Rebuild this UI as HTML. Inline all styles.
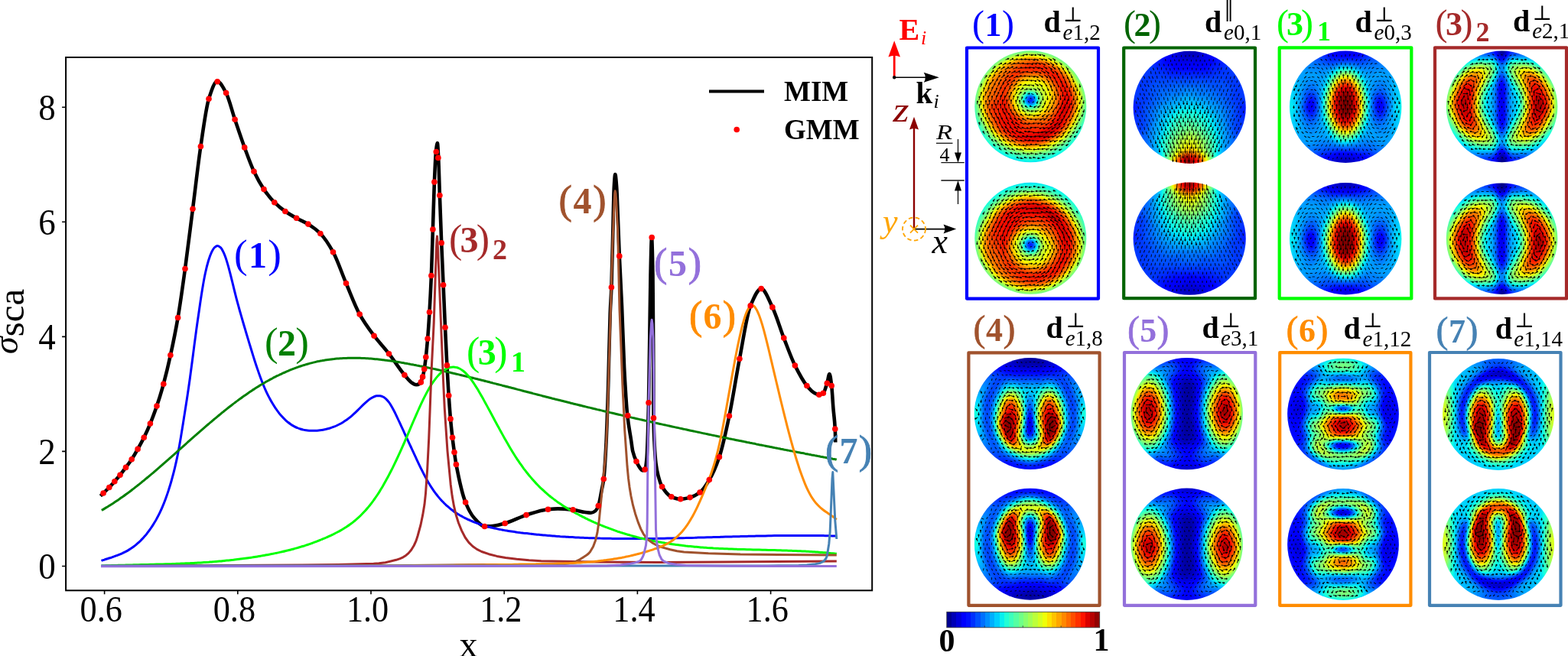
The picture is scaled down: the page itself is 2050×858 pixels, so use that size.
<!DOCTYPE html>
<html><head><meta charset="utf-8"><style>
html,body{margin:0;padding:0;background:#fff;}
svg{display:block;}
text{font-family:"Liberation Serif", "DejaVu Serif", serif;}
</style></head><body>
<svg width="2050" height="858" viewBox="0 0 2050 858">
<defs><filter id="jet" x="-5%" y="-5%" width="110%" height="110%" color-interpolation-filters="sRGB"><feGaussianBlur stdDeviation="0.500"/><feComponentTransfer><feFuncR type="table" tableValues="0 0 0 0 0 0 0 0 0 0 0 0 0 0 0 0.081 0.161 0.242 0.323 0.403 0.484 0.565 0.645 0.726 0.806 0.887 0.968 1 1 1 1 1 1 1 1 1 0.955 0.841 0.727 0.614 0.5"/><feFuncG type="table" tableValues="0 0 0 0 0 0 0.1 0.2 0.3 0.4 0.5 0.6 0.7 0.8 0.9 1 1 1 1 1 1 1 1 1 1 1 0.963 0.87 0.778 0.685 0.593 0.5 0.407 0.315 0.222 0.13 0.037 0 0 0 0"/><feFuncB type="table" tableValues="0.5 0.614 0.727 0.841 0.955 1 1 1 1 1 1 1 1 1 0.968 0.887 0.806 0.726 0.645 0.565 0.484 0.403 0.323 0.242 0.161 0.081 0 0 0 0 0 0 0 0 0 0 0 0 0 0 0"/><feFuncA type="table" tableValues="1 1"/></feComponentTransfer></filter><linearGradient id="cbg" x1="0" x2="1" y1="0" y2="0"><stop offset="0.0000" stop-color="#000092"/><stop offset="0.0312" stop-color="#000092"/><stop offset="0.0312" stop-color="#0000b6"/><stop offset="0.0625" stop-color="#0000b6"/><stop offset="0.0625" stop-color="#0000da"/><stop offset="0.0938" stop-color="#0000da"/><stop offset="0.0938" stop-color="#0000fe"/><stop offset="0.1250" stop-color="#0000fe"/><stop offset="0.1250" stop-color="#0010ff"/><stop offset="0.1562" stop-color="#0010ff"/><stop offset="0.1562" stop-color="#0030ff"/><stop offset="0.1875" stop-color="#0030ff"/><stop offset="0.1875" stop-color="#0050ff"/><stop offset="0.2188" stop-color="#0050ff"/><stop offset="0.2188" stop-color="#0070ff"/><stop offset="0.2500" stop-color="#0070ff"/><stop offset="0.2500" stop-color="#008fff"/><stop offset="0.2812" stop-color="#008fff"/><stop offset="0.2812" stop-color="#00afff"/><stop offset="0.3125" stop-color="#00afff"/><stop offset="0.3125" stop-color="#00cfff"/><stop offset="0.3438" stop-color="#00cfff"/><stop offset="0.3438" stop-color="#08efef"/><stop offset="0.3750" stop-color="#08efef"/><stop offset="0.3750" stop-color="#21ffd5"/><stop offset="0.4062" stop-color="#21ffd5"/><stop offset="0.4062" stop-color="#3bffbc"/><stop offset="0.4375" stop-color="#3bffbc"/><stop offset="0.4375" stop-color="#55ffa2"/><stop offset="0.4688" stop-color="#55ffa2"/><stop offset="0.4688" stop-color="#6fff88"/><stop offset="0.5000" stop-color="#6fff88"/><stop offset="0.5000" stop-color="#88ff6f"/><stop offset="0.5312" stop-color="#88ff6f"/><stop offset="0.5312" stop-color="#a2ff55"/><stop offset="0.5625" stop-color="#a2ff55"/><stop offset="0.5625" stop-color="#bcff3b"/><stop offset="0.5938" stop-color="#bcff3b"/><stop offset="0.5938" stop-color="#d5ff21"/><stop offset="0.6250" stop-color="#d5ff21"/><stop offset="0.6250" stop-color="#effe08"/><stop offset="0.6562" stop-color="#effe08"/><stop offset="0.6562" stop-color="#ffe100"/><stop offset="0.6875" stop-color="#ffe100"/><stop offset="0.6875" stop-color="#ffc300"/><stop offset="0.7188" stop-color="#ffc300"/><stop offset="0.7188" stop-color="#ffa600"/><stop offset="0.7500" stop-color="#ffa600"/><stop offset="0.7500" stop-color="#ff8800"/><stop offset="0.7812" stop-color="#ff8800"/><stop offset="0.7812" stop-color="#ff6b00"/><stop offset="0.8125" stop-color="#ff6b00"/><stop offset="0.8125" stop-color="#ff4d00"/><stop offset="0.8438" stop-color="#ff4d00"/><stop offset="0.8438" stop-color="#ff3000"/><stop offset="0.8750" stop-color="#ff3000"/><stop offset="0.8750" stop-color="#fe1200"/><stop offset="0.9062" stop-color="#fe1200"/><stop offset="0.9062" stop-color="#da0000"/><stop offset="0.9375" stop-color="#da0000"/><stop offset="0.9375" stop-color="#b60000"/><stop offset="0.9688" stop-color="#b60000"/><stop offset="0.9688" stop-color="#920000"/><stop offset="1.0000" stop-color="#920000"/></linearGradient></defs>
<rect width="2050" height="858" fill="#fff"/>
<rect x="86.1" y="75.0" width="1054.1" height="697.3" fill="none" stroke="#000" stroke-width="2"/>
<text x="132.2" y="813.3" text-anchor="middle" font-size="48" textLength="55.3" lengthAdjust="spacingAndGlyphs">0.6</text>
<text x="306.4" y="813.3" text-anchor="middle" font-size="48" textLength="55.3" lengthAdjust="spacingAndGlyphs">0.8</text>
<text x="480.6" y="813.3" text-anchor="middle" font-size="48" textLength="55.3" lengthAdjust="spacingAndGlyphs">1.0</text>
<text x="654.8" y="813.3" text-anchor="middle" font-size="48" textLength="55.3" lengthAdjust="spacingAndGlyphs">1.2</text>
<text x="829.0" y="813.3" text-anchor="middle" font-size="48" textLength="55.3" lengthAdjust="spacingAndGlyphs">1.4</text>
<text x="1003.2" y="813.3" text-anchor="middle" font-size="48" textLength="55.3" lengthAdjust="spacingAndGlyphs">1.6</text>
<text x="61.5" y="757.1" text-anchor="middle" font-size="48" textLength="22.5" lengthAdjust="spacingAndGlyphs">0</text>
<text x="61.5" y="607.0" text-anchor="middle" font-size="48" textLength="22.5" lengthAdjust="spacingAndGlyphs">2</text>
<text x="61.5" y="457.0" text-anchor="middle" font-size="48" textLength="22.5" lengthAdjust="spacingAndGlyphs">4</text>
<text x="61.5" y="306.9" text-anchor="middle" font-size="48" textLength="22.5" lengthAdjust="spacingAndGlyphs">6</text>
<text x="61.5" y="156.9" text-anchor="middle" font-size="48" textLength="22.5" lengthAdjust="spacingAndGlyphs">8</text>
<path d="M136.6 772.3v5M310.8 772.3v5M485.0 772.3v5M659.2 772.3v5M833.4 772.3v5M1007.6 772.3v5M86.1 740.5h-5M86.1 590.4h-5M86.1 440.4h-5M86.1 290.3h-5M86.1 140.3h-5" stroke="#000" stroke-width="1.6" fill="none"/>
<text x="612.5" y="859" text-anchor="middle" font-size="48">x</text>
<text transform="translate(22.5 463) rotate(-90)" font-size="46"><tspan font-style="italic">σ</tspan><tspan dy="8" font-size="49">sca</tspan></text>
<path d="M131.4 648.6C132.6 647.4 133.9 646.2 135.1 645.0C137.7 642.5 140.2 640.2 142.8 637.5C145.1 635.1 147.5 632.4 149.8 629.7C152.2 626.9 154.6 624.2 157.0 621.2C159.5 618.1 162.0 614.8 164.5 611.4C167.1 607.9 169.6 604.6 172.2 600.7C174.8 596.7 177.5 592.1 180.1 587.4C182.8 582.6 185.5 577.8 188.2 572.3C190.9 566.8 193.7 560.7 196.4 554.1C199.3 547.2 202.1 539.5 205.0 531.1C207.9 522.5 210.9 512.9 213.8 502.2C216.8 491.1 219.9 478.4 222.9 464.6C226.1 449.9 229.4 434.3 232.6 415.5C235.7 397.3 238.9 374.3 242.0 351.5C245.3 327.2 248.7 299.3 252.0 273.2C255.5 246.0 258.9 214.8 262.4 191.5C265.9 167.7 269.5 140.1 273.0 129.2C276.7 117.9 280.3 106.3 284.0 106.3C287.9 106.3 291.7 114.5 295.6 121.6C299.4 128.6 303.3 145.0 307.1 156.3C311.3 168.7 315.5 181.5 319.7 192.9C323.8 204.0 327.9 215.7 332.0 224.3C336.3 233.4 340.7 241.2 345.0 247.6C349.6 254.4 354.2 260.1 358.8 264.7C363.5 269.4 368.2 273.2 372.9 276.5C377.8 279.9 382.7 282.6 387.6 285.3C392.7 288.1 397.8 290.0 402.9 293.1C408.2 296.4 413.6 300.1 418.9 305.5C424.4 311.1 430.0 319.7 435.5 329.7C441.2 340.0 446.8 357.2 452.5 370.5C458.4 384.3 464.3 400.4 470.2 411.1C476.5 422.5 482.8 430.8 489.1 439.2C495.6 447.8 502.0 454.4 508.5 462.7C515.3 471.4 522.1 482.4 528.9 490.5C531.9 494.1 535.0 498.3 538.0 500.3C540.0 501.6 542.1 503.3 544.1 503.3C545.7 503.3 547.4 502.6 549.0 501.5C550.2 500.7 551.4 496.8 552.6 492.9C553.3 490.6 554.0 486.9 554.7 482.8C555.4 478.7 556.1 473.1 556.8 467.0C557.6 460.3 558.3 452.4 559.1 443.1C559.9 433.4 560.7 421.7 561.5 408.3C562.3 394.9 563.1 379.8 563.9 360.5C564.6 344.4 565.2 320.4 565.9 300.0C566.6 279.6 567.2 253.9 567.9 238.1C568.6 221.5 569.3 204.2 570.0 198.0C570.6 192.4 571.3 187.0 571.9 187.0C572.3 187.0 572.8 198.0 573.2 206.4C573.8 217.4 574.3 239.6 574.9 255.5C575.7 277.0 576.4 298.8 577.2 317.8C578.0 337.7 578.8 354.4 579.6 372.8C580.4 391.2 581.2 410.8 582.0 428.3C582.8 445.8 583.6 462.9 584.4 477.9C585.2 492.3 585.9 505.8 586.7 517.3C587.5 528.8 588.2 539.2 589.0 547.9C589.8 557.3 590.7 565.1 591.5 572.3C592.3 579.5 593.2 585.7 594.0 591.6C594.8 597.3 595.6 603.2 596.4 607.5C600.5 629.1 604.5 646.9 608.6 657.0C612.4 666.4 616.2 673.3 620.0 677.5C624.5 682.6 629.1 688.3 633.6 688.3C636.1 688.3 638.5 688.3 641.0 688.3C647.4 688.3 653.8 686.1 660.2 684.5C669.5 682.1 678.8 676.5 688.1 673.6C697.6 670.6 707.0 667.1 716.5 666.2C720.8 665.8 725.0 665.4 729.3 665.4C735.9 665.4 742.5 666.1 749.1 666.8C754.4 667.4 759.7 669.3 765.0 670.0C767.5 670.3 770.0 670.8 772.5 670.8C774.3 670.8 776.2 669.8 778.0 668.5C779.4 667.5 780.9 665.0 782.3 661.5C783.7 658.1 785.1 648.7 786.5 641.6C787.4 636.9 788.4 633.8 789.3 626.5C790.3 618.7 791.3 602.2 792.3 583.3C793.3 565.0 794.2 534.6 795.2 503.9C796.0 477.4 796.9 431.5 797.7 410.0C798.3 395.4 798.8 390.6 799.4 375.7C800.1 356.5 800.9 318.0 801.6 290.0C802.0 274.7 802.4 252.1 802.8 245.0C803.3 236.1 803.8 228.0 804.3 228.0C804.9 228.0 805.6 236.7 806.2 245.0C806.7 251.6 807.2 267.7 807.7 280.0C808.4 297.2 809.1 318.7 809.8 334.9C810.9 359.5 811.9 375.7 813.0 400.0C814.0 423.5 815.1 460.0 816.1 480.0C817.5 507.1 818.9 530.5 820.3 543.6C821.9 558.2 823.4 564.6 825.0 575.0C825.8 580.1 826.5 587.1 827.3 590.3C828.9 596.8 830.4 600.2 832.0 603.6C833.7 607.3 835.3 610.5 837.0 612.5C838.0 613.8 839.1 615.5 840.1 615.5C841.1 615.5 842.1 615.0 843.1 614.1C843.9 613.4 844.7 607.9 845.5 600.0C846.0 595.1 846.5 579.7 847.0 565.0C847.3 555.2 847.7 542.6 848.0 526.8C848.4 507.8 848.8 476.6 849.2 450.0C849.6 421.2 850.1 379.4 850.5 360.0C851.0 337.6 851.5 311.0 852.0 311.0C852.5 311.0 853.0 331.9 853.5 360.0C853.7 373.1 854.0 404.5 854.2 450.0C854.3 469.5 854.4 540.2 854.5 546.8C854.9 570.8 855.2 572.9 855.6 580.0C856.2 592.3 856.9 601.0 857.5 606.0C858.5 613.9 859.5 618.2 860.5 622.0C862.2 628.5 863.9 633.6 865.6 636.5C869.7 643.3 873.7 648.1 877.8 649.8C881.8 651.4 885.7 652.8 889.7 652.8C893.8 652.8 898.0 651.7 902.1 650.6C906.4 649.5 910.7 647.2 915.0 644.0C919.1 641.0 923.2 634.5 927.3 627.6C931.7 620.3 936.0 610.5 940.4 597.7C944.7 585.0 949.1 564.5 953.4 544.0C957.9 522.7 962.4 492.5 966.9 469.2C971.7 444.5 976.4 411.3 981.2 399.9C985.9 388.7 990.5 377.6 995.2 377.6C1000.1 377.6 1005.0 391.9 1009.9 401.9C1014.9 412.1 1019.8 429.3 1024.8 442.1C1029.7 454.6 1034.5 468.3 1039.4 478.1C1044.6 488.5 1049.7 498.2 1054.9 504.5C1057.9 508.2 1061.0 511.8 1064.0 513.5C1066.3 514.8 1068.6 516.3 1070.9 516.3C1072.7 516.3 1074.5 515.4 1076.3 514.2C1078.0 513.1 1079.6 506.4 1081.3 501.2C1082.4 497.9 1083.4 489.0 1084.5 489.0C1085.4 489.0 1086.3 497.2 1087.2 504.5C1088.0 510.7 1088.7 525.6 1089.5 535.0C1090.3 544.4 1091.0 546.4 1091.8 561.1C1092.0 564.3 1092.1 572.7 1092.3 578.5" fill="none" stroke="#000" stroke-width="4.6" stroke-linejoin="round"/>
<path d="M132.5 733.4C133.8 732.9 135.2 732.5 136.5 732.1C137.8 731.6 139.2 731.2 140.5 730.8C141.8 730.3 143.2 729.9 144.5 729.5C145.8 729.0 147.2 728.6 148.5 728.1C149.8 727.7 151.2 727.2 152.5 726.7C153.8 726.2 155.2 725.7 156.5 725.1C157.8 724.6 159.2 724.0 160.5 723.4C161.8 722.7 163.2 722.1 164.5 721.4C165.8 720.7 167.2 719.9 168.5 719.1C169.8 718.3 171.2 717.4 172.5 716.5C173.8 715.6 175.2 714.6 176.5 713.6C177.8 712.5 179.2 711.4 180.5 710.2C181.8 709.0 183.2 707.8 184.5 706.4C185.8 705.1 187.2 703.7 188.5 702.1C189.8 700.6 191.2 699.0 192.5 697.3C193.8 695.6 195.2 693.8 196.5 691.9C197.8 690.0 199.2 688.0 200.5 685.9C201.8 683.7 203.2 681.5 204.5 679.1C205.8 676.7 207.2 674.2 208.5 671.4C209.8 668.7 211.2 665.8 212.5 662.6C213.8 659.5 215.2 656.1 216.5 652.5C217.8 648.9 219.2 645.0 220.5 640.9C221.8 636.7 223.2 632.3 224.5 627.5C225.8 622.8 227.2 617.8 228.5 612.2C229.8 606.6 231.2 600.6 232.5 593.9C233.8 587.1 235.2 579.2 236.5 571.4C237.8 563.5 239.2 554.9 240.5 546.6C241.8 538.2 243.2 529.9 244.5 521.1C245.8 512.3 247.2 503.1 248.5 493.5C249.8 483.8 251.2 473.3 252.5 463.2C253.8 453.1 255.2 442.6 256.5 432.9C257.8 423.2 259.2 414.1 260.5 405.0C261.8 396.0 263.2 386.5 264.5 378.6C265.8 370.6 267.2 362.8 268.5 356.8C269.8 350.7 271.2 345.3 272.5 341.0C273.8 336.7 275.2 332.8 276.5 330.1C277.8 327.4 279.2 324.6 280.5 323.6C281.8 322.5 283.2 321.5 284.5 321.5C285.8 321.5 287.2 322.7 288.5 323.9C289.8 325.1 291.2 327.9 292.5 330.7C293.8 333.5 295.2 337.5 296.5 341.6C297.8 345.7 299.2 350.8 300.5 355.8C301.8 360.8 303.2 366.6 304.5 371.9C305.8 377.3 307.2 382.9 308.5 388.1C309.8 393.2 311.2 398.2 312.5 403.0C313.8 407.8 315.2 412.4 316.5 417.0C317.8 421.7 319.2 426.2 320.5 430.7C321.8 435.2 323.2 439.7 324.5 444.1C325.8 448.6 327.2 453.0 328.5 457.3C329.8 461.7 331.2 466.0 332.5 470.2C333.8 474.3 335.2 478.5 336.5 482.4C337.8 486.3 339.2 490.2 340.5 493.8C341.8 497.4 343.2 500.8 344.5 504.0C345.8 507.2 347.2 510.3 348.5 513.1C349.8 515.9 351.2 518.5 352.5 521.0C353.8 523.5 355.2 525.9 356.5 528.1C357.8 530.3 359.2 532.4 360.5 534.3C361.8 536.3 363.2 538.1 364.5 539.8C365.8 541.5 367.2 543.1 368.5 544.6C369.8 546.1 371.2 547.5 372.5 548.7C373.8 550.0 375.2 551.2 376.5 552.3C377.8 553.3 379.2 554.3 380.5 555.2C381.8 556.1 383.2 556.9 384.5 557.6C385.8 558.3 387.2 559.0 388.5 559.5C389.8 560.1 391.2 560.6 392.5 561.0C393.8 561.4 395.2 561.8 396.5 562.1C397.8 562.4 399.2 562.6 400.5 562.8C401.8 563.0 403.2 563.1 404.5 563.2C405.8 563.3 407.2 563.3 408.5 563.3C409.8 563.3 411.2 563.3 412.5 563.2C413.8 563.2 415.2 563.1 416.5 562.9C417.8 562.8 419.2 562.6 420.5 562.4C421.8 562.3 423.2 562.0 424.5 561.7C425.8 561.5 427.2 561.2 428.5 560.8C429.8 560.5 431.2 560.1 432.5 559.6C433.8 559.2 435.2 558.7 436.5 558.2C437.8 557.7 439.2 557.1 440.5 556.5C441.8 555.9 443.2 555.2 444.5 554.5C445.8 553.8 447.2 553.0 448.5 552.2C449.8 551.4 451.2 550.5 452.5 549.6C453.8 548.6 455.2 547.7 456.5 546.6C457.8 545.6 459.2 544.5 460.5 543.3C461.8 542.2 463.2 540.9 464.5 539.7C465.8 538.4 467.2 537.1 468.5 535.7C469.8 534.4 471.2 533.0 472.5 531.7C473.8 530.4 475.2 529.1 476.5 527.9C477.8 526.6 479.2 525.4 480.5 524.3C481.8 523.2 483.2 522.2 484.5 521.3C485.8 520.5 487.2 519.6 488.5 519.1C489.8 518.6 491.2 517.9 492.5 517.8C493.8 517.7 495.2 517.7 496.5 517.7C497.8 517.7 499.2 518.3 500.5 518.9C501.8 519.4 503.2 520.5 504.5 521.6C505.8 522.8 507.2 524.4 508.5 526.1C509.8 527.8 511.2 530.1 512.5 532.4C513.8 534.7 515.2 537.4 516.5 540.0C517.8 542.7 519.2 545.6 520.5 548.5C521.8 551.3 523.2 554.2 524.5 557.1C525.8 560.0 527.2 562.9 528.5 565.8C529.8 568.6 531.2 571.5 532.5 574.4C533.8 577.3 535.2 580.2 536.5 583.0C537.8 585.9 539.2 588.8 540.5 591.7C541.8 594.5 543.2 597.4 544.5 600.3C545.8 603.1 547.2 606.0 548.5 608.8C549.8 611.5 551.2 614.3 552.5 616.9C553.8 619.6 555.2 622.2 556.5 624.6C557.8 627.1 559.2 629.5 560.5 631.7C561.8 633.9 563.2 636.1 564.5 638.1C565.8 640.1 567.2 642.0 568.5 643.9C569.8 645.7 571.2 647.4 572.5 649.1C573.8 650.7 575.2 652.3 576.5 653.7C577.8 655.2 579.2 656.6 580.5 658.0C581.8 659.3 583.2 660.5 584.5 661.7C585.8 662.9 587.2 664.1 588.5 665.1C589.8 666.2 591.2 667.2 592.5 668.2C593.8 669.2 595.2 670.1 596.5 671.0C597.8 671.8 599.2 672.7 600.5 673.5C601.8 674.3 603.2 675.0 604.5 675.7C605.8 676.5 607.2 677.2 608.5 677.8C609.8 678.5 611.2 679.1 612.5 679.7C613.8 680.3 615.2 680.9 616.5 681.5C617.8 682.0 619.2 682.6 620.5 683.1C621.8 683.6 623.2 684.1 624.5 684.6C625.8 685.1 627.2 685.5 628.5 686.0C629.8 686.4 631.2 686.8 632.5 687.2C633.8 687.6 635.2 688.0 636.5 688.4C637.8 688.8 639.2 689.2 640.5 689.5C641.8 689.9 643.2 690.2 644.5 690.5C645.8 690.8 647.2 691.1 648.5 691.4C649.8 691.7 651.2 692.0 652.5 692.3C653.8 692.5 655.2 692.8 656.5 693.0C657.8 693.3 659.2 693.5 660.5 693.8C661.8 694.0 663.2 694.2 664.5 694.4C665.8 694.6 667.2 694.8 668.5 695.0C669.8 695.2 671.2 695.4 672.5 695.6C673.8 695.8 675.2 696.0 676.5 696.2C677.8 696.3 679.2 696.5 680.5 696.7C681.8 696.8 683.2 697.0 684.5 697.2C685.8 697.3 687.2 697.5 688.5 697.6C689.8 697.8 691.2 697.9 692.5 698.1C693.8 698.2 695.2 698.4 696.5 698.5C697.8 698.7 699.2 698.8 700.5 698.9C701.8 699.1 703.2 699.2 704.5 699.3C705.8 699.5 707.2 699.6 708.5 699.7C709.8 699.8 711.2 700.0 712.5 700.1C713.8 700.2 715.2 700.3 716.5 700.4C717.8 700.5 719.2 700.7 720.5 700.8C721.8 700.9 723.2 701.0 724.5 701.1C725.8 701.2 727.2 701.3 728.5 701.4C729.8 701.5 731.2 701.6 732.5 701.7C733.8 701.7 735.2 701.8 736.5 701.9C737.8 702.0 739.2 702.1 740.5 702.2C741.8 702.3 743.2 702.3 744.5 702.4C745.8 702.5 747.2 702.6 748.5 702.6C749.8 702.7 751.2 702.8 752.5 702.9C753.8 702.9 755.2 703.0 756.5 703.0C757.8 703.1 759.2 703.2 760.5 703.2C761.8 703.3 763.2 703.3 764.5 703.4C765.8 703.5 767.2 703.5 768.5 703.6C769.8 703.6 771.2 703.7 772.5 703.7C773.8 703.7 775.2 703.8 776.5 703.8C777.8 703.9 779.2 703.9 780.5 704.0C781.8 704.0 783.2 704.0 784.5 704.1C785.8 704.1 787.2 704.1 788.5 704.2C789.8 704.2 791.2 704.2 792.5 704.2C793.8 704.3 795.2 704.3 796.5 704.3C797.8 704.3 799.2 704.4 800.5 704.4C801.8 704.4 803.2 704.4 804.5 704.4C805.8 704.5 807.2 704.5 808.5 704.5C809.8 704.5 811.2 704.5 812.5 704.5C813.8 704.5 815.2 704.5 816.5 704.5C817.8 704.5 819.2 704.6 820.5 704.6C821.8 704.6 823.2 704.6 824.5 704.6C825.8 704.6 827.2 704.6 828.5 704.6C829.8 704.6 831.2 704.6 832.5 704.6C833.8 704.6 835.2 704.5 836.5 704.5C837.8 704.5 839.2 704.5 840.5 704.5C841.8 704.5 843.2 704.5 844.5 704.5C845.8 704.5 847.2 704.5 848.5 704.4C849.8 704.4 851.2 704.4 852.5 704.4C853.8 704.4 855.2 704.4 856.5 704.4C857.8 704.3 859.2 704.3 860.5 704.3C861.8 704.3 863.2 704.3 864.5 704.2C865.8 704.2 867.2 704.2 868.5 704.2C869.8 704.1 871.2 704.1 872.5 704.1C873.8 704.1 875.2 704.0 876.5 704.0C877.8 704.0 879.2 704.0 880.5 703.9C881.8 703.9 883.2 703.9 884.5 703.8C885.8 703.8 887.2 703.8 888.5 703.8C889.8 703.7 891.2 703.7 892.5 703.7C893.8 703.6 895.2 703.6 896.5 703.6C897.8 703.5 899.2 703.5 900.5 703.5C901.8 703.4 903.2 703.4 904.5 703.4C905.8 703.3 907.2 703.3 908.5 703.3C909.8 703.2 911.2 703.2 912.5 703.1C913.8 703.1 915.2 703.1 916.5 703.0C917.8 703.0 919.2 703.0 920.5 702.9C921.8 702.9 923.2 702.9 924.5 702.8C925.8 702.8 927.2 702.7 928.5 702.7C929.8 702.7 931.2 702.6 932.5 702.6C933.8 702.6 935.2 702.5 936.5 702.5C937.8 702.4 939.2 702.4 940.5 702.4C941.8 702.3 943.2 702.3 944.5 702.2C945.8 702.2 947.2 702.2 948.5 702.1C949.8 702.1 951.2 702.1 952.5 702.0C953.8 702.0 955.2 701.9 956.5 701.9C957.8 701.9 959.2 701.8 960.5 701.8C961.8 701.8 963.2 701.7 964.5 701.7C965.8 701.7 967.2 701.6 968.5 701.6C969.8 701.6 971.2 701.5 972.5 701.5C973.8 701.5 975.2 701.4 976.5 701.4C977.8 701.4 979.2 701.3 980.5 701.3C981.8 701.3 983.2 701.2 984.5 701.2C985.8 701.2 987.2 701.1 988.5 701.1C989.8 701.1 991.2 701.0 992.5 701.0C993.8 701.0 995.2 701.0 996.5 700.9C997.8 700.9 999.2 700.9 1000.5 700.9C1001.8 700.8 1003.2 700.8 1004.5 700.8C1005.8 700.8 1007.2 700.7 1008.5 700.7C1009.8 700.7 1011.2 700.7 1012.5 700.6C1013.8 700.6 1015.2 700.6 1016.5 700.6C1017.8 700.6 1019.2 700.6 1020.5 700.5C1021.8 700.5 1023.2 700.5 1024.5 700.5C1025.8 700.5 1027.2 700.5 1028.5 700.5C1029.8 700.4 1031.2 700.4 1032.5 700.4C1033.8 700.4 1035.2 700.4 1036.5 700.4C1037.8 700.4 1039.2 700.4 1040.5 700.4C1041.8 700.4 1043.2 700.4 1044.5 700.4C1045.8 700.4 1047.2 700.4 1048.5 700.4C1049.8 700.4 1051.2 700.4 1052.5 700.4C1053.8 700.4 1055.2 700.4 1056.5 700.4C1057.8 700.4 1059.2 700.4 1060.5 700.4C1061.8 700.4 1063.2 700.4 1064.5 700.5C1065.8 700.5 1067.2 700.5 1068.5 700.5C1069.8 700.5 1071.2 700.5 1072.5 700.6C1073.8 700.6 1075.2 700.6 1076.5 700.6C1077.8 700.6 1079.2 700.7 1080.5 700.7C1081.8 700.7 1083.2 700.7 1084.5 700.8C1085.8 700.8 1087.2 700.8 1088.5 700.9C1089.8 700.9 1091.2 700.9 1092.5 701.0C1092.9 701.0 1093.4 701.0 1093.8 701.0" fill="none" stroke="#0000ff" stroke-width="3" stroke-linejoin="round"/>
<path d="M132.8 667.4C134.1 666.7 135.5 665.9 136.8 665.1C138.1 664.3 139.5 663.5 140.8 662.7C142.1 661.9 143.5 661.1 144.8 660.2C146.1 659.4 147.5 658.5 148.8 657.7C150.1 656.8 151.5 655.9 152.8 655.0C154.1 654.1 155.5 653.2 156.8 652.3C158.1 651.3 159.5 650.4 160.8 649.4C162.1 648.5 163.5 647.5 164.8 646.5C166.1 645.6 167.5 644.6 168.8 643.6C170.1 642.6 171.5 641.6 172.8 640.5C174.1 639.5 175.5 638.5 176.8 637.4C178.1 636.4 179.5 635.3 180.8 634.3C182.1 633.2 183.5 632.1 184.8 631.1C186.1 630.0 187.5 628.9 188.8 627.8C190.1 626.7 191.5 625.6 192.8 624.5C194.1 623.4 195.5 622.3 196.8 621.2C198.1 620.0 199.5 618.9 200.8 617.8C202.1 616.6 203.5 615.5 204.8 614.3C206.1 613.2 207.5 612.0 208.8 610.9C210.1 609.7 211.5 608.6 212.8 607.4C214.1 606.2 215.5 605.1 216.8 603.9C218.1 602.7 219.5 601.5 220.8 600.4C222.1 599.2 223.5 598.0 224.8 596.8C226.1 595.6 227.5 594.5 228.8 593.3C230.1 592.1 231.5 590.9 232.8 589.7C234.1 588.5 235.5 587.3 236.8 586.1C238.1 584.9 239.5 583.8 240.8 582.6C242.1 581.4 243.5 580.2 244.8 579.0C246.1 577.8 247.5 576.6 248.8 575.4C250.1 574.3 251.5 573.1 252.8 571.9C254.1 570.7 255.5 569.5 256.8 568.4C258.1 567.2 259.5 566.0 260.8 564.8C262.1 563.7 263.5 562.5 264.8 561.4C266.1 560.2 267.5 559.0 268.8 557.9C270.1 556.7 271.5 555.6 272.8 554.5C274.1 553.3 275.5 552.2 276.8 551.1C278.1 549.9 279.5 548.8 280.8 547.7C282.1 546.6 283.5 545.5 284.8 544.4C286.1 543.3 287.5 542.2 288.8 541.1C290.1 540.0 291.5 538.9 292.8 537.8C294.1 536.8 295.5 535.7 296.8 534.6C298.1 533.6 299.5 532.5 300.8 531.5C302.1 530.5 303.5 529.4 304.8 528.4C306.1 527.4 307.5 526.4 308.8 525.4C310.1 524.4 311.5 523.4 312.8 522.4C314.1 521.4 315.5 520.5 316.8 519.5C318.1 518.6 319.5 517.6 320.8 516.7C322.1 515.7 323.5 514.8 324.8 513.9C326.1 513.0 327.5 512.1 328.8 511.2C330.1 510.3 331.5 509.4 332.8 508.6C334.1 507.7 335.5 506.9 336.8 506.0C338.1 505.2 339.5 504.4 340.8 503.5C342.1 502.7 343.5 501.9 344.8 501.2C346.1 500.4 347.5 499.6 348.8 498.8C350.1 498.1 351.5 497.3 352.8 496.6C354.1 495.9 355.5 495.2 356.8 494.5C358.1 493.8 359.5 493.1 360.8 492.4C362.1 491.8 363.5 491.1 364.8 490.5C366.1 489.8 367.5 489.2 368.8 488.6C370.1 488.0 371.5 487.4 372.8 486.8C374.1 486.2 375.5 485.6 376.8 485.1C378.1 484.5 379.5 483.9 380.8 483.4C382.1 482.9 383.5 482.4 384.8 481.9C386.1 481.4 387.5 480.9 388.8 480.4C390.1 479.9 391.5 479.5 392.8 479.0C394.1 478.6 395.5 478.2 396.8 477.7C398.1 477.3 399.5 476.9 400.8 476.5C402.1 476.1 403.5 475.8 404.8 475.4C406.1 475.1 407.5 474.7 408.8 474.4C410.1 474.1 411.5 473.7 412.8 473.4C414.1 473.1 415.5 472.8 416.8 472.6C418.1 472.3 419.5 472.0 420.8 471.8C422.1 471.5 423.5 471.3 424.8 471.1C426.1 470.9 427.5 470.7 428.8 470.5C430.1 470.3 431.5 470.1 432.8 469.9C434.1 469.8 435.5 469.6 436.8 469.5C438.1 469.3 439.5 469.2 440.8 469.1C442.1 469.0 443.5 468.9 444.8 468.8C446.1 468.7 447.5 468.6 448.8 468.5C450.1 468.5 451.5 468.4 452.8 468.4C454.1 468.3 455.5 468.3 456.8 468.2C458.1 468.2 459.5 468.2 460.8 468.2C462.1 468.2 463.5 468.2 464.8 468.2C466.1 468.2 467.5 468.3 468.8 468.3C470.1 468.3 471.5 468.4 472.8 468.4C474.1 468.5 475.5 468.5 476.8 468.6C478.1 468.7 479.5 468.7 480.8 468.8C482.1 468.9 483.5 469.0 484.8 469.1C486.1 469.2 487.5 469.3 488.8 469.4C490.1 469.6 491.5 469.7 492.8 469.8C494.1 469.9 495.5 470.1 496.8 470.2C498.1 470.4 499.5 470.5 500.8 470.7C502.1 470.9 503.5 471.0 504.8 471.2C506.1 471.4 507.5 471.5 508.8 471.7C510.1 471.9 511.5 472.1 512.8 472.3C514.1 472.5 515.5 472.7 516.8 472.9C518.1 473.1 519.5 473.3 520.8 473.5C522.1 473.8 523.5 474.0 524.8 474.2C526.1 474.4 527.5 474.7 528.8 474.9C530.1 475.1 531.5 475.4 532.8 475.6C534.1 475.9 535.5 476.1 536.8 476.4C538.1 476.6 539.5 476.9 540.8 477.1C542.1 477.4 543.5 477.6 544.8 477.9C546.1 478.1 547.5 478.4 548.8 478.7C550.1 478.9 551.5 479.2 552.8 479.5C554.1 479.7 555.5 480.0 556.8 480.3C558.1 480.6 559.5 480.8 560.8 481.1C562.1 481.4 563.5 481.7 564.8 482.0C566.1 482.3 567.5 482.5 568.8 482.8C570.1 483.1 571.5 483.4 572.8 483.7C574.1 484.0 575.5 484.3 576.8 484.6C578.1 484.9 579.5 485.2 580.8 485.5C582.1 485.8 583.5 486.1 584.8 486.4C586.1 486.7 587.5 487.0 588.8 487.3C590.1 487.6 591.5 487.9 592.8 488.3C594.1 488.6 595.5 488.9 596.8 489.2C598.1 489.5 599.5 489.8 600.8 490.1C602.1 490.5 603.5 490.8 604.8 491.1C606.1 491.4 607.5 491.7 608.8 492.1C610.1 492.4 611.5 492.7 612.8 493.0C614.1 493.4 615.5 493.7 616.8 494.0C618.1 494.4 619.5 494.7 620.8 495.0C622.1 495.3 623.5 495.7 624.8 496.0C626.1 496.3 627.5 496.7 628.8 497.0C630.1 497.3 631.5 497.7 632.8 498.0C634.1 498.4 635.5 498.7 636.8 499.0C638.1 499.4 639.5 499.7 640.8 500.1C642.1 500.4 643.5 500.7 644.8 501.1C646.1 501.4 647.5 501.8 648.8 502.1C650.1 502.5 651.5 502.8 652.8 503.1C654.1 503.5 655.5 503.8 656.8 504.2C658.1 504.5 659.5 504.9 660.8 505.2C662.1 505.6 663.5 505.9 664.8 506.2C666.1 506.6 667.5 506.9 668.8 507.3C670.1 507.6 671.5 508.0 672.8 508.3C674.1 508.7 675.5 509.0 676.8 509.4C678.1 509.7 679.5 510.1 680.8 510.4C682.1 510.8 683.5 511.1 684.8 511.5C686.1 511.8 687.5 512.2 688.8 512.5C690.1 512.8 691.5 513.2 692.8 513.5C694.1 513.9 695.5 514.2 696.8 514.6C698.1 514.9 699.5 515.3 700.8 515.6C702.1 516.0 703.5 516.3 704.8 516.6C706.1 517.0 707.5 517.3 708.8 517.7C710.1 518.0 711.5 518.4 712.8 518.7C714.1 519.0 715.5 519.4 716.8 519.7C718.1 520.1 719.5 520.4 720.8 520.8C722.1 521.1 723.5 521.4 724.8 521.8C726.1 522.1 727.5 522.4 728.8 522.8C730.1 523.1 731.5 523.5 732.8 523.8C734.1 524.1 735.5 524.5 736.8 524.8C738.1 525.1 739.5 525.5 740.8 525.8C742.1 526.1 743.5 526.5 744.8 526.8C746.1 527.1 747.5 527.4 748.8 527.8C750.1 528.1 751.5 528.4 752.8 528.8C754.1 529.1 755.5 529.4 756.8 529.7C758.1 530.1 759.5 530.4 760.8 530.7C762.1 531.0 763.5 531.4 764.8 531.7C766.1 532.0 767.5 532.3 768.8 532.7C770.1 533.0 771.5 533.3 772.8 533.6C774.1 534.0 775.5 534.3 776.8 534.6C778.1 534.9 779.5 535.2 780.8 535.6C782.1 535.9 783.5 536.2 784.8 536.5C786.1 536.8 787.5 537.1 788.8 537.5C790.1 537.8 791.5 538.1 792.8 538.4C794.1 538.7 795.5 539.0 796.8 539.4C798.1 539.7 799.5 540.0 800.8 540.3C802.1 540.6 803.5 540.9 804.8 541.2C806.1 541.5 807.5 541.9 808.8 542.2C810.1 542.5 811.5 542.8 812.8 543.1C814.1 543.4 815.5 543.7 816.8 544.0C818.1 544.3 819.5 544.6 820.8 544.9C822.1 545.2 823.5 545.6 824.8 545.9C826.1 546.2 827.5 546.5 828.8 546.8C830.1 547.1 831.5 547.4 832.8 547.7C834.1 548.0 835.5 548.3 836.8 548.6C838.1 548.9 839.5 549.2 840.8 549.5C842.1 549.8 843.5 550.1 844.8 550.4C846.1 550.7 847.5 551.0 848.8 551.3C850.1 551.6 851.5 551.9 852.8 552.2C854.1 552.5 855.5 552.8 856.8 553.1C858.1 553.4 859.5 553.7 860.8 554.0C862.1 554.3 863.5 554.6 864.8 554.9C866.1 555.2 867.5 555.5 868.8 555.7C870.1 556.0 871.5 556.3 872.8 556.6C874.1 556.9 875.5 557.2 876.8 557.5C878.1 557.8 879.5 558.1 880.8 558.4C882.1 558.7 883.5 559.0 884.8 559.2C886.1 559.5 887.5 559.8 888.8 560.1C890.1 560.4 891.5 560.7 892.8 561.0C894.1 561.3 895.5 561.5 896.8 561.8C898.1 562.1 899.5 562.4 900.8 562.7C902.1 563.0 903.5 563.3 904.8 563.5C906.1 563.8 907.5 564.1 908.8 564.4C910.1 564.7 911.5 565.0 912.8 565.2C914.1 565.5 915.5 565.8 916.8 566.1C918.1 566.4 919.5 566.7 920.8 566.9C922.1 567.2 923.5 567.5 924.8 567.8C926.1 568.1 927.5 568.3 928.8 568.6C930.1 568.9 931.5 569.2 932.8 569.4C934.1 569.7 935.5 570.0 936.8 570.3C938.1 570.6 939.5 570.8 940.8 571.1C942.1 571.4 943.5 571.7 944.8 571.9C946.1 572.2 947.5 572.5 948.8 572.8C950.1 573.0 951.5 573.3 952.8 573.6C954.1 573.9 955.5 574.1 956.8 574.4C958.1 574.7 959.5 574.9 960.8 575.2C962.1 575.5 963.5 575.8 964.8 576.0C966.1 576.3 967.5 576.6 968.8 576.8C970.1 577.1 971.5 577.4 972.8 577.6C974.1 577.9 975.5 578.2 976.8 578.5C978.1 578.7 979.5 579.0 980.8 579.3C982.1 579.5 983.5 579.8 984.8 580.1C986.1 580.3 987.5 580.6 988.8 580.9C990.1 581.1 991.5 581.4 992.8 581.7C994.1 581.9 995.5 582.2 996.8 582.4C998.1 582.7 999.5 583.0 1000.8 583.2C1002.1 583.5 1003.5 583.8 1004.8 584.0C1006.1 584.3 1007.5 584.6 1008.8 584.8C1010.1 585.1 1011.5 585.3 1012.8 585.6C1014.1 585.9 1015.5 586.1 1016.8 586.4C1018.1 586.7 1019.5 586.9 1020.8 587.2C1022.1 587.4 1023.5 587.7 1024.8 588.0C1026.1 588.2 1027.5 588.5 1028.8 588.7C1030.1 589.0 1031.5 589.2 1032.8 589.5C1034.1 589.8 1035.5 590.0 1036.8 590.3C1038.1 590.5 1039.5 590.8 1040.8 591.1C1042.1 591.3 1043.5 591.6 1044.8 591.8C1046.1 592.1 1047.5 592.3 1048.8 592.6C1050.1 592.8 1051.5 593.1 1052.8 593.4C1054.1 593.6 1055.5 593.9 1056.8 594.1C1058.1 594.4 1059.5 594.6 1060.8 594.9C1062.1 595.1 1063.5 595.4 1064.8 595.6C1066.1 595.9 1067.5 596.1 1068.8 596.4C1070.1 596.7 1071.5 596.9 1072.8 597.2C1074.1 597.4 1075.5 597.7 1076.8 597.9C1078.1 598.2 1079.5 598.4 1080.8 598.7C1082.1 598.9 1083.5 599.2 1084.8 599.4C1086.1 599.7 1087.5 599.9 1088.8 600.2C1090.1 600.4 1091.5 600.7 1092.8 600.9C1093.1 601.0 1093.5 601.0 1093.8 601.1" fill="none" stroke="#008000" stroke-width="3" stroke-linejoin="round"/>
<path d="M132.7 740.1C134.0 740.0 135.4 740.0 136.7 739.9C138.0 739.9 139.4 739.8 140.7 739.8C142.0 739.7 143.4 739.7 144.7 739.7C146.0 739.6 147.4 739.6 148.7 739.5C150.0 739.5 151.4 739.5 152.7 739.4C154.0 739.4 155.4 739.3 156.7 739.3C158.0 739.3 159.4 739.2 160.7 739.2C162.0 739.2 163.4 739.1 164.7 739.1C166.0 739.1 167.4 739.0 168.7 739.0C170.0 739.0 171.4 738.9 172.7 738.9C174.0 738.9 175.4 738.8 176.7 738.8C178.0 738.8 179.4 738.8 180.7 738.7C182.0 738.7 183.4 738.7 184.7 738.6C186.0 738.6 187.4 738.6 188.7 738.5C190.0 738.5 191.4 738.5 192.7 738.4C194.0 738.4 195.4 738.4 196.7 738.3C198.0 738.3 199.4 738.3 200.7 738.2C202.0 738.2 203.4 738.2 204.7 738.1C206.0 738.1 207.4 738.1 208.7 738.0C210.0 738.0 211.4 738.0 212.7 737.9C214.0 737.9 215.4 737.9 216.7 737.8C218.0 737.8 219.4 737.7 220.7 737.7C222.0 737.6 223.4 737.6 224.7 737.6C226.0 737.5 227.4 737.5 228.7 737.4C230.0 737.4 231.4 737.3 232.7 737.3C234.0 737.2 235.4 737.2 236.7 737.1C238.0 737.1 239.4 737.0 240.7 736.9C242.0 736.9 243.4 736.8 244.7 736.8C246.0 736.7 247.4 736.6 248.7 736.6C250.0 736.5 251.4 736.4 252.7 736.4C254.0 736.3 255.4 736.2 256.7 736.2C258.0 736.1 259.4 736.0 260.7 735.9C262.0 735.9 263.4 735.8 264.7 735.7C266.0 735.6 267.4 735.5 268.7 735.4C270.0 735.3 271.4 735.2 272.7 735.2C274.0 735.1 275.4 735.0 276.7 734.9C278.0 734.8 279.4 734.7 280.7 734.6C282.0 734.4 283.4 734.3 284.7 734.2C286.0 734.1 287.4 734.0 288.7 733.9C290.0 733.8 291.4 733.6 292.7 733.5C294.0 733.4 295.4 733.2 296.7 733.1C298.0 733.0 299.4 732.8 300.7 732.7C302.0 732.6 303.4 732.4 304.7 732.3C306.0 732.1 307.4 732.0 308.7 731.8C310.0 731.7 311.4 731.5 312.7 731.3C314.0 731.2 315.4 731.0 316.7 730.8C318.0 730.7 319.4 730.5 320.7 730.3C322.0 730.1 323.4 729.9 324.7 729.7C326.0 729.6 327.4 729.4 328.7 729.2C330.0 729.0 331.4 728.8 332.7 728.5C334.0 728.3 335.4 728.1 336.7 727.9C338.0 727.7 339.4 727.5 340.7 727.2C342.0 727.0 343.4 726.8 344.7 726.5C346.0 726.3 347.4 726.1 348.7 725.8C350.0 725.6 351.4 725.3 352.7 725.1C354.0 724.8 355.4 724.5 356.7 724.3C358.0 724.0 359.4 723.7 360.7 723.4C362.0 723.2 363.4 722.9 364.7 722.6C366.0 722.3 367.4 722.0 368.7 721.7C370.0 721.4 371.4 721.1 372.7 720.7C374.0 720.4 375.4 720.1 376.7 719.8C378.0 719.4 379.4 719.1 380.7 718.8C382.0 718.4 383.4 718.0 384.7 717.7C386.0 717.3 387.4 717.0 388.7 716.6C390.0 716.2 391.4 715.8 392.7 715.4C394.0 715.0 395.4 714.6 396.7 714.2C398.0 713.8 399.4 713.3 400.7 712.9C402.0 712.5 403.4 712.0 404.7 711.6C406.0 711.1 407.4 710.6 408.7 710.2C410.0 709.7 411.4 709.2 412.7 708.7C414.0 708.2 415.4 707.7 416.7 707.1C418.0 706.6 419.4 706.1 420.7 705.5C422.0 705.0 423.4 704.4 424.7 703.9C426.0 703.3 427.4 702.7 428.7 702.1C430.0 701.5 431.4 700.9 432.7 700.3C434.0 699.6 435.4 699.0 436.7 698.3C438.0 697.7 439.4 697.0 440.7 696.3C442.0 695.6 443.4 694.9 444.7 694.1C446.0 693.4 447.4 692.6 448.7 691.8C450.0 691.0 451.4 690.1 452.7 689.3C454.0 688.4 455.4 687.5 456.7 686.5C458.0 685.6 459.4 684.6 460.7 683.6C462.0 682.5 463.4 681.5 464.7 680.3C466.0 679.2 467.4 678.0 468.7 676.8C470.0 675.6 471.4 674.3 472.7 673.0C474.0 671.7 475.4 670.3 476.7 668.8C478.0 667.4 479.4 665.9 480.7 664.3C482.0 662.7 483.4 661.1 484.7 659.4C486.0 657.7 487.4 655.9 488.7 654.0C490.0 652.2 491.4 650.3 492.7 648.3C494.0 646.3 495.4 644.2 496.7 642.1C498.0 639.9 499.4 637.7 500.7 635.4C502.0 633.1 503.4 630.7 504.7 628.3C506.0 625.9 507.4 623.4 508.7 620.9C510.0 618.3 511.4 615.7 512.7 613.1C514.0 610.4 515.4 607.7 516.7 604.9C518.0 602.1 519.4 599.3 520.7 596.4C522.0 593.5 523.4 590.6 524.7 587.6C526.0 584.6 527.4 581.6 528.7 578.6C530.0 575.5 531.4 572.4 532.7 569.3C534.0 566.2 535.4 563.0 536.7 559.9C538.0 556.8 539.4 553.6 540.7 550.5C542.0 547.4 543.4 544.3 544.7 541.3C546.0 538.3 547.4 535.3 548.7 532.4C550.0 529.5 551.4 526.6 552.7 523.9C554.0 521.1 555.4 518.4 556.7 515.9C558.0 513.3 559.4 510.8 560.7 508.5C562.0 506.2 563.4 504.0 564.7 502.0C566.0 500.0 567.4 498.0 568.7 496.3C570.0 494.5 571.4 492.9 572.7 491.4C574.0 489.9 575.4 488.5 576.7 487.3C578.0 486.2 579.4 485.1 580.7 484.2C582.0 483.3 583.4 482.5 584.7 481.9C586.0 481.3 587.4 480.7 588.7 480.5C590.0 480.3 591.4 480.1 592.7 480.1C594.0 480.1 595.4 480.3 596.7 480.6C598.0 480.8 599.4 481.4 600.7 482.0C602.0 482.6 603.4 483.5 604.7 484.5C606.0 485.4 607.4 486.6 608.7 487.9C610.0 489.2 611.4 490.7 612.7 492.3C614.0 493.8 615.4 495.6 616.7 497.4C618.0 499.2 619.4 501.2 620.7 503.3C622.0 505.3 623.4 507.4 624.7 509.6C626.0 511.8 627.4 514.1 628.7 516.5C630.0 518.8 631.4 521.2 632.7 523.6C634.0 526.0 635.4 528.5 636.7 530.9C638.0 533.4 639.4 535.9 640.7 538.3C642.0 540.8 643.4 543.3 644.7 545.8C646.0 548.3 647.4 550.8 648.7 553.2C650.0 555.7 651.4 558.2 652.7 560.6C654.0 563.0 655.4 565.5 656.7 567.9C658.0 570.3 659.4 572.7 660.7 575.0C662.0 577.4 663.4 579.7 664.7 582.0C666.0 584.3 667.4 586.5 668.7 588.7C670.0 590.9 671.4 593.1 672.7 595.2C674.0 597.3 675.4 599.4 676.7 601.4C678.0 603.4 679.4 605.3 680.7 607.2C682.0 609.1 683.4 611.0 684.7 612.8C686.0 614.5 687.4 616.3 688.7 618.0C690.0 619.7 691.4 621.3 692.7 622.9C694.0 624.5 695.4 626.0 696.7 627.5C698.0 629.0 699.4 630.5 700.7 631.9C702.0 633.3 703.4 634.7 704.7 636.1C706.0 637.4 707.4 638.7 708.7 639.9C710.0 641.2 711.4 642.4 712.7 643.6C714.0 644.8 715.4 646.0 716.7 647.1C718.0 648.2 719.4 649.3 720.7 650.4C722.0 651.4 723.4 652.4 724.7 653.4C726.0 654.4 727.4 655.4 728.7 656.4C730.0 657.3 731.4 658.2 732.7 659.1C734.0 660.0 735.4 660.9 736.7 661.8C738.0 662.6 739.4 663.4 740.7 664.3C742.0 665.1 743.4 665.9 744.7 666.7C746.0 667.4 747.4 668.2 748.7 669.0C750.0 669.7 751.4 670.4 752.7 671.2C754.0 671.9 755.4 672.6 756.7 673.3C758.0 674.0 759.4 674.7 760.7 675.4C762.0 676.1 763.4 676.7 764.7 677.4C766.0 678.1 767.4 678.7 768.7 679.4C770.0 680.0 771.4 680.6 772.7 681.2C774.0 681.9 775.4 682.5 776.7 683.1C778.0 683.6 779.4 684.2 780.7 684.8C782.0 685.4 783.4 686.0 784.7 686.5C786.0 687.1 787.4 687.6 788.7 688.1C790.0 688.7 791.4 689.2 792.7 689.7C794.0 690.2 795.4 690.7 796.7 691.2C798.0 691.7 799.4 692.2 800.7 692.7C802.0 693.2 803.4 693.7 804.7 694.1C806.0 694.6 807.4 695.0 808.7 695.5C810.0 695.9 811.4 696.4 812.7 696.8C814.0 697.2 815.4 697.6 816.7 698.0C818.0 698.4 819.4 698.8 820.7 699.2C822.0 699.6 823.4 700.0 824.7 700.4C826.0 700.8 827.4 701.1 828.7 701.5C830.0 701.9 831.4 702.2 832.7 702.6C834.0 702.9 835.4 703.2 836.7 703.6C838.0 703.9 839.4 704.2 840.7 704.5C842.0 704.8 843.4 705.2 844.7 705.5C846.0 705.8 847.4 706.0 848.7 706.3C850.0 706.6 851.4 706.9 852.7 707.2C854.0 707.4 855.4 707.7 856.7 708.0C858.0 708.2 859.4 708.5 860.7 708.7C862.0 709.0 863.4 709.2 864.7 709.4C866.0 709.7 867.4 709.9 868.7 710.1C870.0 710.4 871.4 710.6 872.7 710.8C874.0 711.0 875.4 711.2 876.7 711.4C878.0 711.6 879.4 711.8 880.7 712.0C882.0 712.2 883.4 712.3 884.7 712.5C886.0 712.7 887.4 712.9 888.7 713.0C890.0 713.2 891.4 713.4 892.7 713.5C894.0 713.7 895.4 713.8 896.7 714.0C898.0 714.1 899.4 714.3 900.7 714.4C902.0 714.5 903.4 714.7 904.7 714.8C906.0 714.9 907.4 715.1 908.7 715.2C910.0 715.3 911.4 715.4 912.7 715.5C914.0 715.6 915.4 715.8 916.7 715.9C918.0 716.0 919.4 716.1 920.7 716.2C922.0 716.3 923.4 716.4 924.7 716.5C926.0 716.5 927.4 716.6 928.7 716.7C930.0 716.8 931.4 716.9 932.7 717.0C934.0 717.0 935.4 717.1 936.7 717.2C938.0 717.3 939.4 717.3 940.7 717.4C942.0 717.5 943.4 717.5 944.7 717.6C946.0 717.7 947.4 717.7 948.7 717.8C950.0 717.8 951.4 717.9 952.7 717.9C954.0 718.0 955.4 718.1 956.7 718.1C958.0 718.2 959.4 718.2 960.7 718.2C962.0 718.3 963.4 718.3 964.7 718.4C966.0 718.4 967.4 718.5 968.7 718.5C970.0 718.5 971.4 718.6 972.7 718.6C974.0 718.7 975.4 718.7 976.7 718.7C978.0 718.8 979.4 718.8 980.7 718.8C982.0 718.9 983.4 718.9 984.7 718.9C986.0 719.0 987.4 719.0 988.7 719.0C990.0 719.1 991.4 719.1 992.7 719.1C994.0 719.2 995.4 719.2 996.7 719.2C998.0 719.3 999.4 719.3 1000.7 719.3C1002.0 719.4 1003.4 719.4 1004.7 719.4C1006.0 719.5 1007.4 719.5 1008.7 719.5C1010.0 719.6 1011.4 719.6 1012.7 719.6C1014.0 719.7 1015.4 719.7 1016.7 719.7C1018.0 719.8 1019.4 719.8 1020.7 719.8C1022.0 719.9 1023.4 719.9 1024.7 720.0C1026.0 720.0 1027.4 720.1 1028.7 720.1C1030.0 720.1 1031.4 720.2 1032.7 720.2C1034.0 720.3 1035.4 720.3 1036.7 720.4C1038.0 720.4 1039.4 720.5 1040.7 720.5C1042.0 720.6 1043.4 720.7 1044.7 720.7C1046.0 720.8 1047.4 720.8 1048.7 720.9C1050.0 721.0 1051.4 721.0 1052.7 721.1C1054.0 721.2 1055.4 721.2 1056.7 721.3C1058.0 721.4 1059.4 721.5 1060.7 721.5C1062.0 721.6 1063.4 721.7 1064.7 721.8C1066.0 721.9 1067.4 722.0 1068.7 722.1C1070.0 722.2 1071.4 722.3 1072.7 722.4C1074.0 722.5 1075.4 722.6 1076.7 722.7C1078.0 722.8 1079.4 722.9 1080.7 723.0C1082.0 723.1 1083.4 723.3 1084.7 723.4C1086.0 723.5 1087.4 723.6 1088.7 723.8C1090.0 723.9 1091.4 724.0 1092.7 724.2C1093.1 724.2 1093.4 724.2 1093.8 724.3" fill="none" stroke="#00ff00" stroke-width="3" stroke-linejoin="round"/>
<path d="M132.7 740.3L395.2 739.0L442.2 738.5L488.4 737.3L495.4 736.8L503.9 735.7L518.0 732.3L523.0 730.6L527.0 728.8L530.7 726.4L534.0 723.6L537.7 719.2L541.2 713.5L544.0 707.4L546.2 700.5L550.0 686.5L552.7 673.4L555.0 659.6L556.5 645.3L558.7 613.4L560.7 573.8L564.0 486.5L567.2 422.5L570.5 323.5L571.0 312.8L571.5 309.0L572.5 324.1L579.5 497.0L581.2 533.2L585.0 589.8L589.2 633.7L591.2 649.1L593.5 661.9L596.2 673.5L599.5 684.0L603.5 693.9L608.2 703.0L613.0 709.6L618.0 714.5L623.5 718.4L629.7 721.5L639.0 724.7L649.5 727.4L661.0 729.5L675.5 731.3L691.7 732.8L707.5 733.7L776.5 734.9L860.2 735.4L947.0 735.1L1093.8 734.0" fill="none" stroke="#a52a2a" stroke-width="3" stroke-linejoin="round"/>
<path d="M132.7 740.4L491.9 739.8L632.5 738.6L717.2 738.5L736.7 737.7L747.5 736.3L751.5 734.9L758.0 731.8L767.0 726.0L769.5 724.0L771.5 721.7L775.5 715.0L778.5 706.9L781.0 696.4L783.2 681.1L791.2 600.6L792.7 578.2L794.2 544.6L801.0 316.0L803.0 265.1L803.7 252.6L804.2 249.8L805.0 253.2L805.7 262.4L807.7 303.9L810.0 405.1L814.0 506.1L816.7 562.2L820.0 609.5L821.5 625.4L823.0 636.9L825.0 649.0L827.5 660.7L830.5 671.7L834.2 682.9L837.7 691.6L841.2 698.3L844.5 702.9L848.5 706.8L853.7 710.5L859.5 713.6L865.7 715.9L876.2 718.8L885.2 720.7L894.2 722.0L926.2 723.8L968.0 725.1L1093.8 725.9" fill="none" stroke="#a0522d" stroke-width="3" stroke-linejoin="round"/>
<path d="M132.7 740.4C134.0 740.4 135.4 740.4 136.7 740.4C138.0 740.4 139.4 740.4 140.7 740.4C142.0 740.4 143.4 740.4 144.7 740.4C146.0 740.4 147.4 740.4 148.7 740.4C150.0 740.4 151.4 740.4 152.7 740.4C154.0 740.4 155.4 740.4 156.7 740.4C158.0 740.4 159.4 740.4 160.7 740.4C162.0 740.4 163.4 740.4 164.7 740.4C166.0 740.4 167.4 740.4 168.7 740.4C170.0 740.4 171.4 740.4 172.7 740.4C174.0 740.4 175.4 740.4 176.7 740.4C178.0 740.4 179.4 740.4 180.7 740.4C182.0 740.4 183.4 740.4 184.7 740.4C186.0 740.4 187.4 740.4 188.7 740.4C190.0 740.4 191.4 740.4 192.7 740.4C194.0 740.4 195.4 740.4 196.7 740.4C198.0 740.4 199.4 740.4 200.7 740.4C202.0 740.4 203.4 740.4 204.7 740.4C206.0 740.4 207.4 740.4 208.7 740.4C210.0 740.4 211.4 740.4 212.7 740.4C214.0 740.4 215.4 740.4 216.7 740.4C218.0 740.4 219.4 740.4 220.7 740.4C222.0 740.4 223.4 740.4 224.7 740.4C226.0 740.4 227.4 740.4 228.7 740.4C230.0 740.4 231.4 740.4 232.7 740.4C234.0 740.4 235.4 740.4 236.7 740.4C238.0 740.4 239.4 740.4 240.7 740.4C242.0 740.4 243.4 740.4 244.7 740.4C246.0 740.4 247.4 740.4 248.7 740.4C250.0 740.4 251.4 740.4 252.7 740.4C254.0 740.4 255.4 740.4 256.7 740.4C258.0 740.4 259.4 740.4 260.7 740.4C262.0 740.4 263.4 740.4 264.7 740.4C266.0 740.4 267.4 740.4 268.7 740.4C270.0 740.4 271.4 740.4 272.7 740.4C274.0 740.4 275.4 740.4 276.7 740.4C278.0 740.4 279.4 740.4 280.7 740.4C282.0 740.4 283.4 740.4 284.7 740.4C286.0 740.4 287.4 740.4 288.7 740.4C290.0 740.4 291.4 740.4 292.7 740.4C294.0 740.4 295.4 740.4 296.7 740.4C298.0 740.4 299.4 740.4 300.7 740.4C302.0 740.4 303.4 740.4 304.7 740.4C306.0 740.4 307.4 740.4 308.7 740.4C310.0 740.4 311.4 740.4 312.7 740.4C314.0 740.4 315.4 740.4 316.7 740.4C318.0 740.4 319.4 740.4 320.7 740.4C322.0 740.4 323.4 740.4 324.7 740.4C326.0 740.4 327.4 740.4 328.7 740.4C330.0 740.4 331.4 740.4 332.7 740.4C334.0 740.4 335.4 740.4 336.7 740.4C338.0 740.4 339.4 740.4 340.7 740.4C342.0 740.4 343.4 740.4 344.7 740.4C346.0 740.4 347.4 740.4 348.7 740.4C350.0 740.4 351.4 740.4 352.7 740.4C354.0 740.4 355.4 740.4 356.7 740.4C358.0 740.4 359.4 740.4 360.7 740.4C362.0 740.4 363.4 740.4 364.7 740.4C366.0 740.4 367.4 740.4 368.7 740.4C370.0 740.4 371.4 740.4 372.7 740.4C374.0 740.4 375.4 740.4 376.7 740.4C378.0 740.4 379.4 740.4 380.7 740.4C382.0 740.4 383.4 740.4 384.7 740.4C386.0 740.4 387.4 740.4 388.7 740.4C390.0 740.4 391.4 740.4 392.7 740.4C394.0 740.4 395.4 740.4 396.7 740.4C398.0 740.4 399.4 740.4 400.7 740.4C402.0 740.4 403.4 740.4 404.7 740.4C406.0 740.4 407.4 740.4 408.7 740.4C410.0 740.4 411.4 740.4 412.7 740.4C414.0 740.4 415.4 740.4 416.7 740.4C418.0 740.4 419.4 740.4 420.7 740.4C422.0 740.4 423.4 740.4 424.7 740.4C426.0 740.4 427.4 740.4 428.7 740.4C430.0 740.3 431.4 740.3 432.7 740.3C434.0 740.3 435.4 740.3 436.7 740.3C438.0 740.3 439.4 740.3 440.7 740.3C442.0 740.3 443.4 740.3 444.7 740.3C446.0 740.3 447.4 740.3 448.7 740.3C450.0 740.3 451.4 740.3 452.7 740.3C454.0 740.3 455.4 740.3 456.7 740.3C458.0 740.3 459.4 740.3 460.7 740.3C462.0 740.3 463.4 740.3 464.7 740.3C466.0 740.2 467.4 740.2 468.7 740.2C470.0 740.2 471.4 740.2 472.7 740.2C474.0 740.2 475.4 740.2 476.7 740.2C478.0 740.2 479.4 740.2 480.7 740.2C482.0 740.2 483.4 740.2 484.7 740.2C486.0 740.2 487.4 740.2 488.7 740.2C490.0 740.1 491.4 740.1 492.7 740.1C494.0 740.1 495.4 740.1 496.7 740.1C498.0 740.1 499.4 740.1 500.7 740.1C502.0 740.1 503.4 740.1 504.7 740.1C506.0 740.1 507.4 740.1 508.7 740.1C510.0 740.0 511.4 740.0 512.7 740.0C514.0 740.0 515.4 740.0 516.7 740.0C518.0 740.0 519.4 740.0 520.7 740.0C522.0 740.0 523.4 740.0 524.7 740.0C526.0 739.9 527.4 739.9 528.7 739.9C530.0 739.9 531.4 739.9 532.7 739.9C534.0 739.9 535.4 739.9 536.7 739.9C538.0 739.9 539.4 739.9 540.7 739.8C542.0 739.8 543.4 739.8 544.7 739.8C546.0 739.8 547.4 739.8 548.7 739.8C550.0 739.8 551.4 739.8 552.7 739.8C554.0 739.7 555.4 739.7 556.7 739.7C558.0 739.7 559.4 739.7 560.7 739.7C562.0 739.7 563.4 739.7 564.7 739.7C566.0 739.6 567.4 739.6 568.7 739.6C570.0 739.6 571.4 739.6 572.7 739.6C574.0 739.6 575.4 739.6 576.7 739.5C578.0 739.5 579.4 739.5 580.7 739.5C582.0 739.5 583.4 739.5 584.7 739.5C586.0 739.4 587.4 739.4 588.7 739.4C590.0 739.4 591.4 739.4 592.7 739.4C594.0 739.4 595.4 739.4 596.7 739.3C598.0 739.3 599.4 739.3 600.7 739.3C602.0 739.3 603.4 739.3 604.7 739.2C606.0 739.2 607.4 739.2 608.7 739.2C610.0 739.2 611.4 739.2 612.7 739.2C614.0 739.1 615.4 739.1 616.7 739.1C618.0 739.1 619.4 739.1 620.7 739.1C622.0 739.0 623.4 739.0 624.7 739.0C626.0 739.0 627.4 739.0 628.7 738.9C630.0 738.9 631.4 738.9 632.7 738.9C634.0 738.9 635.4 738.9 636.7 738.8C638.0 738.8 639.4 738.8 640.7 738.8C642.0 738.8 643.4 738.7 644.7 738.7C646.0 738.7 647.4 738.7 648.7 738.7C650.0 738.6 651.4 738.6 652.7 738.6C654.0 738.6 655.4 738.6 656.7 738.5C658.0 738.5 659.4 738.5 660.7 738.5C662.0 738.5 663.4 738.4 664.7 738.4C666.0 738.4 667.4 738.4 668.7 738.4C670.0 738.3 671.4 738.3 672.7 738.3C674.0 738.3 675.4 738.2 676.7 738.2C678.0 738.2 679.4 738.2 680.7 738.1C682.0 738.1 683.4 738.1 684.7 738.1C686.0 738.1 687.4 738.0 688.7 738.0C690.0 738.0 691.4 738.0 692.7 737.9C694.0 737.9 695.4 737.9 696.7 737.9C698.0 737.8 699.4 737.8 700.7 737.8C702.0 737.7 703.4 737.7 704.7 737.7C706.0 737.7 707.4 737.6 708.7 737.6C710.0 737.6 711.4 737.6 712.7 737.5C714.0 737.5 715.4 737.5 716.7 737.4C718.0 737.4 719.4 737.4 720.7 737.4C722.0 737.3 723.4 737.3 724.7 737.3C726.0 737.2 727.4 737.2 728.7 737.1C730.0 737.1 731.4 737.1 732.7 737.0C734.0 737.0 735.4 736.9 736.7 736.9C738.0 736.8 739.4 736.8 740.7 736.7C742.0 736.7 743.4 736.6 744.7 736.6C746.0 736.5 747.4 736.4 748.7 736.4C750.0 736.3 751.4 736.2 752.7 736.2C754.0 736.1 755.4 736.0 756.7 735.9C758.0 735.9 759.4 735.8 760.7 735.7C762.0 735.6 763.4 735.5 764.7 735.4C766.0 735.3 767.4 735.2 768.7 735.1C770.0 735.0 771.4 734.9 772.7 734.8C774.0 734.6 775.4 734.5 776.7 734.4C778.0 734.3 779.4 734.1 780.7 734.0C782.0 733.8 783.4 733.7 784.7 733.5C786.0 733.4 787.4 733.2 788.7 733.1C790.0 732.9 791.4 732.7 792.7 732.6C794.0 732.4 795.4 732.2 796.7 732.0C798.0 731.8 799.4 731.6 800.7 731.4C802.0 731.2 803.4 731.0 804.7 730.8C806.0 730.6 807.4 730.3 808.7 730.1C810.0 729.9 811.4 729.6 812.7 729.4C814.0 729.1 815.4 728.9 816.7 728.6C818.0 728.3 819.4 728.0 820.7 727.8C822.0 727.5 823.4 727.2 824.7 726.9C826.0 726.6 827.4 726.3 828.7 725.9C830.0 725.6 831.4 725.3 832.7 724.9C834.0 724.6 835.4 724.3 836.7 723.9C838.0 723.5 839.4 723.2 840.7 722.8C842.0 722.4 843.4 722.0 844.7 721.6C846.0 721.2 847.4 720.8 848.7 720.4C850.0 719.9 851.4 719.5 852.7 719.1C854.0 718.6 855.4 718.2 856.7 717.7C858.0 717.2 859.4 716.8 860.7 716.3C862.0 715.8 863.4 715.2 864.7 714.7C866.0 714.1 867.4 713.5 868.7 712.9C870.0 712.3 871.4 711.6 872.7 710.9C874.0 710.1 875.4 709.3 876.7 708.5C878.0 707.6 879.4 706.7 880.7 705.7C882.0 704.7 883.4 703.6 884.7 702.4C886.0 701.2 887.4 700.0 888.7 698.6C890.0 697.2 891.4 695.8 892.7 694.2C894.0 692.6 895.4 690.9 896.7 689.1C898.0 687.3 899.4 685.3 900.7 683.2C902.0 681.2 903.4 678.9 904.7 676.6C906.0 674.2 907.4 671.7 908.7 669.1C910.0 666.5 911.4 663.7 912.7 660.8C914.0 658.0 915.4 655.0 916.7 651.9C918.0 648.9 919.4 645.7 920.7 642.5C922.0 639.2 923.4 635.9 924.7 632.5C926.0 629.1 927.4 625.8 928.7 622.1C930.0 618.4 931.4 614.7 932.7 610.5C934.0 606.3 935.4 601.7 936.7 596.7C938.0 591.7 939.4 586.0 940.7 580.0C942.0 573.9 943.4 567.3 944.7 560.5C946.0 553.7 947.4 546.4 948.7 539.1C950.0 531.8 951.4 524.1 952.7 516.6C954.0 509.1 955.4 501.4 956.7 494.0C958.0 486.6 959.4 479.1 960.7 472.0C962.0 464.9 963.4 457.9 964.7 451.5C966.0 445.1 967.4 438.8 968.7 433.3C970.0 427.8 971.4 422.4 972.7 418.2C974.0 413.9 975.4 409.7 976.7 407.0C978.0 404.3 979.4 401.2 980.7 400.7C982.0 400.2 983.4 399.8 984.7 399.8C986.0 399.8 987.4 402.3 988.7 404.3C990.0 406.2 991.4 409.6 992.7 413.0C994.0 416.4 995.4 420.7 996.7 425.2C998.0 429.6 999.4 434.7 1000.7 439.8C1002.0 444.9 1003.4 450.5 1004.7 456.0C1006.0 461.5 1007.4 467.2 1008.7 472.9C1010.0 478.5 1011.4 484.2 1012.7 489.8C1014.0 495.4 1015.4 501.1 1016.7 506.7C1018.0 512.3 1019.4 517.8 1020.7 523.3C1022.0 528.8 1023.4 534.3 1024.7 539.7C1026.0 545.1 1027.4 550.4 1028.7 555.6C1030.0 560.8 1031.4 565.9 1032.7 570.8C1034.0 575.8 1035.4 580.7 1036.7 585.4C1038.0 590.1 1039.4 594.6 1040.7 599.0C1042.0 603.4 1043.4 607.6 1044.7 611.7C1046.0 615.7 1047.4 619.5 1048.7 623.1C1050.0 626.7 1051.4 630.2 1052.7 633.3C1054.0 636.5 1055.4 639.5 1056.7 642.1C1058.0 644.8 1059.4 647.2 1060.7 649.4C1062.0 651.5 1063.4 653.5 1064.7 655.3C1066.0 657.0 1067.4 658.6 1068.7 660.1C1070.0 661.5 1071.4 662.8 1072.7 664.0C1074.0 665.2 1075.4 666.2 1076.7 667.3C1078.0 668.3 1079.4 669.2 1080.7 670.1C1082.0 671.0 1083.4 671.9 1084.7 672.8C1086.0 673.7 1087.4 674.6 1088.7 675.5C1090.0 676.5 1091.4 677.5 1092.7 678.6C1093.1 678.9 1093.4 679.2 1093.8 679.5" fill="none" stroke="#ff8c00" stroke-width="3" stroke-linejoin="round"/>
<path d="M132.0 740.0L1003.8 740.0L1044.2 739.5L1054.8 739.0L1064.0 738.1L1071.5 736.6L1076.5 734.3L1078.2 732.7L1079.8 730.5L1080.8 728.4L1081.5 725.5L1083.8 711.2L1085.2 695.2L1088.0 626.1L1088.8 617.6L1091.8 681.0L1093.8 705.0" fill="none" stroke="#4682b4" stroke-width="3" stroke-linejoin="round"/>
<path d="M132.0 740.8L762.2 740.3L793.8 739.9L811.2 739.0L824.2 737.3L830.8 735.9L834.5 734.7L837.0 733.2L838.5 731.6L840.2 728.6L841.8 724.6L844.5 713.2L845.8 699.8L846.2 684.0L847.0 589.5L848.0 529.4L850.2 445.4L851.5 423.1L852.2 418.2L853.0 423.6L854.0 443.1L857.5 692.7L858.5 707.6L859.8 716.6L862.2 726.0L865.0 731.5L866.5 733.1L868.5 734.5L874.2 736.7L884.8 738.5L896.8 739.5L951.2 740.2L1093.8 740.6" fill="none" stroke="#9370db" stroke-width="3" stroke-linejoin="round"/>
<g fill="#ff0000"><circle cx="135.1" cy="645.0" r="3.8"/><circle cx="142.8" cy="637.5" r="3.8"/><circle cx="149.8" cy="629.7" r="3.8"/><circle cx="157.0" cy="621.2" r="3.8"/><circle cx="164.5" cy="611.4" r="3.8"/><circle cx="172.2" cy="600.7" r="3.8"/><circle cx="180.1" cy="587.4" r="3.8"/><circle cx="188.2" cy="572.3" r="3.8"/><circle cx="196.4" cy="554.1" r="3.8"/><circle cx="205.0" cy="531.1" r="3.8"/><circle cx="213.8" cy="502.2" r="3.8"/><circle cx="222.9" cy="464.6" r="3.8"/><circle cx="232.6" cy="415.5" r="3.8"/><circle cx="242.0" cy="351.5" r="3.8"/><circle cx="252.0" cy="273.2" r="3.8"/><circle cx="262.4" cy="191.5" r="3.8"/><circle cx="273.0" cy="129.2" r="3.8"/><circle cx="284.2" cy="106.8" r="3.8"/><circle cx="295.6" cy="121.6" r="3.8"/><circle cx="307.1" cy="156.3" r="3.8"/><circle cx="319.7" cy="192.9" r="3.8"/><circle cx="332.0" cy="224.3" r="3.8"/><circle cx="345.0" cy="247.6" r="3.8"/><circle cx="358.8" cy="264.7" r="3.8"/><circle cx="372.9" cy="276.5" r="3.8"/><circle cx="387.6" cy="285.3" r="3.8"/><circle cx="402.9" cy="293.1" r="3.8"/><circle cx="418.9" cy="305.5" r="3.8"/><circle cx="435.5" cy="329.7" r="3.8"/><circle cx="452.5" cy="370.5" r="3.8"/><circle cx="470.2" cy="411.1" r="3.8"/><circle cx="489.1" cy="439.2" r="3.8"/><circle cx="508.5" cy="462.7" r="3.8"/><circle cx="528.9" cy="490.5" r="3.8"/><circle cx="550.3" cy="499.9" r="3.8"/><circle cx="552.6" cy="492.9" r="3.8"/><circle cx="554.7" cy="482.8" r="3.8"/><circle cx="556.8" cy="467.0" r="3.8"/><circle cx="559.1" cy="443.1" r="3.8"/><circle cx="561.5" cy="408.3" r="3.8"/><circle cx="563.9" cy="360.5" r="3.8"/><circle cx="565.9" cy="300.0" r="3.8"/><circle cx="567.9" cy="238.1" r="3.8"/><circle cx="570.3" cy="198.5" r="3.8"/><circle cx="572.9" cy="206.4" r="3.8"/><circle cx="574.9" cy="255.5" r="3.8"/><circle cx="577.2" cy="317.8" r="3.8"/><circle cx="579.6" cy="372.8" r="3.8"/><circle cx="582.0" cy="428.3" r="3.8"/><circle cx="584.4" cy="477.9" r="3.8"/><circle cx="586.7" cy="517.3" r="3.8"/><circle cx="589.0" cy="547.9" r="3.8"/><circle cx="591.5" cy="572.3" r="3.8"/><circle cx="594.0" cy="591.6" r="3.8"/><circle cx="596.4" cy="607.5" r="3.8"/><circle cx="608.6" cy="657.0" r="3.8"/><circle cx="633.6" cy="688.5" r="3.8"/><circle cx="660.2" cy="684.5" r="3.8"/><circle cx="688.1" cy="673.6" r="3.8"/><circle cx="716.5" cy="666.2" r="3.8"/><circle cx="749.1" cy="666.8" r="3.8"/><circle cx="782.3" cy="661.5" r="3.8"/><circle cx="789.3" cy="626.5" r="3.8"/><circle cx="799.4" cy="375.7" r="3.8"/><circle cx="809.8" cy="334.9" r="3.8"/><circle cx="820.8" cy="543.6" r="3.8"/><circle cx="832.0" cy="603.6" r="3.8"/><circle cx="843.1" cy="614.1" r="3.8"/><circle cx="848.0" cy="526.8" r="3.8"/><circle cx="852.2" cy="310.5" r="3.8"/><circle cx="854.5" cy="546.8" r="3.8"/><circle cx="865.6" cy="636.5" r="3.8"/><circle cx="877.8" cy="649.8" r="3.8"/><circle cx="889.7" cy="652.8" r="3.8"/><circle cx="902.1" cy="650.6" r="3.8"/><circle cx="915.0" cy="644.0" r="3.8"/><circle cx="927.3" cy="627.6" r="3.8"/><circle cx="940.4" cy="597.7" r="3.8"/><circle cx="953.4" cy="544.0" r="3.8"/><circle cx="966.9" cy="469.2" r="3.8"/><circle cx="981.2" cy="399.9" r="3.8"/><circle cx="995.2" cy="377.6" r="3.8"/><circle cx="1009.9" cy="401.9" r="3.8"/><circle cx="1024.8" cy="442.1" r="3.8"/><circle cx="1039.4" cy="478.1" r="3.8"/><circle cx="1054.9" cy="504.5" r="3.8"/><circle cx="1070.9" cy="516.3" r="3.8"/><circle cx="1076.3" cy="514.2" r="3.8"/><circle cx="1081.3" cy="501.2" r="3.8"/><circle cx="1087.2" cy="504.5" r="3.8"/><circle cx="1091.8" cy="561.1" r="3.8"/></g>
<path d="M927 119.5H999" stroke="#000" stroke-width="4.2"/>
<circle cx="963.2" cy="169.5" r="3.8" fill="#ff0000"/>
<text x="1025" y="132" font-size="37" font-weight="bold">MIM</text>
<text x="1025" y="182" font-size="37" font-weight="bold">GMM</text>
<g fill="#0000ff"><text x="306" y="349.5" font-size="53" font-weight="normal">(</text><text x="337.0" y="349.5" font-size="48" font-weight="bold" text-anchor="middle">1</text><text x="368" y="349.5" font-size="53" font-weight="normal" text-anchor="end">)</text></g>
<g fill="#008000"><text x="346" y="464.5" font-size="53" font-weight="normal">(</text><text x="375.0" y="464.5" font-size="48" font-weight="bold" text-anchor="middle">2</text><text x="404" y="464.5" font-size="53" font-weight="normal" text-anchor="end">)</text></g>
<g fill="#a52a2a"><text x="587" y="330" font-size="52" font-weight="normal">(</text><text x="613.5" y="330" font-size="48" font-weight="bold" text-anchor="middle">3</text><text x="640" y="330" font-size="52" font-weight="normal" text-anchor="end">)</text><text x="644" y="339" font-size="38" font-weight="bold">2</text></g>
<g fill="#00ff00"><text x="610" y="477" font-size="52" font-weight="normal">(</text><text x="636.8" y="477" font-size="48" font-weight="bold" text-anchor="middle">3</text><text x="663.5" y="477" font-size="52" font-weight="normal" text-anchor="end">)</text><text x="668" y="486" font-size="38" font-weight="bold">1</text></g>
<g fill="#a0522d"><text x="730.5" y="279" font-size="52" font-weight="normal" stroke="#a0522d" stroke-width="0.9">(</text><text x="761.5" y="279" font-size="48" font-weight="bold" text-anchor="middle">4</text><text x="792.5" y="279" font-size="52" font-weight="normal" text-anchor="end" stroke="#a0522d" stroke-width="0.9">)</text></g>
<g fill="#9370db"><text x="855" y="361" font-size="52" font-weight="normal" stroke="#9370db" stroke-width="0.9">(</text><text x="886.0" y="361" font-size="48" font-weight="bold" text-anchor="middle">5</text><text x="917" y="361" font-size="52" font-weight="normal" text-anchor="end" stroke="#9370db" stroke-width="0.9">)</text></g>
<g fill="#ff8c00"><text x="901" y="430" font-size="52" font-weight="normal" stroke="#ff8c00" stroke-width="0.9">(</text><text x="931.5" y="430" font-size="48" font-weight="bold" text-anchor="middle">6</text><text x="962" y="430" font-size="52" font-weight="normal" text-anchor="end" stroke="#ff8c00" stroke-width="0.9">)</text></g>
<g fill="#4682b4"><text x="1079" y="606" font-size="52" font-weight="normal" stroke="#4682b4" stroke-width="0.9">(</text><text x="1109.5" y="606" font-size="48" font-weight="bold" text-anchor="middle">7</text><text x="1140" y="606" font-size="52" font-weight="normal" text-anchor="end" stroke="#4682b4" stroke-width="0.9">)</text></g>
<clipPath id="c1"><circle cx="1347.3" cy="139.3" r="73.0"/></clipPath>
<g clip-path="url(#c1)"><g filter="url(#jet)" transform="translate(1264.30 56.30) scale(6.0)">
<rect x="-1" y="-1" width="30" height="30" fill="#555555"/>
<g fill="none" stroke-width="1.04" transform="translate(0 .5)">
<path stroke="#0d0d0d" d="M13 12h1"/>
<path stroke="#1a1a1a" d="M14 12h1"/>
<path stroke="#2e2e2e" d="M13 11h1"/>
<path stroke="#3b3b3b" d="M14 11h1"/>
<path stroke="#414141" d="M13 13h1"/>
<path stroke="#484848" d="M14 13h1"/>
<path stroke="#4e4e4e" d="M12 12h1m14 6h1m-28 1h1m26 0h1m-27 1h1m24 0h1m-26 1h1m23 0h2m-25 1h1m21 0h2m-23 1h1m19 0h2m-21 1h2m16 0h2m-19 1h2m13 0h3m-17 1h4m8 0h4m-14 1h12"/>
<path stroke="#5c5c5c" d="M7 0h1m11 0h1m1 1h1m2 3h1m-23 1h1m-2 2h1m24 1h1m-27 2h1m-1 1h1m-1 1h1m-1 1h1m-1 1h1m25 2h1m-26 1h1m23 1h1m-24 1h1m0 1h1m20 0h1m-2 1h1m-2 1h1m-17 1h1m14 0h1m-14 1h1m10 0h1m-9 1h2m1 0h3"/>
<path stroke="#626262" d="M8 0h1m9 0h1m-13 1h1m13 0h1m-16 1h1m16 0h1m-19 1h1m18 0h1m-21 1h1m-2 2h1m22 0h1m-25 2h1m24 1h1m-1 1h1m-15 1h1m13 3h1m-1 1h1m-26 1h1m0 2h1m21 1h1m-21 2h1m0 1h1m1 1h1m12 0h1m-12 1h1m8 0h1m-6 1h1"/>
<path stroke="#696969" d="M9 0h9m-11 1h2m10 0h1m-14 1h1m14 0h1m0 1h1m0 1h1m-21 1h1m20 0h1m0 2h1m-25 2h1m-1 1h1m24 1h1m-12 1h1m10 0h1m-26 1h1m24 0h1m-26 1h1m-1 1h1m0 2h1m22 0h1m-23 2h1m19 1h1m-2 1h1m-17 1h1m14 0h1m-3 1h1m-10 1h1m5 0h2"/>
<path stroke="#6f6f6f" d="M9 1h4m1 0h5m-12 1h2m10 0h2m-16 1h2m14 0h1m-18 1h2m16 0h1m-19 1h1m18 0h1m-21 1h1m20 0h1m-23 1h1m21 0h1m-23 1h1m22 0h1m-1 1h1m-25 2h1m-1 1h1m10 1h1m12 3h1m-2 2h1m-21 2h1m0 1h1m2 2h1m2 1h2m2 0h1"/>
<path stroke="#767676" d="M13 1h1m4 1h1m1 1h1m-8 7h1m1 1h1m9 4h1m-24 1h1m0 2h1m19 1h1m-4 3h1m-3 1h1m-6 1h2"/>
<path stroke="#7c7c7c" d="M9 2h1m-3 1h1m13 1h1m0 1h1m0 1h1m-21 1h1m-2 2h1m11 1h1m10 0h1m-11 3h1m9 1h1m-24 1h1m21 2h1m-21 2h1m17 1h1m-2 1h1m-15 1h1m1 1h1"/>
<path stroke="#838383" d="M10 2h1m6 0h1m1 1h1m-14 1h1m-2 1h1m-2 1h1m19 2h1m-23 2h1m22 1h1m-1 1h1m-1 1h1m-24 1h1m10 0h1m-11 3h1m1 3h1m0 1h1m12 1h1m-10 1h1m6 0h1"/>
<path stroke="#898989" d="M11 2h1m4 0h1m-9 1h1m14 4h1m-21 1h1m8 2h1m-11 1h1m8 1h1m-10 1h1m11 1h1m9 2h1m-2 2h1m-16 4h1m2 1h1m4 0h1"/>
<path stroke="#909090" d="M15 2h1m4 2h1m3 5h1m-10 1h1m-5 1h1m-10 1h1m9 2h1m9 5h1m-3 2h1m-6 2h1"/>
<path stroke="#969696" d="M12 2h3m3 1h1m2 2h1m0 1h1m-7 5h1m-1 1h1m-6 1h1m3 1h1m8 1h1m-22 1h1m0 2h1m16 2h1m-15 1h1m10 1h1m-7 1h3"/>
<path stroke="#9d9d9d" d="M9 3h1m-3 1h1m-4 3h1m-2 2h1m8 0h4m-5 1h1m4 0h1m7 0h1m-9 3h1m-6 1h1m1 1h1m9 2h1m-19 2h1m0 1h1m2 2h1"/>
<path stroke="#a3a3a3" d="M6 5h1m-2 1h1m7 2h3m7 0h1m-13 1h1m4 0h1m0 1h1m-8 1h1m6 0h1m-8 1h1m5 2h1m7 0h1m-22 1h1m10 0h1m2 7h1"/>
<path stroke="#aaaaaa" d="M17 3h1m1 1h1m-8 4h1m3 0h1m0 1h1m-8 1h1m13 1h1m-8 1h1m6 0h1m-15 1h1m13 0h1m-13 2h1m2 0h1m-12 2h1m17 1h1m-4 3h1m-10 1h1"/>
<path stroke="#b1b1b1" d="M10 3h1m-8 7h1m14 1h1m-16 2h1m13 0h1m-15 1h1m19 2h1m-3 3h1m-2 1h1m-13 1h1m7 1h1"/>
<path stroke="#b7b7b7" d="M16 3h1m-9 1h1m11 1h1m-7 2h1m7 0h1m-19 1h1m6 0h1m6 2h1m-16 1h1m-1 1h1m14 0h1m-2 2h1m-13 4h1m1 2h1m10 1h1m-8 1h1m3 0h1"/>
<path stroke="#bebebe" d="M11 3h1m9 3h1m-9 1h1m1 0h1m1 1h1m-8 1h1m12 0h1m-6 4h1m-9 1h1m0 1h1m4 0h1m6 0h1m-20 1h1m1 3h1m5 3h3"/>
<path stroke="#c4c4c4" d="M12 3h1m2 0h1m2 1h1m-12 1h1m-2 1h1m-2 1h1m6 0h1m-9 2h1m13 0h1m4 1h1m-15 1h1m8 3h1m-2 1h1m-5 1h2m7 1h1m-14 4h1"/>
<path stroke="#cbcbcb" d="M13 3h2m-6 1h1m-2 1h1m-2 1h1m-2 1h1m9 0h1m-12 1h2m15 0h1m-18 1h1m-2 1h1m4 0h1m-6 1h1m14 0h1m3 0h1m-15 1h1m9 0h1m3 2h1m-20 1h1m10 1h2m2 4h1"/>
<path stroke="#d1d1d1" d="M10 4h1m-2 1h1m-2 1h1m-2 1h1m3 0h1m-2 1h1m7 0h1m-13 1h1m-2 1h2m12 0h1m-15 1h1m-2 1h1m18 0h1m-20 1h1m4 0h1m9 0h1m3 0h1m-20 1h1m13 1h1m-7 1h1m4 0h1m-13 1h1m15 1h1m-2 1h1m-13 1h1m1 1h1m6 0h1"/>
<path stroke="#d8d8d8" d="M11 4h2m4 0h1m-8 1h1m8 0h1m-7 1h3m4 0h1m-13 1h1m8 0h1m3 0h1m-15 1h1m1 1h1m9 0h1m2 0h1m-17 2h1m-2 1h1m13 2h1m-10 1h1m-6 1h1m16 0h1m-10 1h4m-11 1h1m0 1h1"/>
<path stroke="#dedede" d="M13 4h4m-6 1h1m6 0h1m-10 1h1m2 0h1m3 0h1m-7 1h1m-3 1h2m-3 1h2m-2 1h2m-1 1h1m-3 1h1m-2 1h2m-2 1h2m2 0h1m-5 1h2m4 1h1m6 0h1m-13 1h1m5 0h1m4 0h1m-6 1h4m-7 2h1m8 0h1m-8 1h1m4 0h1"/>
<path stroke="#e5e5e5" d="M12 5h6m-8 1h2m5 0h3m-11 1h1m8 0h3m-2 1h1m1 0h1m-2 2h1m1 0h1m-16 1h1m12 0h1m-14 1h2m11 0h1m-14 1h2m-2 2h1m1 0h1m9 0h1m2 0h1m-17 1h5m-4 1h5m9 0h1m-15 1h5m4 0h1m-9 1h1m2 0h4m-3 2h4"/>
<path stroke="#ebebeb" d="M20 8h1m-1 1h2m-1 1h1m-1 1h2m-1 1h1m-3 1h1m1 0h1m-16 1h2m13 0h1m-15 1h1m12 0h1m-3 1h1m1 0h1m-4 1h1m-2 1h1m2 0h1m-12 1h2m4 0h1m3 0h1m-10 1h1"/>
<path stroke="#f2f2f2" d="M21 12h1m-1 1h1m-2 1h2m-2 1h1m-1 1h1m-2 1h2m-3 1h2m-4 1h3m-8 1h7"/>
</g></g></g>
<clipPath id="c2"><circle cx="1347.3" cy="311.8" r="73.0"/></clipPath>
<g clip-path="url(#c2)"><g filter="url(#jet)" transform="translate(1264.30 228.80) scale(6.0)">
<rect x="-1" y="-1" width="30" height="30" fill="#555555"/>
<g fill="none" stroke-width="1.04" transform="translate(0 .5)">
<path stroke="#0d0d0d" d="M13 15h1"/>
<path stroke="#1a1a1a" d="M14 15h1"/>
<path stroke="#272727" d="M13 14h1"/>
<path stroke="#343434" d="M14 14h1"/>
<path stroke="#484848" d="M13 16h1"/>
<path stroke="#4e4e4e" d="M7 0h13m-14 1h3m10 0h3m-18 1h3m14 0h2m-20 1h2m18 0h1m-22 1h2m20 0h1m-23 1h1m22 0h1m-25 1h1m24 0h1m-27 1h1m25 0h1m-27 1h1m26 0h1m-1 1h1m-16 6h1m1 1h1"/>
<path stroke="#5c5c5c" d="M9 2h2m6 0h1m-11 1h1m13 1h1m-18 1h1m19 2h1m-23 1h1m22 0h1m-25 2h1m24 1h1m-27 2h1m-1 1h1m11 0h1m-13 1h1m-1 1h1m-1 1h1m25 2h1m-26 1h1m23 1h1m-24 1h1m0 1h1m20 0h1m-2 1h1m-19 1h1m16 0h1m-17 1h1m1 1h1m10 0h1"/>
<path stroke="#626262" d="M11 2h6m-9 1h1m10 0h1m-14 1h1m-2 1h1m16 0h1m-19 1h1m18 0h1m-21 1h1m21 2h1m-25 2h1m24 1h1m-1 1h1m-1 4h1m-1 1h1m-26 1h1m23 1h1m-24 1h1m21 1h1m-21 2h1m16 1h1m-15 1h1m12 0h1m-12 1h1m8 0h1"/>
<path stroke="#696969" d="M9 3h1m8 0h1m-12 1h1m12 0h1m0 1h1m1 2h1m0 1h1m-23 1h1m22 1h1m-25 2h1m-1 1h1m24 1h1m-12 1h1m10 0h1m-26 1h1m24 0h1m-26 1h1m-1 1h1m23 1h1m-24 1h1m0 2h1m0 1h1m18 0h1m-19 1h1m16 0h1m-17 1h1m13 0h1m-13 1h2m8 0h2m-10 1h8"/>
<path stroke="#6f6f6f" d="M10 3h1m6 0h1m1 1h1m-14 1h1m15 1h1m-20 2h1m-2 2h1m22 1h1m-13 2h1m-13 1h1m-1 1h1m10 1h1m12 2h1m-24 1h1m21 1h1m-22 1h1m20 0h1m-21 1h1m18 0h1m-19 1h1m16 0h1m-17 1h2m12 0h2m-15 1h3m8 0h2m-10 1h8"/>
<path stroke="#767676" d="M11 3h1m4 0h1m-9 1h1m-4 2h1m-2 1h1m19 2h1m-23 2h1m22 1h1m-12 1h1m0 1h1m9 3h1m-24 1h1m0 2h1m19 1h1m-2 1h1m-2 1h1m-5 2h1"/>
<path stroke="#7c7c7c" d="M12 3h4m2 1h1m1 1h1m2 3h1m-21 1h1m21 4h1m-11 3h1m9 0h1m-2 3h1m-21 2h1m0 1h1m0 1h1m12 1h1m-10 1h1m5 0h1"/>
<path stroke="#838383" d="M9 4h1m-3 1h1m13 1h1m0 1h1m-19 1h1m19 2h1m-23 2h1m22 2h1m-1 1h1m-24 2h1m0 2h1m4 5h1m2 1h1m3 0h1"/>
<path stroke="#898989" d="M17 4h1m-12 2h1m-2 1h1m-3 3h1m-2 3h1m9 0h1m-11 3h1m10 1h2m9 1h1m-2 2h1m-2 1h1m-2 1h1m-15 1h1m12 0h1m-3 1h1m-7 1h3"/>
<path stroke="#909090" d="M10 4h1m8 1h1m3 4h1m0 2h1m-10 2h1m-14 1h1m8 0h1m-10 1h1m8 0h1m-8 5h1m4 4h1"/>
<path stroke="#969696" d="M16 4h1m-9 1h1m4 7h2m1 2h1m-1 1h1m-6 1h1m0 1h1m2 0h1m-13 1h1m1 3h1m0 1h1"/>
<path stroke="#9d9d9d" d="M11 4h1m3 0h1m4 2h1m0 1h1m0 1h1m-19 1h1m-2 2h1m8 1h1m11 0h1m-14 1h1m4 3h1m-6 1h1m4 0h1m7 0h1m-13 1h4m7 1h1m-5 4h1m-10 1h1m6 0h1"/>
<path stroke="#a3a3a3" d="M12 4h3m3 1h1m-12 1h1m-3 2h1m17 2h1m-9 2h1m0 1h1m7 0h1m-15 1h1m-1 1h1m6 0h1m-8 1h1m6 0h1m-2 2h1m-9 5h1"/>
<path stroke="#aaaaaa" d="M9 5h1m-4 2h1m-4 5h1m13 2h1m6 0h1m-1 1h1m-1 1h1m-22 1h1m13 0h1m-7 1h1m-8 1h1m8 0h3m6 1h1m-3 2h1m-10 2h1m4 0h1"/>
<path stroke="#b1b1b1" d="M17 5h1m1 1h1m2 3h1m-19 1h1m6 2h1m-9 1h1m14 2h1m-16 1h1m14 0h1m-9 1h1m6 1h1m-6 1h1m8 2h1m-7 3h1"/>
<path stroke="#b7b7b7" d="M10 5h1m-3 1h1m11 1h1m-8 4h2m8 0h1m-8 1h1m-7 1h1m6 0h1m-15 1h1m14 0h1m-16 1h1m14 2h1m4 1h1m-8 1h1m-12 1h1m1 2h1m10 1h1m-7 1h3"/>
<path stroke="#bebebe" d="M16 5h1m4 3h1m-17 1h1m9 2h1m-6 7h1m-5 3h1m2 2h1"/>
<path stroke="#c4c4c4" d="M11 5h1m-5 2h1m-2 1h1m-3 3h1m7 0h1m4 1h1m5 0h1m-6 1h1m-10 2h1m-1 1h1m13 1h1m-20 1h1m0 1h1m5 0h1m2 1h1"/>
<path stroke="#cbcbcb" d="M12 5h1m2 0h1m2 1h1m3 4h1m-7 1h1m-13 1h1m18 1h1m-15 1h1m9 1h1m-16 1h1m14 0h1m3 0h1m-20 1h1m0 1h2m11 0h1m-2 1h1m4 0h1m-17 1h2m5 0h1m1 0h1m-9 1h1m0 1h1m10 0h1m-10 1h1m6 0h1"/>
<path stroke="#d1d1d1" d="M13 5h2m-6 1h1m-5 4h1m8 0h2m-5 1h1m5 0h1m-8 1h1m7 0h1m-15 1h1m-1 1h1m14 0h1m3 0h1m-20 1h1m18 0h1m-19 1h1m-1 1h2m2 0h1m9 0h1m-14 2h2m4 1h1m3 0h1m4 0h1m-14 1h1m11 0h1m-12 1h1m1 1h1"/>
<path stroke="#d8d8d8" d="M8 7h1m10 0h1m-14 2h1m14 0h1m-9 1h1m2 0h2m-13 1h1m12 0h1m-10 2h1m9 0h1m-15 1h1m-1 1h2m-1 1h1m0 2h1m1 0h1m12 0h1m-13 1h1m7 0h1m-11 1h1m2 0h1m-3 1h1m0 1h1m1 1h3m1 0h1"/>
<path stroke="#dedede" d="M10 6h1m6 0h1m-11 2h1m12 0h1m-9 1h5m-5 1h1m9 1h1m-18 1h2m12 0h1m-15 1h2m-1 1h1m1 2h1m-2 1h2m13 0h1m-15 1h1m10 0h1m-12 1h2m11 0h1m-12 1h1m6 0h1m-8 1h1m2 0h2m-4 1h2m4 0h2m-4 1h1"/>
<path stroke="#e5e5e5" d="M11 6h1m4 0h1m-8 1h1m0 1h6m-9 1h5m-6 1h6m-6 1h2m2 0h1m-4 1h1m1 0h1m12 0h1m-16 2h2m-2 1h2m11 0h1m-14 1h1m12 0h1m1 0h1m-3 1h1m-2 2h1m-11 1h1m8 0h3m-10 1h2m2 0h5m-7 1h4"/>
<path stroke="#ebebeb" d="M12 6h4m-6 1h4m4 0h1m-11 1h2m6 0h1m0 1h1m2 0h1m-3 1h1m2 0h1m-14 1h2m9 0h1m1 0h1m-14 1h1m-2 1h2m11 0h1m1 0h1m-3 1h1m1 0h1m-2 1h2m-2 1h1m-1 1h1m-2 1h2m-2 1h1"/>
<path stroke="#f2f2f2" d="M14 7h4m-1 1h3m-2 1h2m-1 1h2m-1 1h1m-1 1h2m-1 1h1m-1 1h1"/>
</g></g></g>
<clipPath id="c3"><circle cx="1555.2" cy="140.4" r="73.6"/></clipPath>
<g clip-path="url(#c3)"><g filter="url(#jet)" transform="translate(1471.60 56.80) scale(6.0)">
<rect x="-1" y="-1" width="30" height="30" fill="#2e2e2e"/>
<g fill="none" stroke-width="1.04" transform="translate(0 .5)">
<path stroke="#0d0d0d" d="M13 0h2m-3 1h4m-4 1h4"/>
<path stroke="#141414" d="M11 0h2m2 0h2m-7 1h2m4 0h2m-8 1h2m4 0h2m-7 1h6"/>
<path stroke="#1a1a1a" d="M9 0h2m6 0h2m-10 1h1m8 0h1m-10 1h1m8 0h1m-10 1h2m6 0h2m-9 1h8"/>
<path stroke="#212121" d="M8 0h1m10 0h1m-13 1h2m10 0h2m-14 1h2m10 0h2m-13 1h1m10 0h1m-12 1h2m8 0h1m-9 1h8"/>
<path stroke="#272727" d="M7 0h1m-2 1h1m14 0h1m-17 1h2m14 0h2m-17 1h2m12 0h2m-16 1h2m11 0h3m-15 1h3m8 0h3m-12 1h10m-18 6h1m-1 1h2m22 0h2m-26 1h2m22 0h2m-26 1h1m23 0h2m-26 1h1m24 0h1m-26 1h1m24 0h1"/>
<path stroke="#343434" d="M6 8h16m-17 1h5m8 0h5m-18 1h2m13 0h3m-18 1h2m14 0h2m-18 1h1m16 0h1m-19 1h2m16 0h2m-20 1h1m18 0h1m-20 1h1m18 0h1m-20 1h1m18 0h1m-20 1h1m18 0h1m-20 1h1m18 0h1m-21 1h1m19 0h1m-21 1h1m20 0h1m-22 1h1m20 0h1m-22 1h1m20 0h1m-22 1h1m20 0h1m-22 1h1m0 1h1"/>
<path stroke="#3b3b3b" d="M10 9h8m-11 1h5m4 0h4m-13 1h2m10 0h2m-15 1h2m12 0h2m-16 1h1m14 0h1m-17 1h1m16 0h1m-18 1h1m16 0h1m-18 1h1m16 0h1m-18 1h1m16 0h1m-1 1h1m-19 1h1m-1 1h1m18 0h1m-20 1h1m18 0h1m-20 1h1m18 0h1m-20 1h1m18 0h1m-20 1h1m17 0h2m-19 1h1m16 0h1"/>
<path stroke="#414141" d="M12 10h4m-7 1h3m3 0h4m-11 1h2m8 0h2m-13 1h1m12 0h1m-15 1h1m13 0h2m-16 1h1m14 0h1m-16 1h1m14 0h1m-17 2h1m-1 1h1m16 0h1m-18 1h1m16 0h1m-18 1h1m16 0h1m-18 1h1m16 0h1m-18 1h1m16 0h1m-18 1h1m15 1h1m-16 1h1m14 0h1"/>
<path stroke="#484848" d="M12 11h3m-5 1h2m4 0h2m-10 1h2m8 0h2m-13 1h2m10 0h1m-13 1h1m12 0h1m-1 1h1m-15 1h1m14 0h1m-16 1h1m14 0h1m-16 1h1m14 0h1m-1 1h1m-1 1h1m-1 1h1m-16 1h1m14 0h1m-16 1h1m14 0h1m-16 1h1m13 1h1"/>
<path stroke="#4e4e4e" d="M12 12h4m-6 1h2m4 0h2m-9 1h1m8 0h1m-11 1h1m10 0h1m-13 1h1m-1 1h1m12 0h1m-14 1h1m12 0h1m-15 2h1m-1 1h1m-1 1h1m13 3h1m-14 1h1m0 1h1m10 0h1"/>
<path stroke="#555555" d="M12 13h4m-6 1h1m5 0h2m-9 1h1m8 0h1m-11 1h1m10 0h1m-12 1h1m10 0h1m-13 2h1m12 0h1m-14 1h1m12 0h1m-1 1h1m-1 1h1m-14 1h1m12 0h1m-14 1h1m12 0h1m-14 1h1"/>
<path stroke="#5c5c5c" d="M11 14h5m-6 1h1m5 0h2m-9 1h1m8 0h1m-10 1h1m8 0h1m-11 1h1m10 0h1m-12 1h1m10 0h1m-13 2h1m-1 1h1"/>
<path stroke="#626262" d="M11 15h5m-6 1h1m5 0h2m-1 1h1m-9 1h1m8 0h1m-11 2h1m10 0h1m-1 1h1m-1 2h1m-1 1h1m-12 2h1m10 0h1m-11 1h1m8 0h1"/>
<path stroke="#696969" d="M11 16h5m-6 1h1m5 0h1m0 1h1m-9 1h1m8 0h1m-11 2h1m-1 1h1m10 0h1m-12 1h1m-1 1h1m-1 1h1m10 0h1"/>
<path stroke="#6f6f6f" d="M11 17h2m2 0h1m-6 1h1m6 1h1m-9 1h1m8 0h1"/>
<path stroke="#767676" d="M13 17h2m-4 1h2m2 0h2m-7 1h1m-2 2h1m8 0h1m-10 1h1m8 0h1m-10 1h1m8 0h1"/>
<path stroke="#7c7c7c" d="M13 18h2m-4 1h1m4 0h1m-7 1h1m6 0h1m0 4h1m-1 2h1m-2 1h1"/>
<path stroke="#838383" d="M12 19h1m2 0h1m0 1h1m-7 1h1m6 0h1m-1 1h1m-9 2h1m-1 2h1m0 1h1"/>
<path stroke="#898989" d="M13 19h2m-4 1h1m-2 2h1m6 1h1m-9 2h1m8 0h1"/>
<path stroke="#909090" d="M12 20h1m2 0h1m-5 1h1m4 0h1m-7 2h1"/>
<path stroke="#969696" d="M13 20h2m-4 2h1m4 0h1"/>
<path stroke="#9d9d9d" d="M12 21h4m0 2h1m-7 1h1m6 0h1m-7 3h1m4 0h1"/>
<path stroke="#a3a3a3" d="M12 22h1m2 0h1m-5 1h1"/>
<path stroke="#aaaaaa" d="M13 22h2m2 4h1"/>
<path stroke="#b1b1b1" d="M12 23h1m2 0h1m1 2h1m-8 1h1m4 1h1"/>
<path stroke="#b7b7b7" d="M13 23h2m-5 2h1m1 2h1"/>
<path stroke="#bebebe" d="M11 24h1m4 0h1"/>
<path stroke="#c4c4c4" d="M13 27h2"/>
<path stroke="#d1d1d1" d="M16 26h1"/>
<path stroke="#d8d8d8" d="M12 24h1m2 0h1m0 1h1m-6 1h1"/>
<path stroke="#dedede" d="M11 25h1"/>
<path stroke="#e5e5e5" d="M14 24h1"/>
<path stroke="#ebebeb" d="M13 24h1m1 2h1"/>
<path stroke="#f2f2f2" d="M12 26h1"/>
<path stroke="#f8f8f8" d="M15 25h1"/>
<path stroke="#ffffff" d="M12 25h3m-2 1h2"/>
</g></g></g>
<clipPath id="c4"><circle cx="1555.2" cy="312.2" r="73.6"/></clipPath>
<g clip-path="url(#c4)"><g filter="url(#jet)" transform="translate(1471.60 228.60) scale(6.0)">
<rect x="-1" y="-1" width="30" height="30" fill="#2e2e2e"/>
<g fill="none" stroke-width="1.04" transform="translate(0 .5)">
<path stroke="#0d0d0d" d="M12 25h4m-4 1h4"/>
<path stroke="#141414" d="M13 23h2m-4 1h6m-7 1h2m4 0h2m-8 1h2m4 0h2m-7 1h6"/>
<path stroke="#1a1a1a" d="M13 22h2m-5 1h3m2 0h3m-9 1h2m6 0h2m-10 1h1m8 0h1m-10 1h1m8 0h1m-10 1h2m6 0h2"/>
<path stroke="#212121" d="M10 22h3m2 0h3m-10 1h2m8 0h2m-12 1h1m10 0h1m-13 1h2m10 0h2m-14 1h2m10 0h2m-13 1h1m10 0h1"/>
<path stroke="#272727" d="M1 10h1m24 0h1m-26 1h1m24 0h1m-26 1h1m23 0h2m-26 1h2m22 0h2m-26 1h1m23 0h2m-18 7h10m-12 1h3m8 0h3m-15 1h2m12 0h2m-16 1h2m12 0h2m-17 1h2m14 0h2m-17 1h1m14 0h1"/>
<path stroke="#343434" d="M4 2h1m18 0h1m-21 1h1m20 0h1m-22 1h1m20 0h1m-22 1h1m20 0h1m-22 1h1m20 0h1m-22 1h1m20 0h1m-22 1h1m19 0h1m-20 1h1m18 0h1m-20 1h1m18 0h1m-20 1h1m18 0h1m-20 1h1m18 0h1m-20 1h1m18 0h1m-20 1h2m16 0h1m-18 1h1m16 0h1m-18 1h2m14 0h2m-18 1h3m12 0h3m-18 1h7m4 0h7m-17 1h16"/>
<path stroke="#3b3b3b" d="M5 2h1m16 0h1m-19 1h1m18 0h1m-20 1h1m18 0h1m-20 1h1m18 0h1m-20 1h1m18 0h1m-20 1h1m18 0h1m-20 1h1m17 1h1m-18 1h1m16 0h1m-18 1h1m16 0h1m-18 1h1m16 0h1m-18 1h1m15 0h2m-17 1h1m14 0h1m-16 1h2m12 0h2m-15 1h2m10 0h2m-13 1h12m-8 1h4"/>
<path stroke="#414141" d="M7 0h1m-2 1h1m14 0h1m-1 1h1m-17 1h1m16 0h1m-18 1h1m16 0h1m-18 1h1m16 0h1m-18 1h1m16 0h1m-18 1h1m16 0h1m-18 1h1m16 0h1m-18 1h1m15 1h1m-16 1h1m14 0h1m-16 1h1m14 0h1m-16 1h2m12 0h1m-14 1h1m11 0h2m-13 1h2m8 0h2m-11 1h10"/>
<path stroke="#484848" d="M6 2h1m-1 1h1m14 0h1m-16 1h1m14 0h1m-1 2h1m-16 1h1m14 0h1m-16 1h1m14 0h1m-16 1h1m14 0h1m-16 1h1m0 1h1m12 0h1m-14 1h1m12 0h1m-13 1h1m10 0h1m-12 1h2m8 0h1m-9 1h3m2 0h3"/>
<path stroke="#4e4e4e" d="M19 0h1m-13 1h1m12 0h1m-1 1h1m-15 3h1m14 0h1m-16 1h1m0 3h1m12 0h1m-14 1h1m12 0h1m-2 1h1m-12 1h1m10 0h1m-11 1h1m8 0h1m-9 1h2m4 0h2m-5 1h2"/>
<path stroke="#555555" d="M8 0h1m-2 2h1m-1 1h1m12 0h1m-14 1h1m12 0h1m-1 1h1m-1 1h1m-14 1h1m12 0h1m-14 1h1m12 0h1m-13 2h1m10 0h1m-12 1h1m0 1h1m8 0h1m-9 1h2m4 0h2m-6 1h4"/>
<path stroke="#5c5c5c" d="M7 5h1m-1 1h1m0 2h1m10 0h1m-12 1h1m10 0h1m-11 1h1m8 0h1m-10 1h1m8 0h1m-9 1h2m4 0h2m-6 1h4"/>
<path stroke="#626262" d="M8 1h1m10 0h1m-1 2h1m-1 1h1m-1 2h1m-12 1h1m10 0h1m-11 2h1m8 0h1m-9 1h1m6 0h1m-8 1h2m4 0h2m-6 1h4"/>
<path stroke="#696969" d="M9 0h1m8 0h1m-11 2h1m10 0h1m-12 1h1m-1 1h1m-1 1h1m10 0h1m-12 1h1m0 2h1m8 0h1m-9 1h1m6 0h1m-7 1h1m4 0h1m-5 1h4"/>
<path stroke="#6f6f6f" d="M18 6h1m-10 1h1m8 0h1m-9 1h1m6 0h1m-7 1h1m4 0h1m-5 1h4"/>
<path stroke="#767676" d="M9 4h1m8 0h1m-10 1h1m8 0h1m-10 1h1m2 3h1m2 0h1"/>
<path stroke="#7c7c7c" d="M9 3h1m8 0h1m-9 4h1m6 0h1m-7 1h1m4 0h1m-4 1h2"/>
<path stroke="#838383" d="M17 0h1m0 1h1m-2 4h1m-8 1h1m6 0h1m-7 1h1m4 0h1m-5 1h4"/>
<path stroke="#898989" d="M10 0h1m-2 1h1m-1 1h1m8 0h1m-9 2h1m6 0h1m-8 1h1"/>
<path stroke="#909090" d="M11 6h1m4 0h1m-5 1h4"/>
<path stroke="#969696" d="M17 3h1m-7 2h1m4 0h1m-5 1h1m2 0h1"/>
<path stroke="#9d9d9d" d="M10 3h1m0 1h1m4 0h1m-4 2h2"/>
<path stroke="#a3a3a3" d="M16 0h1m-5 5h1m2 0h1"/>
<path stroke="#aaaaaa" d="M11 0h1m5 1h1m-3 3h1m-3 1h2"/>
<path stroke="#b1b1b1" d="M10 1h1m6 1h1m-6 2h1"/>
<path stroke="#b7b7b7" d="M10 2h1m5 1h1m-4 1h2"/>
<path stroke="#bebebe" d="M12 0h1m2 0h1m-5 3h1"/>
<path stroke="#cbcbcb" d="M13 0h2"/>
<path stroke="#d1d1d1" d="M12 3h1m2 0h1"/>
<path stroke="#d8d8d8" d="M11 1h1m4 0h1m-1 1h1"/>
<path stroke="#dedede" d="M11 2h1m1 1h2"/>
<path stroke="#f2f2f2" d="M15 1h1"/>
<path stroke="#f8f8f8" d="M12 1h1m-1 1h1m2 0h1"/>
<path stroke="#ffffff" d="M13 1h2m-2 1h2"/>
</g></g></g>
<clipPath id="c5"><circle cx="1759.2" cy="139.8" r="73.2"/></clipPath>
<g clip-path="url(#c5)"><g filter="url(#jet)" transform="translate(1676.00 56.60) scale(6.0)">
<rect x="-1" y="-1" width="30" height="30" fill="#484848"/>
<g fill="none" stroke-width="1.04" transform="translate(0 .5)">
<path stroke="#0d0d0d" d="M11 25h5m-3 1h2"/>
<path stroke="#141414" d="M12 1h4m-10 12h1m14 0h1m-10 11h3m-5 1h1m5 0h2m-7 1h2m2 0h2"/>
<path stroke="#1a1a1a" d="M12 0h4m-6 1h2m4 0h1m-6 1h6m-11 10h1m14 0h1m-16 2h1m14 0h1m-11 10h1m3 0h2m-8 1h1m8 0h1m-9 1h1m6 0h1"/>
<path stroke="#212121" d="M10 0h2m4 0h2m-9 1h1m7 0h2m-9 1h1m6 0h1m-13 11h1m14 0h1m-16 1h1m0 1h1m14 0h1m-13 9h2m6 0h2m-11 1h1m10 0h1m-11 1h1m8 0h1m-8 1h6"/>
<path stroke="#272727" d="M9 0h1m8 0h1m-11 1h1m10 0h1m-12 1h2m8 0h1m-9 1h7m-11 8h1m14 0h1m-17 1h1m14 0h1m1 1h1m-3 1h1m-10 9h5m-8 1h1m10 0h1m-13 1h1m12 0h1m-13 1h1m10 0h1m-11 1h2m6 0h1"/>
<path stroke="#2e2e2e" d="M7 0h2m10 0h1m-13 1h1m12 0h1m-14 1h1m11 0h2m-12 1h1m7 0h2m-14 8h1m14 0h1m-14 1h1m14 0h1m-16 1h1m-1 1h1m14 0h1m-18 1h1m14 0h1m1 0h1m-17 1h1m14 0h1m-13 7h2m5 0h3m-12 1h1m12 0h1m-15 1h1m14 0h1m-16 1h2m12 0h1m-13 1h1m9 0h2"/>
<path stroke="#343434" d="M6 1h1m14 0h1m-16 1h1m14 0h1m-15 1h2m10 0h2m-12 1h3m4 0h2m-13 6h2m14 0h1m-15 1h1m14 0h1m-16 4h1m-3 1h1m14 0h1m-14 7h2m10 0h1m-14 1h1m14 0h1m-17 1h1m16 0h1m-2 1h1"/>
<path stroke="#3b3b3b" d="M4 2h2m16 0h1m-18 1h2m14 0h2m-16 1h2m3 0h4m2 0h3m-15 5h1m14 0h1m-15 1h1m12 0h1m1 0h1m-19 3h1m-1 1h1m2 2h1m14 0h1m-18 1h2m13 0h2m-14 5h5m2 0h5m-15 1h2m13 0h2m-18 1h2m16 0h2"/>
<path stroke="#414141" d="M3 3h2m18 0h2m-21 1h3m14 0h3m-19 1h6m6 0h6m-15 1h1m10 0h1m-15 2h3m12 0h3m-18 1h1m1 0h1m12 0h1m1 0h1m-19 1h1m14 0h1m-16 1h1m14 0h1m-16 1h1m14 0h1m3 0h1m-5 1h1m3 0h1m-5 1h1m3 0h1m-20 1h1m14 0h1m-16 1h1m14 0h1m-13 1h1m14 0h1m-18 1h3m12 0h3m-17 1h1m14 0h1m-15 2h4m6 0h4m-17 1h4m5 0h2m5 0h3m-20 1h2m17 0h3m-22 1h1"/>
<path stroke="#4e4e4e" d="M15 5h1m-15 1h2m7 0h1m14 0h2m-27 1h3m21 0h3m-27 1h1m1 0h2m5 0h1m8 0h1m5 0h2m1 0h1m-28 1h1m2 0h1m14 0h1m5 0h1m2 0h1m-25 1h1m20 0h1m2 0h1m-25 1h1m20 0h1m-22 1h1m20 0h1m-22 1h1m-1 1h1m-1 1h1m20 0h1m-22 1h1m20 0h1m-22 1h1m14 0h1m5 0h1m2 0h1m-28 1h1m2 0h1m5 0h1m14 0h1m2 0h1m-28 1h1m1 0h2m20 0h4m-27 1h2m7 0h1m13 0h3m-26 1h2m12 0h1m9 0h2"/>
<path stroke="#555555" d="M12 5h1m4 2h1m-17 1h1m24 0h1m-26 1h2m6 0h1m15 0h2m-27 1h3m15 0h1m6 0h2m-27 1h1m1 0h1m22 0h1m1 0h1m-28 1h1m1 0h1m24 0h1m-28 1h1m23 0h1m2 0h1m-28 1h1m23 0h1m2 0h1m-28 1h1m1 0h1m24 0h1m-28 1h1m1 0h1m15 0h1m6 0h1m1 0h1m-28 1h3m6 0h1m15 0h2m-26 1h2m22 0h2m-26 1h1m8 0h1m6 0h1m-2 1h1m-5 1h1m1 0h1"/>
<path stroke="#5c5c5c" d="M13 5h2m-4 1h1m4 0h1m-7 1h1m-10 4h1m16 0h1m7 0h1m-26 1h1m23 0h2m-26 1h2m22 0h2m-26 1h2m15 0h1m6 0h2m-26 1h1m16 0h1m6 0h2m-26 1h1m7 0h1m16 0h1m-16 4h1m1 1h1"/>
<path stroke="#626262" d="M17 8h1m-9 2h1m8 2h1m-1 1h1m-2 5h1"/>
<path stroke="#696969" d="M9 11h1m-1 3h1m-1 1h1m0 3h1m4 2h1"/>
<path stroke="#6f6f6f" d="M15 6h1m0 1h1m-7 1h1m-2 4h1m-1 1h1m7 4h1m-2 2h1m-5 1h1"/>
<path stroke="#767676" d="M12 6h1m4 3h1m-7 10h1"/>
<path stroke="#7c7c7c" d="M11 7h1m-2 10h1m2 3h2"/>
<path stroke="#838383" d="M13 6h2m-5 3h1m6 1h1m-1 6h1"/>
<path stroke="#898989" d="M16 18h1"/>
<path stroke="#909090" d="M16 8h1m0 7h1m-8 1h1m4 3h1"/>
<path stroke="#969696" d="M15 7h1m-6 3h1m6 1h1m-7 7h1m0 1h1"/>
<path stroke="#9d9d9d" d="M12 7h1m-2 1h1m5 4h1m-1 1h1m-1 1h1"/>
<path stroke="#a3a3a3" d="M10 11h1m-1 4h1m5 2h1m-4 2h2"/>
<path stroke="#aaaaaa" d="M14 7h1m1 2h1"/>
<path stroke="#b1b1b1" d="M13 7h1m-4 5h1m-1 1h1m-1 1h1m0 3h1m3 1h1"/>
<path stroke="#b7b7b7" d="M15 8h1m-5 1h1m0 9h1"/>
<path stroke="#bebebe" d="M16 16h1"/>
<path stroke="#c4c4c4" d="M12 8h1m3 2h1"/>
<path stroke="#cbcbcb" d="M11 16h1m1 2h2"/>
<path stroke="#d1d1d1" d="M13 8h2m-4 2h1m4 1h1m-1 4h1m-2 2h1"/>
<path stroke="#d8d8d8" d="M15 9h1m0 3h1m-1 2h1m-5 3h1"/>
<path stroke="#dedede" d="M12 9h1m-2 2h1m4 2h1m-6 2h1"/>
<path stroke="#e5e5e5" d="M11 12h1m-1 1h1m-1 1h1m3 2h1m-3 1h2"/>
<path stroke="#ebebeb" d="M13 9h2m0 1h1m-4 6h1"/>
<path stroke="#f2f2f2" d="M12 10h1m2 1h1m-1 4h1m-2 1h1"/>
<path stroke="#f8f8f8" d="M13 10h2m-3 1h1m-1 1h1m2 0h1m-1 1h1m-4 1h1m2 0h1m-4 1h1m0 1h1"/>
<path stroke="#ffffff" d="M13 11h2m-2 1h2m-3 1h3m-2 1h2m-2 1h2"/>
</g></g></g>
<clipPath id="c6"><circle cx="1759.2" cy="312.2" r="73.2"/></clipPath>
<g clip-path="url(#c6)"><g filter="url(#jet)" transform="translate(1676.00 229.00) scale(6.0)">
<rect x="-1" y="-1" width="30" height="30" fill="#484848"/>
<g fill="none" stroke-width="1.04" transform="translate(0 .5)">
<path stroke="#0d0d0d" d="M12 1h4m-4 1h4"/>
<path stroke="#141414" d="M10 1h2m4 0h1m-7 1h2m4 0h1m-11 11h1m14 0h1m-16 1h1m14 0h1m-9 11h2m-2 1h2"/>
<path stroke="#1a1a1a" d="M12 0h4m-7 1h1m7 0h1m-9 1h1m7 0h1m-7 1h5m-10 12h1m14 0h1m-11 10h2m2 0h2m-6 1h2m2 0h2"/>
<path stroke="#212121" d="M10 0h2m4 0h2m-10 1h1m9 0h1m-11 1h1m9 0h1m-9 1h1m5 0h2m-12 9h1m14 0h1m-17 1h1m-1 1h1m5 10h5m-7 1h2m6 0h1m-9 1h2m6 0h1m-7 1h6"/>
<path stroke="#272727" d="M9 0h1m8 0h1m-12 1h1m11 0h1m-13 1h1m11 0h1m-11 1h1m8 0h1m-14 9h1m14 1h1m1 0h1m-3 1h1m1 0h1m-18 1h1m14 0h1m-15 1h1m14 0h1m-12 8h1m5 0h2m-10 1h1m9 0h2m-12 1h1m9 0h2m-11 1h2m6 0h1"/>
<path stroke="#2e2e2e" d="M7 0h2m10 0h1m-14 1h1m13 0h2m-16 1h1m13 0h2m-15 1h2m10 0h1m-10 1h7m-11 7h1m14 0h1m-15 1h1m12 0h1m1 0h1m-16 1h1m-1 1h1m-1 1h1m14 0h1m-18 1h1m2 8h2m8 0h2m-13 1h1m12 0h1m-14 1h1m12 0h1m-13 1h1m9 0h2"/>
<path stroke="#343434" d="M5 2h1m16 0h1m-17 1h1m13 0h2m-14 1h2m7 0h3m-14 6h1m14 0h1m-17 1h1m14 0h1m1 0h1m-16 5h1m12 0h1m1 0h1m-17 1h1m14 0h1m-14 6h11m-13 1h2m12 0h1m-15 1h1m14 0h1m-16 1h1m14 0h1"/>
<path stroke="#3b3b3b" d="M4 2h1m-1 1h2m16 0h2m-18 1h2m12 0h2m-12 1h1m5 0h2m-13 5h1m1 0h1m12 0h1m1 0h1m-16 1h1m-4 2h1m-1 1h1m0 3h1m1 0h1m12 0h1m1 0h1m-17 1h1m14 0h1m-13 4h2m6 0h2m-13 1h2m11 0h3m-17 1h1m15 0h2m-18 1h1m16 0h1"/>
<path stroke="#414141" d="M3 3h1m20 0h1m-22 1h3m16 0h2m-19 1h5m1 0h2m1 0h2m2 0h5m-15 1h2m8 0h1m-13 2h1m14 0h1m-17 1h3m12 0h3m-4 1h1m-16 1h1m14 0h1m-16 1h1m14 0h1m-1 1h1m3 0h1m-5 1h1m3 0h1m-20 1h1m14 0h1m3 0h1m-20 1h1m14 0h1m-1 1h1m-15 1h1m1 0h1m12 0h1m1 0h1m-18 1h2m13 0h2m-16 2h4m8 0h3m-16 1h4m2 0h1m4 0h1m2 0h4m-20 1h3m16 0h2m-21 1h2m18 0h1"/>
<path stroke="#4e4e4e" d="M1 6h2m8 0h1m13 0h2m-27 1h3m7 0h1m6 0h1m6 0h3m-27 1h1m1 0h2m20 0h2m1 0h1m-28 1h1m2 0h1m5 0h1m8 0h1m5 0h1m2 0h1m-25 1h1m14 0h1m5 0h1m2 0h1m-25 1h1m20 0h1m-22 1h1m20 0h1m-22 1h1m-1 1h1m-1 1h1m20 0h1m-22 1h1m20 0h1m-22 1h1m20 0h1m2 0h1m-28 1h1m2 0h1m14 0h1m5 0h1m2 0h1m-28 1h1m1 0h2m5 0h1m14 0h4m-27 1h2m14 0h1m6 0h3m-26 1h2m22 0h2m-14 1h2"/>
<path stroke="#555555" d="M15 6h1m-15 2h1m15 0h1m8 0h1m-26 1h2m22 0h2m-27 1h3m6 0h1m15 0h2m-27 1h1m1 0h1m15 0h1m6 0h1m1 0h1m-28 1h1m1 0h1m24 0h1m-28 1h1m23 0h1m2 0h1m-28 1h1m23 0h1m2 0h1m-28 1h1m1 0h1m24 0h1m-28 1h1m1 0h1m22 0h1m1 0h1m-28 1h3m15 0h1m6 0h2m-26 1h2m6 0h1m15 0h2m-26 1h1m8 1h1m0 1h1m4 0h1"/>
<path stroke="#5c5c5c" d="M12 6h1m3 1h1m-7 1h1m-10 3h1m24 0h1m-26 1h1m16 0h1m6 0h2m-26 1h2m22 0h2m-26 1h2m22 0h2m-26 1h1m16 0h1m6 0h2m-26 1h1m16 0h1m7 0h1m-18 1h1m7 2h1"/>
<path stroke="#626262" d="M13 6h2m-4 1h1m5 2h1m-9 2h1m8 2h1m-1 1h1m-10 2h1"/>
<path stroke="#696969" d="M9 12h1m-1 3h1m0 4h1m5 1h1m-5 1h1m2 0h1"/>
<path stroke="#6f6f6f" d="M10 9h1m-2 4h1m-1 1h1m7 4h1"/>
<path stroke="#767676" d="M15 7h1m0 1h1m0 2h1m-7 10h1m1 1h2"/>
<path stroke="#7c7c7c" d="M12 7h1m-2 1h1m-2 10h1"/>
<path stroke="#838383" d="M14 7h1m-5 3h1m6 7h1"/>
<path stroke="#898989" d="M13 7h1m3 4h1m-2 8h1m-2 1h1"/>
<path stroke="#909090" d="M16 9h1m0 7h1m-8 1h1m1 3h1"/>
<path stroke="#969696" d="M15 8h1m-6 3h1m6 1h1m-7 7h1"/>
<path stroke="#9d9d9d" d="M12 8h1m-2 1h1m5 4h1m-1 1h1m-1 1h1"/>
<path stroke="#a3a3a3" d="M10 12h1m-1 4h1m5 2h1m-4 2h2"/>
<path stroke="#aaaaaa" d="M16 10h1"/>
<path stroke="#b1b1b1" d="M13 8h2m-5 5h1m-1 1h1m-1 1h1m0 3h1m3 1h1"/>
<path stroke="#b7b7b7" d="M11 10h1m0 9h1"/>
<path stroke="#bebebe" d="M15 9h1m0 8h1"/>
<path stroke="#c4c4c4" d="M12 9h1m3 2h1"/>
<path stroke="#cbcbcb" d="M11 17h1m1 2h2"/>
<path stroke="#d1d1d1" d="M13 9h2m-4 2h1m4 1h1m-1 4h1m-2 2h1"/>
<path stroke="#d8d8d8" d="M15 10h1m0 3h1m-1 2h1m-5 3h1"/>
<path stroke="#dedede" d="M12 10h1m-2 2h1m4 2h1m-6 2h1"/>
<path stroke="#e5e5e5" d="M11 13h1m-1 1h1m-1 1h1m3 2h1m-3 1h2"/>
<path stroke="#ebebeb" d="M13 10h2m0 1h1m-4 6h1"/>
<path stroke="#f2f2f2" d="M12 11h1m2 1h1m-1 4h1m-2 1h1"/>
<path stroke="#f8f8f8" d="M13 11h2m-3 1h1m-1 1h1m2 0h1m-1 1h1m-4 1h1m2 0h1m-4 1h1m0 1h1"/>
<path stroke="#ffffff" d="M13 12h2m-2 1h2m-3 1h3m-2 1h2m-2 1h2"/>
</g></g></g>
<clipPath id="c7"><circle cx="1963.6" cy="139.4" r="72.8"/></clipPath>
<g clip-path="url(#c7)"><g filter="url(#jet)" transform="translate(1880.80 56.60) scale(6.0)">
<rect x="-1" y="-1" width="30" height="30" fill="#555555"/>
<g fill="none" stroke-width="1.04" transform="translate(0 .5)">
<path stroke="#000000" d="M13 0h2m-2 1h2m-2 1h1m-1 22h1m-1 1h2m-2 1h2m-2 1h2"/>
<path stroke="#070707" d="M14 2h1m-1 22h1"/>
<path stroke="#0d0d0d" d="M13 9h1m-1 1h1m-1 1h1m-1 1h1m-1 1h1m-1 1h1m-1 1h1m-1 1h1m-1 7h1"/>
<path stroke="#141414" d="M12 1h1m0 2h1m-1 5h1m-1 9h1m-2 8h1m-1 1h1"/>
<path stroke="#1a1a1a" d="M12 0h1m0 18h1m1 7h1m-1 1h1m-4 1h1"/>
<path stroke="#212121" d="M15 0h1m-1 1h1m-4 1h1m1 1h1m-2 4h1m0 2h1m-1 1h1m-1 1h1m-1 1h1m-1 1h1m-1 1h1m-1 1h1m-1 1h1m-1 1h1m-1 6h1m-3 1h1m-2 1h1m-1 1h1"/>
<path stroke="#272727" d="M11 0h1m-2 1h2m4 0h2m-4 7h1m-2 11h1m-4 6h1m5 0h2m-8 1h1m5 0h2m-3 1h1"/>
<path stroke="#2e2e2e" d="M9 0h2m5 0h2m-10 1h2m8 0h1m-4 1h1m-3 2h1m-1 2h1m0 12h1m-2 4h1m1 2h1m-8 1h2m8 0h1m-10 1h1m8 0h1m-9 1h2m4 0h1"/>
<path stroke="#343434" d="M8 0h1m9 0h2m-13 1h1m11 0h2m-11 1h2m4 0h2m-4 5h1m-6 17h3m4 0h3m-12 1h1m11 0h2m-14 1h2m10 0h1m-11 1h1m7 0h2"/>
<path stroke="#3b3b3b" d="M7 0h1m-2 1h1m14 0h1m-16 1h4m8 0h4m-9 3h1m-2 4h1m-1 1h1m-1 1h1m-1 1h1m-1 1h1m-1 1h1m-1 1h1m-1 1h1m1 3h1m-2 1h1m-2 3h1m-6 1h2m10 0h2m-15 1h1m14 0h1m-16 1h1m13 0h1m-13 1h1"/>
<path stroke="#414141" d="M4 2h2m16 0h1m-11 1h1m1 1h1m-1 2h1m-3 2h1m-1 9h1m0 4h1m0 1h1m-11 2h3m14 0h2m-18 1h1m16 0h1"/>
<path stroke="#484848" d="M3 3h4m14 0h3m-9 6h1m-1 1h1m-1 1h1m-1 1h1m-1 1h1m-1 1h1m-1 1h1m-1 1h1m-13 7h5m7 0h1m3 0h5m-1 1h1"/>
<path stroke="#4e4e4e" d="M7 3h1m7 0h1m3 0h2m-19 1h3m17 0h3m-11 1h1m9 0h1m-14 5h1m-1 1h1m4 0h1m-6 1h1m4 0h1m-6 1h1m4 0h1m-6 1h1m4 0h1m-6 1h1m4 0h1m-2 2h1m-4 1h1m1 2h1m-12 1h1m10 0h1m8 0h2m-23 1h4m16 0h3m-17 1h4m4 0h3m5 0h1"/>
<path stroke="#5c5c5c" d="M12 4h1m8 0h1m-18 1h1m-2 1h1m20 0h1m-24 1h2m22 0h1m-25 1h1m24 0h1m-11 1h1m9 0h1m-27 1h1m9 0h1m-11 1h1m16 0h1m-18 1h1m16 0h1m-18 1h1m16 0h1m-18 1h1m16 0h1m-18 1h1m9 0h1m-11 1h1m10 1h1m14 0h1m-26 1h1m13 0h1m10 0h1m-26 1h2m9 0h1m11 0h3m-4 1h1m-2 1h1m-11 1h1m7 0h1"/>
<path stroke="#626262" d="M6 4h1m5 2h1m2 1h1m8 0h1m-14 1h1m13 0h1m-25 1h1m24 1h1m-1 1h1m-10 4h1m8 0h1m-17 1h1m15 0h1m-26 1h1m0 1h1m22 0h1m-23 1h1m0 1h1m0 1h1m1 1h1"/>
<path stroke="#696969" d="M15 4h1m4 0h1m-9 1h1m9 0h1m0 1h1m-22 2h1m7 1h1m-10 1h1m15 0h1m8 2h1m-1 1h1m-1 1h1m-26 2h1m14 1h1m8 0h1m-5 4h1m-14 1h1m6 0h1m3 0h1"/>
<path stroke="#6f6f6f" d="M7 4h1m-3 1h1m-2 1h1m-2 1h1m12 1h1m8 1h1m-25 2h1m7 1h1m-1 1h1m-9 1h1m7 0h1m-9 1h1m0 2h1m8 1h1m12 0h1m-10 1h1m7 0h1m-12 1h1m9 0h1m-11 1h1m-4 1h3m4 0h3"/>
<path stroke="#767676" d="M11 4h1m4 0h1m2 0h1m-5 2h1m-5 1h1m12 1h1m-23 1h1m22 1h1m-17 1h1m-9 1h1m-1 1h1m15 3h1m7 0h1m-16 1h1m-8 1h1m2 3h1"/>
<path stroke="#7c7c7c" d="M8 4h1m1 0h1m6 0h2m-4 1h1m5 0h1m-5 4h1m0 4h1m-10 2h1m15 0h1m-24 1h1m13 2h1m-13 1h1m0 1h1m9 0h1m-1 1h1m4 0h1"/>
<path stroke="#838383" d="M9 4h1m1 2h1m10 0h1m-7 1h1m6 0h1m-14 1h1m-2 2h1m15 1h1m-8 1h1m-1 2h1m5 3h1m-14 2h1m-5 2h1"/>
<path stroke="#898989" d="M6 5h1m4 0h1m-9 3h1m-2 2h1m15 1h1m6 1h1m-1 1h1m-1 1h1m-9 3h1m-2 2h1m-6 2h1m4 0h1"/>
<path stroke="#909090" d="M16 5h1m-1 1h1m-13 1h1m12 1h1m6 1h1m-23 6h1m15 0h1m-10 1h1m-7 1h1m6 1h1m12 0h1m-13 2h1m9 0h1m-14 1h1m1 0h1m6 0h1m1 0h1"/>
<path stroke="#969696" d="M10 5h1m9 0h1m-16 1h1m4 1h1m-2 2h1m8 1h1m-17 1h1m-1 3h1m21 2h1m-3 3h1m-17 1h1m9 0h1m-8 1h1m8 0h1"/>
<path stroke="#9d9d9d" d="M7 5h1m9 0h1m-8 1h1m-9 6h1m-1 1h1m1 5h1m12 0h1m-8 1h1m-1 1h1"/>
<path stroke="#a3a3a3" d="M8 5h2m8 0h2m1 1h1m-5 1h1m5 1h1m-21 1h1m20 1h1m-17 2h1m-1 1h1m9 3h1m-10 1h1m-5 2h1m11 1h1m2 0h1"/>
<path stroke="#aaaaaa" d="M17 6h1m4 1h1m-14 1h1m8 1h1m-11 2h1m-1 3h1m15 1h1m-22 1h1m19 1h1m-7 2h1m-11 1h1"/>
<path stroke="#b1b1b1" d="M6 6h1m2 0h1m-6 2h1m19 3h1m-17 4h1m9 2h1m-10 1h1m-2 2h2m8 0h2"/>
<path stroke="#b7b7b7" d="M18 6h1m-14 1h1m3 0h1m8 1h1m-16 2h1m4 0h1m15 4h1m-3 4h1m-14 1h1m11 0h1"/>
<path stroke="#bebebe" d="M7 6h2m11 0h1m-3 1h1m4 2h1m-5 3h1m4 0h1m-6 1h1m4 0h1m-6 1h1m-17 1h1m4 1h1m-5 1h1m13 1h1m-13 1h1m11 0h1"/>
<path stroke="#c4c4c4" d="M19 6h1m-12 3h1m-6 2h1m15 0h1m3 5h1m-19 2h1m2 1h1"/>
<path stroke="#cbcbcb" d="M8 7h1m12 0h1m-14 1h1m13 0h1m-4 2h1m-17 4h1m15 1h1m-12 2h1m-1 1h1m-2 1h1m11 0h2"/>
<path stroke="#d1d1d1" d="M6 7h1m12 0h1m-16 2h1m14 0h1m3 1h1m-21 2h1m-1 1h1m15 3h1m1 2h1"/>
<path stroke="#d8d8d8" d="M7 7h1m12 0h1m-16 1h1m13 0h1m-13 5h1m15 2h1m-20 1h1m14 1h1m2 0h1m-17 1h1m12 0h1"/>
<path stroke="#dedede" d="M7 8h1m13 0h1m0 1h1m-19 1h1m2 1h1m15 0h1m-17 1h1m-1 2h1m-1 1h1m-3 2h1m1 1h1m12 0h1"/>
<path stroke="#e5e5e5" d="M6 8h1m13 0h1m-14 1h1m-1 1h1m15 2h1m-1 1h1m-1 1h1m-20 1h1m2 1h1m14 0h1m-16 1h1m12 0h2"/>
<path stroke="#ebebeb" d="M5 9h1m14 0h2m-2 1h1m1 0h1m-19 1h1m15 0h1m-1 1h1m-1 1h1m-17 1h1m15 0h1m-1 1h1m-16 1h1m14 0h1m-15 1h1"/>
<path stroke="#f2f2f2" d="M6 9h1m-2 1h2m14 0h1m-16 1h1m15 0h1m-19 1h1m1 0h1m-3 1h1m1 0h1m-1 1h1m-2 1h2m15 0h1m-17 1h1m14 0h1"/>
<path stroke="#f8f8f8" d="M5 11h1m15 0h1m-17 1h1m15 0h2m-18 1h1m15 0h2m-18 1h1m15 0h2m-2 1h1"/>
</g></g></g>
<clipPath id="c8"><circle cx="1963.6" cy="312.2" r="72.8"/></clipPath>
<g clip-path="url(#c8)"><g filter="url(#jet)" transform="translate(1880.80 229.40) scale(6.0)">
<rect x="-1" y="-1" width="30" height="30" fill="#555555"/>
<g fill="none" stroke-width="1.04" transform="translate(0 .5)">
<path stroke="#000000" d="M13 0h2m-2 1h2m-2 1h2m-2 1h1m-1 22h2m-2 1h2m-2 1h2"/>
<path stroke="#070707" d="M13 24h1"/>
<path stroke="#0d0d0d" d="M12 1h1m1 2h1m-2 7h1m-1 1h1m-1 1h1m-1 1h1m-1 1h1m-1 1h1m-1 1h1m-1 1h1"/>
<path stroke="#141414" d="M12 2h1m0 7h1m-1 9h1m0 6h1m-3 2h1"/>
<path stroke="#1a1a1a" d="M12 0h1m2 1h1m-3 3h1m-1 15h1m-2 6h1m-1 2h1"/>
<path stroke="#212121" d="M15 0h1m-5 1h1m3 1h1m-3 6h1m0 2h1m-1 1h1m-1 1h1m-1 1h1m-1 1h1m-1 1h1m-1 1h1m-1 1h1m-1 1h1m0 7h1m-1 1h1"/>
<path stroke="#272727" d="M11 0h1m4 0h1m-7 1h1m5 0h2m-7 1h1m4 0h1m-5 1h1m1 6h1m-1 10h1m-2 1h1m-1 3h1m-4 3h2m4 0h1m-2 1h1"/>
<path stroke="#2e2e2e" d="M9 0h2m6 0h1m-10 1h2m8 0h1m-10 1h2m6 0h2m-5 2h1m-5 21h2m4 0h2m-9 1h1m7 0h2m-9 1h2m4 0h1"/>
<path stroke="#343434" d="M8 0h1m9 0h2m-13 1h1m11 0h2m-14 1h2m10 0h1m-5 1h1m-3 2h1m-1 2h1m0 1h1m-2 13h1m0 2h1m-3 1h1m-6 1h3m8 0h2m-13 1h2m10 0h1m-11 1h1m7 0h2"/>
<path stroke="#3b3b3b" d="M7 0h1m-2 1h1m14 0h1m-16 1h1m13 0h2m-12 1h2m4 0h2m-6 8h1m-1 1h1m-1 1h1m-1 1h1m-1 1h1m-1 1h1m-1 1h1m1 3h1m-2 2h1m1 2h1m-10 1h1m13 0h2m-16 1h1m13 0h1m-13 1h1"/>
<path stroke="#414141" d="M4 2h2m16 0h1m-18 1h5m8 0h5m-10 3h1m-2 4h1m-1 8h1m-8 6h3m3 0h1m8 0h3m-18 1h1m16 0h1"/>
<path stroke="#484848" d="M3 3h2m18 0h1m-20 1h2m6 0h1m8 0h3m-10 1h1m-1 2h1m-3 2h1m2 2h1m-1 1h1m-1 1h1m-1 1h1m-1 1h1m-1 1h1m-1 1h1m-4 2h1m1 2h1m-1 1h1m-12 1h2m18 0h1m-20 1h1m3 0h3m5 0h4m3 0h1"/>
<path stroke="#4e4e4e" d="M2 4h2m2 0h2m12 0h1m3 0h1m-22 1h2m17 0h3m-11 1h1m0 4h1m-5 1h1m-1 1h1m4 0h1m-6 1h1m4 0h1m-6 1h1m4 0h1m-6 1h1m4 0h1m-6 1h1m4 0h1m-6 1h1m3 1h1m-14 4h2m19 0h2m-20 1h1m16 0h1m1 0h1"/>
<path stroke="#5c5c5c" d="M9 4h3m4 0h3m2 1h1m-18 1h1m-4 1h1m1 0h1m21 0h1m-25 1h2m22 0h2m-26 1h1m24 0h1m-1 1h1m-27 1h1m-1 1h1m-1 1h1m16 0h1m-18 1h1m16 0h1m-18 1h1m16 0h1m-18 1h1m10 2h1m14 0h1m-26 1h1m13 0h1m10 0h1m-25 1h1m9 0h1m12 0h1m-4 2h1m-3 1h1"/>
<path stroke="#626262" d="M6 5h1m5 0h1m9 1h1m0 1h1m0 1h1m0 1h1m-25 1h1m14 0h1m-7 1h1m15 0h1m-10 1h1m-1 4h1m8 0h1m-17 1h1m15 0h1m-26 1h1m14 0h1m-15 1h1m22 0h1m-2 1h1m-2 1h1m-19 1h1m1 1h1m7 0h1"/>
<path stroke="#696969" d="M20 5h1m-16 1h1m6 1h1m-10 1h1m11 0h1m-14 1h1m8 0h1m-11 2h1m24 1h1m-1 1h1m-18 1h1m16 0h1m-1 1h1m-26 2h1m23 1h1m-15 1h1m-9 1h1m11 0h1m-12 1h1m7 0h1m-1 1h1m-5 1h1m2 0h1m4 0h1m2 0h1"/>
<path stroke="#6f6f6f" d="M7 5h1m7 0h1m-4 1h1m-9 1h1m11 2h1m-7 1h1m14 0h1m-9 1h1m-17 1h1m7 1h1m-9 2h1m7 0h1m-9 1h1m15 1h1m-16 1h1m21 1h1m-4 3h1m-13 1h2m6 0h2"/>
<path stroke="#767676" d="M19 5h1m1 1h1m2 3h1m-23 1h1m22 1h1m-17 1h1m-9 1h1m-1 1h1m23 3h1m-16 1h1m5 1h1m6 1h1m-2 1h1m-17 1h1m8 0h1"/>
<path stroke="#7c7c7c" d="M8 5h1m1 0h2m4 0h1m1 0h1m-4 1h1m-1 1h1m6 0h1m-12 1h1m11 0h1m-7 2h1m0 4h1m-10 2h1m15 0h1m-23 3h1m7 1h1m3 1h1"/>
<path stroke="#838383" d="M9 5h1m7 0h1m-12 1h1m9 2h1m-14 1h1m6 0h1m-9 2h1m6 0h1m15 1h1m-8 1h1m-1 2h1m-17 2h1m14 1h1m6 0h1m-21 2h1m0 1h1m5 1h1m8 0h1"/>
<path stroke="#898989" d="M11 6h1m-7 1h1m5 0h1m-8 1h1m19 2h1m-7 2h1m6 1h1m-1 1h1m-1 1h1m-17 2h1m0 2h1m5 1h1m-6 1h1m-5 1h1m8 0h1"/>
<path stroke="#909090" d="M16 6h1m3 0h1m-5 1h1m-15 5h1m-1 4h1m15 0h1m-3 5h1m-7 1h1m6 0h1m1 0h1"/>
<path stroke="#969696" d="M7 6h1m2 0h1m-1 2h1m6 1h1m-9 1h1m-8 5h1m0 3h1m13 1h1m5 0h1m-14 1h1m10 1h1m-14 1h2m8 0h1"/>
<path stroke="#9d9d9d" d="M17 6h1m1 0h1m-10 1h1m10 0h1m1 2h1m-21 1h1m14 1h1m5 0h1m-23 2h1m-1 1h1m15 3h1m5 0h1m-16 1h1m12 2h1m-13 1h1"/>
<path stroke="#a3a3a3" d="M8 6h2m8 0h1m-2 2h1m4 0h1m-15 5h1m-1 1h1m-1 1h1m-5 4h1m12 1h1m-12 1h1m10 0h1"/>
<path stroke="#aaaaaa" d="M6 7h1m10 0h1m-14 2h1m4 0h1m8 1h1m5 6h1m-20 4h1m14 1h1"/>
<path stroke="#b1b1b1" d="M9 7h1m-5 1h1m-3 3h1m4 1h1m15 0h1m-17 4h1m-6 1h1m14 1h1m4 0h1m-15 1h1m-3 2h1m1 0h1m8 0h1"/>
<path stroke="#b7b7b7" d="M18 7h1m1 0h1m-12 1h1m8 1h1m4 1h1m-16 1h1m15 2h1m-1 2h1m-16 5h1m-2 1h1m10 0h1"/>
<path stroke="#bebebe" d="M7 7h2m10 0h1m-2 1h1m0 5h1m-1 1h1m4 0h1m-6 1h1m-17 1h1m4 1h1m9 2h1m3 0h1m-5 1h1m2 0h1"/>
<path stroke="#c4c4c4" d="M21 8h1m0 1h1m-15 1h1m-6 2h1m15 0h1m-1 4h1m-16 2h1m1 2h1"/>
<path stroke="#cbcbcb" d="M6 8h1m1 0h1m-1 1h1m-5 1h1m14 1h1m-17 2h1m-1 2h1m19 2h1m-16 1h1m-4 1h1m2 0h1m-1 1h1m10 0h2"/>
<path stroke="#d1d1d1" d="M7 8h1m11 0h2m-16 1h1m17 2h1m-21 3h1m15 3h1m-13 3h1"/>
<path stroke="#d8d8d8" d="M19 9h1m-1 1h1m-13 4h1m15 2h1m-20 1h1m14 1h1m2 0h1m-4 1h1m1 0h1"/>
<path stroke="#dedede" d="M7 9h1m13 0h1m0 1h1m-19 1h1m2 1h1m15 0h1m-17 1h1m-1 2h1m-1 1h1m-2 3h2m12 0h1"/>
<path stroke="#e5e5e5" d="M6 9h1m13 0h1m-16 1h1m1 0h1m-1 1h1m15 2h1m-1 1h1m-1 1h1m-20 1h1m2 1h1m-3 1h1m1 0h1"/>
<path stroke="#ebebeb" d="M6 10h1m13 0h2m-2 1h1m1 0h1m-19 1h1m15 0h1m-1 1h1m-1 1h1m-17 1h1m15 0h1m-1 1h1m-1 1h1m1 0h1m-17 1h1m13 0h2"/>
<path stroke="#f2f2f2" d="M5 11h2m14 0h1m-16 1h1m15 0h1m-19 1h1m1 0h1m-3 1h1m1 0h1m-1 1h1m-1 1h1m15 0h1m-18 1h2m14 0h1"/>
<path stroke="#f8f8f8" d="M5 12h1m15 0h1m-17 1h1m15 0h2m-18 1h1m15 0h2m-18 1h1m15 0h2m-18 1h1m15 0h1"/>
</g></g></g>
<clipPath id="c9"><circle cx="1346.7" cy="541.1" r="73.0"/></clipPath>
<g clip-path="url(#c9)"><g filter="url(#jet)" transform="translate(1263.70 458.10) scale(6.0)">
<rect x="-1" y="-1" width="30" height="30" fill="#2e2e2e"/>
<g fill="none" stroke-width="1.04" transform="translate(0 .5)">
<path stroke="#000000" d="M13 15h1m-1 1h1"/>
<path stroke="#070707" d="M12 1h4m-5 1h6m-4 15h1"/>
<path stroke="#0d0d0d" d="M9 1h3m4 0h2m-9 1h2m6 0h2m-8 1h6m-4 11h1"/>
<path stroke="#141414" d="M10 0h7m-9 1h1m9 0h2m-13 1h2m10 0h2m-13 1h3m6 0h2"/>
<path stroke="#1a1a1a" d="M8 0h2m7 0h3m-14 1h2m12 0h2m-17 1h2m14 0h1m-16 1h2m11 0h2m-11 1h7m-4 9h1m-1 5h1"/>
<path stroke="#212121" d="M7 0h1m-4 2h1m17 0h1m-19 1h2m15 0h3m-16 1h2m7 0h2m-5 12h1m-1 1h1m-7 7h2m8 0h2m-13 1h14m-13 1h12"/>
<path stroke="#272727" d="M3 3h1m-2 1h6m11 0h6m-23 1h1m5 0h12m5 0h1m-13 7h1m0 3h1m-12 8h2m18 0h2m-21 1h4m2 0h2m4 0h2m2 0h4m-19 1h2m14 0h2m-17 1h2m12 0h2m-14 1h12"/>
<path stroke="#343434" d="M4 5h3m14 0h2m-20 1h1m4 0h1m1 0h7m2 0h1m1 0h1m2 0h1m-23 1h1m2 0h1m14 0h1m1 0h1m-17 1h1m-3 1h1m16 0h1m4 0h1m-4 1h1m-24 1h1m4 0h1m7 0h1m-14 1h1m4 0h1m8 1h1m7 0h1m-23 1h1m21 0h1m-23 1h1m21 0h1m-18 1h1m-1 1h1m17 0h1m2 0h1m-26 1h1m2 0h1m0 1h1m15 0h2m2 0h1m-24 1h1m2 0h2m14 0h1m-19 1h1m2 0h1m13 0h2m-17 1h3m11 0h4m-14 1h1m3 1h2"/>
<path stroke="#3b3b3b" d="M5 6h1m3 0h1m7 0h2m3 0h2m-17 1h1m-4 1h1m20 0h1m-25 1h1m4 0h1m16 0h1m-3 1h1m4 0h1m-24 2h1m10 0h1m-15 1h1m2 0h1m1 0h1m-3 1h1m1 0h1m-3 1h1m1 0h1m15 3h1m1 0h1m-22 1h1m1 0h1m1 0h1m6 0h1m8 1h1m1 0h1m-21 1h2m1 0h1m14 0h2m-16 1h1m1 1h1m6 0h1"/>
<path stroke="#414141" d="M4 6h1m-1 1h1m7 0h1m2 0h1m3 0h1m4 0h1m-23 1h1m17 0h1m2 0h1m-23 2h1m1 0h1m9 0h1m-11 1h1m10 0h1m11 0h1m-24 5h1m22 0h1m-26 1h1m21 2h1m-21 1h2m15 0h1m2 0h1"/>
<path stroke="#484848" d="M3 7h1m4 0h1m2 0h1m1 0h2m1 0h1m6 0h1m-17 1h1m17 1h1m-20 1h1m7 0h1m6 1h1m2 0h1m-1 1h1m-1 1h1m-1 1h1m-1 1h1m1 0h1m-24 2h1m17 0h1m3 1h1m-12 1h1m9 0h1m-6 2h1m-2 1h1m-3 1h1"/>
<path stroke="#4e4e4e" d="M9 7h2m6 0h2m-16 1h1m20 0h1m-23 1h2m9 0h2m5 0h1m3 1h1m-24 1h1m19 1h1m4 0h1m-1 2h1m-26 2h1m22 0h1m-1 1h1m-23 1h2m2 0h1m-4 1h1m3 1h1m1 2h1m1 1h1"/>
<path stroke="#555555" d="M12 8h4m8 1h1m0 1h1m-20 1h1m14 2h1m4 0h1m-6 1h1m-21 1h1m19 1h1m-10 1h1m12 0h1m-14 1h1m11 0h1m-17 3h1m6 2h1"/>
<path stroke="#5c5c5c" d="M11 8h1m7 0h1m-13 1h1m4 0h1m-11 1h1m9 0h1m-12 2h1m19 3h1m-20 2h1m3 0h1m13 2h1m-9 4h1"/>
<path stroke="#626262" d="M8 8h1m7 0h1m-2 1h1m-14 2h1m9 0h1m12 0h1m-24 1h1m3 0h1m-6 1h1m-1 1h2m-1 1h1m-1 1h1m9 0h1m12 0h1m-14 3h1m4 3h1m-5 1h2"/>
<path stroke="#696969" d="M15 10h1m4 0h1m-9 2h1m12 0h1m-24 1h1m3 0h1m5 2h1m12 0h1m-11 3h1m-6 4h1"/>
<path stroke="#6f6f6f" d="M9 8h2m6 0h2m-7 5h1m12 0h1m-20 1h1m5 0h1m12 0h1m-20 2h1m8 1h1m-9 2h1m11 1h1m-2 1h1"/>
<path stroke="#767676" d="M11 9h1m-5 1h1m7 1h1m-10 4h1m8 4h1m-3 1h1"/>
<path stroke="#7c7c7c" d="M16 9h1m2 0h1m0 2h1m-6 5h1m4 2h1m-7 2h1m1 2h1"/>
<path stroke="#838383" d="M8 9h1m6 3h1m-7 9h1m1 1h1"/>
<path stroke="#898989" d="M11 10h1m3 3h1m-1 2h1m-8 5h1"/>
<path stroke="#909090" d="M10 9h1m-4 2h1m12 1h1m-6 2h1m-4 6h1m2 2h1"/>
<path stroke="#969696" d="M17 9h2m1 4h1m-10 5h1m0 4h1m1 0h1"/>
<path stroke="#9d9d9d" d="M9 9h1m6 1h1m2 0h1m-9 1h1m-1 6h1m8 0h1m-14 1h1m7 2h1m1 1h1m-5 1h1"/>
<path stroke="#a3a3a3" d="M11 19h1m-2 2h1m2 0h2"/>
<path stroke="#aaaaaa" d="M8 10h1m-2 2h1m12 2h1m-2 5h1m-8 2h1"/>
<path stroke="#b1b1b1" d="M10 10h1m5 1h1m-6 1h1m-5 1h1m3 3h1m-1 5h1m3 0h2"/>
<path stroke="#b7b7b7" d="M19 11h1m-4 6h1m-1 1h1m-6 2h1m6 0h1"/>
<path stroke="#bebebe" d="M9 10h1m7 0h2m-8 3h1m-1 2h1m8 0h1m-1 1h1m-5 3h1"/>
<path stroke="#c4c4c4" d="M16 12h1m-6 2h1m-3 6h1m6 0h1"/>
<path stroke="#cbcbcb" d="M8 11h1m-2 3h1m8 2h1m-10 1h1m0 2h1"/>
<path stroke="#d1d1d1" d="M10 11h1m8 1h1m-4 1h1m-1 2h1"/>
<path stroke="#d8d8d8" d="M17 11h2m0 2h1m-4 1h1m-7 6h1m6 0h1"/>
<path stroke="#dedede" d="M9 11h1m-2 1h1m1 0h1"/>
<path stroke="#e5e5e5" d="M17 12h1m-10 1h1m10 5h1"/>
<path stroke="#ebebeb" d="M9 12h1m8 0h1m-9 1h1m-4 2h1m-1 1h1m2 3h1"/>
<path stroke="#f2f2f2" d="M9 13h1m7 0h2m-9 1h1m-1 3h1m-1 1h1"/>
<path stroke="#f8f8f8" d="M17 14h1m-8 1h1m-1 1h1m7 3h1"/>
<path stroke="#ffffff" d="M8 14h2m8 0h2m-12 1h2m7 0h3m-12 1h2m7 0h3m-12 1h2m7 0h3m-12 1h2m7 0h2m-10 1h1m7 0h1"/>
</g></g></g>
<clipPath id="c10"><circle cx="1346.9" cy="711.7" r="73.0"/></clipPath>
<g clip-path="url(#c10)"><g filter="url(#jet)" transform="translate(1263.90 628.70) scale(6.0)">
<rect x="-1" y="-1" width="30" height="30" fill="#2e2e2e"/>
<g fill="none" stroke-width="1.04" transform="translate(0 .5)">
<path stroke="#000000" d="M13 10h1m-1 1h1m-1 1h1"/>
<path stroke="#070707" d="M13 24h2m-4 1h6"/>
<path stroke="#0d0d0d" d="M13 13h1m-4 11h3m2 0h3m-9 1h2m6 0h2m-9 1h7"/>
<path stroke="#141414" d="M13 9h1m-2 14h4m-8 1h2m8 0h2m-13 1h2m10 0h2m-13 1h2m7 0h3"/>
<path stroke="#1a1a1a" d="M9 23h3m4 0h3m-13 1h2m12 0h2m-17 1h2m14 0h1m-16 1h2m12 0h2m-13 1h10"/>
<path stroke="#212121" d="M7 1h13m-13 1h14m-7 8h1m-1 1h1m-2 3h1m-3 8h6m-10 1h2m10 0h2m-17 1h2m16 0h2m-2 1h1m-15 2h1m10 0h1"/>
<path stroke="#272727" d="M7 0h13m-14 1h1m13 0h2m-18 1h3m14 0h2m-20 1h8m6 0h7m-21 1h1m20 0h1m-11 5h1m-1 3h1m-13 10h2m4 0h3m6 0h3m4 0h2m-23 1h4m14 0h4"/>
<path stroke="#343434" d="M11 3h1m3 0h1m-8 1h1m9 0h1m-15 1h1m1 0h2m12 0h2m1 0h1m-21 1h1m2 0h1m14 0h1m2 0h1m-23 1h1m2 0h2m14 0h1m0 1h1m-19 1h2m20 0h1m-22 1h1m17 0h1m-24 1h1m21 0h1m-23 1h1m21 0h1m-1 1h1m-23 1h1m4 0h1m8 0h1m7 0h1m-23 1h1m4 0h1m-1 1h1m7 0h1m9 1h1m2 0h1m-26 1h1m2 0h1m16 0h1m-16 1h1m15 0h1m2 0h1m-24 1h1m2 0h1m1 0h1m12 0h1m-18 1h1m5 0h2m6 0h2m2 0h1m-17 1h1m15 0h2"/>
<path stroke="#3b3b3b" d="M12 3h1m1 0h1m-6 1h1m-5 1h1m13 0h1m2 0h1m-18 1h1m14 0h1m1 0h1m-1 1h1m-19 1h1m9 0h1m6 0h1m3 0h1m-25 1h1m21 0h1m2 1h1m-22 1h1m-3 1h1m1 0h1m-6 1h1m2 0h1m1 0h1m-3 1h1m-1 1h1m10 0h1m6 2h1m-16 1h1m16 0h1m-22 1h1m1 0h1m15 0h1m-2 1h1m2 0h1m1 0h1m-21 1h2m16 0h2"/>
<path stroke="#414141" d="M13 3h1m3 1h1m-10 1h1m-5 1h1m2 0h1m15 0h1m-20 1h1m19 0h1m-23 1h1m3 0h1m16 0h1m-3 1h1m-21 1h1m1 0h1m-1 1h1m22 0h1m-24 5h1m10 0h1m6 0h1m4 0h1m-26 1h1m4 0h1m0 2h1m15 0h1m-21 1h2m3 0h1m2 0h6m6 0h1"/>
<path stroke="#484848" d="M10 4h1m-8 3h1m16 0h1m2 0h1m1 2h1m-2 2h1m-1 1h1m-1 1h1m-1 1h1m-4 1h1m2 0h1m1 0h1m-24 2h1m9 0h2m5 1h1m4 0h1m-2 1h1m-16 1h2m6 0h2"/>
<path stroke="#4e4e4e" d="M18 5h1m-16 3h1m20 0h1m-23 1h2m17 1h1m2 0h1m-24 1h1m24 1h1m-6 2h1m4 0h1m-26 2h1m4 0h1m17 0h1m-1 1h1m-23 1h2m9 0h1m-11 1h1m8 0h4m3 0h1"/>
<path stroke="#555555" d="M16 4h1m2 2h1m-13 1h1m-2 2h1m5 0h1m11 0h1m0 1h1m-5 1h1m-1 2h1m4 0h1m-26 2h1m23 2h1m-19 1h1m6 0h1m9 0h1m-17 1h1m2 0h1"/>
<path stroke="#5c5c5c" d="M11 4h1m-3 1h1m3 2h1m-2 1h1m-11 2h1m9 0h1m-12 2h1m19 0h1m-16 3h1m5 1h1m-11 1h1m9 0h1m-1 1h1m2 0h1m0 1h1"/>
<path stroke="#626262" d="M8 6h1m11 2h1m-15 2h1m-5 1h1m9 0h1m12 0h1m-24 1h1m-2 1h1m-1 1h2m3 0h1m-5 1h1m-1 1h1m22 0h1m-6 1h1m-11 2h1m6 0h2"/>
<path stroke="#696969" d="M15 4h1m-2 3h1m0 2h1m9 3h1m-24 1h1m3 0h1m5 2h1m12 0h1m-11 2h1m-7 2h1"/>
<path stroke="#6f6f6f" d="M12 4h1m4 1h1m-3 3h1m-1 2h1m-4 2h1m-1 1h1m12 0h1m-14 1h1m12 0h1m-11 2h1m-9 1h1m3 1h1m7 0h1"/>
<path stroke="#767676" d="M13 4h2m-9 7h1m-1 1h1m13 4h1m-5 2h1"/>
<path stroke="#7c7c7c" d="M10 5h1m1 2h1m-6 1h1m7 7h1m-8 3h1"/>
<path stroke="#838383" d="M19 7h1m-5 4h1m-5 6h1m-2 1h1"/>
<path stroke="#898989" d="M18 6h1m1 3h1m-6 3h1m-1 2h1m4 1h1m-14 1h1m1 2h1m7 0h2"/>
<path stroke="#909090" d="M16 5h1m-2 2h1m-1 6h1m0 4h1m2 0h1"/>
<path stroke="#969696" d="M11 5h1m-3 1h1m3 0h1m-3 3h1m8 5h1m-10 2h1"/>
<path stroke="#9d9d9d" d="M15 5h1m-2 1h1m-7 1h1m2 1h1m-4 9h1"/>
<path stroke="#a3a3a3" d="M12 5h3m-4 5h1m8 3h1m-14 2h1"/>
<path stroke="#aaaaaa" d="M12 6h1m-6 3h1m12 1h1m-10 5h1m4 1h1m-7 1h1"/>
<path stroke="#b1b1b1" d="M15 6h1m1 0h1m-7 1h1m-5 7h1m11 2h1m-11 1h1m7 0h2"/>
<path stroke="#b7b7b7" d="M10 6h2m4 2h1m-1 1h1m-6 2h1m8 1h1"/>
<path stroke="#bebebe" d="M16 6h1m2 2h1m-4 2h1m-6 2h1m-1 1h1m-1 1h1m4 1h1m-9 1h1"/>
<path stroke="#c4c4c4" d="M16 7h1m3 4h1m-14 2h1m2 3h1"/>
<path stroke="#cbcbcb" d="M18 7h1m-3 4h1m2 4h1"/>
<path stroke="#d1d1d1" d="M16 12h1m-1 2h1m-8 2h1m7 0h2"/>
<path stroke="#d8d8d8" d="M7 10h1m8 3h1m2 1h1m-12 1h1"/>
<path stroke="#dedede" d="M9 7h1m-2 1h1m-2 4h1m2 3h1"/>
<path stroke="#e5e5e5" d="M10 7h1m-3 7h1m1 0h1m-2 1h1m7 0h2"/>
<path stroke="#ebebeb" d="M17 7h1m1 6h1m-3 1h1"/>
<path stroke="#f2f2f2" d="M10 8h1m-1 1h1m-1 1h1m-4 1h1m2 2h1m-2 1h1m8 0h1"/>
<path stroke="#f8f8f8" d="M19 9h1m-10 2h1m-1 1h1m-3 1h1m8 0h1"/>
<path stroke="#ffffff" d="M9 8h1m7 0h2m-11 1h2m7 0h2m-11 1h2m7 0h3m-12 1h2m7 0h3m-12 1h2m7 0h3m-11 1h1m8 0h1"/>
</g></g></g>
<clipPath id="c11"><circle cx="1551.7" cy="541.1" r="73.2"/></clipPath>
<g clip-path="url(#c11)"><g filter="url(#jet)" transform="translate(1468.50 457.90) scale(6.0)">
<rect x="-1" y="-1" width="30" height="30" fill="#212121"/>
<g fill="none" stroke-width="1.04" transform="translate(0 .5)">
<path stroke="#070707" d="M13 7h2m-2 1h2m-2 1h2m-2 1h2m-2 1h2m-2 1h2m-2 1h2m-2 1h2m-2 1h2m-2 1h2m-2 1h2m-2 1h2m-2 1h1m-2 8h3"/>
<path stroke="#0d0d0d" d="M12 0h4m-3 6h2m-3 1h1m2 0h1m-4 1h1m2 0h1m-4 1h1m2 0h1m-4 1h1m2 0h1m-4 1h1m2 0h1m-4 1h1m-1 1h1m-1 1h1m-1 1h1m2 0h1m-4 1h1m2 0h1m-4 1h1m2 0h1m-4 1h1m2 0h1m-4 1h1m1 0h2m-3 1h1m-2 6h4m-5 1h1m3 0h2"/>
<path stroke="#141414" d="M11 0h1m4 0h1m-5 1h3m-2 4h1m-2 1h1m2 0h1m-5 1h1m3 5h1m-1 1h1m-1 1h1m-5 4h1m-1 1h1m0 1h1m1 0h2m-4 5h4m-5 1h1m4 0h1m-7 1h1m6 0h1"/>
<path stroke="#1a1a1a" d="M8 0h3m6 0h3m-9 1h1m3 0h2m-5 4h1m1 0h1m-4 1h1m4 1h1m-6 1h1m4 0h1m-6 1h1m-1 1h1m-1 6h1m-1 1h1m4 1h1m-1 1h1m-4 2h2m-2 3h2m-4 1h1m4 0h1m-9 1h3m6 0h3m-12 1h2m8 0h2"/>
<path stroke="#272727" d="M6 1h1m13 0h2m-11 1h1m4 0h1m-5 1h1m2 0h1m-4 1h1m2 0h1m-5 1h1m4 0h1m-7 1h1m-1 1h1m5 4h1m-1 1h1m-1 1h1m-1 1h1m-1 1h1m-7 4h1m16 0h1m-17 2h1m0 1h1m2 0h1m-4 1h1m2 0h1m-13 1h1m3 0h2m1 0h1m5 0h1m2 0h1m-15 1h2m14 0h2"/>
<path stroke="#2e2e2e" d="M4 2h1m1 0h5m6 0h4m-10 1h1m-1 1h1m5 2h1m-18 1h1m16 0h1m-8 1h1m16 0h1m-18 10h1m16 0h1m-28 1h1m16 0h1m-8 1h1m6 0h1m-17 1h1m14 0h1m9 0h1m-16 1h1m13 0h1m-15 1h1m4 0h1m7 0h1m-21 1h3m2 0h1m7 0h2m1 0h4"/>
<path stroke="#343434" d="M5 2h1m15 0h2m-20 1h1m3 0h1m8 0h1m7 0h1m-23 1h1m13 0h1m-7 1h1m15 1h1m-27 2h1m9 1h1m16 0h1m-1 7h1m-18 1h1m16 0h1m-28 1h1m16 0h1m8 2h1m-17 1h1m-9 1h1m13 0h1m-14 1h1m3 0h2m1 0h1m6 0h1m1 0h2"/>
<path stroke="#3b3b3b" d="M4 3h1m3 0h3m6 0h4m2 0h1m-14 1h1m6 0h1m-1 1h1m7 0h1m-25 1h1m7 0h1m16 1h1m-10 1h1m-18 1h1m9 1h1m16 0h1m-1 1h1m-1 1h1m-1 1h1m-1 1h1m-1 1h1m-18 1h1m-11 1h1m25 2h1m-26 1h1m7 0h1m7 1h1m7 0h1m-16 1h1m6 0h1m6 0h1m-21 1h3m2 0h1m8 0h1m2 0h3"/>
<path stroke="#414141" d="M5 3h2m14 0h2m-20 1h1m5 0h1m14 0h1m-23 1h1m6 0h1m8 1h1m-2 3h1m-18 1h1m-1 1h1m9 0h1m-1 1h1m-1 2h1m-11 1h1m9 0h1m-11 1h1m16 1h1m-17 2h1m7 0h1m8 1h1m-17 1h1m6 0h1m-7 1h1m3 0h3m8 0h2"/>
<path stroke="#484848" d="M7 4h2m9 0h3m-13 1h1m9 0h1m-18 2h1m7 0h1m16 1h1m-10 2h1m-18 2h1m-1 1h1m9 0h1m-11 1h1m16 2h1m8 2h1m-2 2h1m-18 1h1m9 0h1m1 1h1m2 0h1"/>
<path stroke="#4e4e4e" d="M4 4h1m1 0h1m16 0h1m-5 1h1m5 1h1m-8 1h1m-18 1h1m24 1h1m-10 2h1m-1 1h1m-1 1h1m-1 1h1m-1 1h1m8 2h1m-26 1h1m7 0h1m8 1h1m-17 1h1m16 1h1m4 0h1m-21 1h3m14 0h2"/>
<path stroke="#555555" d="M5 4h1m15 0h2m-20 1h1m20 0h1m-23 1h1m5 0h1m0 2h1m15 11h1m-18 1h1m-6 1h1m3 0h1"/>
<path stroke="#5c5c5c" d="M7 5h1m12 0h1m-2 1h1m5 1h1m-8 1h1m-18 1h1m24 1h1m-1 6h1m-26 1h1m7 0h1m8 1h1m0 2h1m0 1h1m2 0h1"/>
<path stroke="#626262" d="M23 5h1m-22 2h1m6 2h1m16 2h1m-1 1h1m-1 2h1m-1 1h1m-26 1h1m0 3h1m5 0h1m15 1h1m-21 1h1m1 0h1m14 0h1"/>
<path stroke="#696969" d="M4 5h1m1 0h1m14 0h1m2 1h1m-17 1h1m9 2h1m-18 1h1m7 0h1m16 3h1m-18 3h1m8 1h1m6 1h1m-23 2h1m3 0h1m-3 1h1m16 0h1"/>
<path stroke="#6f6f6f" d="M5 5h1m16 0h1m-20 1h1m3 0h1m11 1h1m5 1h1m-25 3h1m7 0h1m-9 1h1m-1 2h1m-1 1h1m7 0h1m-8 3h1m16 1h1m0 1h1"/>
<path stroke="#767676" d="M20 6h1m-19 2h1m15 2h1m-10 2h1m-9 1h1m7 0h1m-1 1h1m8 2h1m6 1h1m-18 1h1m15 1h1m-2 1h1"/>
<path stroke="#7c7c7c" d="M23 6h1m0 1h1m-17 1h1m16 1h1m-8 6h1m-16 4h1m0 1h1m1 0h1"/>
<path stroke="#838383" d="M4 6h1m1 0h1m-4 1h1m14 4h1m-1 3h1m-17 3h1m16 1h1m-13 1h1m-3 1h1m15 0h2"/>
<path stroke="#898989" d="M5 6h1m15 0h2m-16 1h1m11 1h1m-18 1h1m22 1h1m-8 2h1m-1 1h1m6 3h1m-18 1h1m11 2h1"/>
<path stroke="#909090" d="M20 7h1m-13 2h1m16 6h1m-2 3h1m-2 1h1"/>
<path stroke="#969696" d="M23 7h1m0 1h1m-23 2h1m22 1h1m-1 3h1m-24 2h1m16 1h1m-17 1h1m0 1h1m1 0h1"/>
<path stroke="#9d9d9d" d="M4 7h1m1 0h1m-4 1h1m15 1h1m-12 1h1m16 2h1m-1 1h1m-24 2h1m5 1h1m-2 2h1m13 1h2"/>
<path stroke="#a3a3a3" d="M21 7h2m-16 1h1m-6 3h1m5 4h1m10 1h1m4 1h1m-5 1h1m-16 1h1"/>
<path stroke="#aaaaaa" d="M5 7h1m14 1h1m3 1h1m-6 1h1m-12 1h1m-7 1h1m-1 1h1m-1 1h1m20 4h1"/>
<path stroke="#b1b1b1" d="M23 8h1m-21 1h1m4 3h1m-1 1h1m-1 1h1m10 1h1m-17 2h1m3 0h1m-4 1h1"/>
<path stroke="#b7b7b7" d="M4 8h1m2 1h1m16 1h1m-6 1h1m4 5h1m-19 2h1m14 0h1"/>
<path stroke="#bebebe" d="M6 8h1m14 0h1m-2 1h1m-2 3h1m-1 1h1m-1 1h1m-17 2h1m16 1h1m-16 1h1m16 0h1"/>
<path stroke="#c4c4c4" d="M5 8h1m16 0h1m-20 2h1m20 1h1m-1 4h1m-18 1h1m15 1h1"/>
<path stroke="#cbcbcb" d="M23 9h1m-17 1h1m16 2h1m-1 2h1m-21 3h1m1 0h1"/>
<path stroke="#d1d1d1" d="M4 9h1m1 0h1m13 1h1m-18 1h1m20 2h1m-22 2h1m3 0h1m12 1h1m0 1h1"/>
<path stroke="#d8d8d8" d="M21 9h2m-16 2h1m-5 1h1m-1 1h1m-1 1h1m19 2h1m-19 1h1m16 0h1"/>
<path stroke="#dedede" d="M5 9h1m17 1h1m-4 1h1m-14 1h1m-1 1h1m-1 1h1m12 1h1m-17 1h1m1 0h1"/>
<path stroke="#e5e5e5" d="M4 10h1m1 0h1m13 2h1m-1 2h1m2 1h1m-3 1h1"/>
<path stroke="#ebebeb" d="M5 10h1m15 0h2m0 1h1m-4 2h1m-17 2h1m0 1h1m16 0h1"/>
<path stroke="#f2f2f2" d="M4 11h1m1 0h1m14 0h1m1 1h1m-1 1h1m-20 1h1m18 0h1m-18 1h1m14 0h1"/>
<path stroke="#f8f8f8" d="M5 11h1m16 0h1m-19 1h1m1 0h1m14 0h1m-18 1h1m1 0h1m-1 1h1m14 0h1m-17 1h1m16 0h1"/>
<path stroke="#ffffff" d="M5 12h1m16 0h1m-18 1h1m15 0h2m-18 1h1m16 0h1"/>
</g></g></g>
<clipPath id="c12"><circle cx="1551.7" cy="711.7" r="73.2"/></clipPath>
<g clip-path="url(#c12)"><g filter="url(#jet)" transform="translate(1468.50 628.50) scale(6.0)">
<rect x="-1" y="-1" width="30" height="30" fill="#212121"/>
<g fill="none" stroke-width="1.04" transform="translate(0 .5)">
<path stroke="#070707" d="M13 0h2m-2 8h2m-2 1h2m-2 1h2m-2 1h2m-2 1h2m-2 1h2m-2 1h2m-2 1h2m-2 1h2m-2 1h2m-2 1h2m-2 1h2m-2 1h1"/>
<path stroke="#0d0d0d" d="M11 0h2m2 0h2m-5 1h4m-3 6h2m-3 1h1m2 0h1m-4 1h1m2 0h1m-4 1h1m2 0h1m-4 1h1m2 0h1m-4 1h1m2 0h1m-4 1h1m-1 1h1m-1 1h1m-1 1h1m2 0h1m-4 1h1m2 0h1m-4 1h1m2 0h1m-4 1h1m2 0h1m-4 1h1m1 0h2m-3 1h1m-2 6h4"/>
<path stroke="#141414" d="M10 0h1m6 0h1m-7 1h1m4 0h1m-4 1h2m-2 4h1m-2 1h1m2 0h1m-5 1h1m3 5h1m-1 1h1m-1 1h1m-5 4h1m-1 1h1m0 1h1m1 0h2m-4 5h4m-5 1h1m4 0h1"/>
<path stroke="#1a1a1a" d="M7 0h3m8 0h2m-12 1h3m6 0h3m-9 1h2m2 0h2m-5 4h1m1 0h1m-4 1h1m4 1h1m-6 1h1m4 0h1m-6 1h1m-1 1h1m-1 6h1m-1 1h1m4 1h1m-1 1h1m-4 2h2m-2 3h2m-4 1h1m4 0h1m-9 1h3m6 0h3"/>
<path stroke="#272727" d="M4 2h3m13 0h3m-12 1h1m4 0h1m7 0h1m-13 1h1m2 0h1m-4 1h1m2 0h1m-5 1h1m4 0h1m-17 1h1m9 0h1m-1 1h1m16 0h1m-12 4h1m-1 1h1m-1 1h1m-1 1h1m-1 1h1m-7 4h1m0 2h1m0 1h1m2 0h1m-4 1h1m2 0h1m-9 1h2m1 0h1m5 0h2m1 0h2m-15 1h1m14 0h1"/>
<path stroke="#2e2e2e" d="M3 3h2m1 0h5m6 0h4m2 0h1m-22 1h1m8 0h1m-1 1h1m-11 1h1m24 0h1m-10 1h1m-18 1h1m16 0h1m-8 1h1m16 0h1m-18 10h1m16 0h1m-11 1h1m-8 1h1m6 0h1m-2 1h1m-6 1h1m-1 1h1m4 0h1m-12 1h2m2 0h1m8 0h1m2 0h2"/>
<path stroke="#343434" d="M5 3h1m15 0h2m-20 1h1m3 0h1m8 0h1m7 0h1m-23 1h1m13 0h1m8 0h1m-16 1h1m15 1h1m-27 2h1m9 1h1m16 0h1m-1 7h1m-18 1h1m16 0h1m-28 1h1m16 0h1m-17 2h1m24 0h1m-17 1h1m5 1h1m-14 1h1m3 0h2m1 0h1m6 0h1m1 0h2"/>
<path stroke="#3b3b3b" d="M4 4h1m3 0h3m6 0h4m2 0h1m-14 1h1m6 0h1m-1 1h1m7 0h1m-25 1h1m7 0h1m7 2h1m-18 1h1m9 1h1m16 0h1m-1 1h1m-1 1h1m-1 1h1m-1 1h1m-1 1h1m-28 1h1m9 0h1m-11 1h1m25 2h1m-18 1h1m7 1h1m7 0h1m-16 1h1m6 0h1m6 0h1m-21 1h3m2 0h1m8 0h1m2 0h3"/>
<path stroke="#414141" d="M5 4h2m14 0h2m-14 1h1m14 0h1m-23 1h1m6 0h1m8 1h1m7 1h1m-10 2h1m-18 1h1m-1 1h1m9 0h1m-1 1h1m-1 2h1m-11 1h1m9 0h1m6 2h1m-17 2h1m7 0h1m8 1h1m-17 1h1m6 0h1m-7 1h1m3 0h3m8 0h2"/>
<path stroke="#484848" d="M3 5h1m3 0h2m9 0h3m-13 1h1m9 0h1m-18 2h1m7 0h1m16 1h1m-10 2h1m-18 2h1m-1 1h1m9 0h1m-11 1h1m16 2h1m8 2h1m-2 2h1m-18 1h1m9 0h1m-15 1h1m15 0h1m2 0h1"/>
<path stroke="#4e4e4e" d="M4 5h1m18 0h1m-5 1h1m5 1h1m-8 1h1m-18 1h1m15 3h1m-1 1h1m-1 1h1m-1 1h1m-1 1h1m8 2h1m-26 1h1m7 0h1m8 1h1m-17 1h1m5 0h1m10 1h1m4 0h1m-20 1h2m14 0h2"/>
<path stroke="#555555" d="M5 5h2m14 0h2m-20 1h1m20 0h1m-23 1h1m5 0h1m0 2h1m16 1h1m-1 7h1m-2 3h1m-23 2h1m3 0h1"/>
<path stroke="#5c5c5c" d="M7 6h1m11 1h1m5 1h1m-8 1h1m-18 1h1m24 1h1m-26 7h1m7 0h1m8 1h1m0 2h1m0 1h1m2 0h1"/>
<path stroke="#626262" d="M20 6h1m2 0h1m-22 2h1m6 2h1m16 2h1m-1 1h1m-1 2h1m-1 1h1m-26 1h1m0 3h1m5 0h1m15 1h1m-21 1h1m1 0h1m14 0h1"/>
<path stroke="#696969" d="M4 6h1m1 0h1m17 1h1m-17 1h1m-8 3h1m7 0h1m16 3h1m-26 2h1m7 1h1m8 1h1m6 1h1m-23 2h1m3 0h1m-3 1h1m16 0h1"/>
<path stroke="#6f6f6f" d="M5 6h1m15 0h2m-20 1h1m3 0h1m17 2h1m-8 1h1m-18 2h1m-1 3h1m7 1h1m-8 3h1m16 1h1m0 1h1"/>
<path stroke="#767676" d="M20 7h1m-2 1h1m-18 1h1m15 2h1m-10 1h1m-9 1h1m7 0h1m-9 1h1m7 0h1m-1 1h1m8 2h1m6 1h1m-18 1h1m15 1h1m-2 1h1"/>
<path stroke="#7c7c7c" d="M23 7h1m0 1h1m-17 1h1m16 1h1m-8 6h1m-16 4h1m0 1h1m1 0h1"/>
<path stroke="#838383" d="M4 7h1m1 0h1m-4 1h1m14 4h1m-1 3h1m6 2h1m-24 1h1m16 1h1m-13 1h1m-3 1h1m15 0h2"/>
<path stroke="#898989" d="M5 7h1m15 0h2m-16 1h1m11 1h1m-18 1h1m22 1h1m-8 2h1m-1 1h1m-11 4h1m11 2h1"/>
<path stroke="#909090" d="M20 8h1m-13 2h1m16 6h1m-24 1h1m21 2h1m-2 1h1"/>
<path stroke="#969696" d="M23 8h1m0 1h1m-23 2h1m22 1h1m-1 3h1m-18 2h1m10 1h1m-17 1h1m0 1h1m1 0h1"/>
<path stroke="#9d9d9d" d="M4 8h1m-2 1h1m15 1h1m-12 1h1m16 2h1m-1 1h1m-24 2h1m4 3h1m-3 1h1m15 0h2"/>
<path stroke="#a3a3a3" d="M6 8h1m14 0h1m-15 1h1m-6 3h1m5 4h1m10 1h1m4 1h1m-5 1h1"/>
<path stroke="#aaaaaa" d="M5 8h1m16 0h1m-3 1h1m3 1h1m-6 1h1m-12 1h1m-7 1h1m-1 1h1m-1 1h1m0 3h1m19 1h1"/>
<path stroke="#b1b1b1" d="M23 9h1m-21 1h1m4 3h1m-1 1h1m-1 1h1m10 1h1m-13 2h1m-4 1h1"/>
<path stroke="#b7b7b7" d="M4 9h1m2 1h1m16 1h1m-6 1h1m4 5h1m-19 2h1m14 0h1"/>
<path stroke="#bebebe" d="M6 9h1m14 0h1m-3 4h1m-1 1h1m-1 1h1m-17 2h1m16 1h1m-16 1h1m16 0h1"/>
<path stroke="#c4c4c4" d="M5 9h1m16 0h1m-3 1h1m-18 1h1m20 1h1m-1 4h1m-18 1h1m15 1h1"/>
<path stroke="#cbcbcb" d="M23 10h1m-17 1h1m16 2h1m-1 2h1m-21 3h1m1 0h1"/>
<path stroke="#d1d1d1" d="M4 10h1m1 0h1m13 1h1m-18 1h1m20 2h1m-22 2h1m3 0h1m12 1h1m0 1h2"/>
<path stroke="#d8d8d8" d="M21 10h2m-16 2h1m-5 1h1m-1 1h1m-1 1h1m19 2h1m-19 1h1"/>
<path stroke="#dedede" d="M5 10h1m17 1h1m-4 1h1m-14 1h1m-1 1h1m-1 1h1m12 1h1m-17 1h1m1 0h1"/>
<path stroke="#e5e5e5" d="M4 11h1m1 0h1m13 2h1m-1 2h1m2 1h1m-3 1h2"/>
<path stroke="#ebebeb" d="M5 11h1m15 0h2m0 1h1m-4 2h1m-17 2h1m0 1h1"/>
<path stroke="#f2f2f2" d="M4 12h1m1 0h1m16 1h1m-1 1h1m-20 1h1m18 0h1m-18 1h1m14 0h1"/>
<path stroke="#f8f8f8" d="M5 12h1m15 0h2m-19 1h1m1 0h1m14 0h1m-18 1h1m1 0h1m-1 1h1m14 0h1m-17 1h1m16 0h1"/>
<path stroke="#ffffff" d="M5 13h1m16 0h1m-18 1h1m15 0h2m-18 1h1m16 0h1"/>
</g></g></g>
<clipPath id="c13"><circle cx="1756.0" cy="541.6" r="72.9"/></clipPath>
<g clip-path="url(#c13)"><g filter="url(#jet)" transform="translate(1673.10 458.70) scale(6.0)">
<rect x="-1" y="-1" width="30" height="30" fill="#272727"/>
<g fill="none" stroke-width="1.04" transform="translate(0 .5)">
<path stroke="#000000" d="M13 12h1m-2 8h3"/>
<path stroke="#070707" d="M14 12h1"/>
<path stroke="#0d0d0d" d="M15 20h1"/>
<path stroke="#141414" d="M4 11h1m18 0h1m-21 1h2m18 0h1m-21 1h2m18 0h1m-21 1h1m19 0h1"/>
<path stroke="#1a1a1a" d="M3 10h2m18 0h2m-22 1h1m18 0h1m1 0h1m-23 1h1m9 0h1m9 0h1m1 0h1m-23 1h1m19 0h1m1 0h1m-21 1h1m19 0h1m-22 1h1m19 0h2"/>
<path stroke="#212121" d="M4 6h2m16 0h2m-21 1h2m17 0h2m-21 1h2m18 0h2m-23 1h3m18 0h2m-23 1h1m19 0h1m2 0h1m-24 1h1m2 0h1m19 0h1m-21 1h1m19 0h1m-1 1h1m-24 1h1m19 0h1m2 0h1m-24 1h1m1 0h1m20 0h1m-24 1h3m18 0h3m-24 1h3m18 0h2m-23 1h3m18 0h2m-22 1h2m18 0h2"/>
<path stroke="#2e2e2e" d="M7 0h1m11 0h1m-18 4h4m16 0h3m-18 1h1m12 0h1m-1 1h1m0 1h1m-17 1h1m21 0h1m-23 1h1m9 3h1m-11 2h1m16 1h1m-1 2h1m-18 1h1m-1 1h1m16 1h1m-9 1h1m7 0h1m-18 1h1m16 0h1m-17 1h1m14 0h1m-16 1h2m12 0h1m-15 1h3m9 0h4m-16 1h5m6 0h4m-13 1h11"/>
<path stroke="#343434" d="M8 0h11m2 1h1m-19 2h2m18 0h1m-18 1h1m13 0h2m-15 2h1m4 0h4m-10 1h1m14 5h1m0 4h1m-18 1h1m-1 3h1m-1 1h1m6 0h1m8 1h1m-2 1h1m-13 1h1m10 0h1m-11 1h1m1 1h1m4 0h1"/>
<path stroke="#3b3b3b" d="M6 1h2m12 0h1m-17 1h2m16 0h1m-18 1h1m16 0h1m-16 1h1m0 1h1m3 0h3m4 0h1m-9 1h1m4 0h1m4 2h1m-1 3h1m-1 2h1m-17 2h1m10 5h1m-11 2h1m0 1h1m10 1h1m-9 1h1m6 0h1m-6 1h4"/>
<path stroke="#414141" d="M8 1h2m8 0h2m-14 1h1m14 0h1m-16 1h1m14 0h1m-14 1h1m10 0h1m-9 1h1m3 0h1m-6 1h1m8 0h1m1 3h1m-1 1h1m-16 1h1m-1 1h1m-2 4h1m9 5h1m-7 3h1m6 1h1"/>
<path stroke="#484848" d="M10 1h1m5 0h2m-11 1h1m12 0h1m-14 1h1m12 0h1m-5 2h1m1 0h1m-11 1h1m8 0h1m2 1h1m-15 1h1m0 4h2m10 0h2m-15 1h2m11 0h2m0 1h1m-1 4h1m-1 1h1m-1 2h1m-3 2h1m-9 2h2m2 0h1"/>
<path stroke="#4e4e4e" d="M11 1h2m1 0h2m-8 1h1m10 0h1m-12 1h1m10 0h1m-2 1h1m-10 1h2m6 0h1m-9 1h1m8 0h1m-12 1h1m-2 3h1m0 1h2m10 0h2m-10 1h1m-4 1h1m12 7h1m-2 2h1m-13 1h1m8 1h1m-5 1h2"/>
<path stroke="#555555" d="M13 1h1m4 1h1m-10 2h1m-4 5h1m11 3h1m-13 2h1m14 3h1m-16 1h1m-1 1h1m3 1h1m-5 1h1m4 0h1m-2 3h1m5 0h1"/>
<path stroke="#5c5c5c" d="M9 2h1m-1 1h1m8 0h1m-2 1h1m0 7h1m-3 1h1m-4 1h1m-7 1h1m12 0h1m0 1h1m-16 5h1m0 2h1m3 2h5"/>
<path stroke="#626262" d="M10 2h1m6 0h1m-8 2h1m-3 3h4m4 0h4m0 1h1m-1 2h1m-12 2h1m4 1h1m3 0h1m0 1h1m1 2h1m-16 1h1m9 4h1m1 2h1"/>
<path stroke="#696969" d="M16 2h1m0 1h1m-7 1h6m-5 3h1m2 0h1m-9 3h2m10 0h1m-11 1h1m0 1h1m6 0h1m-10 2h1m-3 1h1m6 4h2m2 1h1m-9 3h1"/>
<path stroke="#6f6f6f" d="M11 2h1m-2 1h1m2 4h2m-8 1h1m12 1h1m-12 4h1m2 0h1m-7 3h1m13 2h1m-9 1h1m7 2h1"/>
<path stroke="#767676" d="M12 2h1m2 0h1m0 1h1m-10 6h1m10 1h1m-2 1h1m-3 2h1m4 2h1m-1 2h1m-14 1h1m7 1h1m4 0h1m-11 2h1m8 1h1m-3 1h1"/>
<path stroke="#7c7c7c" d="M13 2h2m-4 1h1m-4 5h1m10 0h1m-11 2h1m7 3h1m0 1h1m-12 1h1m-1 2h1m0 1h1m10 0h1m0 2h1m-11 3h1m5 0h1"/>
<path stroke="#838383" d="M12 3h1m1 0h2m-7 5h1m8 0h1m-11 1h1m10 0h1m-10 2h1m-1 2h2m4 0h1m2 2h1m0 1h1m-13 1h1m10 0h1m-13 2h1m3 0h1m-3 1h1m-3 1h1m0 1h1m2 1h5"/>
<path stroke="#898989" d="M13 3h1m3 5h1m0 1h1m-10 5h1m-2 1h1m-2 1h1m10 2h1m-3 1h1m0 2h1m-6 1h3"/>
<path stroke="#909090" d="M10 8h1m-2 1h1m7 1h1m-7 1h1m1 0h1m2 0h1m2 5h1m-12 3h3m6 0h3m-13 1h1m10 0h1m-4 2h1"/>
<path stroke="#969696" d="M12 11h1m1 0h2m-8 5h1m9 1h1m-10 1h1m1 4h1m4 0h1m1 0h1"/>
<path stroke="#9d9d9d" d="M16 8h1m0 1h1m-8 1h1m6 4h1m0 1h1m-10 2h1m-2 3h1m10 0h1m-11 1h1m9 0h1m-11 1h2"/>
<path stroke="#a3a3a3" d="M11 8h1m-4 13h1m9 0h1m-2 1h1"/>
<path stroke="#aaaaaa" d="M15 8h1m-6 1h1m5 1h1m-7 4h1m-2 1h1m8 1h1m-2 2h1"/>
<path stroke="#b1b1b1" d="M12 8h1m1 0h1m2 9h1m-8 1h1"/>
<path stroke="#b7b7b7" d="M13 8h1m2 1h1m-6 1h1m-3 6h1"/>
<path stroke="#bebebe" d="M11 9h1m4 5h1m0 1h1m-8 2h1m5 1h1"/>
<path stroke="#c4c4c4" d="M15 9h1m-1 1h1"/>
<path stroke="#cbcbcb" d="M12 9h3m-3 1h1m-2 4h1m-2 1h1m6 1h1m-7 2h1"/>
<path stroke="#d1d1d1" d="M13 10h2m-5 6h1m5 1h1m-2 1h1"/>
<path stroke="#d8d8d8" d="M12 14h1m2 0h1m0 1h1m-6 2h1m0 1h1m1 0h1"/>
<path stroke="#dedede" d="M14 14h1m-2 4h1"/>
<path stroke="#e5e5e5" d="M13 14h1m-3 1h1m4 1h1m-2 1h1"/>
<path stroke="#ebebeb" d="M15 15h1m-5 1h1m0 1h1"/>
<path stroke="#f2f2f2" d="M12 15h1m-1 1h1m2 0h1m-3 1h2"/>
<path stroke="#f8f8f8" d="M13 15h2m-2 1h2"/>
</g></g></g>
<clipPath id="c14"><circle cx="1756.0" cy="712.0" r="72.9"/></clipPath>
<g clip-path="url(#c14)"><g filter="url(#jet)" transform="translate(1673.10 629.10) scale(6.0)">
<rect x="-1" y="-1" width="30" height="30" fill="#272727"/>
<g fill="none" stroke-width="1.04" transform="translate(0 .5)">
<path stroke="#000000" d="M13 6h1"/>
<path stroke="#070707" d="M14 6h1"/>
<path stroke="#0d0d0d" d="M13 7h1"/>
<path stroke="#141414" d="M12 6h1m1 1h1m-12 6h2m18 0h1m-21 1h2m18 0h1m-21 1h2m18 0h1m-20 1h1m18 0h1"/>
<path stroke="#1a1a1a" d="M15 6h1m-13 5h1m-1 1h2m18 0h2m-23 1h1m21 0h1m-23 1h1m10 0h1m8 0h1m1 0h1m-3 1h1m1 0h1m-22 1h1m18 0h1m1 0h1m-22 1h2m18 0h1"/>
<path stroke="#212121" d="M3 7h1m8 0h1m-10 1h2m18 0h2m-23 1h3m18 0h2m-23 1h3m18 0h2m-23 1h1m1 0h1m18 0h3m-24 1h1m22 0h1m-4 1h1m2 0h1m-21 1h1m8 0h1m10 0h1m-24 1h1m2 0h1m19 0h1m-24 1h1m22 0h1m-24 1h1m19 0h1m1 0h2m-23 1h2m18 0h2m-22 1h2m18 0h2m-22 1h2m17 0h2m-20 1h2m15 0h3"/>
<path stroke="#2e2e2e" d="M7 0h5m3 0h5m-14 1h4m8 0h4m-16 1h3m10 0h2m-15 1h2m12 0h1m-16 1h1m15 0h1m-17 1h1m16 0h1m-1 1h1m-1 1h1m-18 1h1m21 0h1m-23 1h1m16 1h1m-18 3h1m7 2h1m-9 2h1m-1 1h1m0 2h1m0 1h1m4 0h3m5 0h1m-15 1h2m12 0h1m-18 1h1m19 0h2m-17 4h11"/>
<path stroke="#343434" d="M12 0h3m-5 1h1m6 0h1m0 1h1m0 1h1m-14 1h1m-2 2h1m5 0h1m-7 1h1m16 4h1m-11 3h1m1 1h1m6 0h1m-1 4h1m-11 2h1m3 0h1m-12 2h2m15 0h2m0 1h1m-18 2h2m12 0h1"/>
<path stroke="#3b3b3b" d="M11 1h1m3 0h2m-8 1h1m-2 1h1m11 1h1m0 1h1m-17 5h1m-1 2h1m15 2h1m-1 2h1m-2 4h1m-5 1h1m2 0h1m-1 1h1m-14 1h1m13 0h1m-17 1h2m16 0h1m-18 1h1m16 0h1m-15 1h2m7 0h3"/>
<path stroke="#414141" d="M12 1h3m-5 1h1m6 0h1m-11 2h1m3 3h1m-7 4h1m15 2h1m-16 1h1m-1 1h1m5 0h1m8 2h1m-1 1h1m-16 1h1m1 2h1m1 0h1m-3 1h1m-2 1h1m11 0h1m-14 1h1m14 0h1m-16 1h1m13 0h2m-12 1h3m1 0h3"/>
<path stroke="#484848" d="M16 2h1m1 1h1m-13 2h1m9 1h1m4 0h1m-1 1h1m-1 1h1m-1 1h1m-15 5h1m7 0h1m3 0h2m-14 1h2m10 0h2m-15 1h1m0 4h1m1 1h1m7 0h2m-7 1h3m3 0h1m-11 1h1m-2 1h1m12 0h1m-14 1h1m11 0h1m-7 1h1"/>
<path stroke="#4e4e4e" d="M11 2h2m2 0h1m-7 1h1m6 4h1m-11 6h1m1 1h1m6 1h1m-10 2h1m-1 1h1m3 2h7m-8 2h1m1 0h1m3 0h1m2 1h1m0 1h1m-12 1h1m9 0h1"/>
<path stroke="#555555" d="M13 2h2m4 2h1m-14 2h1m-1 2h1m14 4h1m-15 1h1m11 0h2m-3 2h1m-12 1h2m10 0h2m-1 3h1m-12 1h1m7 0h1m1 0h1m-10 2h1m5 0h2m-9 1h1m-2 1h1m0 1h1m7 0h1"/>
<path stroke="#5c5c5c" d="M10 3h1m6 0h1m2 2h1m-15 2h1m-1 2h1m14 1h1m-14 3h1m2 1h1m6 0h1m-11 6h1m9 0h1m-1 4h1m-9 1h1"/>
<path stroke="#626262" d="M11 3h6m-9 1h1m1 2h1m10 5h1m-16 1h1m2 3h1m1 0h1m6 1h1m-12 3h1m9 4h1m-9 1h1m1 1h1m4 0h1"/>
<path stroke="#696969" d="M7 5h1m5 0h1m-4 2h1m-5 3h1m2 4h1m6 0h1m-1 1h1m3 2h1m-1 1h1m-11 5h1m6 1h1m-6 1h1m2 0h1"/>
<path stroke="#6f6f6f" d="M14 5h1m5 3h1m-1 1h1m-15 2h1m0 1h1m12 0h1m-3 1h1m-9 1h1m6 0h1m-8 1h1m6 0h1m-9 1h1m-3 1h1m11 2h1m-9 4h1m4 0h1m-7 1h1m2 1h2"/>
<path stroke="#767676" d="M18 4h1m-7 1h1m4 1h1m2 0h1m-4 1h1m-11 2h1m11 0h1m-1 3h1m-12 5h1m10 0h1m-13 1h1m0 1h2m8 0h1m-7 4h4m0 1h1"/>
<path stroke="#7c7c7c" d="M15 5h1m4 2h1m-14 1h1m0 1h1m11 1h1m-12 3h1m8 4h1m-2 2h1m-7 5h1"/>
<path stroke="#838383" d="M9 4h1m1 1h1m-5 5h1m-1 1h1m12 0h1m-13 1h1m8 4h1m-10 2h1m10 0h1m-10 1h1m1 5h1m2 0h1"/>
<path stroke="#898989" d="M17 4h1m-2 1h1m2 0h1m-13 1h1m1 1h1m-2 1h1m10 0h1m-2 1h1m0 1h1m-10 6h1m-2 1h1m8 1h1m-3 1h1m-4 5h2"/>
<path stroke="#909090" d="M10 4h7m-8 2h1m-3 1h1m10 0h1m-1 1h1m-11 2h1m10 1h1m-2 1h1m-2 1h1m-9 5h1m1 1h1"/>
<path stroke="#969696" d="M8 5h1m1 0h1m-2 3h1m-1 1h1m-2 2h1m8 6h1m-6 2h1m2 0h1"/>
<path stroke="#9d9d9d" d="M17 5h1m0 1h2m-12 1h1m10 0h1m-7 1h2m2 0h1m0 2h1m-10 2h1m0 1h1m5 3h1m0 2h1m-5 1h2"/>
<path stroke="#a3a3a3" d="M9 5h1m8 0h1m-11 1h1m1 2h3m2 0h2m-6 8h1m-2 1h1m-1 1h1"/>
<path stroke="#aaaaaa" d="M17 9h1m-9 1h1m8 1h1"/>
<path stroke="#b1b1b1" d="M17 12h1m-2 1h1m-2 3h1m0 1h1m-1 1h1"/>
<path stroke="#b7b7b7" d="M10 9h1m-2 2h1m1 2h1m0 3h3m-4 1h1m-1 1h1"/>
<path stroke="#bebebe" d="M17 10h1m-8 2h1m1 1h1m2 0h1m-1 5h1"/>
<path stroke="#c4c4c4" d="M16 9h1m-7 1h1m2 3h2m0 4h1m-4 1h1"/>
<path stroke="#cbcbcb" d="M17 11h1m-6 6h1m0 1h2"/>
<path stroke="#d1d1d1" d="M11 9h1m-2 2h1m5 1h1m-4 5h2"/>
<path stroke="#d8d8d8" d="M16 10h1m-6 2h1"/>
<path stroke="#dedede" d="M15 9h1m-5 1h1"/>
<path stroke="#e5e5e5" d="M12 9h1m3 2h1m-2 1h1"/>
<path stroke="#ebebeb" d="M13 9h2m0 1h1m-5 1h1m0 1h1"/>
<path stroke="#f2f2f2" d="M12 10h1m2 1h1"/>
<path stroke="#f8f8f8" d="M13 10h2m-3 1h3m-2 1h2"/>
</g></g></g>
<clipPath id="c15"><circle cx="1959.0" cy="542.0" r="73.0"/></clipPath>
<g clip-path="url(#c15)"><g filter="url(#jet)" transform="translate(1876.00 459.00) scale(6.0)">
<rect x="-1" y="-1" width="30" height="30" fill="#555555"/>
<g fill="none" stroke-width="1.04" transform="translate(0 .5)">
<path stroke="#070707" d="M11 5h2m2 0h2"/>
<path stroke="#0d0d0d" d="M13 4h2m-2 1h2"/>
<path stroke="#141414" d="M12 4h1m-3 1h1m-2 1h1m8 0h1m-12 2h1m-2 2h1m-1 1h1m14 0h1m-1 1h1m-1 1h1m-1 1h1m-1 1h1"/>
<path stroke="#1a1a1a" d="M15 4h1m1 1h1m-8 1h1m6 0h1m-10 1h1m10 0h1m0 1h1m-1 1h1m0 1h1m-16 6h1m14 0h1m-16 1h1"/>
<path stroke="#212121" d="M11 4h1m-6 5h1m-1 3h1m-2 1h1m-1 1h1m0 1h1"/>
<path stroke="#272727" d="M16 4h1m-8 1h1m-2 1h1m7 0h1m-10 1h1m10 0h1m0 1h1m-13 1h1m-3 3h1m0 1h1m-1 1h1m-2 1h1m15 2h1"/>
<path stroke="#2e2e2e" d="M13 3h2m-4 3h1m7 0h1m1 3h1m-2 1h1m-16 1h1"/>
<path stroke="#343434" d="M11 2h5m-4 1h1m2 0h1m-6 1h1m7 1h1m-4 1h1m4 1h1m-15 1h1m15 5h1m-1 1h1m-10 1h1m-9 1h1m7 0h1m-1 1h1m-8 1h1m13 0h1"/>
<path stroke="#3b3b3b" d="M11 1h6m-7 1h1m5 0h2m-7 1h1m4 0h1m0 1h1m-6 2h3m-6 1h1m-2 1h1m-4 2h1m16 2h1m-10 2h1m8 1h1m-3 2h1m0 1h1"/>
<path stroke="#414141" d="M9 1h2m6 0h2m-11 1h2m8 0h1m-9 1h1m6 0h1m-10 2h1m-2 1h1m13 2h1m0 3h1m-10 2h1m8 3h1m-18 1h1m7 1h1"/>
<path stroke="#484848" d="M10 0h8m-11 1h2m10 0h2m-15 1h2m11 0h2m-13 1h2m8 0h2m-11 1h1m8 0h1m0 1h1m0 1h1m-15 1h1m-2 2h1m1 1h1m14 0h1m-3 1h1m-8 1h1m8 5h1m-16 1h1"/>
<path stroke="#4e4e4e" d="M7 0h3m8 0h2m-14 1h1m14 0h1m-18 1h2m15 0h2m-19 1h4m12 0h3m-18 1h4m10 0h4m-17 1h2m12 0h2m-16 1h1m14 0h1m-17 1h1m7 0h1m3 0h1m3 0h1m-17 1h1m16 1h1m-18 9h1m16 0h1m-17 1h1m13 0h2m-16 4h1m14 0h1m-16 1h2m12 0h2m-17 1h4m10 0h3m-16 1h6m3 0h7m-14 1h12"/>
<path stroke="#5c5c5c" d="M3 4h1m20 0h1m-22 1h1m6 2h2m3 0h2m6 0h1m-10 1h1m8 0h1m-11 1h1m5 0h1m3 0h1m-11 1h1m9 0h1m-1 1h1m-1 1h1m-1 1h1m-1 1h1m-10 1h1m8 0h1m-10 1h1m8 0h1m-10 1h1m8 0h1m-10 1h1m8 0h1m-11 1h1m9 0h1m-4 1h1m2 0h1m-17 1h1m-5 1h1m4 0h1m-6 1h1m5 0h1m14 0h1m-14 1h1m4 0h1"/>
<path stroke="#626262" d="M2 4h1m21 1h1m-22 1h1m-1 1h1m8 1h1m14 0h1m-14 1h1m5 3h1m-7 2h1m5 1h1m-14 2h1m19 2h1m-25 1h1m3 0h1m-5 1h1m15 0h1m4 0h1m-7 1h1m5 0h1m-15 1h1m6 0h1m-6 1h1m2 0h1"/>
<path stroke="#696969" d="M2 5h1m22 0h1m-2 1h1m-25 1h1m23 0h1m-22 1h1m11 0h1m2 0h1m-16 1h1m23 0h1m-14 1h1m12 0h1m-14 3h1m12 4h1m-25 1h1m23 0h1m-28 1h1m2 0h1m10 0h1m9 1h1m-17 1h1m17 0h1m-25 1h1m22 0h1m-13 2h2"/>
<path stroke="#6f6f6f" d="M1 6h2m23 0h1m-27 2h1m23 0h1m-25 1h1m11 0h1m-10 1h1m-1 1h1m3 0h1m6 0h1m12 0h1m-14 1h1m12 0h1m-8 1h1m6 0h1m-8 1h1m6 0h1m-1 1h1m-25 1h1m23 0h1m-25 1h1m-4 1h1m23 1h1m-24 2h2m22 0h1m-17 1h1m6 1h1"/>
<path stroke="#767676" d="M25 6h1m-24 1h1m23 0h1m-18 1h1m1 0h1m-4 1h1m15 0h1m-25 1h1m-1 1h1m2 1h1m-1 1h1m-1 1h1m-1 1h1m-4 1h1m-1 1h1m23 1h1m-24 2h2m16 0h1m5 0h2"/>
<path stroke="#7c7c7c" d="M1 7h1m23 0h1m-10 1h1m9 0h1m-12 1h1m8 1h1m-1 1h1m-25 1h1m-1 1h1m-1 1h1m-1 1h1m6 1h1m16 0h1m-1 1h1m-23 2h1m16 0h1m6 0h1m-16 4h1"/>
<path stroke="#838383" d="M1 8h2m14 0h1m7 0h1m0 1h1m-15 1h1m-6 2h1m16 0h1m-1 1h1m-1 1h1m-1 1h1m-23 3h1m23 0h1m-26 1h1m23 0h1m-9 3h1"/>
<path stroke="#898989" d="M10 8h1m-10 1h2m16 1h1m6 0h1m-1 7h1m-26 1h1m10 0h1m12 0h1m-18 2h1m9 1h1m-4 2h1"/>
<path stroke="#909090" d="M11 9h1m13 0h1m-24 1h1m12 0h1m10 1h1m-20 2h1m-1 2h1m18 1h1m-26 1h2m9 2h1m0 1h1m-4 2h1m1 1h1"/>
<path stroke="#969696" d="M1 10h1m23 0h1m-24 1h1m9 0h1m13 1h1m-1 1h1m-20 1h1m18 0h1m-25 1h1m23 0h1m-26 1h2m9 1h1m12 0h1m-7 1h1m-6 2h1m-6 1h1m4 2h1"/>
<path stroke="#9d9d9d" d="M16 9h1m1 0h1m-18 2h1m23 0h1m-25 1h2m-1 1h1m-1 1h1m-2 1h1m23 0h1m-1 1h1m-11 2h1m-8 1h1m4 4h1"/>
<path stroke="#a3a3a3" d="M9 9h1m-2 1h1m6 1h1m-4 1h1m12 0h1m-25 1h1m23 0h1m-25 1h1m23 0h1m-14 2h1m2 3h1"/>
<path stroke="#aaaaaa" d="M10 9h1m6 0h1m1 2h1m-8 2h1m-1 2h1m2 2h1m0 5h1"/>
<path stroke="#b1b1b1" d="M11 10h1m0 4h1"/>
<path stroke="#b7b7b7" d="M15 12h1m-1 4h1m-4 4h1m-2 2h1"/>
<path stroke="#bebebe" d="M16 10h1m1 0h1m-11 1h1m10 1h1m-2 8h1"/>
<path stroke="#c4c4c4" d="M15 13h1m-1 1h1m-1 1h1m1 6h1"/>
<path stroke="#cbcbcb" d="M9 10h2m6 0h1m-7 1h1m7 2h1m-1 4h1m-12 1h1m6 2h1m-1 2h1"/>
<path stroke="#d1d1d1" d="M16 11h1m-9 1h1m10 2h1m-1 1h1m-9 3h1m-2 3h1m2 0h2m-3 1h1"/>
<path stroke="#d8d8d8" d="M18 11h1m-8 1h1m7 4h1m-9 1h1m-1 2h1m-3 1h1m3 2h2"/>
<path stroke="#dedede" d="M9 11h1m-2 2h1m-1 1h1m2 2h1m0 5h1"/>
<path stroke="#e5e5e5" d="M10 11h1m6 0h1m-2 1h1m-6 1h1m-1 1h1m-1 1h1m3 6h1"/>
<path stroke="#ebebeb" d="M18 12h1m-3 1h1m-9 2h1m9 4h1m-8 2h1m4 0h1"/>
<path stroke="#f2f2f2" d="M9 12h2m6 0h1m0 1h1m-3 1h1m1 0h1m-3 1h1m-1 2h1m-1 1h1m-6 2h1"/>
<path stroke="#f8f8f8" d="M9 13h2m6 0h1m-9 1h2m6 0h1m-2 2h1m-1 3h1"/>
<path stroke="#ffffff" d="M9 15h2m6 0h2m-11 1h3m6 0h2m-11 1h3m6 0h2m-10 1h2m6 0h2m-10 1h2m6 0h1m-8 1h1m5 0h2"/>
</g></g></g>
<clipPath id="c16"><circle cx="1959.0" cy="712.0" r="73.0"/></clipPath>
<g clip-path="url(#c16)"><g filter="url(#jet)" transform="translate(1876.00 629.00) scale(6.0)">
<rect x="-1" y="-1" width="30" height="30" fill="#555555"/>
<g fill="none" stroke-width="1.04" transform="translate(0 .5)">
<path stroke="#070707" d="M11 22h5"/>
<path stroke="#0d0d0d" d="M10 21h1m6 0h1m-2 1h1"/>
<path stroke="#141414" d="M21 12h1m-1 1h1m-1 1h1m-1 1h1m-16 1h1m14 0h1m-16 1h1m13 1h1m-13 2h1m0 1h1"/>
<path stroke="#1a1a1a" d="M6 10h1m-1 1h1m14 0h1m-16 4h1m0 3h1m-1 1h1m11 0h1m-2 1h2m-9 1h1m4 0h1m1 0h1m-9 1h1m2 1h2"/>
<path stroke="#212121" d="M21 10h1m-16 2h1m-2 1h1m-1 1h2m13 3h2m-2 2h1m-9 4h1"/>
<path stroke="#272727" d="M6 9h1m-2 3h1m0 1h1m-2 2h1m0 3h1m2 2h1m2 1h1m2 0h1m1 1h1m-3 1h1"/>
<path stroke="#2e2e2e" d="M20 9h1m-16 2h1m2 8h1m-1 2h1m4 0h2m-4 2h1"/>
<path stroke="#343434" d="M21 9h1m-9 1h1m-1 1h1m-1 1h1m8 1h1m-1 1h1m-18 2h1m15 2h1m-15 2h1m1 2h1m6 1h1m-5 1h4m-5 1h5"/>
<path stroke="#3b3b3b" d="M13 9h1m-9 1h1m16 2h1m-10 1h1m8 2h1m-16 2h1m-2 2h1m10 1h1m2 0h1m-2 1h1m-10 2h1m0 1h1m4 0h1m-7 1h1m5 0h2m-5 1h2"/>
<path stroke="#414141" d="M20 10h1m1 1h1m-10 3h1m6 2h1m1 0h1m-18 1h1m12 5h1m-2 1h1m-9 1h2m6 0h1m-10 1h2m8 0h1m-9 1h3m2 0h3"/>
<path stroke="#484848" d="M6 8h1m13 0h1m-16 1h1m1 0h1m14 1h1m-1 7h1m-18 1h1m13 0h1m1 1h1m-12 1h1m-4 1h1m0 1h1m0 1h1m8 0h1m-12 1h2m9 0h3m-15 1h2m11 0h2m-14 1h3m8 0h2m-8 1h3"/>
<path stroke="#4e4e4e" d="M7 0h13m-14 1h5m6 0h5m-17 1h3m11 0h3m-16 1h1m13 0h2m-1 1h1m-17 4h1m1 0h1m5 0h1m7 0h1m0 1h1m-10 6h1m8 3h1m-18 1h1m0 1h1m4 0h6m4 0h1m-16 1h1m13 0h2m-17 1h3m11 0h3m-17 1h4m10 0h4m-19 1h3m14 0h2m-18 1h1m15 0h2m-17 1h1m13 0h2m-14 1h4m3 0h5"/>
<path stroke="#5c5c5c" d="M16 3h1m-14 1h1m5 0h1m8 0h1m5 0h1m-22 1h1m15 0h1m-13 1h1m12 1h1m2 0h1m-1 1h1m-10 1h1m8 0h1m-10 1h1m8 0h1m-10 1h1m5 0h1m2 0h1m-1 1h1m-1 1h1m-1 1h1m-4 1h1m2 0h1m-1 1h1m-11 1h1m9 0h1m-10 1h1m8 0h1m-12 1h1m10 0h1m-1 1h1m-21 2h1m-1 1h1m20 0h1"/>
<path stroke="#626262" d="M11 3h1m-10 1h1m5 1h1m15 0h1m-22 1h1m-1 1h1m3 0h1m6 1h1m12 0h1m-14 4h1m-1 1h1m-8 3h1m6 1h1m-7 1h1m0 1h1m5 0h1m11 0h1m-25 1h1m-1 1h1m20 0h1m-1 1h1"/>
<path stroke="#696969" d="M15 3h1m1 1h1m-16 1h1m22 0h1m-7 1h1m4 0h1m-25 1h1m23 0h1m-22 1h1m-1 1h1m23 0h1m-1 1h1m-8 2h1m-7 2h1m5 0h1m-7 2h1m12 1h1m-25 1h1m8 0h1m14 0h1m-28 1h1m2 0h1m20 1h1m1 1h1m-25 1h1m22 0h1"/>
<path stroke="#6f6f6f" d="M12 3h1m1 0h1m-5 1h1m7 1h1m-18 1h2m23 0h1m-27 2h1m23 0h1m-25 1h1m2 1h1m3 0h1m-5 1h1m23 0h1m-1 1h1m-8 1h1m6 0h1m-1 1h1m-14 1h1m12 0h1m-25 1h1m23 0h1m-25 1h1m-4 1h1m10 1h1m12 0h1m-24 2h2m22 0h1"/>
<path stroke="#767676" d="M13 3h1m-5 2h1m-2 1h1m16 0h1m-24 1h1m10 0h1m12 0h1m-3 2h1m-25 1h1m-1 1h1m2 1h1m-1 1h1m-1 1h1m-1 1h1m-4 1h1m-1 1h1m14 1h1m8 0h1m-9 1h2m-17 1h2m22 0h2"/>
<path stroke="#7c7c7c" d="M1 7h1m17 0h1m5 0h1m0 1h1m-3 2h1m-1 1h1m-25 1h1m-1 1h1m-1 1h1m-1 1h1m6 0h1m16 1h1m-13 1h1m6 0h1m4 0h1m-23 2h1m7 0h1m15 0h1"/>
<path stroke="#838383" d="M16 4h1m-3 3h1m-14 1h2m16 0h1m5 0h1m0 1h1m-20 2h1m16 1h1m-1 1h1m-1 1h1m-1 1h1m-23 3h1m23 0h1m-26 1h1m23 0h1"/>
<path stroke="#898989" d="M11 4h1m0 4h1m-12 1h2m9 0h1m13 1h1m-12 7h1m10 0h1m-26 1h1m9 0h1m6 0h1m6 0h1"/>
<path stroke="#909090" d="M8 7h1m16 2h1m-24 1h1m23 1h1m-20 1h1m-1 2h1m4 2h1m13 0h1m-26 1h2m13 1h1"/>
<path stroke="#969696" d="M17 5h1m0 1h1m-18 4h1m10 0h1m12 0h1m-24 1h1m23 1h1m-20 1h1m18 0h1m-1 1h1m-25 1h1m23 0h1m-26 1h2m5 1h1m16 0h1m-17 1h1"/>
<path stroke="#9d9d9d" d="M15 4h1m-1 4h1m-1 1h1m-15 2h1m23 0h1m-25 1h2m-1 1h1m-1 1h1m-2 1h1m10 0h1m12 0h1m-11 1h1m9 0h1m-16 2h1m6 0h1"/>
<path stroke="#a3a3a3" d="M12 4h1m-3 1h1m1 2h1m6 2h1m-8 2h1m12 1h1m-25 1h1m23 0h1m-25 1h1m23 0h1m-7 2h1m-9 1h1"/>
<path stroke="#aaaaaa" d="M8 8h1m3 6h1"/>
<path stroke="#b1b1b1" d="M13 4h2m-6 2h1m5 4h1m-4 2h1m-1 1h1m2 2h1m0 2h1"/>
<path stroke="#b7b7b7" d="M15 7h1m3 8h1m-12 1h1m9 1h1"/>
<path stroke="#bebebe" d="M13 6h1m1 5h1m-1 3h1m-5 2h1m-3 1h2"/>
<path stroke="#c4c4c4" d="M16 5h1m-3 1h1m0 6h1m-1 1h1m1 4h1"/>
<path stroke="#cbcbcb" d="M11 5h1m6 2h1m0 7h1m-12 1h1m7 1h1"/>
<path stroke="#d1d1d1" d="M11 9h1m7 1h1m-1 2h1m-1 1h1m-2 3h1"/>
<path stroke="#d8d8d8" d="M15 5h1m-4 1h1m4 0h1m-7 2h1m-1 2h1m7 1h1m-9 4h1m-3 1h1"/>
<path stroke="#dedede" d="M12 5h3m0 1h1m-8 3h1m-1 4h1m-1 1h1m2 0h1m4 1h1m-7 1h1m6 0h1"/>
<path stroke="#e5e5e5" d="M11 11h1m-4 1h1m2 0h1m-1 1h1m6 2h1"/>
<path stroke="#ebebeb" d="M10 6h1m-2 1h1m1 0h1m4 7h1m-8 1h2"/>
<path stroke="#f2f2f2" d="M11 6h1m4 2h1m-1 1h1m-1 1h1m-1 2h1m-1 1h1m1 0h1m-1 1h1m-2 1h1"/>
<path stroke="#f8f8f8" d="M16 6h1m-9 5h1m7 0h1m1 1h1m-10 1h2m6 0h1m-9 1h2m6 0h1"/>
<path stroke="#ffffff" d="M10 7h1m5 0h2m-9 1h2m6 0h2m-10 1h2m6 0h2m-11 1h3m6 0h2m-10 1h2m6 0h2m-10 1h2m6 0h1"/>
</g></g></g>
<g transform="scale(0.5)" fill="none" stroke="#000" stroke-linecap="round"><path d="M2656 146l8-2m5 2l8-1m1-2l9 0m4 0l9 2m1-2l8 2m4-3l8 3m3-2l8 3m-102 10l8-3m3 4l8-3m2 3l10-2m2 1l10-1m0 1l10-1m0 0l11 1m2-1l11 2m-2-3l10 3m3-4l9 3m2-2l8 4m5-5l8 5m3-5l6 5m-147 11l7-4m3 5l8-5m4 3l9-4m1 5l10-4m1 2l10-2m1 2l11-2m1 2l12 0m0-1l11 2m-1-3l11 2m0-3l10 4m2-3l10 5m1-7l10 6m3-5l8 7m2-9l7 7m7-5l5 6m-180 10l6-6m6 7l7-5m3 5l8-6m2 7l10-6m1 3l10-4m0 5l11-4m2 3l11-2m0 1l11-1m-1 0l11 1m0-2l12 2m1-3l11 4m-1-3l10 5m2-7l9 6m4-5l9 7m0-9l9 8m4-7l7 8m4-8l6 8m7-7l4 7m-200 9l6-6m3 6l7-7m4 9l8-7m4 6l8-6m1 7l9-6m3 4l10-5m1 4l11-4m-1 5l11-2m0-1l11 0m1 1l11 1m1-4l10 3m0-2l11 5m1-7l10 6m1-6l9 7m5-8l8 8m2-6l8 8m4-10l7 9m5-9l5 8m6-7l4 7m-222 12l5-6m5 5l5-7m5 8l7-8m6 9l7-8m4 6l8-7m1 9l9-7m2 5l10-6m2 7l10-5m0 3l10-4m1 2l10-1m2 0l10 1m2-1l10 2m0-2l9 3m2-6l10 6m4-6l8 7m1-7l8 8m3-8l8 9m4-11l7 10m7-9l5 10m7-9l4 10m7-11l3 8m-224 13l5-8m8 9l6-9m4 8l7-9m3 10l6-9m5 8l8-8m2 8l9-8m2 8l9-7m4 5l9-5m2 3l9-3m2 2l9-1m2 0l9 1m2-1l8 3m3-5l8 5m4-4l7 7m6-9l6 8m4-9l6 9m6-8l5 10m7-11l5 11m7-10l4 11m7-12l4 10m7-10l3 9m-244 12l3-7m9 6l4-9m5 10l5-10m7 10l5-9m6 8l6-9m4 9l7-9m5 10l7-8m3 8l7-7m4 5l8-7m3 7l8-4m5 3l8-3m1 2l8 0m3-1l8 2m4-5l8 5m3-4l7 6m7-8l6 8m6-7l5 9m4-11l5 9m6-9l5 11m7-12l4 11m8-9l3 11m8-11l2 11m10-10l2 9m10-8l1 8m-253 11l3-9m8 9l4-10m6 9l4-10m7 12l4-10m6 8l5-10m6 11l5-10m7 9l6-9m6 9l6-8m4 7l7-6m4 4l7-4m3 4l7-2m4 0l8 1m5-2l7 4m3-6l6 6m6-6l5 8m8-9l4 8m6-9l4 10m9-10l3 11m9-11l2 11m9-11l2 12m10-11l1 11m10-11l1 10m8-10l1 9m-253 12l2-8m10 8l3-10m8 11l3-10m9 8l3-10m6 12l3-10m8 10l4-11m8 11l4-10m6 10l4-10m9 7l5-7m5 6l6-6m6 6l5-4m6 3l5-1m5 0l5 2m6-6l5 6m8-6l3 7m9-8l2 9m9-8l2 9m11-10l1 10m8-10l1 11m12-11l0 12m11-13l0 12m10-11l1 11m11-12l1 10m10-9l0 9m-263 12l2-9m9 9l1-10m11 10l2-10m8 11l2-11m9 10l2-11m9 11l3-12m8 13l2-12m10 12l2-11m9 9l2-9m9 10l2-8m9 7l2-6m9 4l3-4m9 3l2 1m8-5l1 4m11-5l0 7m11-6l0 9m12-10l0 9m13-10l-1 10m10-10l0 10m12-11l0 11m12-11l-1 12m11-11l-1 12m14-12l-1 11m10-10l-1 10m13-10l-1 8m-273 12l1-8m9 9l0-9m13 9l0-10m9 10l1-11m12 11l0-11m9 12l1-12m11 11l1-12m10 11l1-11m11 10l0-10m13 10l-1-9m11 9l-1-8m12 7l-1-6m14 4l-2-3m14 1l-3 2m14-4l-3 6m12-6l-3 8m14-8l-2 8m15-10l-2 9m12-8l-2 9m14-9l-2 11m13-12l-3 11m15-12l-3 11m14-9l-2 11m11-12l-1 11m14-10l-2 9m11-9l-1 7m-272 12l0-9m11 10l0-9m11 9l0-11m11 12l0-11m11 10l-1-11m13 11l-1-11m12 11l-2-11m13 12l-2-12m14 12l-2-10m14 8l-3-8m15 8l-4-6m15 5l-5-4m18 2l-6-1m17-1l-6 4m16-5l-6 5m17-7l-5 8m17-8l-5 9m15-8l-4 9m16-10l-4 10m15-10l-4 11m14-12l-3 11m15-12l-3 11m12-10l-3 11m14-9l-2 9m14-8l-2 7m-262 11l-1-8m12 10l-1-10m13 10l-2-11m14 10l-2-11m13 11l-2-11m14 11l-3-11m13 11l-4-11m16 12l-4-10m16 9l-6-9m16 7l-5-8m18 8l-7-5m19 3l-8-3m19 2l-8 1m19-2l-8 3m19-4l-7 5m19-7l-7 7m16-8l-6 8m17-9l-5 9m17-8l-6 10m17-9l-5 10m17-11l-5 11m16-12l-4 11m15-11l-4 9m13-8l-3 8m14-6l-2 7m-273 10l-1-8m13 9l-2-8m13 9l-2-10m14 11l-3-11m15 11l-4-11m15 11l-4-11m17 9l-5-11m17 12l-6-10m17 9l-6-9m17 9l-8-7m19 6l-8-6m21 4l-9-3m20 2l-9-1m20 1l-9 2m19-4l-9 4m21-4l-8 6m19-6l-8 6m19-8l-7 8m17-10l-7 10m18-10l-6 10m18-9l-6 10m17-10l-5 11m14-11l-4 9m16-8l-4 8m16-7l-3 7m-262 12l-2-7m14 6l-3-9m13 11l-3-10m17 10l-5-11m16 10l-5-11m15 12l-6-10m19 9l-6-10m18 10l-8-9m19 8l-8-8m20 8l-10-6m21 5l-10-5m22 2l-10-2m20 2l-11 0m23-1l-11 2m23-4l-10 5m19-6l-9 6m20-5l-9 7m19-7l-8 8m21-10l-8 9m19-9l-7 9m17-9l-7 9m17-8l-6 9m18-10l-4 8m14-6l-4 7m-259 11l-2-7m14 7l-3-8m15 8l-4-9m15 10l-5-10m16 9l-5-10m16 12l-6-10m18 9l-6-9m17 10l-8-9m19 7l-8-8m20 8l-10-7m23 5l-10-5m21 6l-10-4m20 2l-11-1m23-1l-11 1m23-2l-10 3m20-2l-11 4m22-5l-10 6m22-8l-10 7m20-5l-9 7m20-10l-9 9m21-9l-8 9m17-6l-6 8m18-10l-5 7m14-6l-4 7m-236 12l-3-7m15 6l-4-9m14 11l-5-9m18 8l-6-9m19 10l-8-9m17 8l-8-8m21 8l-8-7m20 6l-9-6m19 5l-11-6m22 6l-10-4m23 4l-11-2m21-1l-11-1m22 0l-11 1m24-1l-11 3m21-3l-11 4m23-6l-11 6m20-5l-10 6m22-8l-9 7m20-7l-9 8m19-6l-7 7m18-8l-6 7m17-7l-5 6m16-6l-4 6m-248 13l-3-6m14 6l-3-6m15 5l-5-8m16 9l-6-8m18 7l-7-8m19 8l-8-8m19 8l-9-8m22 9l-10-7m21 5l-10-6m20 7l-11-4m24 1l-11-3m21 2l-11-1m23 3l-11 0m23-1l-12 1m22-3l-12 3m23-4l-11 5m23-5l-11 5m21-4l-10 6m20-8l-9 7m19-5l-8 6m20-7l-7 6m18-5l-5 5m14-7l-4 5m-226 14l-4-6m17 5l-5-7m16 8l-6-7m17 6l-7-7m20 8l-9-7m21 5l-10-6m21 8l-11-6m23 5l-11-4m24 3l-12-3m23 2l-12-2m22 2l-12-1m23-1l-12 1m23-1l-11 2m24-2l-12 4m22-4l-11 4m21-6l-10 5m20-4l-8 5m18-7l-7 6m18-6l-6 6m17-5l-5 4m16-3l-5 4m-212 11l-4-5m14 7l-5-6m17 4l-6-6m17 6l-7-6m20 7l-9-6m21 7l-10-6m20 3l-10-4m23 5l-11-3m23 2l-11-3m22 2l-12-1m22 1l-12 0m25 0l-12 1m23-3l-12 3m22-3l-11 3m21-2l-10 4m20-4l-8 4m21-5l-8 4m18-3l-7 4m18-4l-6 4m-191 11l-4-4m16 4l-6-5m16 4l-6-5m18 5l-7-4m18 5l-8-5m21 4l-8-4m20 4l-9-3m20 4l-9-3m19 1l-10-2m22 1l-11-1m23 0l-10 0m21 2l-10 1m20-2l-9 2m19-2l-8 2m21-3l-8 3m19-3l-7 3m17-4l-6 3m17-3l-5 4m-170 11l-5-4m18 4l-5-3m16 2l-7-3m18 5l-7-3m20 2l-8-3m18 4l-8-3m19 1l-8-2m19 2l-9-1m22 1l-9 0m20-1l-9 0m20-1l-9 1m19-1l-8 2m19-1l-7 2m17-3l-6 3m18-2l-6 3m-134 10l-6-4m18 3l-6-3m18 5l-7-3m16 3l-7-2m20 0l-7-2m18 3l-7-1m17 0l-8-1m19 2l-7 0m18-2l-7 0m18 1l-7 1m19-1l-7 2m17-3l-6 2m-87 11l-6-2m16 3l-7-2m17 0l-6-1m19 2l-6-1m16 0l-6-1m18 2l-6 0m19-2l-7 0m-62 76l-6 2m18-1l-6 2m17-3l-6 1m16 0l-7 1m19-2l-6 0m17 2l-6 0m18 0l-6 0m-91 9l-6 3m18-3l-6 3m18-3l-7 2m19-2l-7 3m19-3l-8 2m18 0l-8 1m19-1l-8 0m20-1l-8 0m18 0l-7 0m17 0l-7-1m19 3l-7-2m19 0l-6-2m-136 11l-5 4m18-5l-6 4m17-2l-7 4m18-4l-8 4m20-4l-8 3m18-2l-8 2m20-3l-9 1m22 1l-9 1m20-2l-9 0m19 0l-9 0m20 0l-8-1m19 3l-7-2m19 2l-7-2m17 1l-7-2m18 3l-6-2m-169 10l-4 5m16-5l-6 5m18-5l-6 5m18-6l-7 5m19-5l-8 5m18-3l-8 4m21-5l-9 3m19-2l-10 2m23-1l-10 2m20-2l-11 1m23 0l-10 0m21 0l-10-1m20 1l-9-2m21 1l-9-2m19 2l-8-3m18 3l-7-3m18 3l-7-3m18 4l-6-4m-190 12l-5 6m17-7l-5 6m15-7l-6 6m18-6l-7 6m19-6l-8 6m20-4l-10 6m23-6l-10 5m21-5l-11 3m22-3l-11 3m23-2l-12 1m22-1l-12 0m24 3l-12-1m23-1l-11-2m21 4l-11-3m22 3l-9-4m19 3l-9-4m20 5l-7-4m19 5l-6-4m17 2l-6-4m-203 12l-4 6m15-7l-5 6m18-7l-6 7m18-6l-7 7m19-7l-9 7m20-7l-10 6m22-5l-10 6m22-6l-11 5m22-6l-11 4m22-1l-12 2m24-2l-12 1m23-1l-12-1m21 3l-11-2m23 2l-11-4m22 4l-12-5m24 7l-10-5m19 4l-9-5m20 5l-8-5m18 6l-6-5m17 4l-5-5m-224 11l-3 6m14-6l-4 6m15-7l-5 7m16-7l-5 8m17-9l-7 8m20-8l-8 8m19-6l-9 7m20-9l-10 7m22-6l-10 5m23-3l-11 5m20-4l-11 3m23-3l-11 1m22 0l-11 0m22 1l-11-1m23 0l-12-3m24 4l-11-5m20 6l-11-5m24 6l-10-6m20 4l-9-6m18 8l-8-6m20 7l-6-6m16 4l-5-5m15 4l-4-5m-235 12l-4 7m15-9l-4 8m16-9l-6 9m16-8l-6 9m18-10l-7 9m20-8l-8 9m19-9l-9 8m21-6l-10 6m22-7l-11 6m22-3l-11 3m21-4l-11 3m23 0l-12 0m23-2l-11-1m22 4l-11-3m21 3l-11-4m24 5l-11-6m20 7l-10-7m22 7l-10-8m20 6l-8-7m18 8l-7-7m20 7l-6-6m15 4l-5-6m-237 13l-3 8m16-8l-4 8m16-11l-5 10m16-9l-5 10m16-10l-7 10m20-11l-7 9m18-8l-8 9m19-8l-8 8m19-9l-9 7m20-5l-10 5m23-4l-11 3m23-2l-11 1m20 0l-11 0m24 1l-11-3m20 4l-10-4m23 4l-10-5m21 6l-9-7m20 7l-9-7m18 7l-8-8m19 9l-8-9m20 10l-6-9m17 6l-6-7m16 9l-4-7m-249 10l-2 8m14-9l-3 9m13-8l-4 10m16-11l-4 11m16-12l-5 11m15-10l-5 10m18-11l-6 10m17-8l-7 10m20-11l-8 8m19-6l-9 7m22-7l-10 4m20-2l-10 2m22-2l-11 0m21 2l-10-2m21 3l-10-4m21 5l-9-6m21 7l-9-7m18 7l-8-8m19 8l-8-9m21 10l-8-9m19 8l-6-9m16 10l-6-9m17 9l-4-8m14 6l-4-7m-259 12l-1 8m11-9l-2 8m13-10l-3 10m16-10l-3 11m13-10l-3 11m14-11l-3 10m15-9l-5 10m17-12l-6 11m18-9l-7 9m19-9l-8 8m19-7l-8 6m20-5l-9 4m21-3l-9 1m18 0l-9-1m21 4l-9-4m20 4l-8-6m18 7l-8-7m19 7l-7-8m19 8l-7-9m18 9l-7-10m17 11l-6-10m18 11l-6-10m18 9l-5-10m16 9l-4-8m12 9l-3-7m-260 9l-1 9m11-9l-1 10m14-11l-2 11m14-12l-2 11m12-10l-2 11m15-11l-3 11m14-11l-3 11m15-10l-4 10m15-9l-5 9m16-8l-5 7m18-8l-7 5m18-2l-8 3m19-3l-8 0m19 3l-8-4m19 3l-7-5m18 8l-6-7m17 5l-6-8m16 9l-6-9m19 12l-6-11m17 9l-5-11m16 13l-5-11m15 9l-4-11m15 11l-4-9m15 7l-3-8m13 9l-2-7m-272 10l0 8m9-8l0 10m12-11l0 10m12-11l0 11m12-10l-1 12m12-13l-1 11m11-10l-1 12m14-11l-1 11m12-12l-2 10m14-9l-3 8m15-7l-4 7m14-7l-5 5m19-2l-6 0m15 1l-6-3m17 7l-5-6m15 6l-4-7m16 7l-4-8m16 9l-4-9m14 9l-4-10m15 9l-4-11m15 13l-3-11m16 11l-3-12m12 10l-3-11m16 11l-3-9m14 9l-2-8m-274 12l0 7m10-9l0 8m11-9l0 11m12-11l0 11m12-11l0 11m9-11l1 11m11-12l1 11m11-10l0 11m12-10l0 10m10-9l0 9m13-8l-1 8m11-9l-1 6m14-3l-2 3m13-2l-3-2m14 3l-3-5m15 7l-3-8m14 10l-2-9m12 9l-2-9m13 8l-3-10m15 11l-2-11m12 11l-3-11m15 12l-2-11m14 10l-2-12m11 13l-2-10m14 8l-1-9m11 9l-1-7m-273 11l1 8m11-10l1 10m10-10l2 10m9-11l1 10m9-10l2 11m9-12l2 12m8-11l3 12m11-10l2 10m8-11l2 9m9-9l3 9m7-7l3 6m8-6l2 4m11-1l3-1m7 3l2-4m10 7l1-7m11 7l0-9m12 9l0-10m11 10l0-10m12 10l-1-10m11 12l0-12m11 11l0-12m13 12l-1-12m11 11l0-11m11 12l-1-10m11 9l0-8m-263 9l3 9m8-9l2 10m10-9l3 10m6-10l3 10m9-10l4 10m8-11l3 11m7-12l4 11m7-9l4 10m8-10l5 7m6-7l5 7m5-5l6 4m4-2l6 1m6 0l5-2m8 5l4-6m6 6l4-8m9 7l2-8m10 10l2-9m8 8l1-10m10 12l1-11m11 11l0-12m11 13l1-12m11 10l0-12m11 13l0-10m12 9l0-8m-254 9l4 9m7-8l4 10m7-9l5 10m6-12l4 10m7-10l5 10m5-8l6 10m7-11l5 9m6-7l6 7m4-7l6 6m5-6l7 5m4-3l8 2m2-2l7-1m6 3l7-4m5 4l6-6m4 8l5-7m8 7l4-8m7 9l3-10m8 10l3-10m9 11l3-11m7 11l2-11m11 11l2-12m10 12l1-10m9 8l1-9m-253 14l3 7m7-8l4 9m8-10l5 9m4-10l5 9m7-9l5 10m5-9l6 9m5-8l7 8m5-8l8 8m4-8l7 6m3-5l8 4m2-4l9 3m3 0l8 0m2 0l9-2m3 4l7-5m6 5l7-7m3 9l6-7m6 7l5-9m8 9l4-10m8 11l4-11m6 12l3-11m8 10l3-12m8 13l3-11m9 9l2-9m9 7l1-7m-253 12l4 7m7-8l5 8m5-8l6 8m5-8l6 9m4-8l7 8m4-8l7 8m4-7l9 7m2-9l9 7m2-4l9 5m2-6l9 4m2-1l9 1m3-2l9-1m3 3l8-3m3 5l8-5m4 6l7-7m3 7l7-8m6 8l6-9m5 10l6-10m5 10l5-11m7 10l4-10m8 11l3-11m8 10l3-10m9 10l2-7m-244 10l5 7m4-6l6 7m5-7l7 8m6-10l7 8m3-7l8 8m2-7l9 7m2-7l9 6m1-4l11 5m2-6l10 4m0-2l10 2m2-1l10 0m2 0l10-2m1 2l9-3m2 5l9-6m2 6l8-7m5 9l8-8m3 9l7-9m5 7l6-9m5 10l6-9m6 10l5-10m6 7l3-8m-212 12l6 7m5-7l7 7m5-6l8 7m3-7l8 6m2-6l9 6m3-4l10 4m0-5l11 4m-1-4l11 2m0 1l11 1m0-1l11-1m2 3l11-4m0 4l10-5m1 6l10-6m1 5l9-7m3 9l8-9m4 8l7-9m6 9l6-9m4 10l5-8m8 7l4-7m-200 12l6 6m3-6l7 6m5-6l8 6m1-5l10 5m2-6l10 4m0-4l11 4m-1-2l11 3m2-4l11 1m-2 1l12 0m-1 0l12-2m1 4l11-4m1 3l11-5m-1 6l10-7m2 8l9-7m3 8l8-8m4 8l7-8m5 7l5-7m7 6l5-6m-181 12l7 5m5-4l8 4m3-4l9 4m1-4l10 3m1-2l11 3m1-2l11 1m-2-2l11 0m1 1l12-1m0 1l11-3m1 6l10-4m-1 2l10-5m3 7l10-6m1 6l8-6m5 6l7-7m4 8l6-6m-147 10l8 3m3-3l9 3m3-1l9 3m1-2l10 1m1-1l11 0m1-1l10-1m0 2l11-2m0 3l10-2m2 2l10-4m2 5l8-4m2 3l8-5m5 7l6-5m-102 13l8 1m2-2l9 0m3 2l9 0m3 1l8-1m2-1l8-2m5 2l8-3m2 3l7-3m335-610l0 4m10-3l0 3m13-4l0 3m11-3l0 3m10-4l0 3m10-2l0 3m13-2l-1 3m13-5l0 3m-98 8l1 4m13-2l0 4m10-5l1 3m11-3l0 4m11-5l0 3m10-3l0 3m11-1l0 3m13-4l0 4m11-3l-1 3m12-3l0 4m12-6l0 4m11-3l-1 4m-141 7l1 5m11-4l1 4m11-4l0 4m9-5l1 4m11-5l0 4m13-3l0 4m11-4l0 3m11-3l0 4m11-5l0 4m10-2l0 4m12-5l0 4m11-5l0 4m11-3l-1 5m12-7l0 5m12-4l-1 5m-173 7l2 5m9-6l1 5m10-5l0 5m12-4l1 5m9-4l1 5m10-6l1 4m10-4l1 4m12-4l0 4m11-5l0 4m12-3l0 4m11-3l0 4m12-4l-1 4m11-5l0 4m11-4l-1 4m12-4l-1 5m14-5l-1 5m10-6l-1 5m14-5l-1 5m-197 5l1 6m11-5l1 6m9-6l1 5m11-5l1 5m10-5l1 6m10-6l1 5m11-5l0 5m10-4l0 5m13-4l0 5m11-5l0 5m11-7l0 5m11-4l-1 5m12-4l0 4m12-6l0 5m10-5l0 5m12-4l-1 5m12-7l-1 6m12-4l-1 5m13-5l-2 5m-219 6l2 5m11-5l2 5m7-5l2 5m10-6l1 6m12-6l1 5m8-5l1 6m12-5l0 6m12-5l1 5m8-5l1 5m11-7l0 6m12-4l0 5m11-6l0 6m12-7l0 5m10-5l-1 5m12-5l-1 5m13-5l-1 5m13-4l-1 5m12-5l-1 5m11-5l-1 5m14-5l-1 6m12-5l-1 5m11-7l-1 6m-241 6l2 5m11-5l1 5m10-5l1 5m10-6l1 5m10-3l1 5m9-5l1 6m10-8l1 6m12-6l0 5m10-3l1 6m11-7l1 6m10-7l0 6m12-5l0 6m10-6l0 5m12-4l-1 6m13-7l-1 6m11-7l-1 6m13-6l-1 6m13-5l-1 5m11-6l-1 6m13-4l-1 5m12-6l-1 6m11-7l-1 5m14-4l-1 5m-252 5l1 6m10-6l2 5m7-4l2 5m11-4l2 5m10-5l1 5m9-6l1 6m10-6l1 6m11-7l1 6m9-5l1 7m11-7l0 6m11-6l0 6m13-6l0 6m11-6l0 6m11-6l0 6m11-6l0 6m10-7l0 7m12-6l-1 6m12-5l0 6m11-7l-1 6m12-5l-1 6m14-8l-1 6m13-5l-2 6m11-6l-1 5m14-5l-2 5m-252 5l2 5m8-3l1 5m12-7l1 6m8-4l1 6m11-6l1 6m11-7l1 6m11-6l1 6m9-6l1 6m10-6l0 7m11-8l1 6m11-6l0 7m10-6l1 6m11-7l-1 7m12-7l0 6m11-5l0 6m13-5l-1 6m11-7l-1 6m12-7l-1 6m14-6l-1 6m11-4l-1 6m12-7l-2 6m13-6l-1 6m13-6l-2 6m-251 5l1 5m9-4l2 5m11-7l1 6m8-4l2 6m11-7l1 6m9-5l1 6m11-8l1 7m9-6l1 6m13-5l0 7m10-9l0 7m10-7l1 8m11-7l0 7m12-8l0 7m11-7l0 7m12-7l-1 7m11-7l-1 7m14-5l-1 7m12-9l-1 7m12-6l-1 6m12-6l-2 6m14-6l-1 6m13-5l-2 5m11-4l-2 5m14-6l-2 6m-263 5l2 5m10-6l2 5m9-5l2 5m9-4l2 6m10-6l1 6m8-7l1 6m12-6l1 6m9-5l1 7m12-9l1 7m9-6l0 8m12-7l0 7m11-8l0 7m12-8l0 8m12-8l-1 8m11-6l-1 7m12-7l-1 7m13-9l0 7m12-7l-1 7m10-5l-1 6m14-6l-2 7m13-8l-1 6m12-5l-2 6m13-6l-1 5m13-5l-1 5m12-4l-2 5m-273 4l1 5m9-3l1 5m9-7l1 6m11-4l1 5m11-6l1 7m11-7l1 6m8-6l2 7m9-8l2 7m12-6l0 7m10-9l1 7m10-5l1 8m11-11l1 9m9-8l0 8m12-7l0 9m12-9l0 8m11-7l-1 8m12-10l-1 8m12-8l-1 8m13-6l-1 7m11-9l-1 7m12-6l-1 7m13-8l-2 7m13-5l-2 6m13-5l-1 5m13-5l-1 5m12-7l-2 5m-273 8l1 5m10-6l1 5m10-4l2 6m8-7l1 6m11-6l1 7m10-8l1 7m11-6l2 7m8-7l1 8m10-9l1 8m11-9l0 8m11-8l0 8m12-8l0 9m11-9l0 9m13-8l-1 9m10-11l0 9m13-8l-1 8m13-6l-1 8m10-9l-1 8m13-7l-1 7m11-8l-1 7m13-6l-2 7m13-7l-2 6m15-7l-2 6m13-5l-1 5m11-5l-1 5m-275 6l1 5m11-4l2 5m8-6l1 6m12-6l1 6m9-7l2 6m9-7l1 7m10-5l1 8m10-10l1 8m11-8l1 9m10-9l1 8m10-7l1 9m10-10l1 9m12-9l0 10m10-10l0 9m11-9l0 10m13-9l-1 10m13-10l-1 9m10-10l-1 9m13-8l-1 8m12-7l-1 7m14-8l-1 7m12-6l-1 7m11-7l-2 6m14-7l-1 6m11-4l-1 5m14-5l-1 5m-277 5l2 5m10-4l1 5m10-6l1 6m11-7l2 6m10-6l1 7m8-6l2 7m11-8l2 8m9-9l1 8m10-6l1 9m11-10l1 10m10-10l0 10m12-11l0 10m11-9l0 10m12-10l0 9m10-9l-1 9m13-9l-1 10m12-11l-1 9m12-9l-1 9m13-8l-1 8m11-7l-1 8m13-9l-1 7m12-6l-1 7m13-7l-2 5m13-4l-2 5m12-4l-2 5m-263 5l2 6m11-6l1 5m10-5l2 6m8-8l2 7m9-7l1 7m11-6l1 8m10-8l1 9m10-9l2 9m11-11l1 10m10-9l1 11m10-13l0 11m12-10l0 11m10-10l0 10m11-11l-1 11m12-11l0 10m13-9l-1 9m11-8l-1 9m12-10l-1 9m14-8l-1 7m11-7l-2 8m14-8l-1 7m13-7l-2 6m11-7l-2 6m13-4l-1 6m-262 4l1 5m8-4l2 5m12-4l1 6m9-8l2 6m10-5l1 7m10-10l2 8m8-7l1 9m10-10l2 9m10-8l1 10m11-11l1 10m9-9l1 11m11-13l0 11m12-11l0 11m10-10l0 11m11-11l0 10m13-10l0 10m10-9l-1 10m13-9l-1 9m13-10l-2 8m13-8l-1 8m13-7l-2 7m12-6l-1 7m13-9l-1 6m11-3l-1 5m12-7l-1 5m-263 7l1 5m10-6l1 6m9-5l2 7m11-7l1 7m10-7l2 7m9-9l1 8m9-8l2 9m11-8l1 10m9-11l1 10m10-10l1 12m10-13l1 12m12-13l0 12m12-12l0 11m11-10l-1 12m12-11l0 11m12-11l-1 11m12-11l-2 10m12-10l-2 9m15-8l-2 8m12-9l-2 8m13-6l-1 7m13-8l-2 6m14-6l-2 6m12-6l-2 6m-251 6l2 6m8-6l2 6m10-6l2 7m8-8l1 8m10-8l2 8m12-8l1 10m8-11l2 9m10-10l1 11m10-10l1 11m12-12l0 12m9-13l0 13m12-12l0 12m11-13l0 12m12-10l-1 12m13-14l-1 12m12-10l-1 10m12-10l-2 10m13-9l-2 10m14-11l-2 8m12-7l-2 7m13-6l-1 7m13-7l-1 6m13-7l-2 6m-231 5l2 6m11-5l2 8m10-8l1 8m10-10l2 9m9-9l1 10m10-11l1 10m9-10l1 12m11-13l0 13m10-13l1 13m11-13l0 13m12-12l0 13m12-13l-1 13m11-13l-1 13m13-13l-1 12m12-11l-1 10m13-10l-1 9m12-8l-1 9m12-9l-1 8m13-7l-1 7m12-8l-2 6m12-5l-2 5m-218 5l2 7m11-5l2 7m9-9l1 9m9-9l2 9m11-10l1 11m10-12l1 12m10-12l1 13m10-14l0 14m11-15l0 15m11-13l0 15m13-15l-1 14m12-15l-1 14m11-14l-1 13m14-11l-2 12m12-12l-1 11m12-12l-2 10m13-8l-2 9m14-9l-2 8m14-6l-2 7m-198 3l2 7m11-7l1 8m9-10l2 9m11-9l2 10m9-11l1 12m8-12l2 13m11-13l1 14m10-15l1 15m10-15l1 15m11-15l0 15m11-15l-1 15m13-14l-1 14m13-14l-1 13m12-12l-1 12m12-12l-1 10m11-10l-2 9m14-8l-2 9m13-8l-2 7m-173 4l1 8m11-8l1 9m10-10l1 11m9-12l1 12m11-13l1 13m10-13l1 15m11-16l0 16m13-16l-1 16m10-16l0 16m12-16l0 15m10-15l-1 14m14-12l-1 12m12-12l-1 11m13-10l-2 10m12-11l-2 9m-140 3l2 10m10-11l2 12m8-14l2 14m11-15l1 16m10-15l1 18m10-19l0 19m12-20l0 18m11-17l-1 18m12-17l-1 17m14-16l-1 15m12-14l-2 12m12-10l-2 10m-104-2l1 15m8-16l2 17m10-19l1 20m10-21l1 22m10-23l0 22m13-20l-1 22m13-22l-1 20m12-19l-1 17m-66 58l-2 18m13-19l-2 20m12-22l-1 23m13-22l0 22m10-22l0 22m12-21l1 20m10-19l1 18m10-16l1 15m-105-3l-2 11m12-10l-2 12m13-14l-1 14m13-15l-1 16m11-16l0 18m10-19l0 19m13-19l0 19m10-20l1 18m9-17l1 17m12-15l1 14m8-13l2 13m11-11l1 10m-141 1l-1 9m13-10l-2 10m13-10l-1 11m11-11l-1 12m13-14l-1 14m12-15l-1 15m12-14l-1 16m13-17l0 17m11-15l0 15m11-16l1 15m10-16l1 14m10-12l1 12m9-12l2 12m11-11l1 9m10-7l2 8m-176 4l-1 7m13-9l-2 8m14-9l-1 9m11-8l-2 11m13-13l-2 12m13-11l-1 12m14-14l-1 14m10-13l-1 14m13-16l0 16m11-15l0 15m11-16l0 15m10-13l1 14m11-14l1 13m10-12l1 12m10-11l1 11m11-11l1 9m9-8l1 8m11-9l2 7m-197 5l-1 6m12-6l-2 8m14-10l-2 9m12-9l-2 10m13-9l-1 11m13-12l-1 12m12-13l-1 13m12-14l-1 14m13-14l-1 14m12-14l0 15m9-14l1 14m11-14l1 14m9-13l1 13m11-14l1 12m10-10l2 11m10-11l2 10m8-9l1 9m12-8l2 8m8-8l1 7m-218 5l-1 6m14-6l-2 6m13-8l-1 7m11-7l-2 8m14-8l-2 8m14-10l-2 10m11-9l-1 11m12-13l-1 12m12-11l-1 12m14-13l-1 13m11-13l0 13m12-13l0 14m11-15l0 14m10-13l1 13m9-11l1 12m11-12l2 11m10-11l2 10m8-10l2 9m10-9l2 8m9-8l2 7m9-6l1 7m10-5l2 6m-242 6l-1 5m14-8l-1 7m11-5l-2 6m13-7l-2 8m14-9l-2 8m13-9l-2 9m12-9l-1 10m12-11l-1 11m14-9l-1 11m11-12l-1 12m12-14l0 13m11-12l0 12m11-12l0 12m11-11l0 12m11-12l1 12m11-11l2 10m9-10l2 10m9-11l2 9m8-9l2 8m11-7l2 7m8-6l1 6m10-6l1 6m12-5l1 6m-253 5l-1 5m12-7l-2 6m15-5l-2 7m13-8l-1 7m10-7l-1 7m13-8l-1 9m12-7l-2 9m13-11l-2 10m14-10l-1 11m11-12l-1 12m13-12l-1 12m11-12l0 12m12-13l0 12m10-11l1 11m10-10l1 11m11-12l1 11m11-10l1 10m9-10l2 9m10-7l1 8m10-8l2 7m10-6l1 7m9-8l2 7m10-6l2 5m8-4l2 5m-263 6l-2 5m12-7l-2 6m15-6l-2 6m13-6l-2 6m12-7l-2 8m13-8l-1 8m14-8l-2 9m12-10l-1 9m13-9l-1 10m11-10l-1 10m13-10l-1 11m12-12l0 11m10-11l0 11m11-9l0 11m12-13l0 11m10-8l1 10m10-11l1 10m12-9l1 9m9-11l2 9m9-8l1 8m10-6l2 7m8-9l2 7m10-6l2 6m9-4l1 5m10-6l2 5m-262 6l-1 5m11-5l-1 5m13-6l-2 6m12-6l-1 7m12-8l-1 8m14-7l-2 8m13-9l-2 8m12-8l-1 9m14-10l-1 10m11-10l0 10m10-10l-1 10m12-10l0 11m12-10l0 11m10-12l0 10m13-10l1 10m8-8l1 10m11-12l1 9m10-8l1 9m11-9l2 8m8-8l1 8m11-6l2 7m10-7l1 6m8-6l2 6m11-6l1 5m-263 7l-2 5m14-5l-1 5m11-7l-1 6m12-4l-2 6m13-9l-1 7m12-6l-1 8m14-7l-1 8m11-8l-1 8m13-11l-1 10m12-8l-1 9m10-11l0 10m13-9l0 10m11-9l0 10m10-11l0 10m11-11l1 10m11-10l1 10m10-8l1 9m9-10l1 9m12-7l1 8m10-9l1 7m9-5l2 7m9-8l2 7m10-6l1 6m10-6l1 6m10-5l2 5m-274 5l-2 5m13-4l-1 5m11-6l-2 5m14-7l-1 6m13-6l-2 7m13-7l-1 7m11-8l-1 8m13-6l-1 8m11-10l-1 8m12-6l-1 9m13-10l-1 9m12-10l0 9m12-9l0 10m9-10l0 9m11-8l0 9m12-10l1 10m10-9l1 8m10-8l1 8m11-7l1 8m10-9l1 7m9-6l1 7m10-8l2 7m10-5l2 6m8-6l2 6m11-7l2 6m9-5l1 5m-275 5l-2 5m14-5l-2 6m14-5l-1 5m11-6l-1 6m12-7l-2 7m15-7l-2 7m13-6l-2 7m11-8l-1 8m14-6l-1 8m12-9l-1 8m12-9l-1 9m11-8l0 9m12-10l0 9m10-9l1 9m11-10l1 9m10-9l1 9m11-8l1 8m8-8l1 8m11-8l1 8m10-8l1 7m10-7l1 7m10-5l2 6m10-6l1 6m9-6l1 5m11-4l1 5m-274 6l-2 5m12-5l-1 5m13-6l-1 5m14-5l-2 5m12-6l-1 6m12-6l-1 6m12-6l-1 7m12-6l-1 7m13-9l-1 8m12-8l-1 8m13-8l-1 8m10-9l-1 9m13-7l0 8m11-10l0 9m11-6l1 8m9-8l1 7m12-8l1 7m8-7l1 8m12-7l1 7m9-7l1 7m10-9l1 7m12-4l1 6m9-8l2 6m9-5l1 6m10-7l1 5m11-4l1 5m-275 6l-1 5m12-5l-2 5m14-6l-1 6m12-4l-2 6m15-8l-2 7m13-7l-2 7m12-6l-1 7m12-8l-1 7m12-7l0 7m11-8l0 8m12-7l0 7m10-8l0 8m11-8l0 8m10-7l1 7m12-6l1 7m9-7l1 8m12-8l1 7m8-8l1 7m11-6l1 6m10-6l2 7m9-7l2 6m9-6l2 6m10-7l1 5m9-3l1 6m12-6l1 5m-264 5l-1 6m12-6l-2 5m14-4l-1 5m12-6l-1 6m13-7l-2 7m12-7l-1 6m13-4l-1 6m12-7l-1 7m11-7l-1 7m13-7l-1 7m12-7l0 7m12-7l0 7m11-8l0 7m10-6l1 7m9-8l1 7m12-6l0 7m10-8l1 7m11-7l1 7m10-7l1 6m9-5l1 6m11-7l1 6m9-5l2 6m11-6l1 6m10-6l1 5m-253 7l-2 5m14-5l-2 6m14-7l-1 6m11-5l-1 6m12-7l-1 6m13-6l-1 6m11-5l0 6m11-6l-1 6m13-7l0 7m10-7l0 6m11-6l0 7m13-6l0 6m11-8l0 7m10-5l1 7m11-8l0 6m11-5l0 6m11-8l1 7m10-6l1 6m11-6l1 7m10-7l2 6m9-5l2 6m8-8l2 6m11-6l1 6m9-5l2 5m-263 7l-1 5m11-6l-1 5m12-4l-2 5m13-5l-1 6m13-7l-1 6m12-5l-1 6m11-6l-1 6m14-7l-1 6m13-5l-1 6m10-8l-1 6m12-5l0 6m12-5l0 6m11-8l0 7m11-5l1 6m10-7l1 6m11-7l0 7m11-5l1 6m9-6l1 6m11-7l1 6m10-5l1 5m9-6l1 6m11-6l2 6m10-4l1 5m10-6l2 6m-252 5l-1 6m12-6l-2 6m13-6l-1 5m11-6l-1 6m13-6l-1 6m11-5l-1 6m14-7l-1 6m10-6l-1 6m12-5l-1 6m12-6l0 5m13-6l0 6m11-6l0 6m10-5l0 5m13-4l0 6m10-7l0 6m11-6l0 5m11-4l0 5m11-6l1 6m9-5l1 5m11-5l1 6m11-8l1 6m10-6l2 5m8-3l2 5m-240 4l-2 5m14-3l-2 5m11-7l-1 6m12-4l-1 5m14-6l-1 6m11-5l-1 5m11-6l0 5m14-6l-1 6m10-6l0 5m13-4l-1 6m12-6l0 5m9-6l0 6m12-6l0 5m11-5l0 6m12-4l0 5m11-7l1 6m11-5l0 6m9-6l1 5m11-5l1 5m11-6l1 6m8-4l2 5m10-7l1 6m-217 7l-2 6m12-6l-1 5m13-6l-1 5m11-6l-1 5m12-4l-1 5m14-6l-1 5m10-3l0 5m13-5l0 5m10-5l0 5m11-4l0 5m11-6l0 5m12-6l1 5m11-4l0 5m10-5l0 5m10-6l1 5m11-4l1 5m10-5l1 5m12-7l1 6m9-4l1 5m-196 5l-1 5m13-5l-1 5m12-4l-1 5m12-5l-1 5m10-6l0 5m11-5l0 5m12-4l0 4m12-4l-1 5m13-4l0 4m10-6l0 5m10-5l1 5m11-3l1 4m9-6l1 5m12-4l0 5m10-6l0 5m13-4l1 5m9-6l1 5m10-5l1 6m-175 5l-1 5m14-5l-1 5m11-4l0 4m11-4l-1 4m14-3l-1 4m10-4l0 4m11-5l0 4m13-3l0 4m11-4l0 4m10-3l1 3m11-4l0 4m11-4l0 4m10-5l1 4m11-3l1 4m11-6l1 5m-142 7l0 4m12-3l-1 4m14-3l-1 3m10-3l0 3m11-4l0 4m11-5l0 4m12-3l0 3m10-3l0 3m12-3l0 3m10-2l1 3m12-4l1 4m9-5l0 4m-104 8l-1 4m11-4l0 4m11-4l0 3m10-3l0 3m11-2l0 3m13-4l0 3m11-2l0 3m11-3l0 3m331-613l-2-4m13 3l-1-4m10 4l0-3m13 4l0-3m10 2l0-4m11 3l1-4m10 4l1-3m11 3l2-3m8 5l2-4m-107 14l-3-3m15 3l-3-3m14 3l-2-4m13 3l-2-3m13 5l-1-4m11 4l0-4m11 2l0-4m13 4l0-4m10 6l2-4m9 4l2-4m9 3l2-3m9 4l3-3m-140 13l-5-1m15 2l-4-3m15 3l-3-4m15 4l-2-4m13 5l-2-4m12 3l-1-4m12 3l0-5m11 6l0-5m12 5l0-5m10 5l1-4m9 4l2-4m10 3l2-4m9 4l3-4m8 3l4-3m7 2l5-1m-173 11l-5 1m15 0l-5-1m17 2l-5-2m15 5l-3-4m14 3l-2-4m13 4l-2-5m11 5l-1-5m13 5l-1-5m12 6l0-6m10 5l0-6m11 7l0-6m11 5l1-5m10 4l2-5m10 5l3-4m8 4l3-4m6 3l4-3m7 4l5-1m8 0l4 1m-197 9l-5 3m17-2l-5 0m17 2l-4-2m15 1l-4-4m14 6l-3-4m13 3l-2-4m13 5l-1-6m12 7l-1-6m11 6l0-8m13 8l0-7m10 6l1-7m10 6l1-6m10 7l1-6m10 5l2-5m9 6l2-4m8 2l3-4m8 4l5-2m7 0l6 0m5 1l4 2m-206 8l-4 4m15-2l-5 1m15-1l-5-1m18 3l-4-3m13 3l-2-5m12 4l-2-5m13 6l-1-6m13 7l-1-7m12 8l0-8m11 6l-1-8m12 10l0-9m12 8l1-8m8 8l1-7m11 6l2-6m10 5l2-5m8 5l3-4m7 3l4-3m7 2l5-1m6-1l5 2m6-2l4 3m7-2l4 4m-241 6l-3 4m16-3l-3 4m13-4l-4 3m17-3l-5 0m15 4l-5-3m16 2l-3-4m14 5l-3-5m14 6l-2-6m14 6l-2-8m12 10l-1-10m12 10l-1-10m10 11l0-11m13 10l0-10m10 8l1-9m10 9l1-8m10 8l1-6m10 6l2-5m8 3l3-4m9 4l5-2m5 0l5 0m7 0l4 3m7-5l3 4m10-3l3 5m-253 6l-3 5m15-7l-3 5m13-4l-3 3m16-1l-5 2m15-2l-4-1m14 2l-3-3m15 4l-2-5m13 5l-2-5m14 6l-1-7m11 10l-2-9m13 10l-1-11m11 9l0-11m12 13l0-12m10 12l1-11m10 10l2-9m9 8l1-8m11 5l2-5m9 5l3-5m7 6l4-4m8 2l4-1m7-1l5 2m5-2l3 4m10-4l3 5m7-5l3 5m-262 4l-2 5m13-3l-2 5m13-5l-3 4m15-5l-4 3m16 0l-4 0m13 2l-4-3m16 2l-2-4m12 5l-2-5m14 6l-2-7m13 8l-2-9m12 11l-1-12m13 12l0-12m11 12l0-12m11 11l0-12m10 13l1-12m12 10l1-9m9 7l2-7m9 8l2-6m8 4l2-5m8 5l4-3m9 2l4 1m7-4l4 3m8-4l3 5m8-4l2 5m-253 7l-1 5m12-5l-2 5m15-5l-3 4m15-3l-4 3m14-1l-4-1m16 1l-3-4m13 5l-1-5m12 7l-2-7m12 7l-1-9m14 10l-1-12m10 13l0-12m13 12l-1-13m11 13l0-13m11 13l0-12m11 11l0-11m11 10l1-9m10 9l1-6m11 5l2-5m8 5l3-4m7 2l4-2m9-1l3 3m7-3l2 4m9-4l2 5m11-6l1 5m-263 5l-1 6m13-3l-1 5m11-5l-2 4m13-4l-2 4m14-5l-3 2m13 3l-2-4m15 4l-2-5m12 4l-1-6m12 9l-1-8m13 7l0-10m10 13l0-12m11 12l-1-13m13 13l0-13m11 11l0-12m10 12l0-12m11 13l1-11m10 10l1-8m10 5l1-6m12 6l1-4m8 5l3-4m7 1l4 1m10-4l2 4m8-4l2 5m10-4l1 5m11-6l1 6m-263 5l-1 6m11-5l-1 5m13-6l-1 4m13-3l-2 3m12 0l-3-2m13 4l-1-4m13 3l-1-5m11 8l0-7m12 8l-1-10m12 10l0-11m12 12l0-12m12 11l0-13m10 14l0-12m11 12l0-13m12 13l0-11m10 9l1-10m10 10l0-8m11 5l0-5m12 6l1-4m10 2l2-2m8 0l1 3m12-4l0 4m10-5l1 5m11-5l1 5m10-5l1 6m-276 6l0 6m13-6l0 6m10-6l0 5m12-4l0 4m13-5l-2 3m11 3l0-4m10 4l0-5m12 6l0-6m11 5l0-8m11 10l0-10m11 11l0-13m12 13l0-12m11 12l0-13m12 13l0-12m11 13l0-12m11 10l0-11m12 9l0-9m10 9l0-7m12 6l0-5m12 6l0-4m9-1l0 3m11-2l0 4m11-5l0 5m11-7l0 5m13-5l0 6m-263 6l1 6m9-5l1 5m9-6l1 4m12-3l1 3m10-1l2-3m10 5l1-5m9 6l0-5m11 5l1-7m11 8l0-10m11 12l0-11m12 12l0-12m10 10l0-12m12 12l0-13m11 13l0-12m11 12l-1-12m12 12l-1-10m13 7l-1-7m12 7l0-6m11 7l-1-5m15 4l-3-3m13 0l-2 4m12-5l-1 4m12-6l-1 5m14-3l-1 5m10-6l-1 6m-273 4l1 6m11-5l1 6m9-6l2 5m9-4l2 4m9-2l4 1m7 1l3-4m8 5l1-5m11 4l1-6m11 7l0-8m11 10l0-11m10 13l0-12m13 12l0-12m11 10l0-12m10 13l0-13m13 12l-1-12m11 13l-1-10m12 9l0-8m13 6l-1-5m11 4l-2-5m14 5l-3-3m15 1l-3 1m14-4l-2 4m12-4l-2 5m12-4l-1 6m13-6l-1 6m-264 6l2 5m10-5l1 5m10-7l2 4m9-1l4 3m6-2l4-2m10 4l2-4m9 4l2-6m8 7l2-7m11 8l1-9m10 10l1-10m10 11l0-12m10 11l0-13m12 14l0-12m12 11l-1-12m12 11l-1-10m13 8l-1-8m12 8l-1-6m12 6l-2-5m14 4l-2-5m14 4l-4-1m14-1l-4 3m15-3l-2 4m12-5l-2 5m14-6l-1 5m-253 7l2 5m10-6l2 5m9-2l3 3m7-4l4 1m7 1l3-3m8 4l3-4m10 6l1-6m10 6l2-6m10 7l1-8m8 8l1-10m13 11l0-12m9 11l0-12m14 13l-1-12m11 12l-1-10m13 8l-1-8m12 7l-1-7m13 8l-2-5m14 5l-3-5m14 4l-4-3m15 1l-5 0m15-3l-3 3m14-4l-3 5m15-3l-2 5m-252 5l2 5m8-6l2 5m10-3l3 3m7-2l4 2m6-1l5-1m8 2l3-4m7 6l3-5m10 4l1-6m10 8l2-7m9 6l1-8m10 10l1-10m11 9l0-10m11 10l0-11m12 11l0-10m12 10l-1-8m13 8l-1-7m11 4l-2-5m15 6l-3-5m14 3l-4-3m16 3l-5-1m17 1l-4 2m13-4l-4 4m15-5l-3 4m14-3l-2 5m-253 4l2 5m9-3l4 4m6-5l5 3m6 0l5 1m9-1l4-3m7 4l3-4m7 4l3-5m10 7l2-6m10 7l1-7m9 6l1-8m12 9l0-9m9 9l0-9m13 9l0-9m12 9l-1-8m13 8l-2-6m12 5l-2-6m14 6l-2-5m13 5l-4-4m17 2l-4-2m15-1l-6 1m18-1l-5 3m14-4l-4 4m15-3l-3 5m-229 6l4 3m5-1l5 2m6-3l5 0m8 2l4-3m6 3l3-4m10 6l2-4m10 4l2-5m8 5l1-6m12 6l1-7m10 9l1-8m11 6l0-7m12 8l-1-7m11 6l-1-6m13 6l-1-6m11 5l-2-5m14 5l-3-5m14 6l-4-4m17 2l-5-1m15 0l-5 2m18-5l-4 4m-209 9l5 2m7-1l5 0m6 1l5-2m6 2l4-3m8 5l3-4m8 4l2-5m10 5l1-5m11 6l1-6m9 5l0-6m12 5l0-6m12 8l0-6m10 5l-1-5m15 5l-2-5m12 4l-2-5m15 6l-3-5m14 5l-4-4m14 2l-5-2m17 1l-6 0m17-1l-5 2m-196 10l5 2m8-2l5-1m5 2l4-2m8 3l3-4m9 5l2-4m8 3l2-5m11 6l1-5m11 5l1-5m9 5l0-5m12 4l0-5m10 5l0-5m13 7l-1-5m11 4l-1-4m14 3l-2-5m15 6l-4-4m15 3l-4-2m16 1l-5 0m16-1l-5 2m-175 10l5-2m6 3l4-3m10 4l3-4m8 3l2-4m10 5l1-4m10 3l1-4m11 5l1-4m10 5l0-4m10 2l0-4m12 4l-1-5m13 6l-1-4m13 4l-2-4m13 4l-3-3m14 2l-4-3m15 2l-4-2m-138 14l3-3m7 4l2-3m11 2l1-4m10 5l1-3m11 3l0-4m11 4l0-4m12 4l0-3m10 4l-1-4m13 2l-1-3m12 5l-1-4m12 2l-2-3m14 2l-3-2m-105 13l2-3m10 5l1-2m10 0l1-3m10 5l1-3m11 3l0-3m10 3l-1-3m12 3l0-3m12 1l-1-3m13 3l-2-3m-90 78l2 3m11-3l1 3m10-4l1 3m10-1l0 3m10-5l0 3m13-2l0 3m11-4l-1 3m13-2l-1 3m-96 7l3 3m8-3l2 4m11-3l1 4m8-4l1 3m11-4l1 3m10-2l0 3m13-3l0 4m11-3l-1 3m11-5l-1 3m14-2l-2 3m13-4l-3 3m15-3l-3 3m-141 10l4 2m8-3l4 3m7-3l2 4m9-5l2 4m9-4l2 4m10-3l1 5m12-7l0 5m12-4l0 4m11-5l-1 4m12-4l-1 5m12-3l-1 4m12-4l-2 4m14-3l-3 3m14-4l-4 3m17-2l-4 1m-176 11l5-2m8 0l5 1m5 1l4 2m7-3l4 4m8-5l2 4m11-6l2 5m9-5l2 5m10-4l0 5m11-5l0 5m12-4l0 5m9-7l0 5m12-4l-1 5m12-4l-1 4m13-5l-2 4m15-4l-3 4m15-3l-4 2m14-1l-5 1m17 0l-5-1m-195 12l5-2m6 3l5 0m6-2l5 2m7-4l4 4m7-3l3 4m8-5l1 5m12-4l1 6m9-7l1 6m12-7l0 6m9-6l0 7m12-7l-1 6m14-5l-1 6m11-5l-1 5m14-6l-2 5m14-5l-3 5m13-5l-4 4m15-3l-4 2m17 1l-5-1m16 1l-5-2m-218 14l4-4m8 3l4-3m6 3l5-2m5 1l5 1m7-3l5 3m7-2l3 4m10-5l2 5m8-5l2 5m11-7l1 6m10-4l1 7m9-10l0 8m11-6l0 8m14-8l-1 7m10-8l-1 6m12-4l-1 5m13-6l-2 5m15-4l-3 4m14-4l-4 4m17-3l-5 1m14 0l-5-2m18 4l-4-3m13 4l-3-4m-240 16l3-5m8 3l3-4m6 5l5-3m7 1l5-1m7 0l5 3m6-5l4 4m9-5l2 5m9-5l2 6m9-7l1 7m11-6l1 8m10-10l0 9m11-9l0 9m12-7l-1 9m11-10l-1 8m14-7l-1 7m12-6l-1 5m11-5l-2 5m16-6l-3 4m13-2l-5 2m18-2l-5 0m16 2l-4-3m14 5l-4-4m15 3l-3-4m-240 15l3-5m6 5l4-4m9 2l5-1m5 0l5 1m7-1l3 3m8-4l2 5m11-6l2 5m7-4l2 6m10-8l1 8m11-8l1 10m11-11l0 10m10-10l0 10m13-8l-1 10m12-10l-1 8m13-9l-1 7m11-5l-1 5m14-6l-2 5m13-3l-4 3m16-2l-5 1m15 2l-4-2m16 2l-4-4m15 3l-3-5m13 7l-2-5m-252 15l3-5m9 4l3-4m6 5l3-3m9 1l5 0m7-2l3 3m9-3l2 5m8-7l2 6m10-6l1 7m11-8l1 8m10-8l1 10m10-11l1 12m11-12l0 11m10-12l0 12m12-10l-1 10m13-10l-1 9m11-9l-1 7m14-5l-1 5m12-5l-2 4m13-4l-3 3m14-1l-4 0m15 2l-4-3m16 4l-3-5m14 4l-2-5m-252 18l1-5m11 3l2-5m8 5l2-4m9 5l3-3m6 1l4 1m10-4l3 5m7-4l1 5m11-7l1 6m12-6l1 8m10-9l1 11m10-13l0 12m11-11l0 12m10-13l0 13m11-12l0 11m14-11l-1 10m12-8l-1 8m12-8l-1 7m11-6l-1 5m13-5l-3 4m15-1l-4 1m16 1l-3-3m14 3l-2-5m12 6l-2-5m14 4l-2-5m-263 18l0-6m12 5l1-5m10 5l1-4m8 3l1-4m11 1l4 0m6-2l2 4m9-3l2 5m11-6l0 6m11-6l1 8m10-9l0 10m12-11l0 12m10-14l0 12m11-12l0 12m13-11l-1 12m13-12l-1 12m11-11l-1 11m13-11l-1 8m11-5l-1 6m13-5l-1 5m13-6l-3 4m14-2l-4 0m15 1l-2-4m12 6l-1-5m14 4l-1-6m11 6l-1-5m-273 17l1-6m9 6l0-6m11 5l1-5m9 5l1-4m10 5l2-4m9 0l3 2m10-3l1 4m12-4l0 6m9-8l1 7m11-7l0 9m12-10l1 12m9-13l0 13m12-12l0 12m11-14l0 13m12-11l0 12m11-12l-1 12m11-12l0 10m11-9l0 7m12-6l-1 5m13-3l0 4m11-5l-2 3m13 2l-2-4m13 4l-1-5m13 4l0-5m11 7l-1-6m11 5l0-6m-273 16l0-5m10 6l0-6m11 6l0-5m12 5l0-4m9 2l1-3m11 1l0 4m12-4l0 5m12-6l0 6m10-8l0 8m12-8l0 10m12-12l0 12m11-12l0 12m10-13l0 13m10-11l0 12m12-14l0 12m13-11l0 11m11-9l0 8m11-7l0 6m11-4l0 5m11-7l-1 4m11 2l1-3m10 2l0-3m12 3l-1-5m13 5l0-5m10 7l0-6m-272 16l-1-6m10 6l-1-5m12 6l0-5m13 3l-1-4m11 5l-1-3m13-1l-2 2m14-2l-1 4m10-6l0 6m13-5l-1 7m12-8l-1 10m11-12l0 12m12-12l0 12m10-12l0 12m13-13l0 13m10-12l1 12m11-12l1 12m9-11l1 10m10-8l1 7m11-8l1 5m10-3l1 5m9-6l3 3m8 1l2-3m10 3l0-4m13 4l0-5m9 7l1-6m-263 16l-1-6m13 7l-1-6m13 6l-2-5m13 3l-1-3m13 1l-4-1m15 1l-3 3m14-5l-2 5m12-5l-1 6m12-7l-1 8m13-10l-1 11m12-12l-1 12m10-11l0 12m13-14l0 13m12-12l0 12m9-12l0 13m11-12l1 11m12-10l0 8m11-5l1 6m8-7l2 5m9-4l3 4m7-2l4 0m9 2l2-3m10 2l1-5m9 5l1-5m11 6l1-6m-262 19l-1-6m12 5l-2-5m13 5l-2-4m14 2l-3-2m14 1l-5 1m15-2l-3 4m14-6l-1 5m14-7l-1 7m10-7l-1 9m13-11l-1 11m13-10l-1 12m11-12l-1 12m11-13l0 13m13-13l0 13m9-12l1 11m10-10l1 9m10-6l1 6m11-8l1 6m10-5l3 5m8-2l4 1m6 0l3-2m9 4l3-5m9 4l2-5m9 7l2-6m-253 16l-2-5m15 4l-3-5m14 5l-3-3m16 1l-4 0m13-2l-4 3m15-2l-2 4m13-7l-2 6m14-6l-1 7m12-9l-2 10m12-9l-1 11m12-13l0 13m11-11l0 12m10-13l1 12m12-12l1 11m10-8l1 9m11-8l1 6m8-8l2 6m9-3l3 4m8-4l4 3m6-1l4-1m8 3l3-3m10 2l2-5m8 6l2-5m-252 16l-2-5m13 4l-2-5m16 4l-4-3m14 3l-4-2m17 0l-5 1m15-1l-4 4m14-5l-3 5m14-4l-2 5m12-6l-1 7m14-10l-1 10m10-10l-1 11m14-12l-1 12m10-10l0 11m11-13l1 11m12-10l1 9m8-8l2 7m11-6l1 5m8-4l2 5m10-3l4 3m5-4l5 2m7-1l4-2m9 4l3-4m8 4l3-4m8 6l2-5m-252 14l-3-5m15 5l-4-4m16 4l-5-3m15 3l-5-1m18-3l-5 3m14-2l-3 4m14-6l-2 5m13-5l-1 6m11-6l-1 7m13-8l-1 9m14-10l-1 11m10-11l0 11m12-11l1 10m9-9l1 9m9-9l2 8m11-6l2 6m9-6l2 5m8-3l3 4m8-4l5 2m5-2l5 0m7 2l4-2m7 3l4-4m8 4l3-4m-240 16l-3-4m14 2l-4-4m16 4l-5-2m16 1l-5 1m15-3l-4 3m15-3l-3 4m14-5l-2 5m12-4l-1 6m13-8l-1 7m11-8l0 8m11-7l0 9m12-8l1 8m10-9l1 8m9-8l1 7m11-7l2 6m10-4l2 5m7-6l3 5m7-5l4 4m7-2l5 1m7-1l5-1m7 4l4-3m7 2l3-4m-217 16l-5-2m16 1l-5 0m17-2l-4 2m14-2l-3 4m15-6l-3 4m14-3l-2 5m12-7l-2 6m13-5l-1 7m11-7l-1 7m13-8l0 8m10-8l0 8m11-6l1 6m10-6l2 6m9-7l1 5m10-3l3 4m7-5l3 3m9-2l5 2m5 0l5-1m7 1l4-2m-194 13l-5-1m15-1l-5 0m16 1l-4 3m15-5l-3 4m13-4l-3 4m14-3l-2 5m14-7l-2 5m11-4l-1 6m13-7l-1 6m12-6l0 6m11-5l1 6m9-8l1 6m10-4l2 5m11-5l2 5m7-5l3 4m9-4l4 2m6 1l5 0m5 0l5-1m-173 11l-5 1m16-1l-3 3m14-4l-3 4m14-5l-2 4m12-3l-1 4m13-5l-1 5m11-6l0 5m12-5l0 5m10-5l1 5m10-4l1 4m11-4l2 5m9-4l2 4m8-4l3 3m8-3l3 3m7-3l4 1m-139 9l-3 3m13-2l-2 3m14-2l-2 3m11-5l-1 4m13-3l0 4m11-5l0 4m11-2l1 4m9-5l0 4m12-5l1 4m11-4l1 4m8-2l3 3m8-5l4 3m-98 9l-1 3m14-3l-1 3m10-3l0 4m12-5l0 3m12-2l0 3m9-4l1 3m12-2l1 3m338-615l4 1m8-4l3 2m10 0l2 2m8-3l2 1m9 3l1-3m10 2l4-2m6 0l5 0m-99 13l6-1m4 0l6 0m4 0l6 0m7-1l6 1m6-3l4 4m7-3l2 3m9-1l2-2m10 3l3-4m5 2l6-1m6 1l6 0m7 1l6 1m3-1l6 0m-146 13l7-2m4 0l7-1m4 0l8-1m3 2l8 1m3-2l7 1m5-2l6 3m7-3l3 5m9-3l4-1m8 4l2-5m6 3l6-4m4 3l7-2m5 2l7-1m5 0l7 0m4-1l7 2m5-2l6 3m-181 13l6-4m5 4l7-4m3 3l8-3m5 1l9 0m1-1l9 2m4-3l7 6m4-7l4 7m11-7l1 7m9-7l1 5m10 0l0-5m12 7l1-7m7 6l5-7m5 8l7-6m5 4l8-2m2-1l9 1m3-1l9 3m4-5l7 4m4-3l6 4m-203 11l6-5m4 5l8-5m2 5l9-3m2 2l10 0m2-3l8 5m6-7l2 9m14-8l-2 8m12-9l-2 7m12-6l-2 6m16-2l-4-2m14 5l-2-5m13 4l-2-7m14 9l-2-8m10 8l2-9m7 9l7-7m3 2l10 0m2-1l9 4m2-5l8 4m5-5l6 5m-224 12l5-5m6 4l6-6m4 6l8-6m2 5l10-4m0 2l10 2m4-5l4 10m10-10l-1 10m14-10l-3 7m13-5l-4 6m16-6l-2 5m12-5l-1 4m12 1l-1-4m13 4l-2-5m14 6l-4-6m15 6l-3-7m13 8l-2-9m11 10l2-10m5 5l10-2m2 0l10 5m2-7l8 6m6-5l5 6m-236 12l5-6m6 5l6-8m4 9l7-8m4 7l10-5m2-2l10 6m5-8l1 11m11-11l-2 10m13-8l-3 7m15-5l-4 6m15-8l-3 5m13-5l-1 5m13-1l-3 1m15 0l-1-5m13 6l-3-6m15 8l-4-6m15 6l-4-8m14 10l-3-10m12 8l2-11m5 9l11-4m0-1l10 6m2-8l8 8m5-7l5 7m-245 11l3-6m8 6l4-8m5 8l7-9m3 9l9-8m3 1l9 7m6-8l-1 12m14-12l-2 9m14-8l-4 8m16-7l-4 6m14-5l-3 5m13-5l0 5m10-6l0 4m12-1l0-3m12 5l-1-5m13 4l-4-5m15 6l-4-6m16 7l-4-8m14 11l-2-10m12 8l0-11m6 11l9-8m3 1l9 7m2-9l7 9m7-8l4 8m-244 12l4-9m7 8l5-10m4 10l7-10m1 4l12 4m7-8l-1 12m13-12l-2 10m12-9l-3 8m15-6l-3 6m14-6l-3 5m13-5l-1 5m12-4l0 4m10-3l0 3m11-1l0-4m14 6l-1-5m12 4l-3-5m15 7l-3-6m14 7l-3-8m14 8l-3-10m12 12l0-12m7 8l11-5m1-3l8 9m5-10l5 10m7-8l3 8m7-7l3 8m-265 10l3-9m9 10l3-10m6 9l5-10m3 6l12 0m5-7l1 12m10-10l-1 11m15-11l-3 8m12-7l-2 7m14-6l-2 6m14-6l-2 6m12-4l0 5m11-6l0 3m12 0l0-4m10 5l0-5m12 7l-1-5m13 5l-2-6m13 5l-2-7m12 9l-2-9m14 9l-1-11m11 11l0-12m6 5l12 4m2-8l5 11m7-9l3 10m9-9l3 9m-266 10l1-8m10 8l2-10m8 12l3-12m7 10l6-11m9-1l1 12m11-11l0 11m10-9l-1 10m12-11l-1 8m14-6l-1 6m10-6l-1 5m12-4l0 5m12-5l0 4m11-2l0 3m11 0l0-4m11 3l0-5m14 5l-2-5m13 6l-1-6m10 7l-1-7m14 8l-1-9m12 10l-1-12m11 13l1-12m6 0l6 10m9-11l2 12m8-11l2 11m9-11l1 9m-274 13l1-8m10 8l0-10m12 10l0-12m11 12l1-12m10 0l1 13m11-13l-1 12m13-11l-1 11m12-9l-1 8m11-8l0 7m12-7l0 6m11-4l0 5m10-7l0 5m11-4l0 3m11 1l0-3m12 4l0-4m12 4l0-5m10 6l-1-6m12 5l0-6m13 9l0-9m10 9l0-11m11 12l0-12m11 11l2-12m10 0l1 12m9-11l0 11m13-10l0 10m-263 11l-1-9m13 8l-1-11m10 14l-1-12m14 10l-3-12m12 0l0 12m11-11l0 11m12-10l1 10m9-8l1 8m11-8l1 6m9-5l1 5m11-6l0 5m13-5l0 4m10-2l0 3m12 0l0-4m11 5l0-5m11 3l1-5m9 6l1-6m12 9l1-8m10 7l0-10m10 12l0-12m11 12l0-12m15 1l-4 11m14-12l-2 12m11-12l-1 11m13-10l-1 9m-272 11l-2-7m12 7l-2-10m15 11l-3-11m14 13l-4-12m18 2l-11 5m18-7l0 12m10-12l1 10m11-9l1 9m9-9l2 7m10-6l2 6m9-5l0 5m12-5l0 5m10-5l0 3m13 1l0-3m9 3l0-5m12 6l1-5m9 4l2-5m10 7l1-6m11 5l1-9m9 12l1-11m11 12l0-12m17 8l-11-6m20-3l-4 12m13-12l-2 11m12-10l-2 9m-261 12l-3-8m16 7l-3-9m15 11l-5-10m16 10l-7-10m18-2l-5 11m13-10l0 12m10-11l2 10m10-9l2 8m10-8l2 6m9-4l2 5m9-7l1 5m10-4l0 5m12-2l1-2m10 2l0-4m11 7l0-5m11 4l3-5m8 5l2-6m10 7l2-8m9 10l2-10m10 11l1-12m11 12l-4-11m17 0l-7 10m18-12l-4 11m13-9l-3 10m15-9l-3 8m-259 10l-3-8m13 9l-4-9m16 10l-6-10m19 9l-10-8m20-3l-3 11m11-11l1 11m9-10l3 9m9-6l3 7m7-7l3 6m10-6l2 5m9-5l0 5m12-3l1 3m11-1l0-4m11 4l0-5m8 6l2-5m9 6l4-6m7 6l3-7m11 9l2-10m8 10l1-11m14 12l-5-11m18 1l-10 6m20-8l-7 10m16-10l-4 9m16-6l-4 7m-247 10l-4-7m14 8l-5-8m19 8l-8-8m20 6l-11-4m19-3l-6 10m14-12l2 11m9-9l4 9m6-9l3 8m8-6l4 6m8-7l2 6m10-6l1 5m11 0l2-2m10 4l1-5m9 3l2-5m8 7l3-5m9 5l4-7m6 7l4-9m9 11l2-11m11 10l-4-10m20 3l-10 5m20-7l-8 8m17-7l-6 8m17-8l-4 7m-237 11l-4-7m16 6l-6-7m18 9l-8-7m19 5l-10-4m20-4l-6 9m15-8l0 10m8-10l3 8m9-7l4 7m7-6l4 5m10-5l1 5m10-5l1 3m8 2l2-4m10 5l2-6m8 6l4-5m8 6l4-7m7 7l3-8m10 9l0-10m15 9l-7-9m19 4l-10 4m20-6l-9 7m19-7l-6 7m18-7l-5 6m15-7l-4 6m-235 11l-6-6m16 8l-6-7m18 6l-8-6m21 3l-10-2m21 0l-10 5m18-7l-2 10m10-12l2 9m8-7l4 7m9-5l3 6m7-6l2 6m9-3l4 0m9 3l2-5m8 5l4-7m6 7l4-7m8 8l2-9m13 10l-3-10m18 7l-10-5m21 2l-11 2m21-5l-8 5m19-6l-6 7m16-6l-5 5m-215 12l-5-4m19 3l-7-5m18 6l-8-4m20 2l-10-3m22 1l-9 2m19-6l-6 8m13-7l-1 9m10-8l2 8m9-7l2 6m11-7l1 5m10 0l2-5m9 6l1-6m10 7l2-8m11 8l-1-9m15 8l-6-7m20 4l-10-1m19-1l-10 2m22-2l-8 5m17-6l-7 5m19-4l-5 5m-204 10l-5-4m19 4l-7-4m17 5l-7-3m20 1l-9-2m19 2l-8 0m19-1l-8 2m18-5l-6 5m16-6l-3 7m12-6l0 7m14 0l-2-5m11 5l0-6m13 6l-3-7m16 7l-7-5m19 3l-9-3m19 1l-8 0m20-1l-8 2m19-3l-7 3m17-2l-6 4m17-5l-5 4m-191 11l-5-3m18 3l-6-2m15 1l-6-2m20 1l-7-1m17 2l-7-1m18 0l-7 1m19-1l-6 2m15-4l-4 5m14-5l-2 5m14-1l-2-4m13 6l-4-5m17 2l-7-2m19 2l-7 0m17 0l-7 0m20-1l-7 1m16-1l-6 2m17-2l-6 3m17-5l-5 3m-167 11l-5-1m16 0l-5-1m16 1l-6-1m17 1l-7 0m20 0l-7 0m17-1l-5 3m15-3l-3 3m14-1l-3 0m13 1l-3-4m15 4l-5-2m19 2l-6-1m16 0l-6 0m17 0l-6 1m18-3l-6 1m17 1l-6 1m-135 9l-5 0m16 2l-5 0m16-1l-4 0m15 0l-5 1m17-1l-3 3m13-4l-2 2m13-1l-1-2m13 3l-3-3m16 3l-5-1m15 1l-5 0m17-2l-5 0m15 1l-5 0m-90 10l-4 1m14 0l-3 2m14-2l-1 2m13-2l-2-1m11 3l0-3m14 2l-3-3m14 3l-4-1m14 0l-4-1m-73 78l-4-1m15 3l-2-3m12 3l-1-2m12 1l-2 0m13-3l-1 2m13 0l-3 2m15-3l-3 1m-93 12l-5 0m17-1l-5 0m18 0l-5 0m15 0l-5-1m15 3l-2-3m13 3l-2-2m13-2l-1 3m13-3l-2 3m14 0l-5 1m16-1l-5 0m16-2l-5 0m17 1l-5 0m-135 11l-5 2m16-2l-5 1m17-1l-6 1m17-1l-6 0m16 0l-6 0m17 1l-5-2m15 4l-3-4m16 1l-3 1m12-1l-2 4m15-4l-5 2m18-2l-6 0m15 0l-6 0m19 1l-6-1m16 0l-6-1m16 1l-5-1m-167 11l-5 3m15-2l-5 3m18-4l-6 2m17 0l-7 1m19-1l-7 0m17 0l-7 0m19 1l-7-2m16 4l-3-6m15 4l-3-4m14 0l-3 4m14-4l-3 5m16-3l-7 2m19-1l-8 1m18 0l-8 0m19-2l-7-1m18 3l-7-2m18 3l-5-3m16 2l-6-2m-190 10l-5 4m16-3l-6 3m19-4l-7 3m18-1l-8 2m20-3l-9 0m20 1l-8-2m19 6l-6-6m14 6l-2-7m12 6l0-6m11 5l-1-5m13-1l-1 6m14-7l-3 7m14-5l-6 5m19-4l-8 2m19-1l-9 0m20 2l-9-2m20 3l-7-3m19 3l-6-4m16 4l-5-4m-202 12l-5 5m16-7l-6 5m18-4l-8 4m19-4l-9 2m20 1l-9-1m19 4l-6-7m16 8l-1-9m10 9l3-8m9 7l2-7m10 5l1-5m9 0l1 4m10-5l1 6m10-6l2 8m11-8l-1 8m15-7l-6 7m18-4l-9 2m21 0l-9-3m20 4l-8-4m17 4l-6-5m17 5l-5-5m15 5l-4-5m-236 11l-4 5m16-5l-5 6m17-6l-7 6m18-7l-8 6m21-5l-10 3m20 0l-10-3m18 8l-2-10m11 8l2-9m10 8l4-7m6 8l4-6m9 4l2-5m7 5l3-2m9-1l2 5m8-7l3 6m9-5l4 7m9-10l2 9m10-9l-2 10m16-7l-8 6m20-3l-11-2m21 4l-8-5m18 5l-6-6m17 6l-5-5m16 5l-4-5m-237 11l-5 6m19-8l-6 8m16-7l-8 7m23-6l-11 3m20 3l-7-9m13 10l1-10m10 11l3-9m6 8l4-7m8 6l4-5m9 3l2-5m10 5l1-4m8 1l1 3m11-4l2 5m8-6l4 6m8-6l4 7m8-7l3 9m7-10l1 10m16-9l-7 8m20-3l-10-3m20 4l-8-7m18 8l-6-7m17 6l-5-6m14 7l-4-5m-247 10l-5 7m18-8l-6 9m16-9l-7 8m21-6l-11 4m19 2l-6-10m14 12l2-11m7 9l4-9m8 7l4-7m7 7l4-6m9 6l2-5m10 4l0-4m10 3l1-3m10 1l1 4m10-4l3 5m7-7l4 5m8-4l3 7m8-8l3 9m9-12l1 11m13-9l-4 11m20-4l-11-5m19 6l-8-8m19 8l-5-8m16 7l-4-6m-248 12l-4 8m14-10l-5 8m17-8l-6 10m19-9l-9 7m18 3l-4-11m13 10l1-11m9 10l3-9m8 9l3-7m8 7l3-6m9 5l3-5m8 4l1-5m12 4l0-3m12 0l0 4m9-5l1 5m9-4l3 6m9-7l3 5m9-6l3 7m7-8l3 10m10-12l1 11m13-9l-5 11m19-2l-10-7m19 8l-6-10m17 8l-5-9m14 11l-3-8m-259 9l-3 8m14-8l-3 9m14-10l-5 11m17-10l-7 11m19-1l-4-11m12 11l1-11m8 11l2-10m11 10l2-8m9 7l3-6m7 6l2-6m11 4l0-6m10 7l0-4m11 2l1-3m12-1l0 4m10-4l0 5m11-4l2 5m8-7l2 6m10-6l3 8m7-9l2 10m10-11l1 11m16-10l-7 10m18 1l-7-11m17 9l-5-10m16 10l-4-9m14 9l-2-8m-261 10l-2 9m13-10l-3 11m15-9l-4 11m18-6l-12-1m19 6l0-12m9 11l1-11m12 10l1-9m9 9l1-7m9 5l2-5m10 7l1-6m11 6l0-5m12 2l0-3m12 0l0 4m11-5l0 5m10-4l1 6m10-8l1 6m9-5l2 7m9-9l2 9m10-8l1 11m12-12l0 12m15-10l-9 8m18 2l-3-12m14 11l-3-11m14 10l-2-9m-263 11l-1 9m13-11l-1 11m11-11l-1 12m16-11l-5 11m12 0l-1-12m13 13l1-12m11 10l0-10m11 8l1-7m10 8l1-5m10 5l1-5m11 3l0-5m10 5l0-4m12 1l0 3m11-4l0 5m9-4l0 5m12-6l1 5m10-6l0 6m12-5l1 7m10-8l1 9m10-10l0 11m12-13l0 12m12 0l-5-11m17 11l-1-12m12 12l-1-10m12 10l-1-9m-263 9l0 10m9-9l1 11m10-13l1 12m11 1l1-12m12 10l0-12m11 12l0-10m11 9l0-8m12 8l-1-6m10 5l0-6m12 5l0-5m11 7l0-5m10 3l0-3m12 0l0 3m13-3l0 5m11-5l0 5m10-7l0 5m12-4l-1 7m12-8l-1 8m12-9l0 11m11-13l0 12m11-10l1 12m11-1l1-12m9 11l1-11m11 12l1-10m9 8l1-8m-276 10l2 9m11-9l2 10m8-11l3 12m6-12l5 11m9 2l1-12m10 12l0-12m12 9l-1-10m13 9l-1-7m11 7l-1-6m14 6l-2-5m13 5l0-5m10 3l0-4m11 4l0-2m12-3l0 5m11-3l0 5m12-5l-1 6m12-6l-2 6m14-7l-2 8m13-10l-1 10m11-10l-1 11m11-12l0 12m11-1l5-11m6 11l2-11m9 12l2-10m9 8l1-8m-265 11l3 9m9-11l4 11m7-10l5 10m2-6l12 2m6 5l0-12m12 11l-2-10m12 10l-2-9m13 7l-2-7m14 6l-2-6m13 6l-1-6m12 8l0-5m11 3l0-3m11 0l0 4m11-7l0 5m12-4l-2 6m13-6l-2 5m14-4l-3 7m14-9l-2 9m13-9l-2 11m12-13l0 12m6-5l12-2m1 7l6-11m7 11l3-11m9 9l2-9m-256 12l4 9m7-9l5 9m6-10l7 9m2-1l11-6m6 9l0-12m12 12l-2-10m14 9l-2-8m13 6l-3-6m13 5l-3-6m14 6l-1-5m13 6l0-4m11 3l-2-2m12-2l0 4m13-5l-1 5m11-5l-3 6m16-7l-3 6m14-5l-3 8m14-10l-2 10m12-11l0 12m5-10l9 9m5-1l7-10m5 11l5-10m7 10l4-9m6 7l3-7m-266 11l4 7m8-8l5 9m6-8l6 9m3-9l9 7m2 1l9-7m7 10l0-12m11 11l-2-10m15 7l-3-7m13 7l-4-6m15 6l-3-5m13 4l-1-5m12 5l0-4m12 2l0 3m13-6l-1 5m11-4l-3 5m16-6l-3 6m14-6l-3 7m13-9l-3 10m14-10l0 11m6-10l10 7m0 0l9-7m5 9l6-9m5 9l5-8m-235 12l5 7m6-8l8 7m1-7l9 6m2 0l11-4m6 8l1-11m12 10l-3-9m15 8l-4-7m15 5l-4-6m14 7l-3-5m12 3l-1-5m14 5l-3-1m14-4l0 5m13-5l-3 5m15-4l-4 6m13-8l-4 8m16-8l-2 10m11-11l1 11m5-8l10 5m2 1l10-5m2 5l7-8m4 7l6-7m-223 12l6 6m4-7l8 7m2-4l10 4m1-2l10-3m4 7l3-10m12 9l-2-9m14 10l-4-8m16 6l-4-6m14 5l-2-5m12 6l-1-4m13-1l-1 4m12-5l-2 6m14-6l-4 6m16-5l-4 8m13-10l-3 9m13-10l3 10m3-4l10 2m3-1l10-4m1 7l7-7m6 5l6-6m-214 13l6 5m6-5l8 5m1-6l10 4m2 0l10 0m0 1l8-6m8 9l3-8m11 6l-3-8m13 8l-2-7m13 6l-2-6m15 4l-4 2m13-5l-1 5m14-5l-3 8m13-9l-1 8m9-7l3 8m7-8l8 6m1-4l10 1m2 3l9-4m3 2l8-5m4 6l6-5m-203 11l6 4m5-4l7 4m5-2l8 2m3 0l9 0m2 1l9-2m2 2l7-5m6 6l4-7m8 7l1-7m11 6l0-5m13 0l0 6m11-6l1 7m7-8l3 7m7-6l7 5m4-4l8 3m3-2l9 0m2 3l9-2m2 3l7-3m6 3l5-4m-179 12l7 2m3-2l7 2m5-1l8 0m2-1l8-1m4 3l7-1m6 1l5-5m6 6l2-5m9 3l4-1m7-3l2 5m8-2l6 3m6-4l7 1m4 1l8 0m3 0l7-1m4 0l7-1m5 2l6-3m-147 13l6 1m7-1l6 0m5 1l6 0m4 0l6-1m6 3l3-4m9 2l2-3m11 0l2 3m7-3l3 4m8-3l6 1m4 1l6 0m6 0l6-1m6 0l5-1m-102 13l5-1m7 1l4-2m8 2l2-3m9 2l3-1m9 1l1 3m10-4l4 2m6-1l4 0m-1303 189l2 2m9-2l2 2m10-1l2 0m8-1l3 0m8 0l3 0m8 2l3-1m9 1l2-1m-98 10l3 1m8-1l3 0m9 0l3 1m8-1l3 0m9 0l3 0m8 2l3 0m8-1l3 0m8 0l3 0m9-1l3 0m7 1l3-1m9 1l3 0m7 1l3 0m-142 10l4 1m8-2l3 1m7-1l4 1m7 0l3 1m7-1l3 1m9-1l4 0m6 0l4 0m9 0l3 0m8 1l4 0m6-1l4 0m9 1l4 0m7 1l4-1m6 0l4-1m9 2l3-2m7 1l4-1m-179 11l4 2m9-5l2 4m10-2l3 2m7-1l4 0m6-1l4 1m7 1l4 1m8-1l4 0m7 0l4 0m8 0l4 0m6 0l4 0m8 0l4 0m8-2l3 0m7 2l4-1m7 0l4-1m8 1l4 0m8 2l3-2m10 4l1-5m7 4l3-3m-195 10l-1 4m12-5l-2 4m9 0l4-1m9 1l4-2m7 2l4-1m7 0l5 0m6 0l4 1m8-2l4 0m6 1l5-1m7 0l4 0m7 0l5 0m5 0l5 0m8 2l4-1m7-1l4-1m5 2l5 0m8 0l4 2m6-3l4 1m11 2l-2-4m13 4l-1-5m-206 12l-2 4m14-4l-3 3m11 1l3-3m9 3l3-4m6 2l5-2m6 2l6 0m5-1l5 1m7 0l5 1m7-2l5 0m5 1l5 0m6 0l5 1m8-2l5 0m5 2l5-1m6 0l5-1m7-1l5 1m6-1l4 2m8-1l3 4m8-6l3 4m12 1l-3-4m13 3l-2-5m9 5l4-3m-229 11l-1 4m12-3l-2 4m12-1l2-4m7 5l2-4m10 3l4-4m6 2l6-2m4 1l6 1m6-2l6 3m5-2l5 2m7-2l6 0m4 1l5 0m7 0l5 0m5 0l5-2m7 3l6-2m4 1l7-1m5 0l6 2m7-3l4 4m7-4l3 4m9-4l2 4m10-1l-2-3m15 4l-2-4m10 6l3-5m-254 9l3 5m9-4l-1 5m13-4l-2 4m11 0l1-4m11 4l3-4m7 5l3-5m8 4l6-4m2 2l8 0m4-3l7 4m5-4l5 5m8-6l2 6m12-4l-4 4m17-2l-5-3m12 5l3-5m8 5l4-5m6 5l7-4m3 0l8 1m3-2l7 4m6-4l4 5m9-5l2 5m9-5l1 5m11-2l-2-3m13 4l-2-5m12 6l4-4m-254 10l-2 5m12-5l-1 4m12 0l1-4m9 5l2-4m9 5l2-5m8 4l5-6m4 4l8-4m3 1l9 3m5-5l5 7m9-7l2 7m11-5l-2 5m14-3l-5-1m14 3l-1-5m11 8l2-7m8 7l5-7m3 4l8-4m5 1l9 5m2-8l6 6m8-4l3 6m7-7l2 5m11-3l1 5m10-2l-1-4m13 5l-1-5m9 5l4-4m-263 10l-1 6m12-7l-1 5m11 0l0-4m10 4l1-5m10 7l2-6m9 7l4-8m4 8l7-8m4 2l11 1m3-4l6 8m5-7l3 8m9-7l1 7m12-7l-1 5m13-1l-1-4m12 5l1-7m8 9l3-7m6 8l7-8m2 4l10-1m3-4l7 7m6-7l4 7m9-6l2 5m10-6l1 5m10-3l0 4m12 1l-1-5m11 4l-1-5m-262 10l0 6m12-4l-1 5m11-5l0 4m12 0l0-4m10 5l1-6m11 6l2-8m7 9l4-10m5 10l9-7m3-1l9 7m5-7l3 10m8-10l2 7m10-5l0 6m13-6l-4 1m14 5l1-6m9 5l2-8m9 10l4-10m4 9l9-7m2 0l9 7m5-8l4 9m7-9l2 8m10-8l1 6m11-4l1 4m10-1l-1-4m13 5l-1-5m12 6l1-6m-278 12l4 5m9-5l0 5m12-6l0 5m12-1l0-4m10 5l1-5m11 7l1-7m9 8l2-10m7 10l4-11m5 4l12 4m1-7l5 10m10-9l1 9m8-9l1 7m13-4l-1 4m11-1l-1-4m12 5l1-7m10 8l2-9m8 11l4-11m3 6l11-3m3-2l4 10m9-12l2 10m11-8l1 7m10-5l0 5m11-6l0 4m11 2l0-4m11 3l-1-5m10 6l4-6m-276 11l0 7m12-6l0 4m10-3l1 4m11-1l0-5m10 6l1-6m10 8l2-9m6 10l8-9m2 5l12-1m1-6l8 9m7-9l1 11m11-9l0 8m11-8l0 5m12-2l-3 0m13 2l0-6m11 10l0-9m10 10l1-11m7 8l10-6m-2 2l12 1m3-4l8 9m6-9l3 8m8-9l0 7m13-5l0 5m10-6l1 4m11 0l0-4m10 5l0-6m-271 14l-6 4m15-5l0 5m12-4l0 5m10-3l0-4m12 7l0-5m9 6l1-8m9 10l5-11m3 5l12-3m-1-2l10 9m8-12l1 12m9-10l-1 11m14-10l0 7m11-3l-1 3m11-1l0-3m12 4l-1-7m11 9l0-10m11 10l2-11m6 12l9-9m1 0l12 4m1-7l5 11m10-9l1 8m10-6l0 5m12-5l0 4m10 1l1-4m9 4l0-5m13 6l-3-6m-272 11l0 7m11-6l1 4m9-4l1 4m12 1l0-5m10 4l0-6m11 10l1-11m8 9l8-10m0 2l10 7m7-10l3 12m9-11l-1 11m12-11l-2 9m13-5l0 5m11-4l0 2m11 1l0-5m12 6l-1-8m13 10l-1-11m10 12l3-13m5 12l9-9m4-2l6 11m8-11l1 10m9-8l0 7m13-5l0 5m10-2l1-4m11 5l1-5m10 5l0-6m-264 11l0 5m11-3l1 4m12 0l0-4m10 4l-1-5m13 8l-2-8m13 8l-3-12m20 9l-11-6m16-4l0 13m12-11l-1 12m13-10l-2 9m13-8l-1 7m10-5l0 3m12-1l1-3m11 6l-1-7m13 7l-2-9m13 12l-1-13m12 11l0-13m14 5l-10 6m18-9l-3 12m13-10l-1 9m13-8l0 5m10-3l0 4m11-1l1-4m11 4l1-6m-253 12l1 5m11-4l1 4m11-1l-1-4m11 6l-1-6m14 8l-3-8m16 8l-6-12m18 3l-9 8m16-10l-1 13m13-12l-1 10m11-9l-1 8m13-6l0 5m11-2l1-2m10 4l0-4m12 4l-1-7m13 9l-2-11m12 13l-1-13m17 9l-11-5m19-5l-5 12m15-11l-3 9m13-6l-2 6m14-6l-1 4m9 1l2-4m10 5l2-5m-250 12l-3 4m11-4l1 5m11-6l2 4m10 1l-1-4m12 5l-2-5m13 5l-4-9m19 11l-8-10m19 0l-6 11m13-13l0 12m12-9l1 8m9-7l1 6m10-6l2 3m10 1l1-4m10 4l0-5m11 7l0-9m12 10l0-12m13 12l-5-11m19 1l-8 10m16-9l-4 9m14-8l-2 6m12-6l-1 4m11 1l2-3m10 5l2-5m13 3l-5-3m-248 10l-3 4m12-3l2 4m9-4l4 1m8 3l-1-4m14 5l-3-6m16 6l-6-8m17 8l-9-8m20 1l-9 8m17-11l2 10m9-6l3 7m7-6l3 5m8-3l5 0m6 2l4-4m7 4l3-7m10 10l1-11m12 12l-6-11m21 0l-10 8m18-8l-5 8m14-6l-3 6m14-5l-2 5m13-3l2-3m8 4l2-5m11 6l-2-5m-230 12l2 4m10-3l4 2m9 0l-2-4m15 6l-4-5m15 4l-6-7m20 7l-9-5m19-2l-8 8m14-9l3 9m7-7l6 5m4-1l7 2m6 0l6-3m3 3l6-5m9 9l3-10m14 7l-9-7m19 0l-9 6m19-5l-6 6m17-5l-3 5m12-5l-3 5m11-2l4-2m9 4l1-5m13 2l-5-3m-216 13l0 4m10-5l3 4m11 0l-3-3m14 3l-4-4m17 3l-6-4m20 5l-8-4m19 4l-10-2m16-5l-2 9m10-6l8 4m1-2l9 0m3 1l8-3m8 5l1-9m15 5l-10 1m20-3l-9 4m19-2l-6 4m16-6l-4 4m15-4l-3 4m11-1l3-2m10 5l1-4m-195 11l-4 2m14-4l0 4m12 0l-4-3m16 3l-4-3m16 4l-5-3m16 3l-6-3m18 3l-8-3m20 2l-8-2m19 1l-9 0m21-1l-9 0m20-1l-8 2m18-1l-8 3m18-3l-7 4m18-6l-5 4m17-3l-4 3m13-4l-3 3m15 2l-1-4m11 3l-3-3m-170 13l-4 0m16 0l-4-1m15 1l-4-2m16 3l-4-3m15 3l-6-2m19 3l-7-2m18 0l-7-1m17 2l-6 0m19-1l-7 1m16-1l-6 2m18-3l-5 2m16-1l-5 2m15-3l-5 2m16-2l-4 1m16 0l-4 0m-136 11l-4 0m16 2l-4-1m13 0l-3-1m15 0l-4-1m17 2l-5-1m16 1l-5-1m15 0l-5 0m17 1l-5 1m17-3l-5 2m14-2l-4 1m16-1l-4 1m15 0l-4 0m-91 11l-3-1m13 1l-4-1m16 3l-4 0m16-1l-3 0m14 1l-4 0m14-2l-3 0m14 1l-4 1m-63 70l-4 1m16-1l-4 1m15 1l-4 0m16-1l-4 0m14 0l-4-1m17 2l-4 0m13 0l-4-1m-90 11l-4 1m14-2l-4 1m17 1l-4 1m15-3l-4 1m16 0l-5 1m14-2l-4 0m16 1l-5 0m17 2l-5-1m16 0l-4-1m14 2l-4-2m17 1l-4 0m15 0l-4 0m-137 10l-4 0m15 1l-4 1m17-3l-4 2m15-2l-5 2m17-1l-6 2m16-2l-6 2m19-3l-7 1m16 0l-7 0m19 0l-6-1m18 3l-7-2m16 0l-5-2m18 3l-4-2m15 3l-4-2m13 1l-4-1m16 1l-4 1m-170 10l-4-1m14 3l0-4m12-1l-3 3m14-3l-4 3m17-3l-5 3m18-2l-7 3m17-3l-8 3m20-4l-8 2m19-1l-9 1m20 0l-9 0m20 1l-9-2m22 2l-8-3m18 4l-7-4m17 3l-5-3m16 3l-4-3m14 4l-4-3m13 0l-1 4m16-4l-4 1m-196 14l1-5m9 5l3-4m12 0l-3 4m14-5l-4 4m18-3l-6 5m17-5l-8 4m19-2l-10 1m19 2l-5-8m12 7l8-4m2 2l9 0m1-1l8 4m10-8l-3 8m17-3l-9 0m20 3l-9-4m18 2l-5-5m15 5l-4-4m16 5l-3-4m12-1l3 4m7-4l1 5m-207 12l3-4m7 2l3-3m10-1l-2 4m15-3l-3 6m16-7l-6 7m18-8l-9 6m20 1l-9-7m14 9l3-10m8 7l6-5m5 5l6-2m4 0l6 2m4-6l7 5m7-5l3 9m16-8l-10 4m21 2l-10-5m19 6l-6-6m16 5l-4-5m14 5l-2-4m10 1l4 2m9-4l2 4m-230 11l-5-2m13 1l2-4m10 4l4-1m10-1l-2 4m14-5l-3 6m13-8l-5 7m19-7l-9 8m19 2l-7-10m15 8l1-10m10 10l2-6m9 5l3-4m7 0l5 1m6-3l4 4m8-4l2 6m9-7l1 10m17-11l-9 9m19-1l-10-7m20 8l-5-8m14 7l-3-5m15 5l-1-5m9 1l3 3m8-5l2 4m14-2l-5 4m-248 12l-2-6m12 4l1-4m8 5l2-4m11 0l-1 4m12-5l-2 6m15-8l-4 8m19-9l-9 9m18-1l-9-8m17 12l0-12m11 10l0-9m11 8l1-6m10 4l2-3m9 0l1 4m11-5l0 6m10-7l0 8m11-11l0 12m15-12l-7 10m20 0l-8-10m16 10l-4-9m14 9l-2-6m14 4l-1-5m10 3l2 3m9-6l1 5m11-3l-1 5m-252 10l1-5m11 5l1-4m12 1l-1 4m12-6l-1 6m12-9l-2 9m15-10l-5 12m18 1l-6-11m14 11l-1-12m12 12l-1-10m12 7l-2-8m12 8l0-5m11 2l2 0m11-4l-1 5m12-5l-2 7m13-8l-2 10m12-12l0 12m16-10l-10 7m20 3l-5-12m16 12l-3-9m11 7l-1-6m13 4l-1-4m11 1l2 5m10-6l1 5m-254 12l0-6m13 4l1-4m10 2l0 4m10-7l0 5m14-6l-2 8m13-10l-3 12m16-10l-8 10m15 2l0-12m12 12l-1-12m12 11l-2-10m13 7l-1-7m12 5l0-3m12 0l0 3m10-3l-1 6m14-9l-2 9m12-11l-1 12m13-12l0 13m15 0l-7-11m16 11l-3-12m13 10l-2-8m14 6l-1-5m10 6l-1-4m12-1l1 4m11-4l1 5m-265 12l0-6m11 5l0-5m11 2l3-3m10 1l0 5m10-5l0 6m10-9l1 11m8-12l6 11m3 0l10-8m4 10l4-12m11 11l-1-11m13 10l-1-9m12 6l0-4m11 3l-2-1m12-1l-1 4m12-8l-1 8m12-9l-1 11m12-11l3 12m4-10l9 8m5 2l6-11m6 11l1-11m10 7l0-7m14 7l0-5m7 5l3-3m12-2l0 5m11-4l-1 6m-272 10l-3-6m12 6l0-5m12 5l0-4m10-2l0 4m11-3l0 5m10-6l1 8m10-9l5 11m2-8l12 4m0 2l10-9m5 10l2-12m11 11l-1-10m12 8l0-7m12 6l0-3m11-1l0 3m11-5l0 8m12-9l0 10m10-12l1 12m6-10l9 9m1-2l12-4m2 7l5-11m9 11l1-8m9 6l1-6m10 6l0-5m12 1l0 4m12-4l0 5m-263 11l0-6m12 5l0-5m9 5l0-4m12-2l0 5m11-5l1 6m11-6l1 9m7-10l6 10m2-7l12 2m0 4l9-7m8 8l1-11m10 10l0-8m10 7l0-6m13 2l-3 0m13-3l0 5m12-6l0 9m10-9l2 11m5-9l10 6m0-4l12-1m2 6l6-9m9 10l1-9m10 6l0-6m11 7l0-5m9 4l1-5m11 0l0 5m13-7l0 7m-265 11l0-5m12 6l0-5m10-1l1 4m11-5l1 5m10-4l1 7m10-10l2 10m8-9l4 10m4-3l11-2m3 6l4-11m8 11l2-10m12 8l0-7m11 6l-1-4m11-1l-1 4m13-6l1 7m8-8l1 9m11-10l4 11m3-4l12-1m2 6l5-11m8 9l2-9m9 8l1-8m10 7l0-5m12 4l0-4m12 1l0 4m10-4l0 5m10-6l2 6m-276 12l1-7m13 5l-1-4m13 4l-2-4m11-1l1 5m9-4l1 5m11-8l2 8m8-9l5 10m3-6l10 6m1-1l9-7m5 9l4-10m7 8l2-8m12 8l0-6m13 4l-4 0m14-3l0 5m8-7l2 8m10-8l4 9m4-9l8 8m4 0l9-7m3 8l5-10m9 10l2-8m9 6l1-6m10 4l1-4m11 0l-1 4m11-4l0 5m13-6l0 6m-263 12l-1-5m12 3l-1-4m12 1l0 5m11-5l1 5m9-6l2 6m8-7l4 8m5-7l7 8m4-5l11-2m2 6l6-8m7 8l3-8m8 8l1-6m12 3l-2-4m13 2l-3 4m14-7l1 6m8-7l2 8m8-6l6 7m2-5l11 1m3 4l7-7m5 7l4-8m10 6l2-5m9 4l1-4m11 5l0-4m10 0l-1 4m13-5l0 5m-251 13l-2-5m14 3l-2-4m11 1l1 4m9-5l2 4m8-5l3 6m8-6l6 6m3-6l9 4m3 0l9-4m3 7l5-7m7 7l3-6m10 5l-1-5m15 3l-5-1m14-3l-2 6m12-5l2 6m8-7l5 7m4-6l9 4m2 0l8-3m6 4l5-6m6 6l3-6m9 6l1-4m11 4l1-4m12 0l-1 4m12-4l-2 5m9-5l4 3m-251 12l-1-5m11 3l-2-4m12 2l1 4m10-4l2 4m8-5l4 5m5-6l6 4m5-2l9 1m4 3l6-3m7 3l4-6m7 6l2-6m13 4l-5-3m15 1l-5 3m13-6l1 6m11-3l4 5m4-6l7 4m3-2l8 0m4 3l6-3m7 2l4-5m10 6l2-4m8 3l2-4m11-1l-2 4m14-2l-2 4m9-3l5 3m-254 10l1-5m10 7l-2-5m15 3l-2-4m11 1l1 4m9-3l3 4m7-6l4 4m7-3l6 2m5 0l7-1m4 2l6-2m6 2l6-2m4 0l6-1m5 1l6 0m5-1l6 1m6 0l5 2m7-2l5 2m5-2l6 1m5 0l6-2m7 4l4-4m7 3l3-4m11 6l1-4m11-1l-2 4m12-5l-2 4m11-4l3 4m-230 13l-2-5m15 3l-3-3m11-1l2 4m8-2l4 3m7-2l4 2m7-2l5 0m6 1l5-1m7 0l5-2m6 1l5 0m6 1l5 0m6 0l5 0m6 0l5 0m7-1l5 1m5 0l5 1m7-2l5 0m5 2l5-2m9 4l3-4m8 3l3-3m11-1l-2 4m12-4l-2 4m-206 12l0-5m11 5l-2-4m11-1l4 2m7-1l4 1m7 0l4 1m8-2l5 0m5 1l5-1m6 1l4 0m8-1l4 0m7 2l4 0m9 0l4 0m7-1l4 0m5 0l5 1m7 0l5 0m7-2l4-1m7 3l4-1m6 0l4-1m12-1l-2 4m12-4l-1 5m-197 10l4-2m7 3l2-4m9 3l3-3m8 1l4 0m7 0l4 0m7 2l4-1m9 0l4-1m6 0l4-1m7 2l4 0m8-1l4 0m7-1l4 0m7 0l4 0m8 0l4 1m6 1l4 0m6 0l4 0m8-1l3 2m11-5l1 4m9 0l4 1m-179 10l4-1m9 2l3-2m6 2l4-1m8 0l3-1m9 2l4-1m6 0l3-1m9 0l4 0m8 0l3 0m7 0l3 0m9 1l4 0m7-1l4 1m8-2l4 1m5-1l4 1m7 0l4 2m8-3l4 2m-144 10l4-1m8 2l3-1m9 0l3-1m8 1l3 0m8 1l3 0m8 1l3-1m8-1l3 1m7-1l3 0m9 1l3 1m8-1l3 1m9-2l4 1m7-1l3 1m-98 12l2-2m8 0l3-1m10 2l3-1m8 0l3 1m8-1l2 1m8-1l3 1m9 0l2 2m327-612l5 1m7-2l4 2m9-1l3 2m8-3l3 2m8 0l3 0m8 1l4-2m8 0l3-2m8 3l4-2m-100 13l5-1m6-1l5 2m6-4l4 4m8-3l2 4m11-5l1 4m10-4l1 4m9 0l1-3m10 4l1-4m10 3l2-4m9 4l3-3m8 3l5-1m6 0l5 1m-145 9l4 3m6-2l5-1m6-1l5 3m9-3l0 4m12-5l-1 4m14-2l-2 3m14-4l-3 2m14 0l-4-1m15 2l-3-2m13 4l-3-4m13 4l-1-4m13 4l0-5m8 3l4-3m6 1l6 1m6 2l5-3m-180 11l7 1m6-1l6 4m5-4l4 4m12-5l-2 5m11-6l-2 5m15-2l-3 3m14-3l-3 3m14-3l-2 2m14-3l-3 2m13 1l-3-2m14 2l-3-2m14 3l-3-3m16 2l-3-4m13 5l-3-4m13 4l-2-5m11 5l4-4m7 3l6-3m4 2l7-1m-204 13l8-1m4-2l7 2m6-2l5 4m7-6l3 5m9-4l1 5m13-4l-3 3m14-2l-2 3m13-4l-2 2m13-1l-3 1m14 0l-3 0m14 0l-3-1m15 2l-3-2m14 3l-3-3m14 1l-3-3m12 5l2-4m8 5l4-5m7 5l5-5m5 2l7-3m3 2l7 0m-215 13l8-3m5 0l9 3m1-3l7 5m7-7l5 6m5-5l3 6m11-5l1 5m10-4l1 3m12-3l-1 3m11-3l-2 2m15-2l-3 1m14 0l-3-1m13 2l-2-2m12 3l-1-3m11 2l1-4m12 5l2-5m7 6l3-6m9 5l5-6m5 6l7-5m2 4l8-2m5 0l8 3m-237 12l5-7m5 6l8-6m1 5l10-1m2-1l8 4m5-7l6 7m8-7l3 6m6-5l3 6m11-5l1 4m10-3l0 4m12-4l0 3m10-2l0 2m13-2l-3 0m13 1l0-2m10 2l0-3m12 4l1-3m10 4l1-5m10 4l2-5m7 7l3-6m8 4l5-7m6 8l9-5m0 1l10 0m3-1l8 5m4-6l5 7m-246 11l6-8m3 8l9-5m3-1l10 4m2-6l7 7m6-6l4 8m7-9l3 7m9-5l1 6m10-6l1 4m12-4l1 3m10-2l0 3m10-3l1 3m10 0l0-2m12 1l1-2m11 3l1-3m8 4l1-4m10 5l2-5m9 5l2-7m10 7l4-8m5 7l8-7m2 6l11-2m-1-2l10 5m4-6l6 8m7-8l4 8m-256 11l5-9m4 8l7-8m2 4l12-1m2-2l8 9m3-9l5 9m8-9l3 8m8-8l2 7m11-5l0 5m10-6l0 4m12-2l0 3m10-4l1 3m12-1l1-3m11 5l0-3m9 3l0-3m12 2l1-4m10 5l0-5m10 7l2-7m9 7l2-9m9 10l4-9m4 6l8-7m2 3l11 1m2-3l7 8m7-9l4 10m-256 9l2-9m9 11l5-10m3 9l9-8m1 1l11 5m3-7l5 11m7-10l3 10m10-11l2 8m10-8l1 7m10-4l1 4m10-3l1 3m10-4l0 3m13-3l0 3m10 0l1-3m10 4l0-3m11 1l0-3m10 5l1-4m12 5l0-6m10 6l2-8m9 10l3-10m7 10l5-11m3 8l11-6m3-1l8 9m4-10l5 10m7-9l2 10m-265 9l1-9m9 12l2-11m8 9l4-11m5 6l13 0m0-5l6 11m7-10l2 11m12-10l1 10m10-11l1 8m10-5l1 5m10-5l0 4m11-4l0 3m12-3l0 3m10-2l0 2m11 0l0-2m11 1l0-3m12 5l0-4m12 5l0-6m9 7l1-7m10 6l2-9m10 12l3-11m6 9l5-11m4 5l11 4m3-7l4 11m9-13l2 11m10-10l1 9m-276 12l1-9m9 11l1-11m10 11l1-12m11 13l2-12m6-1l6 11m10-11l1 12m11-10l0 10m10-12l0 9m11-6l1 7m11-5l0 4m10-5l0 4m11-4l0 3m11-2l0 3m11-1l0-2m12 2l0-3m10 4l0-3m14 4l0-5m10 5l1-7m11 9l0-9m10 9l0-11m10 12l1-12m10 11l5-12m5 0l4 12m9-12l1 12m11-10l1 10m-263 10l-1-9m11 10l-1-12m14 14l-2-12m15 11l-8-10m16-3l-2 13m13-11l-1 12m12-12l-1 10m12-9l0 8m12-8l-1 6m13-5l-1 4m10-3l0 4m13-4l0 3m12 0l-3 1m13-1l0-3m12 3l0-3m11 4l0-4m11 6l0-6m12 7l-1-8m11 8l-1-10m13 11l-1-11m11 12l-2-12m18 0l-8 9m16-9l-2 12m11-13l-1 11m13-10l-1 10m-273 10l-1-8m11 11l-1-10m15 9l-3-11m16 12l-8-10m20-1l-10 8m18-9l-3 11m13-11l-1 11m12-9l-1 9m11-8l0 7m13-6l0 5m10-5l0 4m11-5l0 3m11-1l0 2m11 1l0-3m13 1l0-2m10 4l0-3m11 2l-1-5m13 8l-1-7m12 6l-1-9m13 11l-1-10m13 10l-4-11m20 10l-11-7m20-2l-8 10m16-11l-4 11m16-10l-2 10m12-10l-1 8m-273 11l-2-8m14 11l-3-10m15 9l-7-10m22 6l-12-2m20-5l-8 9m18-9l-4 11m15-9l-2 9m11-9l-1 7m14-6l-1 6m11-5l0 4m10-3l0 3m13-5l-1 3m12 2l0-3m11 2l0-2m12 1l0-3m11 5l-1-5m10 5l0-5m13 6l-1-7m12 7l-2-9m15 11l-4-11m15 10l-7-9m21 4l-12 0m22-5l-6 10m15-10l-4 10m15-8l-2 8m-262 10l-3-8m17 9l-6-9m19 8l-10-6m22 0l-10 5m19-6l-6 9m15-11l-3 9m15-6l-2 8m11-9l-1 6m12-4l-1 4m12-3l0 3m11-4l0 3m12-3l0 2m11 2l0-3m11 1l0-3m12 5l0-4m10 5l0-5m11 5l-1-6m13 5l-2-7m16 9l-4-9m16 9l-6-8m18 6l-10-5m22 0l-10 6m19-8l-6 9m17-8l-4 8m-260 10l-3-8m16 10l-6-8m17 7l-8-7m20 3l-10-2m21-1l-9 6m18-7l-5 8m16-7l-3 8m14-9l-2 7m13-6l-1 5m12-4l-1 4m10-3l0 4m12-5l-1 3m14-1l-3-1m14 1l-1-3m12 4l0-3m10 4l0-4m11 5l-1-4m14 4l-2-7m14 8l-4-7m16 7l-6-8m18 7l-9-6m20 2l-10 0m22-3l-7 8m17-8l-5 8m-247 11l-4-7m15 7l-7-7m20 5l-9-4m19 2l-10 2m22-6l-7 7m15-5l-4 6m16-6l-3 6m13-6l-2 5m13-5l-1 4m13-3l-1 3m10-3l0 3m11-3l2 1m8 0l3-1m10 3l-1-3m12 4l-1-3m14 1l-1-4m11 5l-1-5m13 7l-3-6m15 6l-4-7m16 7l-7-6m20 3l-9-2m21-1l-9 4m19-5l-7 6m15-7l-4 7m-246 10l-5-6m17 7l-7-4m18 1l-9-1m20 1l-7 3m19-4l-6 5m14-7l-4 6m16-5l-3 5m14-5l-2 4m13-4l-1 3m11-1l2 2m9-3l2 1m8 1l3 0m8 0l3-2m8 2l2-3m12 5l0-3m10 3l-1-4m13 4l-2-5m15 6l-4-6m14 5l-5-5m18 4l-7-4m20 3l-8 0m19-4l-7 5m16-4l-5 6m-224 10l-7-2m20-1l-8 1m17-2l-6 4m17-4l-4 5m14-6l-3 5m13-6l0 5m10-2l3 3m8-4l3 3m9-2l2 2m8-2l3 1m8-1l3-1m8 3l3-2m10 2l2-3m9 3l2-3m10 5l2-5m10 4l-3-5m15 6l-4-5m17 3l-7-4m19 3l-7-1m16 0l-7 2m19-4l-6 4m-213 11l-7 0m20-3l-6 3m15-4l-5 4m15-4l-3 4m13-5l3 5m8-3l3 4m8-4l2 3m8-1l2 2m10-3l3 2m7-1l3 0m9 2l3-2m8 1l2-2m9 3l2-3m9 2l2-4m10 4l2-4m12 6l-3-4m15 2l-5-4m18 4l-6-2m17 1l-7 0m-191 11l-6 0m18-2l-5 2m15 0l-5 1m17-1l-5 0m16-2l-2 5m11-5l1 5m9-6l1 4m10-2l3 3m8-4l3 2m9 1l3-2m9 3l2-3m10 3l1-4m9 4l1-4m12 5l-2-4m14 1l-5-1m18 2l-6 0m15 1l-5-3m18 1l-5 0m-169 11l-4 2m15-1l-5-2m16 2l-5 0m16-2l-4 3m14-5l-2 4m12-2l-2 4m13-4l-2 4m15-3l-4 1m13 0l0-4m13 4l-1-4m11 6l-2-4m16 3l-4-2m14 1l-5 0m16-3l-5 2m18 1l-4-2m-138 12l-4-1m16 1l-4 1m16-1l-4 1m13-1l-3 2m15-4l-3 2m15 0l-3 1m14 0l-3-2m15 2l-3-1m12 1l-3-3m15 4l-4-1m15 1l-4-1m16-2l-4 1m-91 11l-3 2m12-3l-3 2m16 0l-4 1m15-1l-4 0m15 1l-3-1m14 1l-3-1m14 0l-3-2m-65 76l-3-2m16 0l-3-1m14 0l-3 0m15 1l-3 0m14 0l-4 1m15-1l-4 2m15-2l-3 2m-91 8l-4 1m15 0l-4 0m13 0l-4-1m16 2l-4-2m16 2l-3-2m12 3l-3-1m15-2l-4 1m16-2l-4 2m14-1l-3 3m16-4l-4 2m16-1l-4 0m14 1l-5-1m-135 14l-4-2m14-1l-4 2m16 0l-5 0m17 0l-4-2m14 3l-2-4m14 4l-2-4m11 3l-1-3m13 3l-3-3m14 0l-1 3m12-4l-1 4m14-2l-3 4m15-4l-4 3m14-1l-5 1m18-1l-4-2m15 1l-4 3m-169 10l-6-1m15 0l-5-2m18 1l-5 1m16 1l-5-1m14 3l-1-5m11 4l1-5m10 4l2-4m8 4l2-3m10 2l3-2m8 2l3 2m8-3l3 3m9-4l2 4m10-5l1 5m11-5l-2 5m15-2l-6 0m17 0l-5 1m15-2l-5 2m17-3l-5 1m-191 11l-6 1m18 1l-7-2m18 3l-5-4m14 4l-3-4m11 5l2-4m11 2l2-4m9 5l3-4m8 4l3-3m7 3l3-2m9 0l3 0m9-1l3 2m7-3l2 3m11-3l2 3m9-4l2 4m8-3l2 4m13-4l-4 5m15-6l-5 4m16-3l-6 3m18-1l-7 0m-199 11l-7 2m17-2l-8-1m20 2l-6-4m16 6l-4-5m14 5l-2-5m11 3l2-4m9 5l3-3m7 2l2-3m11 3l3-2m7 2l3-1m8-2l3 1m10 0l2 2m9-3l3 2m8-2l3 3m9-4l2 4m10-3l-3 5m15-4l-5 4m18-5l-6 3m17-2l-7 1m19 0l-8-2m18 5l-6-4m-236 9l-5 6m18-6l-7 4m19 0l-9 1m19 1l-8-4m19 4l-6-6m17 6l-4-6m14 5l-2-5m12 6l-1-4m11 4l0-4m12 3l2-2m9 1l2-1m9 1l2 0m8 0l2 1m10-4l2 2m11-1l-1 3m11-3l-1 4m14-6l-3 5m14-4l-4 6m17-6l-5 5m17-5l-8 3m21-1l-9 0m18 4l-7-5m18 3l-5-6m-247 11l-5 7m15-5l-6 7m21-7l-10 4m21 0l-9-3m18 5l-7-6m17 7l-4-7m14 6l-3-6m13 5l-2-5m14 4l0-4m10 3l0-3m12 4l-1-3m10 1l3-1m9 0l2 1m10-2l0 3m12-3l0 3m10-3l-1 4m13-5l-1 5m14-4l-2 6m12-6l-4 7m19-9l-7 6m19-4l-10 2m20 1l-9-3m20 4l-6-6m15 7l-4-7m-246 12l-5 8m17-8l-8 7m21-4l-11 0m21 4l-9-6m18 7l-5-8m16 7l-4-7m14 8l-2-7m13 5l-1-5m12 4l-1-4m12 4l-1-3m10 4l0-3m14 2l-3-1m12-1l0 2m13-2l-1 3m12-4l0 4m10-6l-1 5m14-5l-2 6m14-7l-4 8m16-6l-5 8m18-8l-9 6m20-2l-11-1m22 3l-7-8m16 10l-5-8m-247 10l-3 9m14-10l-6 9m21-7l-10 5m21 1l-11-5m20 6l-6-9m15 9l-4-9m15 8l-2-7m12 6l-1-6m11 6l0-5m13 4l-1-3m12 4l0-2m11 1l-1-3m12-1l0 3m11-2l-1 3m12-2l0 4m11-6l-1 4m14-3l-1 6m12-8l-2 8m15-8l-4 9m17-9l-7 9m18-8l-10 5m22 1l-9-7m17 9l-6-9m17 8l-3-9m-260 12l-2 9m12-10l-3 10m15-11l-6 10m22-5l-12 2m21 4l-7-10m16 10l-4-10m13 10l-2-9m14 9l-2-8m14 7l-1-6m11 5l-1-4m11 2l0-4m11 5l0-3m12 3l-1-2m12-1l0 2m11-3l0 3m11-3l0 4m13-4l0 6m11-7l-1 7m12-9l-2 10m14-11l-3 10m17-8l-7 10m21-5l-12-3m20 6l-7-10m16 11l-3-10m14 10l-2-9m-273 11l-1 9m13-10l-2 10m14-10l-3 12m14-13l-6 10m20 0l-9-9m17 12l-4-12m15 10l-2-11m13 11l-1-8m12 5l0-6m10 6l0-5m11 5l0-3m12 2l0-3m11 3l0-3m11 0l0 3m12-1l0 3m11-5l-1 3m11-4l0 5m12-4l-1 6m12-7l-1 8m13-10l-2 11m14-11l-3 11m16-9l-8 9m19-2l-8-9m18 11l-3-11m14 9l-2-10m11 11l-1-8m-272 10l0 10m11-12l-1 11m11-10l-1 12m19-10l-12 5m17 5l-2-12m14 12l-1-12m11 11l0-10m12 9l-1-8m11 5l0-6m11 7l0-5m13 5l0-3m11 2l0-3m11 0l0 2m10-3l0 3m12-2l0 3m12-4l-1 4m11-4l0 6m12-7l-1 7m12-7l-1 9m13-11l0 12m10-13l-2 12m18-1l-8-9m15 10l-2-12m14 11l-1-11m12 11l-1-9m-274 12l1 8m10-9l1 11m9-14l1 12m10-10l4 12m8-1l2-13m7 15l2-12m10 11l1-11m12 10l1-9m9 8l1-7m12 5l0-5m9 4l0-4m14 5l0-3m10 1l0-3m12 0l0 3m10-3l0 3m11-3l0 4m12-4l0 5m10-5l0 6m13-9l0 10m10-11l0 11m11-11l1 12m9-11l4 12m7 0l3-12m8 11l1-12m12 12l0-11m11 9l0-9m-274 13l2 9m7-10l2 10m10-10l4 11m3-9l12 3m2 5l5-11m8 11l3-11m10 10l1-9m8 8l1-8m12 9l0-6m11 3l0-4m11 4l0-3m12 3l0-3m10 4l1-2m11-2l0 3m12-3l0 4m11-4l0 4m11-5l1 6m9-7l0 8m10-8l2 10m9-11l3 11m7-11l6 11m2-5l12-2m3 6l4-11m9 12l2-10m9 8l1-9m-264 10l3 10m6-10l4 10m5-8l10 8m0-2l11-5m3 9l5-10m8 8l2-10m11 9l1-8m10 7l1-6m11 5l0-4m11 5l0-3m10 2l0-3m12 4l0-3m10 1l1 2m12-5l0 3m10-2l1 3m11-2l0 5m9-7l1 7m11-8l1 9m11-10l3 10m5-10l5 11m5-7l11 4m-1 1l10-7m4 9l5-11m8 10l3-10m-266 11l2 9m7-8l4 9m7-9l8 9m2-5l11 0m2 3l8-8m4 9l5-10m7 11l3-8m9 6l1-7m10 6l1-5m11 5l0-4m10 5l0-3m12 2l0-3m12 1l1 2m8-4l1 3m13-3l0 4m10-5l0 4m10-4l1 5m11-5l1 7m8-7l3 9m9-11l4 10m4-9l9 8m1-2l12-1m2 4l8-8m5 9l4-9m6 7l3-9m-264 12l4 8m5-7l6 8m4-5l10 4m0-3l11-3m2 7l7-8m5 8l5-8m9 6l2-7m8 8l1-5m11 4l1-5m10 3l0-3m12 4l0-3m11 2l1-2m10 0l0 3m10-3l1 3m10-2l1 3m10-5l1 4m12-5l1 6m10-6l2 7m8-8l4 8m4-6l7 7m4-6l11 2m1 1l9-5m2 7l7-8m-247 12l5 7m6-5l7 5m3-3l10 1m0 0l9-4m4 5l6-7m6 8l4-6m9 5l2-6m9 5l1-5m12 4l1-3m10 3l0-3m11 5l-1-3m15 0l-3 0m11-1l-1 2m13-1l1 3m10-5l0 4m11-4l2 5m9-5l3 6m7-6l4 6m7-6l6 7m3-6l9 5m1-4l10 0m3 5l7-6m5 4l5-7m-246 13l7 5m3-2l8 2m3 0l8-2m5 2l7-5m4 5l5-6m9 6l2-5m8 6l2-5m11 3l1-4m9 3l0-3m13 4l-2-2m13 2l-3-1m15-2l-2 1m12 1l-2 2m14-3l-1 3m9-4l1 4m11-5l2 5m9-6l3 6m6-5l5 6m6-7l7 5m4-1l9 1m0-1l9-2m-214 13l8 1m3 2l7-3m5 3l5-5m8 6l4-5m6 4l2-5m14 3l-3-3m12 2l-3-3m16 4l-3-2m13 2l-3-1m15-1l-3 0m14 0l-2 1m12 0l-3 2m16-2l-3 2m13-4l-3 3m13-4l3 5m6-5l3 5m9-4l5 5m5-6l7 3m4 1l7 0m-204 12l7-1m4 2l6-3m9 3l4-4m9 4l-1-5m12 5l-3-4m14 2l-2-4m13 6l-2-3m13 0l-3-2m15 4l-3-2m16 1l-3 1m12-2l-3 2m16-3l-3 3m14-3l-3 3m14-5l-3 4m13-2l0 5m9-5l4 4m6-5l6 3m4-1l7 1m-178 11l4-3m5 2l5 1m6 2l5-3m9 3l0-5m13 5l-1-4m11 2l-2-3m15 2l-3-2m14 3l-3 0m13-1l-2 3m14-4l-2 3m13-5l-1 5m12-4l0 5m8-5l4 4m7-1l5-1m5-2l5 3m-143 9l4 1m7 1l5-1m7 1l3-3m8 5l2-4m9 3l1-4m12 4l0-4m10 1l0 4m12-5l1 4m9-3l2 4m9-3l3 3m8-3l5 1m5 1l5-1m-99 12l4-3m8 3l3-2m9 1l3-2m6 2l3-1m8 1l3 1m9-3l3 2m8-2l3 2m336-607l6-3m6 1l7-2m4 2l7-1m3 0l8 0m5 0l7 1m5-2l7 2m3-3l7 3m-97 12l-4-4m14 5l-3-5m15 6l-1-7m12 7l-4-6m19 5l-7-3m16 2l-7 0m20 0l-8 0m18-2l-7 3m16-6l-2 6m14-5l-2 6m13-6l-2 6m14-6l-4 5m-136 9l-5-2m15 3l-4-3m15 4l-3-5m16 5l-5-5m16 5l-6-2m18 1l-7 0m18 0l-6 0m18 0l-7 0m17-2l-7 0m18 2l-6 0m18-1l-6 2m15-4l-4 4m16-3l-2 5m13-6l-4 4m16-2l-5 1m-169 11l-4-1m16 2l-3-3m12 5l0-5m10 3l0-5m14 4l-4-3m15 1l-5 1m16-1l-5 2m18 0l-5 1m15-3l-5 0m15 1l-5 0m17 2l-5-1m18 0l-6-2m16 3l-6-1m16-3l-4 4m13-4l0 5m11-5l-1 5m15-3l-3 3m14-2l-4 1m-192 10l-3-2m11 2l2-3m9 3l2-3m9 5l4-3m5 2l6-1m10-3l1 5m8-5l1 5m9-3l4 2m7-2l5 1m7 0l5 0m6 0l4 0m8 1l3-3m11 3l-1-5m11 5l0-5m9 2l5 1m7-1l3 4m8-3l3 3m9-3l2 3m12-4l-3 2m-207 12l2-3m7 4l3-4m9 3l3-3m8 4l4-4m7 1l6 0m5 1l6 1m6 0l6 0m4-1l5 0m6 0l6 0m6 1l6 0m5-1l6 0m5 0l6 1m5-2l6 0m6 0l5 0m6 2l6-1m4-1l6 1m6-3l5 4m9-3l3 3m7-2l3 3m9-3l2 3m-229 6l-2 3m12 3l0-4m10 4l1-4m10 2l2-4m7 5l4-5m6 4l6-3m6 2l7 0m5 1l7-2m2 1l8-2m4 4l8-2m3 0l9-1m1 0l8 0m3 0l9 0m4 1l8 1m3-2l8 2m4-2l7 2m5-1l7 1m2-3l6 3m6-4l4 5m10-4l2 4m8-4l1 4m11-5l0 4m12-1l-2-3m-248 12l-2 3m13-1l-4 0m14 1l0-4m10 5l1-5m10 7l2-6m10 6l1-7m9 7l1-8m10 8l4-8m5 9l5-8m5 5l8-6m5 6l9-4m1 3l10-1m1-1l11 2m-1-4l10 4m4-3l6 7m4-9l6 6m8-5l2 8m12-8l-1 8m10-7l0 7m10-7l2 6m12-6l0 5m10-4l0 4m15-3l-4 0m12 3l-2-3m-250 11l-3 2m16-1l-3-2m14 4l-1-4m11 3l0-5m14 6l-5-5m17 3l-7-1m18 3l-6-5m16 6l-5-7m16 8l-4-8m14 9l-2-10m10 10l2-10m6 3l11 0m4-3l3 10m11-10l-3 10m15-11l-5 9m16-6l-5 6m17-6l-6 5m17-4l-7 2m18-2l-5 5m14-5l-1 5m13-6l-1 4m12-4l-3 3m14 1l-3-2m-249 10l-1 3m12-2l-3 1m14 1l-2-3m14 3l0-4m13 6l-4-4m14 0l-6 0m17 1l-5-3m17 6l-4-6m15 5l-5-6m18 7l-8-5m21 3l-10-3m21 1l-10 0m19 2l-10 0m23-1l-10 1m20-4l-8 5m18-7l-5 7m16-4l-4 6m16-5l-5 2m16-1l-6-1m15-1l-3 4m13-5l-1 5m12-4l-1 3m15 0l-3-1m13 1l-2-3m-263 10l-1 4m13-4l-1 3m13 2l-2-2m12 2l-1-3m12 4l0-5m15 0l-5 2m14 1l-3-3m14 6l-1-6m14 5l-5-5m18 2l-7 1m16-2l-7 1m18 0l-5 0m17 0l-5 0m16-1l-6-1m18 3l-6-1m16 0l-7-1m18-2l-4 5m14-6l-2 6m13-4l-3 5m16-3l-5-1m13-2l-1 5m12-4l0 4m15-3l-3 2m11 1l-1-3m13 2l-1-4m-262 13l0 3m10-4l-1 3m12 0l0-3m12 5l0-4m10 3l1-5m10 5l4-2m7 2l2-5m8 6l4-5m6 1l6 2m8-2l4 4m7-4l3 3m9-4l2 2m9 0l2-1m8 3l4-2m6 2l4-3m8 2l6-2m5-2l4 5m9-5l2 5m7-3l5 1m7-1l3 4m10-6l0 5m10-3l1 3m12-1l-1-3m13 3l0-4m10 6l0-4m-275 10l1 4m11-3l1 3m10-1l1-3m10 5l1-4m9 4l2-5m9 1l5 1m5 2l5-4m8 5l4-6m5 5l6-5m3 4l8-2m5 1l9 0m2-1l8 0m3 1l9 0m2-1l8 0m2 1l9-1m4 0l8 1m3-3l6 4m6-3l4 6m8-5l5 3m5-1l5-1m8-2l2 5m10-4l1 4m10-5l1 3m11 2l1-3m11 1l1-3m-276 10l0 4m10-3l1 3m11-1l3-1m8 3l1-4m11 4l2-5m6 6l6-3m4 0l6-1m8 3l5-4m5 4l6-6m5 7l7-7m4 8l8-7m0 5l11-4m1 4l12-2m-2-1l11 1m2-2l10 6m2-8l8 7m4-6l7 7m6-7l5 5m4-4l5 5m7-4l6 1m5-1l5 3m9-4l1 5m11-5l1 4m8-3l3 1m8 3l2-3m-264 10l2 4m7-2l3 1m10 1l1-4m12 4l1-5m8 5l2-6m7 7l6-5m7 5l5-6m5 8l5-8m5 6l7-8m4 10l7-9m5 8l7-9m4 9l7-10m2 7l12-3m3-3l5 11m4-12l7 10m6-8l7 9m4-8l6 8m6-9l6 8m4-7l6 6m5-5l6 4m9-5l1 6m10-6l0 4m11-2l2 3m7-2l4-1m8 2l2-4m-265 12l2 3m11 1l1-4m10 3l0-4m12 6l-1-6m11 6l-1-7m13 7l-3-7m14 8l-3-7m17 8l-5-8m16 8l-5-10m17 10l-7-10m17 10l-7-9m21 8l-9-8m18-1l-8 9m19-9l-7 10m19-9l-6 10m15-12l-3 10m14-7l-5 8m16-8l-4 7m16-8l-3 7m12-6l-2 7m13-6l-1 6m12-7l-1 4m12-2l1 3m11 0l1-4m-253 11l-1 3m13 2l-1-4m12 2l-1-4m13 6l-2-6m15 5l-6-4m17 5l-7-4m18 6l-5-7m15 7l-5-8m17 7l-6-8m19 8l-7-9m18 8l-8-8m22 3l-12 1m21-2l-8 8m17-10l-7 9m18-9l-7 9m19-8l-6 8m16-6l-5 6m17-5l-6 4m16-4l-5 4m17-6l-2 5m10-5l-1 5m13-4l-1 4m12 0l-1-3m-241 12l3 0m10 3l0-4m11 2l-1-4m11 7l0-6m9 5l5-5m9 6l3-7m8 8l0-8m13 8l-4-8m18 7l-9-5m20 2l-10-3m22 3l-11 0m23 0l-11 0m22-2l-11 2m21-3l-10 5m18-8l-4 9m15-8l0 8m9-7l4 6m8-7l3 6m8-5l0 7m14-7l-1 4m10-3l0 4m9-2l4 1m-234 11l3-2m12 3l1-5m9 6l0-6m11 6l3-7m4 7l8-3m4 2l6-6m13 4l-8-1m20 2l-8 1m19-3l-8 1m20 0l-8 0m17 2l-6 0m18-2l-8-1m19 2l-7-1m18 0l-9-1m20 2l-8 0m13-3l6 6m4-6l8 3m5-4l4 6m10-4l1 5m10-7l1 4m8-1l2 2m9 0l3-1m-242 12l3-2m7 2l2-3m9 4l1-5m11 5l1-7m11 8l3-8m7 0l3 8m11-6l-1 7m14-7l-4 5m14-5l-4 3m15-1l-3 1m13-2l-3 1m15 2l-2-1m13 0l-3-1m14 3l-2-3m14 3l-4-5m14 7l-2-7m11 6l5-7m8-1l1 8m10-8l0 7m12-6l1 5m9-2l2 4m7-5l3 2m-220 12l0-4m13 5l-2-5m15 7l-3-7m13 6l-3-9m11 4l6 6m3-7l6 5m7-3l5 3m7-4l3 2m9 0l3 0m8-1l3 0m7 1l3-1m9 2l4-2m5 3l5-3m6 2l5-5m6 8l6-6m12-1l-3 8m12-8l-3 7m15-6l-2 6m11-7l-1 5m-192 12l-3-4m15 3l-4-4m15 4l-5-5m16 6l-7-6m17-2l-1 9m8-7l7 4m2-2l8 2m4-1l7 1m5 0l7 0m5 0l7-1m4 0l7-1m3 2l8-3m4 5l7-5m11 3l-9-2m21-2l-7 5m16-4l-5 5m15-4l-4 4m16-5l-3 4m-170 10l-4-4m14 4l-5-4m19 4l-6-3m18 4l-8-2m19 1l-8 0m19-2l-8 1m18 1l-8 0m20-1l-8 0m19 0l-8-1m20 1l-8-1m19 2l-8 0m18-3l-8 2m20-2l-6 3m17-2l-5 3m15-2l-3 3m-136 10l-5-3m15 3l-5-2m18 2l-6-1m16 1l-6-1m18 0l-7 0m18-2l-6 0m18 1l-7 0m18 1l-7 0m16-1l-6 0m18-1l-6 2m18-2l-5 3m16-4l-4 3m-92 13l-5-2m16 1l-5-1m17 1l-6-1m17 1l-6 0m18-2l-6 1m16-2l-6 1m17 0l-5 2m-62 70l-5 2m17-3l-5 2m14 0l-5 1m19 0l-6 0m17-1l-6 0m16-1l-6-1m16 2l-5-2m-90 11l-4 2m16-3l-5 3m17 0l-7 1m18-3l-7 1m17 2l-6 0m19-2l-6 0m18 1l-7 0m17 0l-7 0m17 0l-6 0m19 0l-6-2m17 3l-5-3m14 3l-4-3m-135 12l-4 4m16-5l-5 3m16-3l-6 3m19-1l-8 2m18-3l-8 0m20 2l-9 0m21-2l-8 0m18 2l-8 0m20-2l-8 0m19 0l-8 0m19 1l-8-1m18 1l-8-2m19 4l-7-3m17 2l-5-3m16 3l-3-3m-172 11l-2 3m14-2l-3 4m15-4l-5 5m18-6l-7 5m19-3l-9-1m13 3l7-5m3 5l7-3m4 2l7-1m6 0l7 0m4-1l7 1m3 0l7 2m5-4l7 3m5-4l6 5m13-2l-9-2m17 5l-7-5m19 5l-5-5m14 4l-3-4m14 3l-3-4m-194 13l-1 5m14-7l-2 5m12-6l-2 7m13-6l-3 8m12-2l6-6m3 6l6-5m7 3l6-3m4 3l5-2m7 3l3-1m9 0l3 0m9-2l4 1m6-1l4 1m7-1l5 3m7-4l6 5m4-5l6 6m8 1l-2-9m14 8l-3-7m14 7l-2-5m13 5l-1-5m-206 11l1 4m8-4l1 5m13-7l0 7m9-7l2 8m8 0l4-8m10 7l-1-8m13 7l-4-4m16 3l-3-3m14 3l-2-1m13 0l-2-1m14 0l-3 1m13 0l-3 1m15-3l-4 3m15-3l-4 4m15-5l-2 7m10-7l3 8m8-2l2-8m10 9l0-7m13 5l0-5m10 6l2-4m-233 14l4-2m9-2l2 3m8-4l1 4m12-5l0 6m9-5l2 7m7-5l7 3m3-4l7 4m13-2l-8 1m20 0l-8-1m18 1l-8-1m20 0l-8 0m19 0l-7 0m19-1l-7 0m18 1l-8 1m19 0l-8 0m18-1l-8 0m16 4l-1-9m8 5l8-2m6 4l3-7m10 8l1-6m8 4l2-4m9 5l2-3m-241 15l1-4m9 0l3 0m10-2l-1 4m11-4l0 5m12-6l0 6m8-5l5 5m8-4l2 7m12-10l0 8m11-7l-4 8m17-6l-8 6m22-6l-11 2m22-1l-11 0m23 2l-11-1m22 1l-11-2m20 4l-9-6m19 7l-4-9m12 8l0-8m11 9l3-7m5 4l6-4m8 7l-1-6m13 5l-1-5m13 4l0-4m8 2l4-1m8 0l1 3m-252 11l0-4m13 0l-1 3m11-4l-1 4m14-3l-3 5m15-5l-5 4m16-3l-7 4m20-6l-6 7m15-7l-5 7m17-7l-6 8m18-11l-7 10m19-9l-8 8m20-3l-12 1m22 4l-8-8m20 9l-7-9m16 8l-6-8m18 6l-5-8m16 8l-5-7m16 5l-6-4m17 5l-6-5m15 7l-2-6m13 5l-1-5m13 4l-1-3m12-1l0 4m-253 12l1-4m10 0l1 4m10-4l-1 4m14-5l-1 6m11-8l-2 7m15-6l-4 6m16-7l-4 8m15-8l-4 10m15-11l-6 9m17-8l-6 10m18-11l-7 11m18-10l-8 9m22 0l-9-9m18 8l-7-9m18 12l-5-11m16 8l-6-9m16 9l-5-9m16 11l-2-9m12 8l-2-7m14 6l-2-7m13 7l0-5m11 4l0-4m10 4l0-4m11 0l2 4m-266 10l1-4m10 4l3-1m10-2l2 4m8-5l1 4m10-4l2 6m7-5l7 4m5-6l6 6m4-6l6 7m5-7l7 8m4-10l7 9m5-9l7 10m5-10l6 11m1-7l12 5m2 3l7-10m6 8l6-10m3 10l7-9m6 9l6-7m5 5l5-7m6 7l5-6m5 6l7-3m9 3l1-6m9 7l1-5m11 4l1-3m9 0l4 2m7-2l2 3m-275 12l1-4m9 3l1-4m9 1l4 0m10-2l1 4m9-5l2 5m8-2l6 3m3-2l6 1m7-4l5 4m6-5l7 6m3-5l7 7m5-7l8 7m1-7l10 5m1-2l12 1m0 0l11-1m-1 2l11-5m1 7l9-7m4 5l6-7m6 8l6-6m6 6l5-5m5 3l6-1m5 2l5-3m9 3l2-5m10 4l1-4m8 3l3 0m9-3l2 3m-264 13l0-3m10 2l0-3m11 0l2 2m10-2l1 3m10-4l2 5m7-2l6-1m5-1l4 4m7-5l4 6m8-7l6 5m3-1l8 1m4-1l8 0m1 0l9-1m5 1l8 0m2 1l8 0m2-2l9 0m4 2l8-2m4 3l6-5m6 6l4-6m6 4l5-4m7 2l6 1m7 2l2-5m9 6l1-4m10 3l2-3m11-1l0 4m11-3l0 4m-274 9l0-4m10 5l0-4m11 4l-1-3m14 1l0 3m9-6l1 4m11-3l1 5m8-2l5 0m8-3l1 6m8-7l3 6m7-3l7-2m5 3l5-4m7 5l3-3m10 0l2 0m10 0l2 1m9-1l2 3m6-4l4 3m8-2l5 4m6 1l4-6m9 6l1-6m8 1l5 0m8 5l1-5m12 2l0-4m11 4l0-3m10 0l0 3m13-3l0 3m10-3l0 4m-275 10l-1-3m13 3l-1-3m13 2l-2 2m13-5l0 4m11-2l0 4m14-3l-5-2m15 0l-3 4m13-5l-1 6m12-5l-4 6m18-4l-7-1m18 1l-6-1m16 1l-5-1m18 1l-6 0m15 0l-5 1m18-2l-6 1m16 0l-7 1m18 2l-5-5m15 5l-1-6m12 5l-3-4m17 2l-5 1m12 2l-1-5m12 4l0-4m13 4l-2-2m14-1l-2 3m11-3l-1 3m-262 12l-2-4m14 3l-3-1m14-1l-1 3m13-4l-1 5m11-5l-2 5m16-2l-6 0m17-3l-5 3m14-5l-3 5m17-6l-5 7m16-6l-8 5m21-3l-10 2m23 0l-11 1m22 0l-11-1m21 2l-10-3m20 3l-7-5m16 7l-5-7m17 6l-4-5m15 2l-5-3m17 3l-6 0m15 1l-4-4m14 4l-1-5m12 5l-1-3m15 1l-3 2m12-3l-1 3m-250 11l-3-2m15-1l-3 2m13-2l0 4m12-4l-1 6m12-6l-4 5m17-5l-7 2m18-3l-6 4m17-4l-6 6m16-7l-5 8m16-9l-3 9m12-10l3 10m3-5l11 0m4 6l5-10m8 11l-1-10m13 9l-4-9m17 9l-5-8m16 5l-6-5m18 3l-7-2m18 5l-4-5m13 5l-1-5m13 4l-1-4m11 4l-2-3m14-1l-3 2m-248 14l-2-3m13 1l-4 0m13-2l-1 4m12-4l0 4m10-6l2 6m9-7l2 7m11-7l0 8m10-8l3 7m7-6l5 7m4-6l8 6m3-7l9 5m1-3l11 2m2 1l10-2m2 3l9-5m2 5l7-7m6 7l4-8m9 9l3-8m7 8l3-7m9 6l1-7m10 7l2-6m10 5l1-4m9 5l0-4m16 1l-4 0m-238 12l-3-3m13 0l0 4m10-4l1 4m9-4l2 5m8-4l4 5m7-6l6 3m4-1l7 1m5 0l7 1m3-2l7 2m6-2l8 2m2-1l8 0m3-2l9 0m2 2l8-1m2 1l9-2m4 1l8-2m2 3l8-2m4 2l7-1m5 2l6-3m6 4l4-4m9 3l2-4m10 5l1-4m11 2l-1-3m12 0l-3 3m-237 12l-1-4m10 1l3 3m8-4l3 3m7-4l3 4m8-3l4 4m6-3l6 1m5 2l5-1m6-2l6 0m7 2l5 0m4-2l6 1m7 0l6 0m4 1l6 0m5-1l6 0m6 1l5 0m5-1l6 0m7 0l6 1m5 0l6-1m6 3l4-4m7 3l3-3m9 4l2-3m9 3l3-3m-209 10l-2 2m13-2l1 4m8-3l3 3m10-4l4 3m5-2l6 1m9 2l0-5m9 5l1-5m11 5l3-3m7 1l4-1m7 0l4 0m6 0l4 0m8-1l4 1m10-1l0 5m9-6l2 5m9-1l5-1m6 1l4-3m7 4l3-4m11 5l1-4m9 2l0-4m-194 15l-4 0m15-2l-4 2m15-2l-1 4m12-5l-1 5m13-5l-4 4m16-2l-6-1m18 2l-5-1m14 1l-4-1m17 1l-5-1m16-1l-4 1m14-1l-5 1m17-1l-5 1m18 0l-6 1m16 0l-4-4m14 5l0-5m10 4l-1-4m13 5l-4-3m17 1l-4 0m-169 10l-5 2m15-4l-3 4m14-4l-3 5m15-5l-5 4m17-2l-6 1m17 1l-7 0m18-1l-6 0m17-1l-6 0m17 1l-7 0m18 1l-7 0m18 1l-6-2m18 1l-4-4m13 7l-3-5m16 3l-4-3m15 3l-5-2m-135 10l-4 4m14-5l-2 5m12-6l-2 6m15-5l-3 6m16-5l-6 4m17-4l-8 1m18 1l-7 0m20 2l-7-4m15 5l-3-6m14 6l-1-7m11 5l-2-5m16 4l-4-4m-97 14l6 3m6-4l7 2m4-2l7 1m4 0l7 0m4 1l7-2m5 3l6-2m5 2l6-3m333-610l3 3m9-3l3 4m9-4l3 4m8-1l4-1m6 2l3-3m9 3l3-4m8 4l4-3m-99 13l5 2m6-3l4 3m7-5l2 5m11-5l-2 4m15-2l-4 2m15-1l-4 1m16-1l-5-1m16 3l-4-2m15 2l-4-3m12 2l3-4m7 3l4-2m8 2l5-2m-145 12l5 1m7-3l3 4m10-4l-3 4m15-2l-4 3m14-4l-4 2m16-1l-3 1m13-1l-3 0m16 1l-3 0m13-1l-3 0m14 3l-3-1m16 0l-3-1m14 2l-4-3m15 3l-3-5m10 5l2-5m9 3l5-1m-178 10l3 5m10-4l-2 5m16-6l-4 4m15-2l-4 3m15-3l-3 2m13-2l-3 2m12-2l2 1m8-1l3 0m8 0l3 0m9 1l3 0m9-2l2 0m10 3l2-1m10 0l-3-2m14 3l-3-2m16 3l-4-4m16 3l-4-5m12 5l1-6m9 7l3-4m-197 10l0 5m12-4l-4 4m15-6l-3 4m15-1l-3 3m14-4l-2 2m9 1l3-1m10-1l3-1m7 2l4-1m7 0l4 0m7 1l5 0m6-1l4 0m8 1l4 0m7-1l4 1m7-1l3 1m11 0l-3-2m15 3l-3-3m13 3l-3-4m16 4l-4-5m13 5l0-6m-207 12l0 6m11-5l-2 5m15-5l-3 4m14-2l-2 2m11 0l3-2m6 2l4-2m7 1l5-2m5 2l6-1m6 0l6 2m6-2l5 1m7-1l5-1m6 1l5-1m6 1l5 0m5-1l5 2m6-1l4 3m10-3l3 0m10 1l-3-3m14 4l-3-4m14 5l-3-4m14 3l1-5m-220 12l0 6m12-5l-2 5m13-6l-3 5m14-3l-2 3m12 0l2-3m8 3l4-4m5 4l7-3m5-1l7 2m6-2l5 5m5-7l4 5m7-1l5 1m7 2l3-5m9 3l5-4m3 4l7-2m6 1l6 2m6-5l4 4m7-2l3 3m11 0l-2-3m14 2l-2-4m12 6l-2-5m12 4l0-6m11 6l1-6m-240 13l1 6m9-6l-1 6m14-6l-2 5m14-4l-2 3m11 0l2-4m7 4l4-5m6 5l8-4m3 1l8 3m4-6l5 6m8-5l3 6m10-6l1 6m9 0l2-6m8 5l3-6m8 6l5-6m4 6l8-3m4-1l8 5m4-5l4 5m9-6l2 4m11 0l-2-3m13 3l-2-4m13 7l-1-6m11 4l0-6m11 8l1-6m-263 10l1 7m9-6l1 7m11-8l-1 6m13-5l-1 5m12-4l-2 3m12 0l2-4m8 4l4-6m5 8l6-7m4 4l10 0m3-5l7 6m7-6l3 7m8-5l2 6m12-1l-3-5m10 4l2-6m9 9l4-7m6 5l7-6m2 2l10 0m4-2l7 7m5-7l4 6m8-5l2 4m12 0l-2-4m14 4l-2-5m11 6l0-6m12 5l1-6m-255 12l1 7m11-6l0 6m11-7l-1 5m14-3l-1 4m11-1l1-4m8 5l2-6m10 7l5-9m3 7l9-5m3 0l9 6m2-6l6 9m8-10l3 8m9-7l0 6m11-1l0-6m11 9l3-8m7 8l5-9m4 6l9-5m0 1l10 4m6-7l5 9m7-7l2 7m10-4l1 3m11 0l-1-3m11 3l-1-5m11 5l1-6m11 8l1-7m-263 10l1 9m10-9l1 6m11-6l-1 6m12-6l-1 5m12-1l1-3m8 5l1-6m10 9l3-10m7 10l7-9m2 2l12 2m0-5l7 9m6-10l3 9m11-8l1 8m11-6l-3 4m14 2l1-7m7 9l3-9m7 9l6-10m4 4l11 0m2-4l7 10m7-10l2 9m8-7l1 6m10-4l1 3m12 0l-1-4m12 3l0-5m12 8l0-7m11 7l1-9m-275 12l1 9m8-8l1 8m12-8l0 6m12-6l-1 5m10-3l0 3m12 0l0-5m10 7l2-9m8 11l3-11m6 10l8-10m4 0l7 10m5-10l3 11m11-11l1 9m12-7l-1 5m11 0l-1-6m11 8l1-9m9 11l3-11m7 9l8-9m3 1l7 10m6-12l3 11m10-10l1 9m9-8l1 5m11 1l0-3m12 4l0-5m10 5l0-6m12 6l0-8m10 8l2-8m-274 11l0 8m10-7l0 7m11-5l0 6m11-7l0 4m11 0l0-3m12 7l0-8m11 9l1-11m9 11l2-12m6 2l10 7m3-9l2 12m11-12l1 11m10-10l0 8m14-4l-4 2m14 2l0-8m9 10l1-10m11 10l2-12m4 12l9-9m8-2l2 12m9-11l0 10m11-9l0 7m11-4l0 3m13 1l0-4m11 4l0-6m11 5l0-7m9 10l0-8m-273 9l-1 9m12-7l-1 7m12-7l-1 6m11-5l1 5m12-4l1 3m11 0l0-5m12 8l-1-10m10 10l0-11m8 12l6-10m8-1l3 12m10-13l0 11m10-10l0 10m12-8l0 5m10 0l0-5m11 7l0-9m11 11l0-11m12 10l-1-12m9 2l6 12m8-13l0 12m12-11l0 9m11-7l0 5m12-1l0-3m11 5l0-5m11 6l0-6m10 7l0-8m11 7l-1-8m-272 12l-2 9m14-9l0 7m9-7l0 5m12-4l1 4m11 1l-1-3m13 4l-1-7m11 10l2-12m4 9l11-6m0-1l11 6m4-9l2 13m12-11l-1 10m12-10l-1 7m12-4l-2 4m12 1l-1-7m14 8l-2-11m11 13l3-13m3 10l11-6m2-2l10 7m5-8l2 11m10-9l-1 7m12-6l0 4m11 1l0-5m11 5l0-6m10 7l0-7m12 7l-1-8m-260 12l-1 7m11-7l0 7m11-5l1 5m10-4l1 3m11-1l0-4m12 7l-2-9m10 11l3-12m4 4l12 3m3-8l3 12m12-11l-2 11m12-9l-2 9m11-9l0 5m13 1l0-5m12 6l-2-9m14 12l-2-12m10 11l4-12m2 7l13-2m2-5l4 13m10-11l-1 9m12-7l-1 5m11-1l1-3m11 4l1-5m11 5l0-6m11 6l-1-7m-250 14l-1 6m10-7l1 6m11-5l1 5m9-6l2 3m10 2l-1-4m15 7l-3-11m13 13l-4-12m12-2l3 12m10-10l0 12m12-12l-2 9m12-7l0 7m11-4l3-2m9 5l-1-7m14 8l-1-10m11 13l-1-12m11 10l2-12m11 1l-3 13m15-11l-3 10m14-9l-2 5m11-1l2-3m8 3l2-5m11 8l0-6m12 4l0-6m-253 10l-1 8m12-6l-1 6m12-6l2 6m9-4l4 3m6-1l4 0m11 2l-1-7m13 9l-5-12m17 11l-8-9m15-2l-1 13m13-12l0 10m11-8l-1 8m11-7l1 6m12 1l1-6m9 7l-1-8m13 9l0-10m11 11l0-12m16 2l-11 6m20-10l-5 12m15-8l-1 6m10-3l4-1m6 2l3-4m10 6l1-6m12 7l-1-7m12 5l-1-7m-251 13l-1 6m11-5l0 5m10-5l3 5m7-4l5 2m7 2l4-4m10 6l-2-8m16 9l-6-10m20 3l-12 2m16-6l1 12m9-12l2 10m8-7l3 6m8-3l6-1m7 3l2-7m9 10l3-9m8 9l2-13m17 6l-13 1m21-5l-5 10m14-8l-1 7m9-5l5 3m6-1l5-2m6 4l4-5m9 4l0-6m12 8l-1-7m-229 11l-1 6m11-1l2-5m10 5l3-5m9 6l1-7m11 10l-3-8m16 7l-6-10m20 8l-12-3m16-5l5 11m6-9l6 7m4-5l6 3m6 1l7-4m4 4l6-7m6 10l4-12m14 8l-12-4m21-3l-7 10m17-8l-4 8m15-7l0 7m9-8l1 6m10-5l1 5m12 1l0-6m10 4l-1-6m-215 12l-2 6m12-1l-3-5m16 7l-3-5m13 3l-4-5m16 7l-5-7m18 7l-8-7m22 5l-12-3m14-5l4 12m5-8l9 5m1-4l10 1m2 3l10-5m3 7l5-11m16 4l-12 3m21-4l-8 7m18-8l-5 7m16-4l-4 5m15-5l-3 5m14-6l-3 5m12-1l-1-5m-192 15l-5-2m13 4l-3-5m15 6l-3-5m15 4l-4-4m17 5l-5-4m17 2l-7-5m19 6l-10-5m23 4l-11-2m20-1l-11 1m22 1l-11-1m23 0l-10 3m20-5l-10 4m21-5l-8 5m18-5l-5 5m15-3l-4 4m15-3l-3 4m15-6l-3 5m14-3l-6 2m-166 12l-4-4m15 4l-4-4m15 4l-5-3m17 3l-5-3m17 2l-7-4m17 5l-8-3m20 3l-9-2m20 1l-10 0m22-2l-9 2m19-3l-8 3m18-3l-7 4m18-3l-6 4m18-6l-5 4m14-2l-4 4m16-5l-3 5m-135 9l-5-4m16 5l-5-3m15 4l-5-3m17 0l-6-2m17 4l-7-2m19 1l-7-1m19 0l-7 1m17-1l-7 2m19-2l-6 2m15-3l-5 2m16-3l-5 3m17-1l-5 3m-91 9l-5-2m18 3l-6-1m16 1l-6-2m18 0l-6 0m18 1l-6 1m17-2l-5 1m16-1l-5 2m-63 68l-5 3m16-1l-6 2m18-2l-6 1m17-1l-6 0m17 0l-6-1m17 2l-5-1m17 1l-6-2m-91 9l-5 3m17-2l-5 3m16-3l-6 3m18-3l-6 3m16-1l-6 2m20-2l-7 0m16-1l-7 0m19 1l-7-2m18 3l-6-2m16 3l-5-3m18 1l-5-3m15 3l-5-3m-135 11l-3 5m14-4l-4 4m16-5l-4 4m15-4l-5 4m17-3l-6 4m17-4l-8 4m21-4l-9 2m20 1l-10 0m20 0l-9-2m21 2l-8-3m19 4l-7-4m17 4l-5-4m16 4l-5-4m15 3l-4-3m15 4l-4-5m-170 17l-4-4m16 0l-3 5m15-7l-3 5m14-5l-5 4m17-4l-6 5m18-5l-7 5m19-5l-10 5m22-3l-11 2m21-1l-11 0m24 0l-11-1m22 2l-11-3m20 3l-10-4m21 6l-7-5m16 5l-6-5m18 4l-4-5m14 7l-4-5m16 4l-3-5m15 0l-3 5m-194 12l-2-6m12-1l-3 5m15-4l-3 5m15-5l-4 6m15-6l-5 7m19-7l-8 7m19-7l-11 4m16 4l4-11m4 9l9-5m3 2l10 0m0-4l10 5m4-6l5 11m15-5l-11-4m19 5l-8-7m18 9l-5-7m16 5l-4-5m15 5l-3-5m14 4l-2-5m13 0l-1 6m-217 12l-1-5m10 4l-1-6m12 0l0 6m11-6l1 6m11-6l0 7m14-8l-3 9m14-10l-7 10m23-3l-12-3m13 7l4-11m7 9l6-7m5 5l7-4m4 0l7 4m4-4l6 7m8-10l4 12m13-8l-11 5m20 1l-7-10m18 10l-2-8m10 7l0-7m11 6l1-6m10 7l2-5m10-2l-1 6m-227 13l-1-7m10 6l0-6m11 6l3-5m8 2l5-2m7 0l3 4m10-5l-2 8m15-11l-6 10m22-5l-13 0m17 8l1-12m9 9l2-9m9 9l2-6m9 0l5 2m5-3l3 6m8-7l2 9m10-11l1 13m18-6l-11-5m19 10l-6-10m14 7l-1-7m11 6l5-3m5 0l5 2m8-5l2 5m11-3l0 5m-230 11l0-6m10 6l1-5m9 5l4-4m6 1l4-1m11-2l-1 7m12-9l-4 11m21-10l-11 7m15 2l-1-12m12 13l0-11m13 9l-1-8m11 6l1-6m10 0l1 6m10-6l-1 8m13-10l0 11m11-12l0 12m16 0l-10-8m19 8l-5-11m15 8l0-6m8 4l4 0m8-3l3 4m9-5l1 6m11-6l-1 6m13-6l-2 7m-261 12l-1-8m11 9l-1-7m13 5l0-6m9 7l1-5m9 4l2-3m13-2l-2 5m14-8l-3 11m13-12l-3 12m13 1l1-13m11 12l0-12m12 11l-2-10m12 9l0-7m11 1l2 3m10-4l-1 7m12-9l-2 10m14-10l0 12m8-12l2 12m10 1l0-13m13 10l-2-10m14 7l-1-5m10 2l2 3m8-5l1 5m11-5l0 6m13-6l-1 7m-251 11l0-8m10 7l0-6m12 6l1-5m10 5l1-4m10-1l-1 4m12-7l-1 9m12-9l3 12m3-4l12-3m3 7l3-12m10 11l-2-12m14 12l-2-9m11 6l0-5m13 0l0 5m12-7l-2 9m12-9l-1 11m10-13l2 12m6-6l12 0m4 7l2-12m9 10l-1-10m13 7l-1-4m11 1l1 3m12-5l1 6m9-5l-1 7m14-8l-1 8m-263 10l-2-9m13 9l0-7m11 6l1-5m10 4l0-4m10 2l0 3m14-6l-1 8m11-11l2 11m4-8l11 7m0-1l11-6m5 10l2-13m10 12l-1-11m11 9l0-8m14 6l-4-2m14-4l0 8m10-9l-2 10m12-10l2 12m5-10l11 6m1 1l10-7m5 8l2-11m10 11l0-7m11 4l0-3m11 0l0 4m12-5l0 6m12-7l0 7m12-8l-2 8m-264 12l0-8m12 7l0-6m13 4l0-4m10 4l1-3m11-1l-1 6m12-8l0 9m11-11l-1 12m14-11l-2 12m11-1l0-12m12 12l-1-11m12 10l0-9m10 7l0-5m12-1l-1 5m13-6l-1 10m11-12l-1 12m14-11l-2 12m11-1l3-12m9 13l-1-12m13 10l-1-10m10 9l0-5m13 1l0 3m11-5l0 5m10-5l0 6m12-7l-1 8m-263 11l0-9m11 9l0-7m11 5l0-6m13 7l0-4m10-1l1 4m10-6l0 7m10-8l1 11m12-12l2 12m2-7l13 2m5 5l2-12m9 11l1-10m12 8l0-8m11 3l-1 4m12-5l0 8m10-10l1 11m11-13l2 12m3-6l12 3m4 4l2-12m9 12l1-11m11 9l0-7m11 4l0-4m12 0l0 4m11-5l0 6m10-4l0 7m14-10l0 9m-276 12l1-8m10 8l1-8m11 7l0-6m12 5l-1-4m11 3l-1-3m12-1l0 5m11-7l2 9m8-10l3 11m6-10l9 9m1 0l8-9m8 9l2-11m7 12l2-10m12 7l-1-5m12-1l-1 5m10-7l1 9m12-8l3 11m4-11l7 10m5-1l8-9m5 10l3-11m9 9l1-9m10 8l0-5m13 0l0 4m10-5l0 5m13-5l0 7m9-8l0 8m10-7l1 9m-273 8l1-8m9 10l1-7m12 6l-1-6m11 6l0-5m10 0l0 3m11-5l1 6m11-8l3 10m7-9l7 9m0-5l11 1m2 3l7-9m8 9l2-9m9 8l1-8m14 4l-5 3m12-5l1 7m9-9l3 9m7-9l6 10m3-4l12 0m3 4l6-10m5 10l3-9m9 8l2-6m10 4l0-3m13-1l-1 4m12-4l-1 6m11-7l1 7m10-7l1 9m-263 8l0-7m10 8l0-6m11 5l-1-5m13 4l-1-4m11 1l0 4m12-7l2 7m8-7l5 8m2-7l9 6m4 1l9-6m5 8l4-8m7 6l3-8m10 7l-1-6m12 1l0 6m9-7l3 8m7-9l4 9m5-7l10 5m2 0l9-5m4 6l5-8m7 9l2-7m10 5l1-4m11 0l-1 4m13-5l-1 5m12-4l0 6m11-8l1 8m-253 9l1-6m9 7l0-6m13 6l-1-5m12 3l-2-3m11 1l2 3m10-6l4 7m5-6l7 6m2-4l10 0m3 4l7-6m7 7l4-7m6 6l3-7m10 5l-2-5m12 0l3 6m7-6l4 7m5-6l7 6m4-3l10 0m2 3l7-7m5 8l4-7m10 5l1-3m12-1l-2 3m13-3l-2 5m12-7l0 6m10-6l1 7m-240 11l1-6m10 6l-1-6m12 5l-2-5m13 5l-2-3m12 0l2 3m9-5l5 6m3-5l8 4m4 0l8-3m5 5l5-6m7 4l3-6m8 6l2-5m9 0l2 6m9-7l3 6m7-5l5 6m6-4l8 2m4 1l7-4m5 4l4-5m7 4l2-4m11 1l-2 3m14-3l-2 5m14-6l-1 5m9-6l1 6m10-5l2 7m-253 10l1-6m11 6l1-6m11 5l-2-5m13 5l-2-4m13 5l-2-3m12-1l2 3m8-5l5 4m4-2l7 2m4-1l7-2m6 5l5-5m8 5l3-5m7 1l6 2m6-4l4 5m6-4l5 5m5-5l7 3m4-1l7-2m7 3l4-4m8 5l2-3m11 0l-2 3m12-4l-2 4m14-4l-2 6m11-6l1 6m-219 10l1-6m12 6l-2-5m12 5l-3-5m14 4l-2-3m12 0l3 2m8-2l4 2m6-2l5 2m6 0l6 0m6 1l6-1m5-1l5 0m7-1l5 1m4 0l5 1m7 0l6 0m5 1l5-2m7 2l3-2m9 1l2-2m11 0l-3 3m15-5l-2 4m14-4l-2 5m11-3l0 5m-207 10l0-6m14 6l-4-5m14 5l-4-4m15 3l-3-3m14 3l-3-2m12 1l3 1m7-1l4 1m7-1l4 1m6-2l5 1m7 0l5 0m7-1l4-1m8 3l4-1m8 1l3-2m7 1l3-2m11 1l-3 3m15-4l-3 3m15-4l-4 4m15-5l-4 5m14-5l0 5m-199 12l3-4m10 4l-2-6m15 5l-4-4m16 5l-4-3m15 2l-3-2m13 2l-3-2m13 2l-1-2m11 1l3 0m7 0l3 0m8 0l3 0m9-1l2 0m11-1l2 2m9-1l-2 2m15-3l-3 2m15-1l-4 3m15-4l-4 5m14-6l-1 5m10-5l3 5m-179 10l6-2m9 4l2-5m12 5l-4-5m15 4l-4-3m14 2l-4-2m15 0l-4-1m15 3l-3-1m16 0l-3 0m12 0l-3 0m16 0l-4 1m14-1l-4 2m16-4l-4 3m15-3l-4 4m13-5l1 5m9-3l5 2m-147 11l5-2m6 2l5-2m9 3l0-5m14 4l-3-3m14 2l-4-1m16 3l-4-1m14 0l-4 0m16-1l-4 2m15-4l-3 3m12-4l-1 5m9-2l5 2m7-2l5 2m-98 11l3-4m8 4l3-3m7 2l3-3m7 4l4-1m9-2l4 3m6-4l4 3m7-1l3 3" stroke-opacity="0.85" stroke-width="2.2"/><path d="M2662 145h0m14 0h0m9-2h0m13 1h0m10 0h0m12 0h0m10 2h0m-94 8h0m12 0h0m11 1h0m12 0h0m10 0h0m10 1h0m13 1h0m9 0h0m12-1h0m11 1h0m12 0h0m10 0h0m-140 9h0m11 0h0m12-1h0m11 1h0m11-1h0m12 1h0m12 1h0m12 1h0m10-1h0m10 0h0m12 2h0m11-1h0m12 2h0m9-3h0m12 1h0m-174 7h0m13 2h0m11-1h0m11 1h0m11-2h0m11 2h0m12 0h0m12 0h0m10 0h0m11 1h0m12 0h0m10 2h0m11-1h0m13 2h0m9-2h0m11 1h0m11 0h0m12 1h0m-195 5h0m10 0h0m11 2h0m12-1h0m10 1h0m13-1h0m12 0h0m10 2h0m11-1h0m12 2h0m11-1h0m11 2h0m11-1h0m10 1h0m13-1h0m10 3h0m11-2h0m11 0h0m11 0h0m-218 8h0m10-1h0m11-1h0m13 2h0m12-2h0m10 2h0m12-1h0m12 2h0m10-1h0m11 0h0m12 1h0m12 1h0m9 1h0m12-1h0m13 1h0m8 1h0m11 1h0m11-2h0m13 1h0m11 1h0m11-2h0m-220 8h0m13 0h0m11-1h0m10 1h0m13-1h0m10 1h0m12 1h0m12-1h0m11 0h0m11 0h0m11 1h0m11 1h0m10 0h0m12 2h0m12 0h0m10-1h0m11 2h0m12-1h0m11 1h0m11-1h0m10-1h0m-241 8h0m13-2h0m10 0h0m12 1h0m11-1h0m11 0h0m13 1h0m10 1h0m11-1h0m12 2h0m12 0h0m10 1h0m11 1h0m11-1h0m11 2h0m12-1h0m12 2h0m9-2h0m11 2h0m11-1h0m11 2h0m11 0h0m12-1h0m11 0h0m-251 5h0m12 0h0m10-1h0m11 2h0m11-2h0m11 1h0m13 0h0m12 1h0m10 0h0m11-1h0m11 2h0m11 1h0m12 1h0m10 0h0m11 1h0m12-1h0m10 1h0m12 0h0m12 1h0m10 1h0m12 0h0m11-1h0m9-1h0m-251 7h0m12-1h0m11 1h0m12-2h0m10 2h0m11-1h0m13 1h0m9 0h0m14-1h0m11 0h0m11 1h0m11 2h0m21 1h0m12 1h0m11 0h0m11 1h0m12 0h0m9 0h0m12 2h0m11-2h0m11 1h0m12-2h0m10 0h0m-262 7h0m11-1h0m12 0h0m10 0h0m12-1h0m11 0h0m11 1h0m11 0h0m12-1h0m10 2h0m12 1h0m43 3h0m11 2h0m12-1h0m12 0h0m10 0h0m12 0h0m11 1h0m10 1h0m13-1h0m10 0h0m11-2h0m-272 8h0m9 0h0m13-1h0m9-1h0m13 0h0m10 1h0m12-2h0m11 0h0m11 0h0m13 1h0m9 0h0m11 1h0m35 4h0m9 1h0m11 1h0m13-1h0m10 0h0m13 2h0m10-1h0m12-1h0m11 2h0m10-1h0m12-1h0m10-1h0m-272 6h0m11 1h0m11-2h0m11 1h0m10-1h0m12 0h0m11 0h0m11 1h0m11 1h0m12 0h0m11 1h0m10 1h0m12 0h0m11 2h0m10 0h0m12 0h0m12 1h0m11 1h0m11 0h0m11 1h0m11-1h0m12-1h0m10 0h0m11 2h0m12-1h0m-262 5h0m10 1h0m12-1h0m11-1h0m11 0h0m12 0h0m9 0h0m12 2h0m10 0h0m11-1h0m11 2h0m12 0h0m11 2h0m10 0h0m12 1h0m13 0h0m9 0h0m12 0h0m12 1h0m11 1h0m12 0h0m11-1h0m12-1h0m9-1h0m12 1h0m-274 6h0m11 0h0m11 0h0m11 0h0m12 0h0m10 0h0m13-1h0m11 1h0m11 0h0m10 1h0m11 1h0m12-1h0m10 2h0m12 2h0m10-1h0m13 2h0m11 0h0m11-1h0m10 0h0m12 0h0m12 1h0m12 1h0m10-1h0m12 0h0m12-1h0m-263 8h0m11-2h0m9 1h0m13-1h0m11 0h0m10 1h0m12-1h0m11 1h0m11 0h0m10 1h0m11 0h0m12-1h0m9 2h0m12 1h0m13 0h0m10 0h0m11 1h0m11 2h0m13-2h0m11 0h0m11 0h0m10 1h0m14-1h0m10 0h0m-261 8h0m11-1h0m11-1h0m10 0h0m11-1h0m10 2h0m12 0h0m10 1h0m11-2h0m10 2h0m13-1h0m11 2h0m10 0h0m12 0h0m12 0h0m9 2h0m12 1h0m12-1h0m11 2h0m11-2h0m13 0h0m10 2h0m13-2h0m9 0h0m-238 8h0m10-2h0m10 2h0m12-1h0m12 1h0m9 0h0m12 0h0m12 0h0m9-1h0m11 2h0m12 1h0m10-1h0m11 0h0m13 2h0m10 0h0m12 0h0m10 1h0m13-1h0m11 0h0m11 1h0m12-1h0m12 0h0m12 0h0m-252 9h0m11 0h0m11-2h0m10 0h0m12 0h0m11 0h0m10 0h0m12 2h0m11-2h0m10 3h0m12-2h0m10 0h0m12 3h0m12 0h0m10-1h0m11 1h0m13 0h0m10 2h0m11-2h0m11 2h0m13-2h0m12 1h0m10-2h0m-230 10h0m12-2h0m10 2h0m10-1h0m12 0h0m11-1h0m10 2h0m12 1h0m12-1h0m11 0h0m10 2h0m11-1h0m12 0h0m12 2h0m11 0h0m11-1h0m11 1h0m11-1h0m12 0h0m12 0h0m11 0h0m-216 8h0m9 2h0m11-2h0m10 0h0m12 0h0m11 2h0m10-2h0m13 2h0m11-1h0m11 0h0m9 1h0m13 1h0m12-1h0m10 0h0m11 2h0m11 0h0m14-1h0m11 2h0m11-1h0m-195 9h0m11-1h0m9-1h0m11 1h0m11 0h0m12 0h0m12 1h0m11 1h0m9-1h0m11-1h0m13 0h0m11 3h0m11-1h0m10 1h0m14 0h0m11-1h0m11-1h0m12 1h0m-175 8h0m13 1h0m10-1h0m10 2h0m12 0h0m10 1h0m11-2h0m11 1h0m13 1h0m11-1h0m11 0h0m11 1h0m11 1h0m11-1h0m12 1h0m-140 8h0m13 0h0m11 2h0m8 0h0m13-1h0m11 2h0m10-2h0m11 2h0m12-2h0m11 2h0m11 0h0m11-1h0m-93 10h0m10 2h0m10-2h0m13 1h0m10-1h0m12 2h0m12-2h0m-68 78h0m12 0h0m11-1h0m10 1h0m12-2h0m11 2h0m12 0h0m-96 11h0m11 0h0m12 0h0m12 0h0m11 0h0m10 1h0m11-1h0m12-1h0m10 0h0m11 0h0m12 1h0m13-2h0m-142 13h0m12 0h0m11 1h0m10 0h0m12 0h0m10 0h0m11-2h0m13 2h0m11-2h0m10 0h0m11-1h0m12 2h0m13 0h0m10-1h0m11 0h0m-173 14h0m10 0h0m13 0h0m10-1h0m12 0h0m9 1h0m13-1h0m9 0h0m13 0h0m9 0h0m13 0h0m11-1h0m11-1h0m12-1h0m11 0h0m11 0h0m11 0h0m11 0h0m-195 16h0m12-1h0m9-1h0m11 0h0m11 0h0m11 2h0m13-1h0m10-1h0m11-1h0m11 0h0m11-1h0m12 2h0m11-2h0m11 0h0m12 0h0m10-1h0m12 1h0m13 0h0m11-1h0m-208 15h0m11 0h0m12 0h0m11 1h0m11 0h0m10-1h0m12 1h0m11-1h0m11-2h0m10 2h0m12-1h0m12-1h0m9 0h0m12-1h0m11-1h0m13 2h0m10-1h0m12 0h0m11 1h0m12-1h0m-228 15h0m11 0h0m10-1h0m11 2h0m11-2h0m12 1h0m10 1h0m10-3h0m12 0h0m12 2h0m10-1h0m11-1h0m11 0h0m11 0h0m11-2h0m13-1h0m10 1h0m13 0h0m11-2h0m10 2h0m13 1h0m11-1h0m11-1h0m-239 16h0m11 0h0m11-1h0m9 1h0m11 0h0m13 0h0m10-1h0m11 1h0m11-1h0m12 1h0m9-2h0m12 1h0m11-3h0m11 1h0m10 0h0m13 0h0m10 0h0m12-1h0m11-2h0m12 2h0m13 0h0m10-1h0m-240 17h0m12 0h0m11-1h0m11 1h0m10 0h0m12-2h0m11 1h0m10 1h0m10-2h0m11 0h0m13 0h0m11-1h0m10 0h0m12-1h0m10-1h0m13 0h0m11-1h0m11 0h0m10 0h0m12 0h0m13 1h0m11-1h0m12 2h0m-252 14h0m11 0h0m10 2h0m12 0h0m11-1h0m10 0h0m12-1h0m10 2h0m12-2h0m11 0h0m12-2h0m10 1h0m12-2h0m10 1h0m11-1h0m12-1h0m12 1h0m10-1h0m11-1h0m13 1h0m12-1h0m10 1h0m13 1h0m10-2h0m-261 17h0m9 0h0m11-1h0m13 1h0m10 1h0m10-1h0m11 1h0m12-2h0m10 1h0m12-1h0m10 0h0m12-1h0m11-1h0m10-1h0m12 1h0m11-2h0m11 0h0m11-1h0m12 0h0m11-1h0m11 1h0m12 1h0m13-1h0m12 0h0m9 2h0m-262 15h0m11 1h0m11-1h0m12 0h0m10 1h0m12 0h0m11 0h0m11 0h0m11 0h0m11-1h0m11-2h0m11 1h0m11-2h0m11 0h0m11-2h0m12 1h0m11-2h0m11 0h0m12 1h0m12-2h0m11 2h0m11-1h0m11 0h0m11 0h0m11 2h0m-272 14h0m9 2h0m12-1h0m12 0h0m11 1h0m11-1h0m10 2h0m13 0h0m10-2h0m12 0h0m11 0h0m9-2h0m13-1h0m9-1h0m12 1h0m11-1h0m12 0h0m12 0h0m10-1h0m11-1h0m11 1h0m13 0h0m10-2h0m13 2h0m11 1h0m-274 16h0m10-1h0m11 1h0m12 0h0m12-1h0m10 1h0m12-1h0m11 1h0m12 0h0m10 1h0m12-1h0m10-2h0m33-4h0m13 0h0m11 1h0m10 0h0m11-2h0m12 0h0m10 0h0m13 1h0m11-1h0m10 2h0m12-2h0m10 2h0m-272 16h0m12 0h0m11 0h0m11-1h0m10 1h0m12-1h0m10 1h0m13 1h0m11-2h0m11 0h0m10 0h0m45-3h0m11-1h0m12-1h0m11 0h0m11 0h0m11 1h0m11-2h0m12 1h0m11 0h0m11 1h0m10 1h0m-261 14h0m11 1h0m12 1h0m9 0h0m13 0h0m12 0h0m10-2h0m12 2h0m12-2h0m11 0h0m11-1h0m10 0h0m11-2h0m13 0h0m9-2h0m12 0h0m11 1h0m10-2h0m11 1h0m11 0h0m12 0h0m11-1h0m11 2h0m12 0h0m-251 15h0m11 2h0m12 1h0m11-2h0m11 0h0m11 2h0m12-2h0m12 1h0m10-1h0m11-1h0m12 0h0m10-3h0m12 0h0m11-2h0m10 1h0m12 0h0m11-1h0m10 0h0m12 0h0m10 0h0m13 0h0m11 1h0m10-1h0m-251 17h0m11 1h0m13-1h0m9 0h0m12 0h0m11 0h0m12 1h0m12-1h0m12-1h0m10 0h0m11-2h0m12 1h0m10-2h0m11 0h0m12-1h0m9 1h0m12-1h0m12-1h0m12 0h0m10 1h0m11-1h0m10 1h0m11-1h0m11 0h0m-250 16h0m12 1h0m11 0h0m11 0h0m10 1h0m12 0h0m12 0h0m11-2h0m11 1h0m11-2h0m11 1h0m12-2h0m12-1h0m11 1h0m11 0h0m10-1h0m12-1h0m11 0h0m10-1h0m12 0h0m10 0h0m12 0h0m11 2h0m-240 14h0m10 2h0m11 0h0m13-2h0m12 1h0m10 1h0m11-1h0m12 1h0m12-2h0m10 1h0m12-1h0m12-1h0m10-2h0m11 0h0m10-1h0m13 1h0m10 0h0m12-1h0m11 1h0m11 0h0m10-1h0m-208 15h0m13 0h0m12 2h0m12-1h0m10-1h0m13 1h0m11-1h0m10-1h0m11 1h0m11-1h0m13 0h0m10-1h0m11 0h0m10-2h0m12 1h0m11-1h0m12 0h0m9 2h0m12-1h0m-195 16h0m10-1h0m13 1h0m11 0h0m12-2h0m11 0h0m10 1h0m13-2h0m10 1h0m11-2h0m12 1h0m12-2h0m9 0h0m11 1h0m11-1h0m12 0h0m10 0h0m12 0h0m-174 15h0m13 0h0m11 0h0m11-1h0m12 1h0m11 0h0m10-2h0m12 0h0m12-1h0m11 1h0m9-2h0m13 1h0m9 1h0m13-1h0m9 1h0m-139 12h0m12 0h0m12 1h0m11 0h0m12-1h0m11-2h0m11 0h0m10 1h0m12-1h0m11 1h0m9-2h0m12 2h0m-94 13h0m10-2h0m12 2h0m12 0h0m9-2h0m13-1h0m10 0h0m353-483h0m12-2h0m9 1h0m12 1h0m12 0h0m10 0h0m-73 11h0m11-2h0m11 0h0m12 1h0m11 0h0m13 1h0m9-2h0m13 0h0m11 2h0m-108 10h0m12 0h0m11-1h0m11 2h0m11-1h0m12 1h0m10-1h0m11 1h0m12 1h0m12-1h0m9-1h0m12 0h0m-127 11h0m11 0h0m11 2h0m12 0h0m10 0h0m12-1h0m11 1h0m12-1h0m9 0h0m12 1h0m11-1h0m11-1h0m12 1h0m-140 11h0m11 1h0m11 0h0m12-1h0m11 2h0m11-2h0m12 1h0m10 0h0m11-1h0m11 0h0m12 0h0m10 1h0m11-1h0m13 0h0m-150 10h0m9 1h0m11 0h0m12 1h0m12-1h0m9 2h0m12-2h0m12 0h0m10 1h0m11-1h0m13 0h0m9 1h0m12 1h0m12-2h0m11-1h0m-151 12h0m10 0h0m13 2h0m10-1h0m11 1h0m11 0h0m12-1h0m12-1h0m10 2h0m12-1h0m11 1h0m11-1h0m10-1h0m13 0h0m-152 11h0m13 2h0m9-2h0m12 1h0m11 1h0m12-1h0m9 0h0m12 1h0m11-1h0m12 1h0m11-2h0m11 1h0m11 0h0m10 1h0m12-3h0m-160 14h0m11-1h0m11 0h0m11-1h0m10 1h0m11 0h0m11 0h0m11 1h0m12 0h0m11 1h0m10-1h0m12-1h0m11 0h0m12-1h0m11 1h0m11-1h0m-172 13h0m11-1h0m10 0h0m13 1h0m11 0h0m11 0h0m10 0h0m11 0h0m11 2h0m12-1h0m11-1h0m10-1h0m13 2h0m10-2h0m10-1h0m11 1h0m-160 11h0m11 0h0m12 0h0m11 1h0m9 0h0m13 2h0m10-1h0m12 0h0m11 0h0m11 0h0m11 0h0m12 0h0m11 0h0m11-2h0m10-1h0m11 1h0m-161 12h0m12 0h0m11 1h0m10 0h0m12 0h0m11 1h0m11-1h0m12 1h0m10 0h0m12-1h0m10-1h0m12 1h0m11-1h0m12 0h0m9-2h0m-138 13h0m11 1h0m11-1h0m12 1h0m10 3h0m11-1h0m12-1h0m10 0h0m11 1h0m13-1h0m10-2h0m11 1h0m-104 12h0m9 1h0m12 0h0m10 0h0m11 0h0m12 1h0m12-1h0m11-1h0m-68 75h0m12 1h0m10 0h0m13 0h0m10 1h0m13-1h0m11-1h0m11 0h0m-107 8h0m10 2h0m12 1h0m12 0h0m11 1h0m10 0h0m13 0h0m11-1h0m10 0h0m13-1h0m10 0h0m12 0h0m-142 10h0m11 0h0m12 1h0m10 0h0m12 0h0m11 0h0m12 2h0m12-1h0m11 1h0m12-1h0m10-2h0m12 1h0m10-1h0m13-1h0m11 1h0m-165 10h0m13 1h0m9 2h0m11-2h0m12 2h0m13 0h0m9 0h0m13 0h0m11 0h0m11-1h0m11 1h0m11 0h0m12-1h0m11 1h0m12-2h0m10 0h0m-163 10h0m11 1h0m11 2h0m12-1h0m11 1h0m11-1h0m12 1h0m12 0h0m10 0h0m12 1h0m10-1h0m12-1h0m11 1h0m13-1h0m9 0h0m-162 10h0m11 1h0m12-1h0m10 2h0m11-1h0m11 1h0m13 0h0m11 0h0m12 0h0m11-1h0m10 0h0m11 2h0m13-1h0m12-1h0m10 0h0m12-2h0m-164 12h0m11 0h0m10 1h0m11 0h0m14 2h0m10 0h0m11-2h0m11 1h0m11 0h0m11 0h0m12 0h0m12 0h0m11 0h0m12-2h0m10 0h0m-152 11h0m11 2h0m11-1h0m12 1h0m10-1h0m12 0h0m11 0h0m12 0h0m10 0h0m12 1h0m12-1h0m12 0h0m10-1h0m12 2h0m-153 9h0m13 1h0m10-1h0m12 1h0m10 0h0m12 1h0m12-1h0m10 0h0m11 2h0m12-2h0m11 2h0m11-1h0m13 0h0m10-2h0m11 1h0m-151 11h0m11 0h0m10 1h0m13-1h0m11 0h0m10 0h0m11 1h0m12 0h0m10-1h0m13 0h0m10 2h0m12-3h0m11 1h0m13 0h0m-141 12h0m11 1h0m11-2h0m11 1h0m10-1h0m13 1h0m11 1h0m10-1h0m12-1h0m12 0h0m11 1h0m10-1h0m13 1h0m-130 11h0m10-1h0m11 2h0m12-1h0m12-1h0m12 1h0m9-1h0m11 1h0m13 0h0m11 0h0m11 0h0m12 0h0m-107 12h0m11-1h0m11 0h0m11 1h0m12-1h0m11 0h0m11-1h0m12 0h0m12 1h0m-74 10h0m9 0h0m13 2h0m11-2h0m12 2h0m10 0h0m364-462h0m11 0h0m10 0h0m11 0h0m-50 11h0m11 1h0m11-1h0m13 0h0m11-1h0m11 0h0m11 2h0m-74 10h0m12 0h0m12 1h0m11-3h0m11 2h0m13 0h0m9 0h0m13 0h0m-86 12h0m12-1h0m11 0h0m12 0h0m9 0h0m13 0h0m11-1h0m11 1h0m11 2h0m-174 14h0m79-5h0m12-1h0m10 2h0m11-1h0m11-2h0m12 2h0m10 0h0m12 1h0m11 0h0m13-1h0m77 5h0m-263 9h0m11 2h0m67-4h0m12-1h0m11 0h0m10 0h0m13-1h0m11 1h0m11-2h0m10 2h0m14 0h0m11 0h0m10 1h0m68 3h0m-254 12h0m79-3h0m10-2h0m13-1h0m10 0h0m12 0h0m11 0h0m11 0h0m11 1h0m12 0h0m11 2h0m79 2h0m-264 11h0m78-4h0m11 1h0m13-2h0m10 1h0m10 0h0m13 0h0m11-2h0m10 0h0m12 2h0m11 1h0m11 0h0m68 4h0m12 0h0m-264 11h0m77-3h0m11-1h0m12-1h0m12 0h0m12-1h0m10 1h0m11 0h0m12 1h0m11-1h0m10 2h0m11-1h0m69 3h0m11 1h0m-276 11h0m13 1h0m66-3h0m11-2h0m11 0h0m11-1h0m12 0h0m11 0h0m12 0h0m11 1h0m11-1h0m12 0h0m10 2h0m79 3h0m-262 12h0m77-4h0m11-2h0m11 1h0m12 0h0m10-2h0m12 0h0m11 0h0m10 0h0m12 2h0m11 0h0m80 5h0m9 0h0m-273 10h0m13 0h0m66-3h0m11-1h0m11-1h0m10 2h0m13-1h0m11-2h0m10 1h0m12-1h0m11 3h0m11 1h0m12 0h0m65 3h0m12 1h0m-262 11h0m78-4h0m12-1h0m11 0h0m11 0h0m10-2h0m12 1h0m12 0h0m10 0h0m12 0h0m11 1h0m78 3h0m-251 12h0m67-3h0m11 0h0m12-1h0m9-1h0m13 0h0m9-1h0m13 1h0m10 1h0m12 0h0m11-1h0m12 3h0m66 3h0m-250 10h0m77-4h0m11 2h0m11-2h0m11 0h0m11-1h0m11 0h0m12 0h0m11 2h0m12 1h0m9-2h0m79 5h0m-171 7h0m11 0h0m10-1h0m12 0h0m9 0h0m13 0h0m11 1h0m12 1h0m10-1h0m-83 12h0m10-1h0m12 0h0m11 1h0m12-2h0m11 2h0m11 0h0m11-1h0m-62 13h0m10-2h0m12-1h0m12 2h0m10 0h0m-44 169h0m12-1h0m9 0h0m11 0h0m13 1h0m-62 11h0m13-1h0m10 2h0m10-2h0m11 2h0m13 0h0m10-2h0m10 1h0m-81 11h0m10 0h0m12 2h0m10-2h0m11 0h0m11 2h0m10-1h0m13 0h0m11-1h0m-93 10h0m8 2h0m12-1h0m11 2h0m12-1h0m10 0h0m12 2h0m12-2h0m11-1h0m10 0h0m79-2h0m-251 10h0m67 3h0m11 0h0m12 1h0m10 1h0m11 0h0m12 0h0m10-1h0m11 1h0m12-1h0m10-2h0m13 1h0m66-4h0m-251 13h0m77 2h0m14 2h0m10 1h0m11-2h0m11 2h0m10-1h0m11 0h0m13-1h0m11 1h0m11-2h0m78-3h0m-263 12h0m13 0h0m65 3h0m12 1h0m10 1h0m12 1h0m10-2h0m11 0h0m12 0h0m13 0h0m9 1h0m12-3h0m10 2h0m69-6h0m10 1h0m-273 11h0m10 0h0m69 5h0m10-1h0m11 1h0m13 2h0m9-1h0m12 1h0m11-2h0m12 1h0m10 0h0m11-1h0m11-1h0m11-1h0m68-2h0m11 0h0m-273 10h0m10 0h0m68 5h0m10 0h0m12 1h0m12 0h0m11 0h0m10 0h0m10 1h0m12-2h0m13 0h0m11-1h0m11 0h0m67-4h0m10 1h0m-273 11h0m10 0h0m80 4h0m11 2h0m10 0h0m12 0h0m10 0h0m13 0h0m10 0h0m13-1h0m10 0h0m11 0h0m78-4h0m-264 9h0m12 2h0m67 3h0m12 1h0m12-1h0m11 1h0m9 1h0m13-1h0m12 0h0m9 0h0m12 0h0m12-2h0m12 1h0m65-5h0m12 0h0m-263 13h0m79 2h0m9 2h0m13-1h0m11 2h0m10 0h0m11-1h0m13 0h0m10 0h0m11 0h0m11 0h0m12-2h0m67-1h0m-253 10h0m68 2h0m12 1h0m11 0h0m10 1h0m12 0h0m11 1h0m11-1h0m13 0h0m11 1h0m12-1h0m9-2h0m-186 9h0m79 4h0m11 0h0m13 0h0m9 1h0m13 0h0m10 1h0m12-2h0m13-1h0m9 0h0m13-1h0m78-1h0m-175 13h0m10 1h0m12 1h0m13 0h0m10 0h0m13-1h0m9 0h0m11-1h0m13 1h0m-86 11h0m12 0h0m11 0h0m11 1h0m12 1h0m12-1h0m10-1h0m13-1h0m-74 11h0m11 1h0m10 1h0m13-1h0m10 0h0m12 1h0m11 0h0m-52 11h0m12-1h0m12 0h0m12 1h0m332-572h0m11 0h0m10 0h0m13 0h0m54-2h0m12 1h0m12 2h0m9-1h0m-139 11h0m12-1h0m11-1h0m11 3h0m11-1h0m11 0h0m10 2h0m24-3h0m11-1h0m11 1h0m12 0h0m11 0h0m11 1h0m12 0h0m-175 11h0m12 0h0m11 0h0m13 0h0m10 1h0m11 2h0m9 0h0m13 0h0m33-5h0m11 0h0m12 1h0m13 1h0m10 0h0m12 2h0m11-2h0m11 1h0m-198 8h0m12 0h0m12 1h0m11 2h0m11 1h0m9 1h0m12 0h0m11-2h0m10 1h0m24-2h0m10-2h0m12 1h0m12-1h0m12 1h0m13 1h0m11 2h0m10-1h0m11 0h0m-218 9h0m12-2h0m11 0h0m12 1h0m10 3h0m9 3h0m10 0h0m11-2h0m10 1h0m13-1h0m33-3h0m11 1h0m11-2h0m12-1h0m12 1h0m13 1h0m12 4h0m10-1h0m12 1h0m-231 8h0m12-2h0m11 0h0m13 2h0m12 2h0m8 2h0m9-1h0m10 0h0m11 0h0m13-2h0m46-3h0m11 2h0m11-1h0m11 0h0m13-2h0m14 3h0m10 3h0m10-1h0m11 0h0m-241 8h0m11-2h0m11 0h0m12 1h0m12 4h0m8 3h0m11-1h0m11-1h0m12 0h0m11 0h0m55-5h0m11 0h0m12 0h0m11 1h0m12-3h0m13 2h0m12 6h0m9-1h0m12 0h0m-240 7h0m12-2h0m11 0h0m11 5h0m9 3h0m11-2h0m10 0h0m12 0h0m11-1h0m66-3h0m13 1h0m11-1h0m11-1h0m11 0h0m15 2h0m10 3h0m11 0h0m11 1h0m9 0h0m-261 5h0m12 0h0m10-1h0m14 4h0m8 3h0m9 1h0m13-2h0m9-1h0m12 1h0m13-1h0m55-1h0m11-1h0m11-1h0m11 0h0m12-2h0m11 0h0m16 5h0m8 2h0m10 1h0m12 0h0m-264 5h0m11-1h0m11 1h0m13-1h0m11 6h0m11 0h0m9 1h0m11-2h0m13 0h0m9-1h0m69-3h0m12 0h0m9 0h0m13 0h0m11-2h0m12 1h0m11 6h0m12 0h0m10 1h0m10-2h0m-274 8h0m11-1h0m12-2h0m12 0h0m10 8h0m11-1h0m12 1h0m11-1h0m11 0h0m12-2h0m77-2h0m11-1h0m13 1h0m10-2h0m11 1h0m12-2h0m12 8h0m9 0h0m13 0h0m-264 6h0m12-2h0m9 1h0m11-1h0m12 7h0m11 0h0m13 0h0m10 0h0m12-1h0m10 0h0m69-5h0m10 0h0m13 2h0m10-3h0m10 0h0m11 0h0m12 8h0m12 0h0m9-1h0m13-1h0m-274 7h0m10-2h0m12 0h0m9 2h0m9 3h0m16 3h0m11-1h0m12 0h0m10-1h0m13 0h0m9 0h0m57-3h0m10-1h0m12 1h0m12-3h0m10 1h0m11 0h0m8 1h0m14 5h0m11-1h0m10 0h0m-263 7h0m12-1h0m11 1h0m9 0h0m13 5h0m12 2h0m12-1h0m11-1h0m13-2h0m11 2h0m67-4h0m11-1h0m12-1h0m10 1h0m12-1h0m7 1h0m11 6h0m14-1h0m10 1h0m12-1h0m-263 6h0m10 0h0m10 0h0m10 0h0m15 5h0m12 0h0m12-1h0m11 2h0m11-1h0m12-1h0m54-3h0m12 0h0m11-1h0m13 0h0m9-1h0m10 1h0m9 4h0m13 1h0m11-1h0m12 2h0m-251 5h0m9 1h0m12-1h0m9 2h0m12 4h0m14-1h0m13 0h0m10-1h0m11 1h0m11-1h0m45-4h0m12 2h0m12-2h0m10-1h0m11 1h0m9-1h0m11 5h0m12 1h0m10 1h0m13-2h0m-241 7h0m10-1h0m11 3h0m9 0h0m13 3h0m14 1h0m11-1h0m12 0h0m11-1h0m45-3h0m12 1h0m12-1h0m9-1h0m11 0h0m9 0h0m10 5h0m11 1h0m13 0h0m12-1h0m10-1h0m-240 7h0m10 2h0m11-1h0m11 0h0m11 4h0m14 2h0m12-3h0m12 1h0m11 1h0m9-1h0m25-2h0m11-1h0m10 0h0m11-1h0m11 0h0m9 1h0m10 3h0m13-1h0m12 0h0m11 0h0m-220 10h0m12-2h0m11 1h0m10 0h0m13 2h0m12 0h0m11 2h0m12 0h0m11 0h0m34-5h0m12 0h0m10-1h0m10 1h0m11 1h0m9 1h0m14 2h0m9-1h0m14 1h0m-209 8h0m13 0h0m9 1h0m12 0h0m10 1h0m11 1h0m12-1h0m13 1h0m11 0h0m23-3h0m11 0h0m9 1h0m11 0h0m10 0h0m12 0h0m12 1h0m12 1h0m11-1h0m-196 10h0m12 0h0m9-1h0m13 0h0m10 2h0m11 0h0m13 0h0m11 1h0m33-2h0m10-1h0m13 2h0m10 0h0m12 0h0m10 1h0m11 0h0m12-1h0m-172 10h0m11-1h0m10 0h0m11 1h0m13 0h0m11 1h0m43-1h0m13 1h0m10 0h0m11 1h0m13-2h0m10 2h0m-156 122h0m11-1h0m11 0h0m11-1h0m10 0h0m12-1h0m45 3h0m12-2h0m10 0h0m12 1h0m10-2h0m11 0h0m-172 13h0m10 2h0m12-2h0m11 1h0m11-1h0m10 0h0m12-1h0m13 0h0m33 2h0m10 0h0m12 0h0m10 0h0m11-3h0m11 1h0m13 0h0m10 0h0m-195 13h0m11 1h0m11-2h0m11 1h0m11-2h0m12-1h0m12 1h0m11-1h0m12 0h0m22 3h0m11 0h0m9 0h0m12-1h0m10-1h0m11 0h0m12 0h0m13 0h0m11 0h0m-207 15h0m10-2h0m11 0h0m10-1h0m11 0h0m12-1h0m14-1h0m12 0h0m12 1h0m32 2h0m11 1h0m11 1h0m10 0h0m10-1h0m12-2h0m12-1h0m10 0h0m12 0h0m11 0h0m-240 14h0m11 1h0m11 0h0m10-1h0m11-2h0m10-2h0m14 0h0m12-1h0m14 0h0m10 2h0m44 2h0m12 2h0m11-1h0m9 1h0m9 0h0m10-3h0m13-1h0m11-1h0m12 1h0m12 0h0m-242 15h0m13-1h0m9 1h0m12-3h0m12-3h0m12 0h0m14 2h0m9 0h0m13 1h0m10-2h0m34 4h0m11 0h0m12 1h0m12 1h0m8 0h0m10 0h0m11-5h0m12-1h0m11 0h0m12 0h0m10 2h0m-252 15h0m12 0h0m10 0h0m11-1h0m11-6h0m14 1h0m11 0h0m12 0h0m11 0h0m12 1h0m44 4h0m11-2h0m12 2h0m11 1h0m10-1h0m10 2h0m10-6h0m11-1h0m13 0h0m12 0h0m-252 17h0m9-1h0m11 1h0m11-1h0m13-5h0m13-1h0m12 1h0m10 1h0m11 1h0m12 0h0m55 4h0m13-2h0m11 1h0m10 1h0m12-1h0m9 2h0m10-6h0m12-1h0m12-1h0m10 3h0m-261 13h0m11 1h0m9 1h0m10 1h0m14-8h0m13 0h0m10 1h0m13 1h0m11 1h0m10 0h0m68 3h0m10-1h0m12 1h0m10 1h0m11 0h0m11 0h0m11-6h0m11-1h0m12 0h0m11 2h0m-263 15h0m11 1h0m10 2h0m8-5h0m17-4h0m10 1h0m13 0h0m10 1h0m11 0h0m11 1h0m57 4h0m11-2h0m10 1h0m11 0h0m12 2h0m12 1h0m8-1h0m14-6h0m10-1h0m12 0h0m-264 17h0m12 0h0m10 1h0m12 0h0m10-7h0m14 0h0m11 0h0m12 0h0m11 3h0m11 0h0m66 2h0m10 0h0m13 2h0m11 0h0m10 1h0m12-1h0m8-7h0m15-1h0m11 2h0m11 1h0m-263 15h0m10 2h0m11-2h0m12-6h0m12-1h0m11 1h0m11 0h0m12 2h0m9-1h0m79 3h0m11 3h0m11 0h0m12 1h0m11-1h0m12 1h0m12-7h0m10-1h0m12 2h0m10 0h0m-274 15h0m13 1h0m11 1h0m10-1h0m11-6h0m10 0h0m11-1h0m12 1h0m10 1h0m13 1h0m67 4h0m10 0h0m13 0h0m11 0h0m10 1h0m11-1h0m15-7h0m9 0h0m11 2h0m10-1h0m-263 17h0m13 0h0m12 0h0m13-3h0m8-3h0m11 0h0m9 0h0m12 0h0m12 1h0m11-1h0m55 5h0m11-1h0m12 2h0m11 0h0m12 1h0m11 0h0m15-5h0m9-1h0m11-1h0m11 0h0m-253 17h0m12 0h0m13-1h0m12-4h0m8-1h0m10 1h0m12 0h0m11 0h0m10-1h0m67 4h0m12 0h0m11 3h0m12-1h0m12 1h0m12-1h0m13-7h0m10 1h0m11 1h0m9-1h0m-262 16h0m13 0h0m12 1h0m11-1h0m11-4h0m9 0h0m9 0h0m13-1h0m9 2h0m12 0h0m55 3h0m14-1h0m11 2h0m9 0h0m14 1h0m14-3h0m10-4h0m11 1h0m10 0h0m-230 17h0m13-1h0m11-1h0m12-3h0m9-1h0m10 1h0m11 0h0m11-1h0m10 2h0m46 1h0m12 2h0m9-1h0m13 2h0m12 0h0m13-2h0m12-2h0m10-3h0m10 0h0m-218 16h0m12 0h0m12 0h0m11-3h0m9-2h0m11 0h0m10 2h0m11 0h0m12-1h0m33 4h0m11 0h0m12 2h0m10-1h0m15 0h0m11-1h0m13-3h0m9 1h0m12-2h0m-208 16h0m13 0h0m11-2h0m12 1h0m9-4h0m11 1h0m10-1h0m10 0h0m12 0h0m22 4h0m12 2h0m11 0h0m11 1h0m14-3h0m11-1h0m11 0h0m11-3h0m11 1h0m-197 13h0m12 0h0m12 1h0m12 0h0m11-1h0m9-2h0m11 0h0m10 0h0m36 5h0m9-2h0m13 0h0m12-1h0m12-1h0m11 1h0m9 0h0m12-1h0m-173 14h0m11-1h0m12 0h0m10-2h0m11 2h0m12-3h0m9 1h0m35 4h0m12-3h0m12 1h0m11-1h0m10-1h0m12 0h0m-141 12h0m12 0h0m12 1h0m10-1h0m56 0h0m11 1h0m12 0h0m11-2h0m-1363 268h0m12 0h0m10 1h0m12 0h0m10 0h0m13-1h0m9 1h0m12 0h0m10-1h0m13 0h0m10 0h0m12 2h0m11 0h0m-196 11h0m56-1h0m13-1h0m9 2h0m11 0h0m11 1h0m11 0h0m8 0h0m13-4h0m13 1h0m12 0h0m13 1h0m11 0h0m9 1h0m11 1h0m57-2h0m-209 11h0m12-2h0m12 0h0m11 2h0m11 2h0m12-1h0m10 1h0m21-4h0m12 2h0m13-1h0m11 0h0m13 4h0m9-2h0m11 2h0m55-3h0m-263 14h0m45-3h0m12-1h0m11 0h0m14 1h0m10 3h0m9 0h0m10 0h0m35-5h0m11 1h0m12 0h0m12 2h0m10 2h0m11 0h0m12-1h0m42-3h0m-262 14h0m45-3h0m13-1h0m10-1h0m13 3h0m12 3h0m9 2h0m11-2h0m10 0h0m24-3h0m11-3h0m12 1h0m12 1h0m12 5h0m10 1h0m9-2h0m11-1h0m46-3h0m-275 15h0m57-4h0m11-1h0m10-1h0m15 5h0m8 2h0m12 0h0m9-1h0m35-5h0m12 0h0m11 0h0m13 2h0m8 5h0m12-2h0m11 0h0m56-4h0m-275 15h0m45-4h0m12 0h0m13 1h0m13 2h0m10 1h0m9 1h0m11 1h0m33-7h0m11 2h0m11-1h0m15 1h0m10 2h0m11 3h0m10 0h0m9-3h0m45-4h0m-276 16h0m48-2h0m10-2h0m13 0h0m14 1h0m9 4h0m11 0h0m8 0h0m14-1h0m32-5h0m11 0h0m13-1h0m13 3h0m12 1h0m8 3h0m12-1h0m53-3h0m-273 15h0m44-5h0m12 0h0m14-1h0m10 6h0m12 1h0m9 0h0m10-2h0m46-5h0m11 1h0m13-1h0m12 2h0m11 5h0m9-1h0m10 0h0m46-5h0m-264 14h0m44-1h0m11-3h0m10 1h0m14 5h0m11 2h0m12-1h0m11-1h0m33-3h0m11-2h0m13 0h0m11-2h0m6 7h0m14 2h0m11-1h0m47-6h0m-220 12h0m11 0h0m12-2h0m9 6h0m13 2h0m12-1h0m10-1h0m46-4h0m12-2h0m11 1h0m7 2h0m13 3h0m12 0h0m11 0h0m-217 11h0m43-2h0m10-3h0m12 1h0m12 6h0m12-1h0m13 0h0m10 0h0m33-5h0m11-1h0m12-1h0m9 0h0m12 7h0m11 0h0m11-1h0m45-2h0m-206 10h0m11-1h0m8 0h0m11 6h0m16-2h0m12 1h0m11 0h0m22-3h0m10-2h0m12-1h0m7 1h0m12 4h0m12 1h0m11-1h0m-150 9h0m9-2h0m12 1h0m10 3h0m16 0h0m11-1h0m12 1h0m12-1h0m9-2h0m12 0h0m7-1h0m10 4h0m13 1h0m13 0h0m-142 8h0m12-1h0m11 1h0m10 1h0m12 3h0m17-2h0m9-1h0m11-2h0m11-2h0m7 4h0m11 1h0m12 1h0m12-2h0m-117 11h0m10 0h0m11-1h0m11 0h0m10 1h0m13-1h0m11 1h0m11 1h0m11 1h0m12-2h0m-84 11h0m12 0h0m10-1h0m11 2h0m13 0h0m9 0h0m13 0h0m-67 118h0m10 0h0m12-2h0m10 0h0m12-1h0m12 2h0m10-2h0m-83 12h0m11 2h0m9-1h0m12-1h0m11 0h0m11 0h0m11-1h0m14 0h0m10 0h0m12 0h0m-118 14h0m12 1h0m9 0h0m10-1h0m13-4h0m17 2h0m11 1h0m10 2h0m8 0h0m10-2h0m11 0h0m12-3h0m11 1h0m-139 16h0m11-1h0m10-1h0m11-3h0m14-1h0m13 1h0m12 3h0m10 1h0m10-2h0m12 3h0m8-3h0m11-1h0m12 0h0m12 0h0m-151 15h0m9-1h0m10 1h0m12-5h0m15-2h0m12 3h0m33 2h0m11 1h0m10 2h0m10-2h0m9-4h0m14 0h0m11 1h0m-205 11h0m43 4h0m11 0h0m11-1h0m9-5h0m15 1h0m11 0h0m11 2h0m34 3h0m10 0h0m11 1h0m10-2h0m12-6h0m10 1h0m13 2h0m44 4h0m-217 10h0m10 0h0m11 1h0m12-5h0m12-1h0m11 2h0m11-1h0m45 4h0m11 2h0m11 0h0m8-2h0m14-6h0m12 3h0m10 0h0m-218 11h0m46 4h0m10 1h0m10 0h0m13-6h0m11 0h0m11 1h0m11-1h0m33 6h0m12 0h0m11 0h0m13 1h0m9-7h0m12 0h0m12 1h0m46 4h0m-265 8h0m45 4h0m11 1h0m13-1h0m12-4h0m9-2h0m11 0h0m12 1h0m43 4h0m11 1h0m15 0h0m11 0h0m12-6h0m8 1h0m10-1h0m46 6h0m-274 6h0m55 6h0m14 0h0m12-2h0m11-4h0m8-1h0m11 0h0m12 1h0m34 4h0m12 1h0m11 0h0m13-1h0m13-3h0m8-3h0m11 3h0m-219 11h0m44 3h0m13 2h0m11 0h0m13-4h0m10-1h0m11-2h0m10 2h0m10 0h0m35 4h0m12 2h0m13-2h0m11-4h0m10-1h0m11 1h0m10-1h0m45 3h0m-265 9h0m45 4h0m13 0h0m12 1h0m13-3h0m8-3h0m10 1h0m13 1h0m34 3h0m9 0h0m14 1h0m14-3h0m8-3h0m11-1h0m10 1h0m56 5h0m-275 8h0m45 3h0m12 0h0m13 0h0m12 1h0m10-5h0m10-1h0m10 0h0m35 5h0m10 0h0m13 1h0m11-1h0m13-3h0m9-2h0m12 2h0m10-1h0m45 3h0m-263 9h0m45 3h0m11 0h0m11 1h0m15-4h0m9-1h0m11 0h0m9 1h0m35 2h0m10 0h0m13 2h0m12-3h0m10-2h0m10 0h0m12 0h0m44 3h0m-208 12h0m14 0h0m11-2h0m12-2h0m9 1h0m10 0h0m10 0h0m22 3h0m14 1h0m12-1h0m12-1h0m11-1h0m11-2h0m10 0h0m55 4h0m-205 11h0m10-1h0m13-1h0m11 0h0m11-1h0m10-1h0m9 0h0m10 3h0m13 0h0m14 2h0m11-2h0m11-1h0m10 0h0m11-2h0m57 4h0m-197 10h0m13-1h0m12 0h0m10 0h0m12 0h0m9-1h0m12 1h0m11 0h0m11 1h0m12 1h0m11-1h0m11-2h0m11 1h0m-16 11h0m264-520h0m12 2h0m9 0h0m146-3h0m12 1h0m12 0h0m-196 12h0m10 0h0m12 1h0m11-1h0m134-1h0m12 0h0m12-1h0m10 1h0m-208 11h0m14 1h0m9 2h0m12-1h0m9 0h0m123-3h0m14-1h0m11 1h0m11 1h0m12 2h0m-231 8h0m13-1h0m10 3h0m11 2h0m11 0h0m11-1h0m9 1h0m114-4h0m10 1h0m12-2h0m14 2h0m10 0h0m11 3h0m10 0h0m-240 7h0m11 2h0m13 1h0m9 1h0m11 1h0m10-1h0m11 1h0m100-3h0m12-2h0m13-1h0m12 0h0m13 3h0m9 2h0m11 1h0m11 0h0m-251 6h0m11 0h0m12 1h0m11 5h0m9 0h0m12-1h0m9-1h0m112-3h0m12-1h0m12 1h0m11-2h0m13 3h0m10 3h0m12 1h0m-254 4h0m13 1h0m11 0h0m12 4h0m9 2h0m11 1h0m11-3h0m12-1h0m100-2h0m11-1h0m12 0h0m12-1h0m13 1h0m11 5h0m10 0h0m10 1h0m-264 4h0m11 2h0m12-3h0m15 4h0m8 4h0m10 1h0m13 0h0m11-3h0m11 1h0m89-4h0m10 0h0m12-2h0m12 1h0m11-1h0m14 5h0m9 3h0m11-2h0m11-1h0m-275 7h0m10 0h0m11-1h0m13 1h0m11 6h0m12 0h0m11 1h0m10-2h0m12 0h0m101-5h0m11 1h0m10-2h0m11 1h0m14-1h0m9 7h0m11-1h0m11 1h0m-263 5h0m10-1h0m13 1h0m7 1h0m13 5h0m12 2h0m11-2h0m12 0h0m11-2h0m91-2h0m11 0h0m11-2h0m11 0h0m10 0h0m10 6h0m13 2h0m11-2h0m11 0h0m-273 5h0m9 2h0m12-2h0m10 2h0m10 4h0m13 1h0m12 0h0m11 0h0m11-1h0m101-4h0m11-2h0m12 1h0m10-1h0m10 2h0m12 5h0m11 0h0m14 0h0m10-1h0m-275 5h0m11 2h0m10-1h0m10 2h0m11 2h0m14 2h0m12 0h0m10-1h0m113-5h0m11-1h0m11 0h0m9 1h0m10 2h0m15 3h0m10 0h0m12 1h0m-264 5h0m11 0h0m10 1h0m12 3h0m12 2h0m12-1h0m12 1h0m10-2h0m101-3h0m10-2h0m13 0h0m10 1h0m9 1h0m12 4h0m12 0h0m13 1h0m-264 5h0m11 1h0m10 1h0m10 0h0m12 3h0m12 0h0m13 1h0m12-2h0m111-3h0m11 0h0m10 0h0m10 0h0m10 1h0m14 3h0m12 1h0m-252 6h0m10 1h0m11 0h0m9 2h0m14 0h0m10 2h0m14 0h0m122-3h0m11-1h0m10 0h0m11 0h0m12 2h0m12 1h0m10 0h0m-251 6h0m11 3h0m9-1h0m12 4h0m13 0h0m10-1h0m13 0h0m123-3h0m9 0h0m11 0h0m12 2h0m12 0h0m11 2h0m-231 9h0m13 0h0m10 1h0m13 1h0m10-1h0m124-3h0m11 1h0m11-1h0m11 1h0m9 1h0m13 1h0m-219 11h0m13-1h0m10 0h0m157-2h0m12 1h0m10 1h0m-196 11h0m12 0h0m167-1h0m13 1h0m-191 140h0m10-2h0m168 3h0m12-2h0m-197 12h0m12 0h0m12-1h0m156 1h0m10 0h0m12 0h0m-207 13h0m10-3h0m13-1h0m11 1h0m12 0h0m133 3h0m13-1h0m9-1h0m12-2h0m12 2h0m-242 12h0m11 0h0m10 1h0m12-2h0m12-2h0m13 0h0m123 3h0m10 2h0m12-1h0m10-1h0m12-1h0m10 0h0m13-2h0m-252 14h0m9 3h0m12-3h0m12-2h0m10 0h0m13 0h0m11 0h0m124 4h0m9 1h0m12-3h0m10-1h0m11-2h0m13-1h0m11 0h0m-251 17h0m10 0h0m10-3h0m12-1h0m12 0h0m12-1h0m11 2h0m112 2h0m11 0h0m11 2h0m10-1h0m10-2h0m13-3h0m11 1h0m-251 16h0m9-1h0m12-1h0m10-2h0m13-2h0m11 0h0m13 0h0m10 0h0m102 5h0m10 0h0m12 2h0m10-1h0m9-2h0m13-3h0m10-1h0m13 0h0m-262 17h0m10 0h0m10-1h0m10-1h0m13-4h0m12 0h0m10 0h0m13 2h0m102 4h0m10 0h0m10 0h0m11-1h0m11 2h0m11-6h0m12-2h0m12 1h0m12 1h0m-274 16h0m10 0h0m12 1h0m8-2h0m12-5h0m12 0h0m13-1h0m12 2h0m11-1h0m99 6h0m11 0h0m12 1h0m11 0h0m8 0h0m11-7h0m15 0h0m11-1h0m11 2h0m-273 17h0m10-1h0m10 2h0m10-4h0m12-3h0m14 0h0m10 0h0m12 0h0m10-1h0m90 6h0m12 0h0m10 2h0m13-1h0m8 0h0m11-7h0m12-1h0m13 0h0m11 2h0m-274 17h0m11 1h0m11-2h0m13 2h0m11-9h0m9 2h0m11 0h0m13 1h0m9 1h0m101 3h0m13 0h0m10 0h0m12 1h0m12 1h0m11-7h0m9-2h0m12 1h0m11 0h0m-273 18h0m10 0h0m13 1h0m13-4h0m9-3h0m11-1h0m12 1h0m9-1h0m12 3h0m91 3h0m9 0h0m12 2h0m11 0h0m13 0h0m12-4h0m9-4h0m12 2h0m10-1h0m-262 16h0m10 0h0m14 0h0m11-4h0m9 0h0m11-2h0m12 1h0m11 0h0m99 5h0m12 1h0m13 0h0m10 1h0m15-2h0m9-4h0m10-1h0m12 0h0m-264 16h0m11 1h0m14 0h0m12-3h0m10-3h0m10-1h0m10 3h0m11-1h0m112 4h0m11 2h0m12-1h0m12-1h0m13-1h0m10-3h0m10 1h0m10-2h0m-261 16h0m11 2h0m13-1h0m11-5h0m10 1h0m10-1h0m11 0h0m10 2h0m102 2h0m12 0h0m11 0h0m11 2h0m14-3h0m10-3h0m9 0h0m-241 16h0m13 0h0m12-1h0m9-4h0m11-1h0m10 2h0m12-1h0m113 5h0m11 0h0m13 1h0m11-1h0m11-3h0m11 0h0m10-2h0m-240 15h0m12 1h0m11-2h0m11-2h0m10-1h0m12 1h0m123 2h0m10 2h0m12-2h0m13 1h0m9-3h0m-206 14h0m11-1h0m10-1h0m12 1h0m133 1h0m13 1h0m11-2h0m12 1h0m-198 11h0m11-1h0m13 0h0m146 2h0m11-2h0m10 1h0m279-576h0m12-2h0m11 1h0m11 0h0m13 0h0m11 0h0m10 1h0m-98 9h0m11 0h0m13-1h0m9 1h0m12 1h0m9 2h0m13 0h0m11 1h0m12-1h0m12 1h0m11 0h0m11-1h0m-119 8h0m12 0h0m10 3h0m12 0h0m11 0h0m11 0h0m11-2h0m11 2h0m12 0h0m11 0h0m-94 8h0m10 2h0m90 1h0m-104 11h0m-17 10h0m13 0h0m11 2h0m12 0h0m9-1h0m12 0h0m12 1h0m11-1h0m11 1h0m11-2h0m11 0h0m12 1h0m10 0h0m11 0h0m-152 9h0m12 1h0m12 1h0m13-1h0m10 0h0m12 1h0m11-1h0m10 0h0m11 0h0m12 2h0m11-1h0m11 1h0m12 0h0m9-1h0m10 1h0m-162 9h0m12-1h0m10 0h0m13 0h0m10 0h0m12 0h0m14 1h0m11 1h0m12 1h0m9 0h0m11 3h0m10-3h0m11 2h0m11 0h0m10 0h0m12 0h0m-173 6h0m10 1h0m11 1h0m11-1h0m11-1h0m12 1h0m11-1h0m11 0h0m16 1h0m9 5h0m9 0h0m10-2h0m11 1h0m11-1h0m11-2h0m12 3h0m-161 8h0m8 0h0m12-1h0m13 0h0m10-1h0m11 2h0m11 0h0m11 0h0m9 2h0m13 0h0m11 0h0m13 0h0m12 1h0m11-1h0m11-2h0m10 2h0m-138 9h0m10 0h0m11 2h0m10-1h0m12 0h0m22-2h0m12 2h0m9 0h0m14 1h0m12 0h0m-118 8h0m12 1h0m12 2h0m12 1h0m54-2h0m14 0h0m9 1h0m11 0h0m-128 9h0m12-1h0m11 0h0m11 2h0m13 0h0m10-1h0m12 1h0m10-1h0m11 0h0m13 1h0m9 0h0m10 2h0m13 0h0m10-1h0m-161 10h0m10-1h0m13 0h0m11-1h0m12-1h0m11 1h0m11 1h0m12 1h0m10 0h0m12 3h0m10-1h0m12 0h0m11-1h0m9 1h0m12-2h0m11 1h0m-174 8h0m11 2h0m13-1h0m10 0h0m11-1h0m12 1h0m11-1h0m12-1h0m12 3h0m10 5h0m11-2h0m12 1h0m11 0h0m12-1h0m10-1h0m11 1h0m11 0h0m-186 7h0m10-1h0m11 0h0m10 1h0m13 0h0m11-1h0m11 0h0m9 1h0m13 0h0m10 4h0m11 1h0m13 1h0m11-2h0m10 1h0m12 0h0m13-2h0m10 1h0m11 1h0m-184 6h0m11 1h0m10 1h0m12-1h0m10 0h0m11-1h0m12-1h0m10 0h0m11 2h0m12 4h0m11-1h0m11 0h0m12 0h0m11 1h0m11-1h0m11 0h0m14-1h0m-175 9h0m13 0h0m12-1h0m9 0h0m10 0h0m9 2h0m11-1h0m12 2h0m11 0h0m11 0h0m11 1h0m13 0h0m14 0h0m12 0h0m12-1h0m8 2h0m-173 6h0m14-1h0m10 4h0m11-4h0m7 2h0m13 3h0m10-2h0m13 0h0m10 2h0m11-3h0m11 2h0m10-2h0m12 2h0m16 2h0m11-3h0m10 2h0m12 1h0m-175 6h0m13-1h0m11 6h0m10 1h0m11-2h0m77-3h0m12 0h0m14 0h0m10 3h0m10 0h0m-174 8h0m11 0h0m11-2h0m15 7h0m9-2h0m12 0h0m66-1h0m11-3h0m12 2h0m10 4h0m10 0h0m-161 7h0m10-1h0m10 0h0m14 4h0m14-1h0m9 0h0m12 0h0m12 0h0m11-1h0m12-1h0m10 0h0m12 0h0m5 1h0m14 1h0m10 1h0m11 0h0m-152 7h0m13 0h0m11 2h0m10 1h0m12-1h0m10 1h0m12-1h0m11-1h0m11 0h0m12 2h0m9-1h0m14 0h0m12 1h0m-119 10h0m12 1h0m10 0h0m12 0h0m11-2h0m11 1h0m12 1h0m9-1h0m13 0h0m12 1h0m-74 11h0m11 1h0m11 0h0m12-1h0m11-1h0m-44 72h0m9 1h0m13 1h0m12-1h0m9-2h0m-72 12h0m11 2h0m11-2h0m10 2h0m13-2h0m11 1h0m10 0h0m11 0h0m13-1h0m12 0h0m-118 12h0m10 0h0m12 2h0m10-3h0m11 2h0m12-2h0m11 2h0m12-2h0m11 0h0m10 1h0m11-1h0m11 0h0m12 0h0m-150 14h0m10 1h0m11-1h0m11-2h0m16-2h0m11 1h0m11 1h0m12 0h0m11-1h0m10 2h0m13-1h0m11 1h0m7-3h0m9 1h0m14 0h0m10 0h0m-172 13h0m10 0h0m11 2h0m16-5h0m9 1h0m12 0h0m67 2h0m13 1h0m10 1h0m7-5h0m11 1h0m12 1h0m-171 13h0m11 1h0m11-4h0m10-1h0m10 2h0m79 2h0m12 2h0m12 0h0m11-6h0m10 1h0m-172 14h0m11 1h0m13-1h0m10 0h0m7 0h0m13-1h0m10 0h0m12 0h0m11 0h0m12-1h0m11 2h0m11 0h0m9-1h0m14-3h0m14 1h0m11-1h0m10 1h0m-174 14h0m12 0h0m11 2h0m12-2h0m8 2h0m10 0h0m12-4h0m10 0h0m12 1h0m11-1h0m11-1h0m14-1h0m11 0h0m14 2h0m10-1h0m9 1h0m-173 14h0m10-1h0m10 1h0m13 0h0m10 1h0m11 1h0m11-2h0m11 0h0m10-1h0m13-3h0m12 1h0m10 0h0m13-2h0m11 1h0m10 0h0m11 0h0m13 1h0m-184 15h0m9-1h0m11 0h0m13 0h0m11 2h0m10-2h0m10 2h0m11 0h0m11-1h0m13-5h0m10-2h0m13 2h0m11-1h0m10 0h0m13 2h0m11 0h0m11-1h0m13 2h0m-186 14h0m13-1h0m12 0h0m10 0h0m11 1h0m11-1h0m12 1h0m12 0h0m11 0h0m11-4h0m12-2h0m10 1h0m12 1h0m10-2h0m11 2h0m12 2h0m11-3h0m-172 15h0m9-1h0m12 0h0m12 1h0m11 1h0m13 0h0m10-1h0m13 0h0m11-1h0m10-2h0m10 1h0m11-2h0m12 1h0m11 1h0m11 1h0m10 0h0m-161 10h0m9 2h0m11 1h0m14-2h0m10 1h0m13-1h0m9-1h0m14 1h0m10 1h0m10-2h0m13 0h0m9-1h0m11 0h0m11 0h0m13 1h0m-142 15h0m11-1h0m12-3h0m11-1h0m55 2h0m13 2h0m10-3h0m11 1h0m-118 13h0m9 0h0m11-3h0m12 0h0m33 2h0m12-1h0m10 0h0m12-1h0m13-1h0m-142 16h0m11-1h0m12 0h0m10-1h0m13 1h0m9-1h0m11 0h0m12 1h0m11-1h0m11-1h0m12-1h0m11 0h0m12 1h0m11-1h0m11 2h0m11-2h0m-171 15h0m9 0h0m10-3h0m12 1h0m12 2h0m10 0h0m13 0h0m14 0h0m12-3h0m10-2h0m8 1h0m10 0h0m12 1h0m10-1h0m12 1h0m13 0h0m-163 14h0m12 0h0m11 0h0m12 0h0m12 1h0m12 0h0m11-2h0m12-1h0m12 0h0m11-1h0m9-1h0m11-2h0m13 2h0m9 0h0m11 0h0m11 0h0m-162 16h0m13-2h0m10 0h0m12 1h0m11 0h0m13-1h0m11 0h0m11-2h0m11 2h0m10-1h0m13-1h0m9 0h0m11 1h0m12-1h0m10 1h0m-151 12h0m12-1h0m10 1h0m12-2h0m12 2h0m10-1h0m13 0h0m10 1h0m11-1h0m11 1h0m11-1h0m13 1h0m11 0h0m10-1h0m-126 24h0m11-2h0m79 2h0m-94 11h0m10 0h0m11-1h0m10 1h0m12-1h0m11-1h0m10 1h0m12 1h0m11-1h0m14-2h0m10 2h0m-117 13h0m11 0h0m11 0h0m11 1h0m11-1h0m10-3h0m10 2h0m14-2h0m10 0h0m13 0h0m9-1h0m13 0h0m-93 15h0m13-1h0m11-1h0m11 0h0m11 0h0m11 1h0m11-1h0m294-586h0m10 1h0m133-3h0m13 1h0m-175 14h0m10 1h0m12-2h0m146-3h0m12-1h0m12 3h0m-197 13h0m9 0h0m180-4h0m12 0h0m-207 14h0m9 1h0m70-2h0m12 2h0m11-1h0m12-2h0m11 0h0m11 1h0m63 0h0m15-2h0m-220 16h0m11 0h0m46-3h0m12 1h0m11 0h0m12 2h0m9-2h0m12 0h0m10-1h0m14-1h0m9 1h0m13 2h0m10-1h0m43-1h0m11-2h0m11 0h0m-238 16h0m8 0h0m47-4h0m13 1h0m12 2h0m9 0h0m11 1h0m12 0h0m11-4h0m10-1h0m13 0h0m11 3h0m12 2h0m10 0h0m43-3h0m11-2h0m12 2h0m-262 15h0m9 0h0m12-1h0m46-5h0m11 2h0m13 2h0m11 0h0m11 1h0m10 1h0m10-4h0m11-2h0m12 2h0m13-1h0m11 1h0m11 4h0m10-1h0m44-4h0m12-1h0m-253 17h0m11 0h0m11-2h0m34-3h0m14-1h0m12 1h0m11 4h0m9 2h0m11-1h0m10-1h0m11-4h0m14 1h0m11-1h0m13 0h0m9 3h0m12 1h0m10 1h0m43-5h0m12 1h0m-262 16h0m11-2h0m10 0h0m33-4h0m13 0h0m12 1h0m13 1h0m8 3h0m10-1h0m13 0h0m23-4h0m9 1h0m13-1h0m14 2h0m9 4h0m11-1h0m9 0h0m34-5h0m12 1h0m12-1h0m-275 17h0m10 0h0m12-1h0m44-5h0m11 0h0m13 0h0m12 6h0m9 1h0m12-2h0m22-4h0m11-2h0m11 1h0m15 0h0m10 7h0m9-2h0m12 0h0m43-4h0m12-2h0m12 0h0m-274 17h0m10 0h0m11 1h0m34-4h0m12-2h0m10-1h0m15 6h0m7 1h0m11-1h0m11-1h0m24-4h0m10 0h0m12-2h0m13 3h0m11 6h0m9-1h0m11-1h0m35-4h0m11-1h0m9 1h0m-274 15h0m11 1h0m11-1h0m36-4h0m11-1h0m10-1h0m13 2h0m12 7h0m10-2h0m10 0h0m33-6h0m11 0h0m11-2h0m14 9h0m9-1h0m12 0h0m45-4h0m10-1h0m10-1h0m-273 18h0m13-1h0m9-2h0m35-2h0m12-1h0m13 1h0m12 3h0m8 2h0m11 0h0m11-2h0m21-4h0m13-1h0m13 0h0m12 2h0m12 3h0m8 2h0m10-2h0m34-3h0m10 0h0m11-2h0m-261 17h0m11-1h0m45-4h0m11-1h0m15 5h0m8 2h0m10 0h0m10 0h0m34-7h0m13 0h0m12 0h0m13 3h0m8 4h0m10-1h0m46-5h0m10-1h0m-251 18h0m11-2h0m45-5h0m9 1h0m14 6h0m10 2h0m10-3h0m12 1h0m23-5h0m12-2h0m10 1h0m12-2h0m9 9h0m13 0h0m45-5h0m12-2h0m-254 15h0m11 1h0m13-1h0m34-4h0m9-1h0m9 1h0m14 6h0m12-1h0m11 1h0m11-1h0m12-3h0m10-1h0m12 0h0m11-1h0m7 5h0m14 0h0m13 0h0m34-4h0m12 1h0m10-2h0m-252 16h0m11 0h0m12 0h0m12-1h0m11-1h0m10-1h0m10-1h0m9 3h0m15 4h0m11-2h0m11 0h0m13-3h0m10-3h0m11 2h0m10-3h0m8 4h0m14 3h0m13 0h0m12-2h0m11-2h0m10 0h0m10-2h0m11 2h0m-230 14h0m13-4h0m12 0h0m10 0h0m10 1h0m10-2h0m9 3h0m18 4h0m12-2h0m10 0h0m12-2h0m11-3h0m10 0h0m6 2h0m12 4h0m13 1h0m14-1h0m10-1h0m11 0h0m12-3h0m10-1h0m-217 15h0m9-4h0m12 2h0m10-2h0m11 1h0m10 0h0m11 1h0m15 3h0m13-1h0m11-2h0m12-1h0m9-3h0m8 5h0m12 1h0m12 0h0m12 1h0m12 0h0m11-1h0m10-4h0m-196 12h0m10 0h0m11 1h0m12 0h0m12 0h0m10-2h0m10 1h0m12 1h0m9 0h0m11 0h0m13 3h0m10-2h0m13 0h0m12 0h0m11 1h0m11 1h0m13-1h0m9 0h0m-171 9h0m10 0h0m11 0h0m12 0h0m10-1h0m10 2h0m11 0h0m10 1h0m13-1h0m10 0h0m12 1h0m11 1h0m13-2h0m10 2h0m13 0h0m-140 7h0m11 2h0m10 0h0m11-2h0m11 2h0m11 0h0m12 1h0m11 1h0m12 0h0m10-1h0m11-1h0m12 2h0m-96 8h0m12 2h0m10 0h0m12-1h0m13 2h0m11-1h0m11 1h0m-68 70h0m10 1h0m12 0h0m12-1h0m10-1h0m12 1h0m11-1h0m-96 12h0m12 0h0m10 1h0m12-1h0m10 1h0m13-1h0m10-1h0m11-1h0m13 1h0m10 0h0m13-1h0m10 0h0m-139 14h0m10 0h0m13-1h0m10 0h0m11 1h0m10 0h0m12-1h0m10 1h0m11-2h0m13-1h0m12 1h0m11 0h0m11 0h0m10-1h0m12 0h0m-174 13h0m12 3h0m12-2h0m10-1h0m11 1h0m12 0h0m9 0h0m11 0h0m10-1h0m13-1h0m11-1h0m10 0h0m13 1h0m11 0h0m13-1h0m10 2h0m13-1h0m11 3h0m-195 9h0m9 1h0m12 1h0m11 1h0m10 0h0m12 0h0m8-2h0m17-3h0m12 2h0m13 1h0m10 0h0m10 4h0m7-6h0m11-1h0m12 1h0m12 0h0m11 0h0m12-1h0m12 4h0m-218 9h0m9-2h0m12 4h0m12 0h0m11 0h0m12 1h0m8 0h0m11-4h0m14-2h0m13 2h0m12 0h0m11 2h0m10 3h0m12 1h0m5-2h0m12-6h0m15 2h0m10-1h0m12 0h0m12 2h0m9 2h0m-227 9h0m9 0h0m14 0h0m12 0h0m11 2h0m9 2h0m10-1h0m9-3h0m16-2h0m11 0h0m11 2h0m13 1h0m8 2h0m11 1h0m11 1h0m9-7h0m12 1h0m12-1h0m15 2h0m10 2h0m11-1h0m11 2h0m-230 7h0m11 1h0m33 3h0m9 2h0m11-2h0m12-7h0m12 2h0m12 1h0m32 4h0m13 1h0m11 0h0m8-4h0m13-3h0m14 1h0m33 4h0m11 0h0m11 1h0m-263 7h0m10 1h0m13-1h0m44 6h0m10 0h0m13-7h0m11-1h0m11 1h0m11 1h0m23 5h0m9 0h0m14 2h0m10 0h0m10-8h0m11 0h0m45 5h0m12 0h0m-251 7h0m10 0h0m44 4h0m15 3h0m13-5h0m8-2h0m9-2h0m11 2h0m34 5h0m11 2h0m12-1h0m16-4h0m8-3h0m8 0h0m36 5h0m9 1h0m13 0h0m-264 5h0m12 2h0m12 0h0m33 4h0m12 0h0m14-1h0m11-3h0m8-2h0m10 0h0m11 0h0m24 5h0m9 1h0m13 2h0m14-3h0m11-3h0m8-3h0m11 3h0m34 4h0m12-1h0m11 0h0m-265 8h0m12 0h0m46 4h0m11 1h0m11 1h0m11-9h0m11 1h0m12 1h0m33 6h0m10 0h0m12 1h0m13-9h0m10 1h0m11 0h0m10 3h0m34 3h0m12 0h0m-264 6h0m11 1h0m11 0h0m34 4h0m11 2h0m14-1h0m12-3h0m10-3h0m10 0h0m12 0h0m22 7h0m11 0h0m12-1h0m13-1h0m9-6h0m10 1h0m11 1h0m34 3h0m10 2h0m14-1h0m-275 7h0m11 1h0m11 0h0m46 4h0m10 1h0m14-1h0m10-5h0m11-2h0m9 2h0m11 1h0m11 2h0m11 1h0m14 2h0m10 0h0m13-6h0m9-1h0m11-1h0m46 7h0m9-1h0m11 2h0m-273 4h0m11 2h0m11 0h0m33 3h0m14 1h0m12 0h0m11-2h0m9-4h0m12 0h0m10 0h0m22 6h0m11-1h0m13 1h0m14-2h0m10-4h0m8 1h0m11 1h0m34 4h0m12-1h0m11 2h0m-263 5h0m10 1h0m10 0h0m37 3h0m12 1h0m11-1h0m12-3h0m10 0h0m10-1h0m11 0h0m11 5h0m11 0h0m11 0h0m14-1h0m11-3h0m10-2h0m10 2h0m45 5h0m12-1h0m-252 6h0m9 2h0m48 2h0m12 1h0m11-3h0m10-1h0m12 0h0m9 0h0m9-1h0m14 4h0m11 0h0m12 1h0m13-2h0m10-3h0m9 1h0m45 3h0m11 0h0m-239 8h0m9 0h0m48 4h0m10 0h0m13-2h0m10-1h0m10-2h0m11 1h0m11 4h0m12-1h0m11 1h0m14-1h0m11-2h0m9-1h0m44 3h0m10 0h0m11 1h0m-251 7h0m12 0h0m9 0h0m48 3h0m10 0h0m12-3h0m11 1h0m12 0h0m12 2h0m10 0h0m11 1h0m11-2h0m12-2h0m11 0h0m43 5h0m10-1h0m-217 8h0m10 0h0m58 2h0m11 0h0m13 0h0m10-1h0m12 0h0m9 1h0m13 0h0m10-1h0m55 1h0m11 2h0m-207 6h0m11 1h0m179 2h0m13 0h0m-196 10h0m9-2h0m11 1h0m146 4h0m12-1h0m13 0h0m-174 10h0m12-1h0m133 2h0m13 0h0" stroke-opacity="0.85" stroke-width="4.6"/></g>
<rect x="1264.0" y="62.5" width="172.0" height="328.1" fill="none" stroke="#0000ff" stroke-width="4.2" stroke-linejoin="round"/>
<rect x="1469.2" y="62.5" width="171.8" height="327.7" fill="none" stroke="#006400" stroke-width="4.2" stroke-linejoin="round"/>
<rect x="1672.7" y="62.3" width="172.6" height="328.1" fill="none" stroke="#00ff00" stroke-width="4.2" stroke-linejoin="round"/>
<rect x="1876.0" y="62.3" width="172.0" height="328.1" fill="none" stroke="#a52a2a" stroke-width="4.2" stroke-linejoin="round"/>
<rect x="1266.4" y="461.3" width="171.2" height="330.5" fill="none" stroke="#a0522d" stroke-width="4.2" stroke-linejoin="round"/>
<rect x="1470.0" y="461.0" width="171.3" height="330.8" fill="none" stroke="#9370db" stroke-width="4.2" stroke-linejoin="round"/>
<rect x="1673.2" y="461.2" width="171.2" height="330.6" fill="none" stroke="#ff8c00" stroke-width="4.2" stroke-linejoin="round"/>
<rect x="1869.0" y="461.0" width="171.5" height="330.8" fill="none" stroke="#4682b4" stroke-width="4.2" stroke-linejoin="round"/>
<g fill="#0000ff"><text x="1271" y="46.5" font-size="48" font-weight="normal">(</text><text x="1298.5" y="46.5" font-size="44" font-weight="bold" text-anchor="middle">1</text><text x="1326" y="46.5" font-size="48" font-weight="normal" text-anchor="end">)</text></g><text x="1364.5" y="42.2" font-size="40" font-weight="bold">d</text><text x="1390" y="27.700000000000003" font-size="27" font-family="DejaVu Serif">⊥</text><text x="1389.5" y="51.900000000000006" font-size="29"><tspan font-style="italic">e</tspan>1,2</text>
<g fill="#006400"><text x="1469" y="46.5" font-size="48" font-weight="normal">(</text><text x="1493.5" y="46.5" font-size="44" font-weight="bold" text-anchor="middle">2</text><text x="1518" y="46.5" font-size="48" font-weight="normal" text-anchor="end">)</text></g><text x="1575" y="42" font-size="40" font-weight="bold">d</text><text x="1601" y="28" font-size="40">‖</text><text x="1600" y="51.7" font-size="29"><tspan font-style="italic">e</tspan>0,1</text>
<g fill="#00ff00"><text x="1669" y="45.5" font-size="48" font-weight="normal">(</text><text x="1693.0" y="45.5" font-size="44" font-weight="bold" text-anchor="middle">3</text><text x="1717" y="45.5" font-size="48" font-weight="normal" text-anchor="end">)</text><text x="1722" y="53.0" font-size="36" font-weight="bold">1</text></g><text x="1771.5" y="42" font-size="40" font-weight="bold">d</text><text x="1797" y="27.5" font-size="27" font-family="DejaVu Serif">⊥</text><text x="1796.5" y="51.7" font-size="29"><tspan font-style="italic">e</tspan>0,3</text>
<g fill="#a52a2a"><text x="1876.5" y="46" font-size="48" font-weight="normal">(</text><text x="1901.0" y="46" font-size="44" font-weight="bold" text-anchor="middle">3</text><text x="1925.5" y="46" font-size="48" font-weight="normal" text-anchor="end">)</text><text x="1929.5" y="53.5" font-size="36" font-weight="bold">2</text></g><text x="1978" y="40.5" font-size="40" font-weight="bold">d</text><text x="2003.5" y="26.0" font-size="27" font-family="DejaVu Serif">⊥</text><text x="2003.2" y="50.2" font-size="29"><tspan font-style="italic">e</tspan>2,1</text>
<g fill="#a0522d"><text x="1272.5" y="445.5" font-size="48" font-weight="normal" stroke="#a0522d" stroke-width="0.6">(</text><text x="1300.0" y="445.5" font-size="44" font-weight="bold" text-anchor="middle">4</text><text x="1327.5" y="445.5" font-size="48" font-weight="normal" text-anchor="end" stroke="#a0522d" stroke-width="0.6">)</text></g><text x="1367.5" y="442.4" font-size="40" font-weight="bold">d</text><text x="1393.5" y="427.9" font-size="27" font-family="DejaVu Serif">⊥</text><text x="1392.7" y="452.09999999999997" font-size="29"><tspan font-style="italic">e</tspan>1,8</text>
<g fill="#9370db"><text x="1474" y="446.8" font-size="48" font-weight="normal" stroke="#9370db" stroke-width="0.6">(</text><text x="1501.2" y="446.8" font-size="44" font-weight="bold" text-anchor="middle">5</text><text x="1528.5" y="446.8" font-size="48" font-weight="normal" text-anchor="end" stroke="#9370db" stroke-width="0.6">)</text></g><text x="1571.5" y="442.4" font-size="40" font-weight="bold">d</text><text x="1596.5" y="427.9" font-size="27" font-family="DejaVu Serif">⊥</text><text x="1596" y="452.09999999999997" font-size="29"><tspan font-style="italic">e</tspan>3,1</text>
<g fill="#ff8c00"><text x="1681.5" y="447.3" font-size="48" font-weight="normal" stroke="#ff8c00" stroke-width="0.6">(</text><text x="1709.0" y="447.3" font-size="44" font-weight="bold" text-anchor="middle">6</text><text x="1736.5" y="447.3" font-size="48" font-weight="normal" text-anchor="end" stroke="#ff8c00" stroke-width="0.6">)</text></g><text x="1756.5" y="442.9" font-size="40" font-weight="bold">d</text><text x="1782" y="428.4" font-size="27" font-family="DejaVu Serif">⊥</text><text x="1781.5" y="452.59999999999997" font-size="29"><tspan font-style="italic">e</tspan>1,12</text>
<g fill="#4682b4"><text x="1877.5" y="447.8" font-size="48" font-weight="normal" stroke="#4682b4" stroke-width="0.6">(</text><text x="1905.0" y="447.8" font-size="44" font-weight="bold" text-anchor="middle">7</text><text x="1932.5" y="447.8" font-size="48" font-weight="normal" text-anchor="end" stroke="#4682b4" stroke-width="0.6">)</text></g><text x="1954.8" y="442.9" font-size="40" font-weight="bold">d</text><text x="1980.2" y="428.4" font-size="27" font-family="DejaVu Serif">⊥</text><text x="1979.3" y="452.59999999999997" font-size="29"><tspan font-style="italic">e</tspan>1,14</text>
<g><path d="M1169.2 101.3V72" stroke="#ff0000" stroke-width="2.8"/><path d="M1169.2 53.2L1161.4 74.6Q1169.2 71 1177 74.6Z" fill="#ff0000"/><path d="M1169.2 101.3H1210" stroke="#000" stroke-width="1.6"/><path d="M1227.8 101.3L1207.7 94.8Q1212 101.3 1207.7 107.8Z" fill="#000"/><circle cx="1169.2" cy="101.3" r="2.2" fill="#000"/><text x="1175.5" y="51.8" font-size="40" font-weight="bold" fill="#ff0000">E</text><text x="1204" y="57.5" font-size="26" font-style="italic" fill="#ff0000">i</text><text x="1197.5" y="134.6" font-size="39" font-weight="bold">k</text><text x="1220.5" y="140.7" font-size="26" font-style="italic">i</text><text x="1167.5" y="159" font-size="47" font-style="italic" fill="#8b0000" textLength="21" lengthAdjust="spacingAndGlyphs">z</text><path d="M1195 299.6V166" stroke="#8b0000" stroke-width="2.4"/><path d="M1195 152.8L1189 169.5Q1195 166.5 1201 169.5Z" fill="#8b0000"/><path d="M1195 299.6H1236" stroke="#000" stroke-width="1.8"/><path d="M1250.2 299.6L1233.5 293.6Q1237 299.6 1233.5 305.6Z" fill="#000"/><circle cx="1195" cy="299.6" r="15" fill="none" stroke="#ffa500" stroke-width="1.8" stroke-dasharray="5.5 3.5"/><path d="M1190 294.6l10 10M1200 294.6l-10 10" stroke="#ffa500" stroke-width="1.8"/><text x="1154" y="303.5" font-size="44" font-style="italic" fill="#ffa500">y</text><text x="1218.5" y="331" font-size="46" font-style="italic">x</text><text x="1224" y="181.5" font-size="28" font-style="italic" textLength="21" lengthAdjust="spacingAndGlyphs">R</text><path d="M1224 187.3H1245.5" stroke="#000" stroke-width="1.2"/><text x="1235" y="211" font-size="26" text-anchor="middle">4</text><path d="M1230.4 212.7H1260.7M1230.4 236H1260.7" stroke="#111" stroke-width="1.3"/><path d="M1252.5 182V202" stroke="#000" stroke-width="1.2"/><path d="M1252.5 212.7L1248 199.4H1257Z" fill="#000"/><path d="M1252.5 267V246" stroke="#000" stroke-width="1.2"/><path d="M1252.5 236L1248 249.5H1257Z" fill="#000"/></g>
<rect x="1237.8" y="800.3" width="199.9" height="20.5" fill="url(#cbg)"/>
<rect x="1237.8" y="800.3" width="199.9" height="20.5" fill="none" stroke="#333" stroke-width="0.8"/>
<path d="M1287.3 820.8v-2.5M1337.3 820.8v-2.5M1387.2 820.8v-2.5" stroke="#333" stroke-width="0.8"/>
<text x="1238" y="851.5" font-size="42" font-weight="bold" text-anchor="middle">0</text>
<text x="1440" y="851" font-size="42" font-weight="bold" text-anchor="middle">1</text>
</svg>
</body></html>
